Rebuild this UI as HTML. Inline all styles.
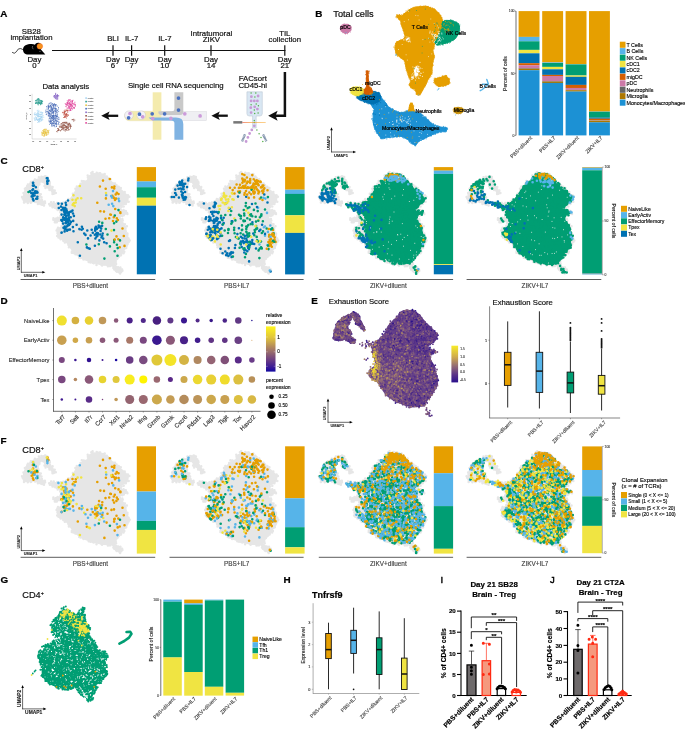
<!DOCTYPE html>
<html><head><meta charset="utf-8"><title>Figure</title>
<style>html,body{margin:0;padding:0;background:#fff}svg{display:block}text{font-family:"Liberation Sans",Arial,sans-serif}</style>
</head><body>
<svg width="685" height="729" viewBox="0 0 685 729">
<rect width="685" height="729" fill="#fff"/>
<g id="pA"><text x="0.3" y="17.1" font-size="9.90" text-anchor="start" font-weight="bold" fill="#000"  stroke="#000" stroke-width="0.24">A</text><path d="M12.1 52.3 q2.2 2.2 4.2 -0.5 q2 -4.2 4.5 -3.2 q1.6 0.6 2.6 1.5" fill="none" stroke="#000" stroke-width="0.7"/><path d="M23 49.5 c0 -4 4 -5.6 8.5 -5.6 c1.5 0 2.6 0.3 3.4 0.8 c0.6 -1.4 2 -2.2 3.6 -2 c1.6 0.2 2.6 1.2 2.8 2.6 c0.5 1.5 0.2 3 -0.6 4 l4.6 5.3 l-17 0 c-3.4 0 -5.3 -2.2 -5.3 -5.1z" fill="#000"/><circle cx="39.8" cy="46.3" r="2.8" fill="#F7941D" stroke="#F26522" stroke-width="0.5"/><circle cx="40" cy="51.2" r="0.45" fill="#fff"/><path d="M32.6 46 q-0.8 1.5 0.6 3.2" stroke="#fff" stroke-width="0.35" fill="none"/><text x="31.3" y="33.8" font-size="7.80" text-anchor="middle" font-weight="normal" fill="#111"  stroke="#111" stroke-width="0.19">SB28</text><text x="31.5" y="40.3" font-size="7.80" text-anchor="middle" font-weight="normal" fill="#111"  stroke="#111" stroke-width="0.19">implantation</text><line x1="52.0" y1="50.5" x2="285.4" y2="50.5" stroke="#111" stroke-width="1.15" /><line x1="113.0" y1="45.2" x2="113.0" y2="55.8" stroke="#111" stroke-width="1.20" /><line x1="131.6" y1="45.2" x2="131.6" y2="55.8" stroke="#111" stroke-width="1.20" /><line x1="164.7" y1="45.2" x2="164.7" y2="55.8" stroke="#111" stroke-width="1.20" /><line x1="211.0" y1="45.2" x2="211.0" y2="55.8" stroke="#111" stroke-width="1.20" /><line x1="284.8" y1="45.2" x2="284.8" y2="55.8" stroke="#111" stroke-width="1.20" /><text x="34.4" y="62.0" font-size="7.80" text-anchor="middle" font-weight="normal" fill="#111"  stroke="#111" stroke-width="0.19">Day</text><text x="34.4" y="68.3" font-size="7.80" text-anchor="middle" font-weight="normal" fill="#111"  stroke="#111" stroke-width="0.19">0</text><text x="113.0" y="62.0" font-size="7.80" text-anchor="middle" font-weight="normal" fill="#111"  stroke="#111" stroke-width="0.19">Day</text><text x="113.0" y="68.3" font-size="7.80" text-anchor="middle" font-weight="normal" fill="#111"  stroke="#111" stroke-width="0.19">6</text><text x="131.6" y="62.0" font-size="7.80" text-anchor="middle" font-weight="normal" fill="#111"  stroke="#111" stroke-width="0.19">Day</text><text x="131.6" y="68.3" font-size="7.80" text-anchor="middle" font-weight="normal" fill="#111"  stroke="#111" stroke-width="0.19">7</text><text x="164.7" y="62.0" font-size="7.80" text-anchor="middle" font-weight="normal" fill="#111"  stroke="#111" stroke-width="0.19">Day</text><text x="164.7" y="68.3" font-size="7.80" text-anchor="middle" font-weight="normal" fill="#111"  stroke="#111" stroke-width="0.19">10</text><text x="211.0" y="62.0" font-size="7.80" text-anchor="middle" font-weight="normal" fill="#111"  stroke="#111" stroke-width="0.19">Day</text><text x="211.0" y="68.3" font-size="7.80" text-anchor="middle" font-weight="normal" fill="#111"  stroke="#111" stroke-width="0.19">14</text><text x="284.8" y="62.0" font-size="7.80" text-anchor="middle" font-weight="normal" fill="#111"  stroke="#111" stroke-width="0.19">Day</text><text x="284.8" y="68.3" font-size="7.80" text-anchor="middle" font-weight="normal" fill="#111"  stroke="#111" stroke-width="0.19">21</text><text x="113.0" y="41.4" font-size="7.80" text-anchor="middle" font-weight="normal" fill="#111"  stroke="#111" stroke-width="0.19">BLI</text><text x="131.6" y="41.4" font-size="7.80" text-anchor="middle" font-weight="normal" fill="#111"  stroke="#111" stroke-width="0.19">IL-7</text><text x="164.9" y="41.4" font-size="7.80" text-anchor="middle" font-weight="normal" fill="#111"  stroke="#111" stroke-width="0.19">IL-7</text><text x="211.4" y="35.7" font-size="7.80" text-anchor="middle" font-weight="normal" fill="#111"  stroke="#111" stroke-width="0.19">Intratumoral</text><text x="211.4" y="42.2" font-size="7.80" text-anchor="middle" font-weight="normal" fill="#111"  stroke="#111" stroke-width="0.19">ZIKV</text><text x="284.8" y="35.7" font-size="7.80" text-anchor="middle" font-weight="normal" fill="#111"  stroke="#111" stroke-width="0.19">TIL</text><text x="284.8" y="42.2" font-size="7.80" text-anchor="middle" font-weight="normal" fill="#111"  stroke="#111" stroke-width="0.19">collection</text><path d="M284.9 72 V115.8 H275" fill="none" stroke="#111" stroke-width="2.5"/><polygon points="268.2,115.7 277.6,110.7 275.6,115.7 277.6,120.7" fill="#111"/><text x="252.8" y="81.3" font-size="7.80" text-anchor="middle" font-weight="normal" fill="#111"  stroke="#111" stroke-width="0.19">FACsort</text><text x="252.8" y="87.6" font-size="7.80" text-anchor="middle" font-weight="normal" fill="#111"  stroke="#111" stroke-width="0.19">CD45-hi</text><path d="M246.9 91.8 h15.4 v21.8 q0 2.4 -2.4 2.4 h-3.7 v12 h-3.6 v-12 h-3.3 q-2.4 0 -2.4 -2.4z" fill="#D9E7F3" stroke="#B4C0CE" stroke-width="0.5"/><path d="M251.4 96.7h0M258.1 96.0h0M251.1 100.9h0M254.3 100.9h0M257.4 100.9h0M254.7 106.8h0M250.8 107.7h0M257.4 109.1h0M251.1 112.6h0M254.3 125.8h0" stroke="#C79AD6" stroke-width="2.80" stroke-linecap="round" fill="none" /><path d="M251.1 93.1h0M255.8 93.1h0M254.9 97.0h0M251.1 104.7h0M256.2 103.9h0M258.4 105.8h0M254.3 110.1h0M258.1 113.1h0M254.7 113.4h0M254.3 120.4h0M254.3 122.6h0" stroke="#55B04A" stroke-width="1.50" stroke-linecap="round" fill="none" /><rect x="233.3" y="121.1" width="9.0" height="2.5" fill="#777" /><defs><linearGradient id="las" x1="0" x2="1"><stop offset="0" stop-color="#E8452C"/><stop offset="0.4" stop-color="#F7941D"/><stop offset="1" stop-color="#FBB040"/></linearGradient></defs><rect x="242.3" y="122" width="23.4" height="0.6" fill="url(#las)"/><path d="M251.8 129.9h0M249.6 133.5h0M247.9 137.4h0M246.1 141.5h0" stroke="#C79AD6" stroke-width="2.80" stroke-linecap="round" fill="none" /><path d="M256.9 129.9h0M259.1 133.8h0M261.0 137.6h0M262.8 141.5h0" stroke="#55B04A" stroke-width="1.50" stroke-linecap="round" fill="none" /><line x1="244.9" y1="134.4" x2="242.1" y2="141.4" stroke="#6F84A0" stroke-width="2.3" stroke-dasharray="0.9 0.45"/><line x1="263.1" y1="134.4" x2="266.4" y2="141.4" stroke="#6F84A0" stroke-width="2.3" stroke-dasharray="0.9 0.45"/><polygon points="211.4,115.7 219.8,111.4 218.0,115.7 219.8,120.0" fill="#111"/><line x1="216.4" y1="115.7" x2="227.8" y2="115.7" stroke="#111" stroke-width="2.30" /><text x="175.8" y="88.4" font-size="7.80" text-anchor="middle" font-weight="normal" fill="#111"  stroke="#111" stroke-width="0.19">Single cell RNA sequencing</text><rect x="158.8" y="111.3" width="47.9" height="9.5" fill="#EFEFF3" stroke="#D0D0D6" stroke-width="0.35"/><path d="M129.3 111.3 H156 V120.8 H129.3 A4.75 4.75 0 0 1 129.3 111.3z" fill="#F4EBAE" stroke="#D8D2A8" stroke-width="0.3"/><rect x="152.7" y="92.3" width="8.7" height="47.4" fill="#F4EBAE" /><path d="M174.4 92.3 H183.3 V112 Q183.3 115 180 115 H160 Q157.5 113.2 158.5 111.3 H172 Q174.4 111.3 174.4 109z" fill="#C9C9C9"/><path d="M174.4 139.7 V123 Q174.4 120.4 171 120.4 H153 Q149.5 119 148.6 117.6 H176 Q183.3 117.6 183.3 124 V139.7z" fill="#80B3E2"/><circle cx="128.9" cy="115.2" r="4.3" fill="#F4F2F6" stroke="#B8B8C0" stroke-width="0.35"/><circle cx="141.3" cy="115.2" r="4.3" fill="#F4F2F6" stroke="#B8B8C0" stroke-width="0.35"/><path d="M178.5 98.1h0M178.5 110.1h0M164.6 113.8h0M152.2 113.8h0M139.5 114.2h0M128.6 117.8h0" stroke="#4A72C0" stroke-width="3.70" stroke-linecap="round" fill="none" /><path d="M130.0 113.5h0M142.7 116.8h0M152.7 118.6h0M170.9 118.3h0M184.8 113.8h0M200.1 115.9h0" stroke="#CC9BDA" stroke-width="3.70" stroke-linecap="round" fill="none" /><polygon points="101.2,115.8 109.6,111.5 107.8,115.8 109.6,120.1" fill="#111"/><line x1="106.2" y1="115.8" x2="118.2" y2="115.8" stroke="#111" stroke-width="2.30" /><text x="65.8" y="88.8" font-size="7.80" text-anchor="middle" font-weight="normal" fill="#111"  stroke="#111" stroke-width="0.19">Data analysis</text><line x1="32.1" y1="93.8" x2="32.1" y2="139.0" stroke="#999" stroke-width="0.30" /><line x1="32.1" y1="139.0" x2="76.6" y2="139.0" stroke="#999" stroke-width="0.30" /><path d="M36.8 102.5h0M36.4 102.1h0M37.0 99.9h0M41.5 103.4h0M42.2 101.2h0M39.0 102.1h0M39.8 103.3h0M35.5 103.0h0M35.9 102.0h0M42.7 101.5h0M38.3 103.3h0M39.3 99.7h0M42.3 101.1h0M41.1 100.7h0M41.4 102.8h0M41.0 102.7h0M40.1 103.0h0M39.0 100.6h0M40.3 104.8h0M40.5 103.5h0M41.8 101.9h0M39.7 103.4h0M41.8 104.1h0M39.1 100.3h0M41.1 103.6h0M37.7 103.3h0M36.0 100.6h0M41.6 100.5h0M38.9 99.3h0M40.7 100.3h0M42.3 103.2h0M38.6 104.8h0M40.4 104.5h0M35.7 100.6h0M40.3 101.3h0M38.4 102.4h0M37.5 101.9h0M41.5 101.2h0M39.9 102.3h0M38.3 98.8h0M35.5 103.3h0M41.1 102.3h0M38.8 98.5h0M37.7 103.7h0M36.4 103.1h0M37.1 100.3h0M41.9 103.1h0M38.6 99.6h0M36.3 103.3h0M41.3 102.4h0M37.6 99.3h0M38.7 102.6h0M39.6 102.8h0M35.6 103.4h0M39.8 103.2h0M40.2 100.5h0M40.8 103.1h0M38.0 98.9h0M37.4 102.7h0M37.0 100.8h0M41.2 101.7h0M39.2 101.2h0M37.9 104.7h0M38.6 101.8h0M39.0 102.1h0M37.3 99.3h0M38.2 100.7h0M41.1 101.9h0M38.5 103.3h0M36.2 100.3h0" stroke="#2A9D8F" stroke-width="0.84" stroke-linecap="round" fill="none" /><path d="M57.4 95.7h0M57.1 97.2h0M55.6 97.4h0M57.9 95.5h0M55.8 93.3h0M57.9 98.9h0M54.0 96.3h0M57.6 95.2h0M54.3 95.5h0M56.7 95.6h0M55.5 98.7h0M54.6 95.7h0M58.2 95.6h0M56.7 98.8h0M55.6 94.4h0M56.3 97.3h0M57.5 98.9h0M55.3 95.7h0M56.6 96.0h0M54.3 97.7h0M56.0 95.7h0M58.8 95.9h0M57.9 97.0h0M55.4 96.9h0M57.2 95.8h0M56.8 97.2h0M55.7 98.4h0M57.7 97.9h0M54.7 96.2h0M55.8 96.5h0M55.6 94.4h0M57.1 94.8h0M57.3 96.1h0M57.1 99.1h0M56.6 98.9h0M57.3 94.6h0M55.0 97.7h0M55.6 93.7h0M53.8 96.2h0M56.8 96.9h0M54.7 95.6h0M57.4 96.6h0M57.8 96.3h0M54.2 97.2h0M54.9 96.1h0" stroke="#8B6BC8" stroke-width="0.84" stroke-linecap="round" fill="none" /><path d="M69.0 100.4h0M70.2 101.9h0M70.3 104.7h0M68.8 99.8h0M68.0 102.8h0M70.0 110.1h0M72.0 101.6h0M68.8 100.1h0M69.9 104.2h0M72.8 105.0h0M70.7 110.4h0M68.0 101.5h0M74.1 104.6h0M70.5 104.7h0M70.4 108.5h0M69.4 106.8h0M67.4 103.8h0M74.3 104.9h0M67.4 102.5h0M72.2 108.5h0M69.9 104.3h0M66.4 104.6h0M68.1 102.2h0M70.2 105.6h0M72.2 109.6h0M71.0 104.1h0M74.4 107.7h0M71.8 104.6h0M70.3 101.4h0M68.9 103.9h0M70.4 106.0h0M66.3 106.8h0M67.7 103.0h0M75.3 104.8h0M74.1 108.2h0M68.6 106.8h0M67.0 102.5h0M70.9 110.5h0M71.2 105.7h0M69.2 104.0h0M73.4 107.3h0M68.0 108.0h0M70.3 100.0h0M71.7 100.8h0M68.4 106.0h0M67.2 100.7h0M69.9 99.7h0M74.3 108.2h0M67.1 103.4h0M70.6 104.3h0M72.4 106.0h0M69.7 107.2h0M69.2 105.9h0M74.9 102.2h0M71.0 102.7h0M74.8 103.2h0M68.2 107.6h0M71.7 108.6h0M72.4 102.0h0M72.4 103.3h0M67.2 103.9h0M70.1 103.9h0M71.2 105.1h0M74.0 107.7h0M69.1 103.6h0M65.7 104.6h0M73.9 104.2h0M69.8 100.3h0M72.5 100.6h0M73.1 100.3h0M66.2 104.1h0M68.8 105.1h0M69.1 106.8h0M69.2 110.7h0M73.3 107.9h0M72.7 106.2h0M71.7 105.6h0M70.5 109.7h0M71.5 108.0h0M69.1 108.5h0M70.2 110.3h0M65.2 103.5h0M75.2 106.5h0M66.7 105.3h0M69.4 103.1h0M67.1 108.4h0M71.1 106.9h0M72.1 101.5h0M70.2 109.5h0M75.2 104.7h0M72.3 106.3h0M67.4 105.4h0M72.0 102.6h0M71.5 104.2h0M67.2 104.5h0M69.6 107.9h0M65.8 106.4h0M71.9 107.3h0M72.5 101.2h0M69.4 102.6h0M75.5 105.3h0M68.2 103.5h0M69.1 108.3h0M70.2 107.0h0M73.7 103.4h0M71.0 104.0h0M68.6 101.1h0M72.5 101.6h0M71.0 106.5h0M72.6 103.4h0" stroke="#E0409A" stroke-width="0.84" stroke-linecap="round" fill="none" /><path d="M39.2 111.0h0M38.2 116.9h0M43.0 115.4h0M41.2 117.1h0M40.6 118.5h0M40.9 112.7h0M41.5 114.2h0M41.8 120.4h0M38.2 111.6h0M37.8 114.8h0M35.0 114.7h0M37.4 120.0h0M41.6 120.8h0M37.6 114.8h0M40.8 112.6h0M37.8 122.5h0M39.7 114.4h0M41.4 116.8h0M37.3 113.4h0M36.2 119.5h0M40.1 120.4h0M37.1 115.4h0M36.5 115.0h0M38.5 114.6h0M35.7 116.8h0M38.1 111.2h0M41.0 111.7h0M34.2 114.0h0M34.6 118.9h0M38.1 110.2h0M38.8 113.2h0M40.8 119.1h0M42.5 118.0h0M37.9 119.9h0M42.8 112.6h0M35.1 119.5h0M35.0 114.3h0M41.4 119.4h0M38.9 119.5h0M42.2 113.2h0M38.9 116.0h0M38.5 119.9h0M36.8 117.5h0M40.5 114.7h0M37.9 116.1h0M40.2 121.5h0M40.1 116.6h0M42.6 112.8h0M37.2 110.7h0M39.3 119.3h0M39.5 118.3h0M36.5 119.7h0M39.6 119.2h0M39.0 121.6h0M35.6 118.0h0M37.0 115.2h0M40.9 117.7h0M38.5 121.3h0M39.1 116.5h0M35.1 120.4h0M35.0 115.1h0M39.0 112.2h0M37.7 112.4h0M39.0 114.2h0M35.0 117.9h0M39.3 120.9h0M37.8 116.1h0M34.8 114.0h0M41.9 117.0h0M39.1 122.2h0M35.8 114.4h0M40.7 119.0h0M36.4 113.8h0M42.8 119.6h0M41.3 120.2h0M41.5 117.9h0M39.1 116.3h0M40.0 116.4h0M41.1 116.9h0M36.9 118.4h0M43.8 117.3h0M39.0 119.1h0M34.1 118.1h0M42.9 115.9h0M38.1 115.9h0M41.6 112.7h0M35.0 120.3h0M39.6 120.0h0M40.0 118.8h0M38.2 120.0h0M40.1 114.6h0M37.9 113.3h0M39.3 119.4h0M38.3 113.7h0M41.4 114.6h0M39.2 116.3h0M42.7 119.8h0M37.9 116.4h0M40.4 116.9h0M37.6 119.8h0M38.2 113.3h0M40.0 118.8h0M36.7 118.2h0M38.2 119.7h0M42.1 116.9h0M41.0 115.3h0M39.4 120.7h0M40.2 114.4h0M36.6 118.1h0M37.3 120.2h0M36.5 119.1h0M38.8 118.2h0M40.9 119.7h0M38.5 116.0h0M41.9 117.9h0M36.1 114.5h0M41.8 116.6h0M38.7 121.6h0M35.0 112.6h0M42.6 114.2h0" stroke="#A6D4F2" stroke-width="0.84" stroke-linecap="round" fill="none" /><path d="M48.9 114.2h0M54.9 107.7h0M54.9 115.5h0M54.3 110.8h0M51.4 107.8h0M49.6 113.2h0M47.0 108.9h0M55.1 110.7h0M50.0 117.0h0M58.1 109.7h0M47.4 111.5h0M52.2 105.4h0M51.0 113.7h0M53.8 111.9h0M55.3 114.1h0M55.4 117.6h0M52.2 116.4h0M51.5 107.1h0M49.7 116.8h0M48.6 108.5h0M55.2 104.7h0M50.9 108.0h0M47.0 106.8h0M50.5 106.1h0M58.6 107.7h0M52.8 112.3h0M54.0 111.0h0M48.0 109.7h0M54.0 104.0h0M48.4 106.1h0M50.7 105.3h0M53.2 112.9h0M50.4 111.2h0M50.2 109.8h0M52.6 116.6h0M53.6 111.4h0M53.2 112.6h0M53.7 118.5h0M53.9 106.6h0M49.4 106.4h0M55.9 104.8h0M52.0 108.1h0M52.9 112.6h0M50.8 116.3h0M52.1 110.8h0M53.2 104.5h0M54.9 104.6h0M55.7 109.3h0M52.6 110.4h0M49.2 113.6h0M48.8 116.1h0M55.1 108.7h0M52.0 107.3h0M51.4 108.4h0M50.2 115.2h0M48.8 113.3h0M53.7 119.0h0M56.5 116.6h0M52.9 115.7h0M51.7 117.6h0M53.8 115.2h0M49.7 107.3h0M48.0 105.4h0M48.0 111.2h0M50.5 105.8h0M49.9 113.1h0M51.1 110.7h0M48.4 107.5h0M45.8 112.4h0M51.2 102.9h0M56.5 117.0h0M55.4 105.3h0M53.6 105.6h0M55.8 106.5h0M48.0 112.5h0M51.6 117.6h0M53.2 106.1h0M55.0 105.1h0M52.7 108.5h0M55.9 111.6h0M53.5 113.4h0M48.5 106.0h0M53.9 116.9h0M53.8 117.3h0M50.3 114.4h0M48.1 107.0h0M50.9 106.1h0M56.6 108.9h0M57.4 110.5h0M51.1 116.0h0M46.8 114.6h0M45.7 111.1h0M52.5 117.7h0M50.7 118.2h0M55.5 108.6h0M50.8 111.6h0M46.2 114.4h0M50.8 107.9h0M54.2 108.9h0M54.4 103.8h0M57.4 115.8h0M48.3 115.7h0M57.7 106.1h0M48.5 111.9h0M50.7 105.3h0M56.1 110.4h0M50.5 103.0h0M48.3 115.7h0M53.3 115.8h0M52.3 109.5h0M48.3 106.6h0M51.8 104.0h0M58.7 111.6h0M55.3 111.6h0M56.4 116.1h0M55.6 115.4h0M49.1 110.5h0M51.3 112.1h0M48.5 109.0h0M53.8 108.7h0M48.7 113.9h0M52.1 111.7h0M51.9 104.4h0M53.7 112.1h0M48.8 105.1h0M55.3 113.2h0M49.8 115.4h0M55.9 109.0h0M49.7 113.3h0M49.3 114.8h0M49.1 113.4h0M56.0 113.1h0M52.3 113.3h0M49.5 111.0h0M56.0 111.3h0M46.6 106.7h0M49.7 113.8h0M50.0 116.1h0M53.7 111.9h0M53.5 105.9h0M51.8 118.0h0M53.6 107.7h0M53.9 104.8h0M56.2 112.7h0M52.2 110.1h0M51.9 110.5h0M49.5 103.3h0M53.0 105.6h0M48.7 112.8h0M52.5 109.6h0M50.0 106.0h0M49.2 118.4h0M52.6 115.7h0M56.4 116.5h0M48.6 112.4h0M46.6 111.6h0M56.7 115.7h0M53.4 115.5h0M48.2 108.1h0M53.8 107.0h0M55.4 110.3h0M51.6 117.9h0M57.2 114.3h0M47.0 113.3h0M55.4 108.2h0M52.0 109.4h0M57.0 112.3h0M51.6 113.2h0M52.8 108.8h0M53.5 116.4h0M53.2 104.5h0M51.3 106.6h0M50.7 118.3h0M52.0 111.8h0M51.7 114.8h0M51.7 115.3h0M54.1 108.5h0M48.7 106.9h0M48.9 103.9h0M57.7 114.1h0M52.3 116.6h0M56.0 108.9h0M53.5 119.6h0M51.6 109.5h0M50.8 110.0h0M53.0 109.8h0M57.2 112.1h0M55.5 105.2h0M49.6 110.4h0M49.7 110.7h0M50.4 111.2h0M56.9 110.2h0M50.3 116.6h0M58.5 107.9h0M56.0 111.5h0M48.6 106.8h0M46.0 110.0h0M56.6 104.9h0M54.3 105.0h0M52.6 103.5h0" stroke="#4A6DB8" stroke-width="0.84" stroke-linecap="round" fill="none" /><path d="M56.1 115.0h0M53.5 123.8h0M53.9 125.3h0M53.0 118.3h0M55.3 123.1h0M55.1 118.4h0M54.2 125.7h0M55.3 123.5h0M54.0 116.0h0M58.6 123.6h0M49.6 124.3h0M59.0 117.9h0M55.4 116.4h0M52.2 122.7h0M50.0 121.8h0M53.9 121.7h0M56.6 126.2h0M51.9 126.2h0M56.7 120.6h0M58.2 117.6h0M53.3 122.9h0M56.2 122.0h0M54.1 123.3h0M50.7 119.6h0M55.7 120.7h0M53.1 125.6h0M55.8 123.5h0M55.5 115.4h0M56.7 118.5h0M55.1 120.6h0M56.5 122.1h0M54.7 122.1h0M50.1 121.1h0M57.4 121.3h0M51.9 118.8h0M53.6 123.7h0M50.9 123.1h0M57.0 119.5h0M55.0 119.6h0M54.0 122.8h0M53.2 119.9h0M57.9 124.1h0M49.0 121.1h0M58.1 121.4h0M52.5 118.4h0M50.6 121.5h0M53.4 121.3h0M56.8 117.0h0M50.5 120.7h0M50.8 121.8h0M51.7 121.1h0M57.6 116.4h0M52.5 115.7h0M55.2 118.8h0M55.0 126.8h0M51.4 124.9h0M58.8 119.3h0M58.9 124.6h0M56.3 124.6h0M53.4 119.7h0M57.8 116.6h0M49.5 118.3h0M52.5 123.2h0M54.8 118.2h0M53.1 117.4h0M55.8 124.6h0M52.2 125.9h0M58.9 119.5h0M52.9 123.4h0M59.1 122.1h0M54.5 118.8h0M54.7 124.1h0M52.6 124.1h0M51.8 123.1h0M55.6 120.8h0M54.4 116.2h0M55.5 119.2h0M52.5 120.5h0M56.7 124.9h0M54.1 117.6h0M53.4 117.5h0M49.3 121.9h0M56.6 121.9h0M56.3 123.4h0M50.8 123.3h0M58.9 122.5h0M54.3 121.2h0M53.7 121.1h0M50.2 122.2h0M56.6 123.6h0M50.8 121.2h0M54.2 125.9h0M52.0 123.8h0M52.0 119.0h0M51.4 121.8h0M51.4 124.9h0M51.0 123.5h0M53.4 114.9h0M50.7 123.4h0M49.0 120.0h0M57.8 121.1h0M52.1 120.0h0M56.6 126.5h0M56.3 116.4h0M53.4 115.7h0M54.1 125.7h0M56.2 120.6h0M53.7 115.6h0M51.2 120.7h0M57.7 118.6h0" stroke="#4A6DB8" stroke-width="0.84" stroke-linecap="round" fill="none" /><path d="M64.8 114.5h0M62.4 112.7h0M64.6 117.4h0M65.1 109.9h0M65.5 116.6h0M64.4 116.9h0M67.7 110.6h0M66.4 114.2h0M65.6 117.1h0M67.0 110.2h0M65.5 111.3h0M63.9 114.5h0M64.1 112.3h0M66.6 118.2h0M64.4 116.7h0M67.8 112.1h0M65.9 111.6h0M66.1 117.1h0M68.5 115.3h0M63.9 113.0h0M63.6 117.5h0M66.9 114.4h0M66.1 115.6h0M64.9 117.1h0M64.9 116.3h0M65.6 114.7h0M65.9 115.0h0M64.8 113.4h0M64.1 110.9h0M64.1 115.4h0M64.1 112.7h0M65.8 114.5h0M66.4 110.5h0M67.3 110.2h0M65.4 111.0h0M68.3 110.2h0M67.2 114.8h0M64.7 113.4h0M66.4 113.8h0M66.7 116.1h0M62.8 112.3h0M64.3 112.2h0M67.7 111.9h0M64.0 113.0h0M66.8 114.0h0M67.6 116.4h0M65.0 113.3h0M66.7 110.0h0M68.3 115.0h0M66.0 114.3h0M65.4 115.7h0M64.5 111.1h0M64.5 112.6h0M64.8 112.1h0M66.3 116.0h0M66.8 114.9h0M67.5 110.5h0M64.6 111.5h0M67.2 115.3h0M66.4 114.0h0" stroke="#C4574A" stroke-width="0.84" stroke-linecap="round" fill="none" /><path d="M63.8 127.5h0M66.5 129.4h0M63.1 126.1h0M70.5 128.6h0M59.5 127.0h0M66.2 122.7h0M66.6 127.8h0M67.9 124.7h0M68.0 123.5h0M67.6 128.1h0M66.8 130.2h0M62.2 126.2h0M61.7 126.4h0M63.5 125.4h0M68.4 124.5h0M66.7 126.3h0M61.9 129.3h0M64.7 128.2h0M63.6 122.4h0M69.1 123.8h0M64.7 122.4h0M70.4 125.1h0M70.5 125.8h0M67.4 128.6h0M65.4 125.4h0M63.4 130.0h0M69.1 123.1h0M64.6 124.7h0M62.3 125.6h0M68.3 127.4h0M64.5 125.6h0M60.7 126.4h0M62.4 127.8h0M65.0 123.3h0M66.7 122.3h0M65.6 127.1h0M64.4 122.4h0M67.1 127.0h0M67.0 122.9h0M64.1 127.4h0M65.5 127.2h0M63.1 125.9h0M64.1 127.2h0M68.0 124.0h0M62.5 122.8h0M63.0 124.3h0M64.6 130.0h0M66.7 126.7h0M70.6 126.6h0M59.3 126.8h0M61.5 126.8h0M66.2 126.6h0M64.6 125.4h0M60.8 124.1h0M61.4 129.8h0M68.4 124.6h0M69.7 124.1h0M66.1 129.3h0M68.6 125.9h0M65.8 126.6h0M69.7 124.1h0M61.9 125.3h0M67.1 130.4h0M69.5 125.8h0M70.1 124.2h0M68.6 128.9h0M65.3 130.0h0M64.9 122.7h0M63.5 122.8h0M67.2 127.1h0M63.1 124.6h0M70.2 126.3h0M61.6 124.0h0M69.3 123.4h0M62.5 128.8h0M63.6 128.1h0M62.5 122.9h0M65.7 129.2h0M67.9 125.5h0M68.4 129.3h0M65.2 131.2h0M63.0 129.2h0M62.7 127.4h0M61.7 123.5h0M66.4 126.8h0M68.9 126.6h0M68.4 127.8h0M61.8 129.7h0M69.5 129.7h0M66.4 127.3h0M70.4 125.9h0M65.0 122.9h0M64.0 125.1h0M60.1 125.8h0M66.8 122.4h0M67.5 126.9h0M61.4 127.5h0M66.2 123.6h0M70.1 126.9h0M67.9 127.0h0M63.3 124.0h0M62.6 126.9h0M66.4 127.8h0M71.6 126.3h0M68.5 130.1h0M65.7 122.2h0M66.9 128.3h0M68.8 125.1h0M65.5 129.7h0M61.4 127.7h0M60.5 127.3h0M63.8 126.0h0M65.1 127.1h0M70.8 125.0h0M63.5 128.6h0M67.2 124.3h0M70.6 127.4h0M65.8 125.7h0M65.8 122.8h0M62.9 128.7h0" stroke="#94574A" stroke-width="0.84" stroke-linecap="round" fill="none" /><path d="M46.0 129.1h0M46.7 132.2h0M45.5 132.1h0M47.1 130.9h0M47.2 131.0h0M45.0 134.6h0M45.6 132.5h0M44.4 134.0h0M42.5 134.2h0M45.0 132.8h0M43.0 132.9h0M44.7 134.4h0M45.0 132.5h0M42.8 133.6h0M45.5 130.2h0M45.4 129.8h0M47.6 130.6h0M41.8 132.1h0M45.6 131.8h0M42.4 130.8h0M42.7 135.5h0M46.8 135.1h0M44.1 135.8h0M44.9 129.1h0M48.0 134.0h0M48.0 131.8h0M45.2 133.0h0M46.9 134.7h0M46.5 134.1h0M43.2 133.5h0M48.2 131.2h0M42.0 133.2h0M47.3 132.6h0M46.1 135.5h0M45.5 133.6h0M45.9 133.4h0M44.7 129.9h0M42.9 132.5h0M44.3 135.8h0M46.3 134.0h0M48.7 130.8h0M44.4 131.8h0M46.0 132.4h0M41.8 132.9h0M43.7 129.9h0M45.1 131.9h0M46.1 130.9h0M44.0 130.4h0M43.9 133.8h0M42.8 133.9h0M48.5 132.8h0M43.5 131.5h0M44.6 131.6h0M44.0 129.7h0M46.7 129.4h0M43.2 130.6h0M45.3 132.4h0M48.4 132.0h0M48.0 132.4h0M46.7 133.6h0M43.7 133.6h0M44.7 134.9h0M41.7 134.9h0M46.1 135.1h0M43.9 136.2h0M43.3 132.4h0M44.3 133.6h0M44.6 129.8h0M46.3 132.5h0M48.8 132.8h0M43.6 131.4h0M43.7 132.6h0M48.0 134.1h0M44.1 135.6h0M49.0 130.3h0" stroke="#E8C440" stroke-width="0.84" stroke-linecap="round" fill="none" /><path d="M73.8 121.3h0M74.0 120.1h0M73.8 119.2h0M74.9 120.1h0M73.3 120.0h0M72.0 119.7h0M73.0 119.5h0M72.5 119.6h0" stroke="#94574A" stroke-width="0.84" stroke-linecap="round" fill="none" /><path d="M57.7 131.8h0M58.7 130.4h0M58.4 128.5h0M58.4 129.9h0M59.7 130.0h0M58.4 130.2h0M56.6 131.6h0M58.3 130.0h0M58.7 129.6h0M57.6 128.5h0M60.5 130.9h0M57.6 130.4h0M60.2 130.5h0M58.0 130.4h0" stroke="#94574A" stroke-width="0.84" stroke-linecap="round" fill="none" /><rect x="85.3" y="97.3" width="1.6" height="1.6" fill="#A6D4F2" /><text x="87.8" y="98.8" font-size="1.90" text-anchor="start" font-weight="normal" fill="#555"  stroke="#555" stroke-width="0.05">cluster</text><rect x="85.3" y="100.8" width="1.6" height="1.6" fill="#2A9D8F" /><text x="87.8" y="102.3" font-size="1.90" text-anchor="start" font-weight="normal" fill="#555"  stroke="#555" stroke-width="0.05">cluster</text><rect x="85.3" y="104.4" width="1.6" height="1.6" fill="#E8C440" /><text x="87.8" y="105.9" font-size="1.90" text-anchor="start" font-weight="normal" fill="#555"  stroke="#555" stroke-width="0.05">cluster</text><rect x="85.3" y="107.9" width="1.6" height="1.6" fill="#4A6DB8" /><text x="87.8" y="109.4" font-size="1.90" text-anchor="start" font-weight="normal" fill="#555"  stroke="#555" stroke-width="0.05">cluster</text><rect x="85.3" y="111.5" width="1.6" height="1.6" fill="#8B6BC8" /><text x="87.8" y="113.0" font-size="1.90" text-anchor="start" font-weight="normal" fill="#555"  stroke="#555" stroke-width="0.05">cluster</text><rect x="85.3" y="115.0" width="1.6" height="1.6" fill="#94574A" /><text x="87.8" y="116.5" font-size="1.90" text-anchor="start" font-weight="normal" fill="#555"  stroke="#555" stroke-width="0.05">cluster</text><rect x="85.3" y="118.6" width="1.6" height="1.6" fill="#C4574A" /><text x="87.8" y="120.1" font-size="1.90" text-anchor="start" font-weight="normal" fill="#555"  stroke="#555" stroke-width="0.05">cluster</text><rect x="85.3" y="122.1" width="1.6" height="1.6" fill="#E0409A" /><text x="87.8" y="123.6" font-size="1.90" text-anchor="start" font-weight="normal" fill="#555"  stroke="#555" stroke-width="0.05">cluster</text><text x="30.8" y="95.5" font-size="1.60" text-anchor="end" font-weight="normal" fill="#555"  stroke="#555" stroke-width="0.04">30</text><text x="33.0" y="141.6" font-size="1.60" text-anchor="middle" font-weight="normal" fill="#555"  stroke="#555" stroke-width="0.04">-30</text><text x="30.8" y="102.1" font-size="1.60" text-anchor="end" font-weight="normal" fill="#555"  stroke="#555" stroke-width="0.04">20</text><text x="40.0" y="141.6" font-size="1.60" text-anchor="middle" font-weight="normal" fill="#555"  stroke="#555" stroke-width="0.04">-20</text><text x="30.8" y="108.7" font-size="1.60" text-anchor="end" font-weight="normal" fill="#555"  stroke="#555" stroke-width="0.04">10</text><text x="47.0" y="141.6" font-size="1.60" text-anchor="middle" font-weight="normal" fill="#555"  stroke="#555" stroke-width="0.04">-10</text><text x="30.8" y="115.3" font-size="1.60" text-anchor="end" font-weight="normal" fill="#555"  stroke="#555" stroke-width="0.04">0</text><text x="54.0" y="141.6" font-size="1.60" text-anchor="middle" font-weight="normal" fill="#555"  stroke="#555" stroke-width="0.04">0</text><text x="30.8" y="121.9" font-size="1.60" text-anchor="end" font-weight="normal" fill="#555"  stroke="#555" stroke-width="0.04">-10</text><text x="61.0" y="141.6" font-size="1.60" text-anchor="middle" font-weight="normal" fill="#555"  stroke="#555" stroke-width="0.04">10</text><text x="30.8" y="128.5" font-size="1.60" text-anchor="end" font-weight="normal" fill="#555"  stroke="#555" stroke-width="0.04">-20</text><text x="68.0" y="141.6" font-size="1.60" text-anchor="middle" font-weight="normal" fill="#555"  stroke="#555" stroke-width="0.04">20</text><text x="30.8" y="135.1" font-size="1.60" text-anchor="end" font-weight="normal" fill="#555"  stroke="#555" stroke-width="0.04">-30</text><text x="75.0" y="141.6" font-size="1.60" text-anchor="middle" font-weight="normal" fill="#555"  stroke="#555" stroke-width="0.04">30</text><text x="54.0" y="145.0" font-size="1.90" text-anchor="middle" font-weight="normal" fill="#555"  stroke="#555" stroke-width="0.05">tSNE_1</text><text transform="translate(26.5,116.0) rotate(-90)" font-size="1.90" text-anchor="middle" font-weight="normal" fill="#555" stroke="#555" stroke-width="0.05">tSNE_2</text></g>
<g id="pB"><text x="315.3" y="17.4" font-size="9.90" text-anchor="start" font-weight="bold" fill="#000"  stroke="#000" stroke-width="0.24">B</text><text x="333.3" y="17.2" font-size="9.20" text-anchor="start" font-weight="normal" fill="#111"  stroke="#111" stroke-width="0.22">Total cells</text><polygon points="374.2,99.2 379.7,96.5 384.3,101.1 387.9,106.5 393.4,110.2 399.8,112.9 405.3,112.0 408.9,110.2 415.3,112.0 420.8,113.8 426.2,118.4 431.7,123.9 438.1,126.6 447.2,127.9 446.3,131.2 439.0,132.1 431.7,134.8 424.4,138.5 418.9,141.2 415.3,145.4 411.6,143.0 408.0,139.4 402.5,136.6 395.2,136.3 387.9,137.6 381.5,138.5 377.9,133.9 374.2,127.5 373.0,120.2 373.3,113.8 374.2,109.3 371.5,104.7 368.8,101.1" fill="#1C91D4" stroke="#1C91D4" stroke-width="1.1" stroke-linejoin="round" stroke-dasharray="0.1 1.0" stroke-linecap="round"/><path d="M374.8 98.1h0M377.1 98.9h0M378.0 97.0h0M376.1 98.6h0M378.3 98.0h0M375.5 98.8h0M379.6 95.4h0M378.1 97.7h0M378.0 98.8h0M376.8 99.1h0M380.8 96.8h0M381.9 99.5h0M381.6 97.6h0M380.9 97.2h0M384.9 100.3h0M382.4 99.5h0M379.2 97.2h0M381.6 96.9h0M381.2 98.8h0M382.0 98.2h0M380.6 97.1h0M387.3 106.5h0M386.3 103.7h0M385.8 104.1h0M385.2 102.5h0M387.2 106.7h0M385.6 102.9h0M387.3 105.0h0M386.2 103.7h0M386.4 107.2h0M386.8 105.7h0M385.8 104.0h0M392.8 109.9h0M392.4 108.8h0M392.9 109.7h0M389.2 107.8h0M387.7 107.8h0M393.3 109.5h0M389.9 107.3h0M392.3 109.3h0M392.8 108.5h0M390.6 109.1h0M392.3 110.3h0M395.2 110.9h0M397.9 112.0h0M396.5 111.0h0M397.1 112.3h0M399.8 112.6h0M394.1 110.5h0M396.9 112.3h0M398.1 112.5h0M395.1 111.1h0M394.7 111.1h0M397.8 112.1h0M398.6 111.5h0M404.7 112.2h0M400.2 112.5h0M403.7 113.1h0M402.0 112.8h0M401.8 112.4h0M401.3 112.1h0M399.8 112.4h0M404.3 112.2h0M402.9 112.2h0M406.1 110.5h0M405.8 112.9h0M405.8 111.9h0M408.3 109.9h0M408.3 111.0h0M406.3 111.1h0M406.7 111.4h0M411.7 111.8h0M414.0 111.1h0M409.9 111.0h0M413.2 111.3h0M411.1 111.1h0M414.7 111.0h0M413.2 110.6h0M413.2 111.1h0M414.2 112.4h0M415.8 111.3h0M408.8 110.6h0M417.9 113.3h0M415.3 113.4h0M419.1 113.4h0M420.4 113.4h0M416.6 112.0h0M417.2 112.3h0M416.9 112.2h0M419.3 114.0h0M415.9 113.4h0M417.1 113.2h0M422.6 115.6h0M422.8 116.4h0M421.4 112.8h0M425.3 117.1h0M420.3 113.5h0M422.8 115.0h0M421.1 114.8h0M425.5 118.1h0M425.4 116.8h0M421.2 114.6h0M423.9 117.3h0M426.4 117.2h0M426.1 118.4h0M431.1 122.4h0M428.2 119.8h0M429.1 121.3h0M430.4 123.1h0M427.9 121.1h0M431.3 123.4h0M428.9 120.9h0M427.9 119.9h0M428.6 120.4h0M428.1 120.0h0M428.5 121.8h0M430.0 122.3h0M437.0 126.3h0M433.2 124.7h0M432.7 123.7h0M433.3 123.5h0M437.3 126.0h0M437.2 125.6h0M438.1 126.3h0M438.6 126.1h0M431.3 124.5h0M435.6 124.7h0M433.4 124.0h0M437.9 128.2h0M443.3 126.4h0M446.0 127.9h0M442.1 127.7h0M445.3 127.9h0M437.7 127.0h0M438.2 126.3h0M439.7 126.4h0M446.0 127.7h0M439.6 127.3h0M445.1 126.8h0M439.9 127.2h0M442.5 127.9h0M443.3 127.4h0M443.7 126.5h0M445.3 127.5h0M447.7 129.2h0M445.0 128.9h0M447.2 129.4h0M446.3 130.6h0M447.2 128.5h0M446.2 129.9h0M441.6 130.7h0M440.5 132.1h0M440.9 130.7h0M445.5 130.4h0M445.5 132.0h0M445.5 130.9h0M441.2 132.2h0M443.9 131.4h0M444.5 130.9h0M441.3 132.0h0M446.1 131.6h0M444.1 132.3h0M435.1 134.0h0M434.1 133.9h0M431.4 135.3h0M434.0 134.2h0M433.1 133.7h0M435.4 134.4h0M438.5 131.7h0M436.8 132.3h0M438.1 132.3h0M433.0 134.7h0M437.8 132.8h0M437.1 131.7h0M437.9 133.1h0M430.1 135.8h0M430.0 134.9h0M431.1 135.9h0M431.2 135.9h0M424.9 137.7h0M431.5 135.3h0M424.4 138.9h0M430.3 135.0h0M425.8 137.5h0M426.2 138.9h0M425.9 137.0h0M430.1 136.1h0M426.2 137.8h0M431.3 135.2h0M422.9 138.5h0M423.5 139.1h0M420.4 140.4h0M422.8 139.1h0M420.2 139.9h0M421.1 140.3h0M421.5 140.3h0M423.9 138.7h0M423.7 139.1h0M419.2 141.5h0M417.7 141.7h0M415.7 144.2h0M417.1 141.8h0M415.9 144.2h0M415.9 144.7h0M416.6 143.2h0M415.7 145.0h0M415.1 145.9h0M415.7 145.8h0M412.9 144.3h0M411.7 142.9h0M413.2 142.7h0M412.9 143.4h0M411.3 143.6h0M412.2 144.2h0M414.6 145.1h0M411.4 142.5h0M410.0 141.2h0M409.8 141.1h0M409.7 142.2h0M409.4 142.1h0M410.7 143.3h0M409.0 139.9h0M409.0 141.5h0M408.9 140.3h0M402.4 137.4h0M403.3 138.1h0M407.8 139.6h0M406.1 138.6h0M403.9 137.8h0M405.6 137.0h0M405.0 138.5h0M407.9 138.9h0M406.7 139.2h0M404.2 136.5h0M397.2 136.9h0M399.3 137.0h0M396.5 137.0h0M395.0 136.5h0M397.1 137.1h0M396.2 135.5h0M401.8 136.0h0M396.2 136.9h0M401.9 135.8h0M402.2 136.9h0M397.7 136.3h0M396.2 136.2h0M390.5 137.6h0M391.5 137.1h0M393.6 137.4h0M394.7 137.1h0M393.7 136.7h0M392.9 137.2h0M394.2 136.4h0M394.8 136.8h0M392.5 137.7h0M389.5 137.3h0M389.9 137.9h0M388.9 137.0h0M384.3 137.9h0M384.3 138.1h0M382.9 138.9h0M386.2 137.2h0M384.5 138.5h0M381.9 137.7h0M386.8 139.1h0M385.8 137.5h0M383.3 137.5h0M383.0 138.8h0M384.9 137.2h0M380.4 136.7h0M381.3 138.9h0M380.0 136.1h0M377.4 133.4h0M378.7 135.6h0M381.0 138.6h0M380.1 137.0h0M379.4 135.3h0M380.4 138.5h0M380.8 137.1h0M375.6 129.3h0M378.6 133.1h0M376.6 130.3h0M376.5 133.4h0M376.5 131.0h0M376.5 132.3h0M375.1 131.8h0M376.5 131.4h0M376.1 130.9h0M377.1 132.1h0M374.6 129.4h0M376.9 131.3h0M373.7 123.1h0M373.6 124.2h0M373.5 124.1h0M373.2 123.8h0M374.0 121.3h0M373.6 124.4h0M373.1 121.3h0M373.5 125.0h0M373.9 123.2h0M372.9 122.2h0M373.3 120.4h0M374.0 124.0h0M371.7 118.9h0M372.9 120.4h0M373.9 114.2h0M373.7 115.1h0M373.0 119.7h0M371.8 119.0h0M372.6 118.4h0M372.7 114.0h0M373.3 114.1h0M372.1 115.9h0M372.7 114.1h0M373.5 113.2h0M373.5 112.9h0M373.1 110.6h0M374.2 111.0h0M373.0 113.2h0M375.0 108.9h0M374.1 110.7h0M373.4 112.5h0M372.9 107.0h0M373.8 107.9h0M372.3 106.5h0M372.0 104.9h0M372.5 107.4h0M374.1 108.6h0M372.8 106.5h0M374.2 108.6h0M371.4 105.8h0M369.8 101.8h0M369.8 101.2h0M369.6 103.6h0M370.0 103.9h0M369.2 102.4h0M371.2 104.4h0M368.9 101.3h0M370.4 104.0h0M370.4 100.4h0M371.0 100.8h0M372.6 101.1h0M372.6 101.2h0M373.0 100.5h0M369.1 101.3h0M373.8 99.8h0M370.0 100.4h0M373.0 100.1h0M373.5 100.1h0" stroke="#1C91D4" stroke-width="0.76" stroke-linecap="round" fill="none" /><polygon points="356.5,95.6 360.5,93.8 366.9,92.8 374.2,91.4 378.8,92.8 381.0,96.5 379.7,100.1 376.1,102.9 371.5,103.8 366.0,102.3 360.5,100.1 357.3,98.0" fill="#0072B2" stroke="#0072B2" stroke-width="1.1" stroke-linejoin="round" stroke-dasharray="0.1 1.0" stroke-linecap="round"/><path d="M358.6 94.2h0M359.0 94.7h0M356.0 95.1h0M360.2 94.8h0M357.3 94.6h0M357.9 94.9h0M357.6 94.8h0M355.4 95.7h0M366.4 93.1h0M366.5 93.0h0M361.3 93.7h0M360.5 94.5h0M363.1 94.2h0M363.1 92.8h0M364.2 92.9h0M365.6 92.4h0M364.3 93.4h0M366.5 92.1h0M364.4 92.4h0M370.6 92.1h0M368.8 91.9h0M370.9 91.6h0M372.1 91.1h0M367.1 92.8h0M369.8 93.0h0M368.1 92.4h0M368.0 91.4h0M367.0 92.4h0M371.6 92.0h0M368.0 92.3h0M372.0 92.6h0M378.7 93.6h0M378.8 92.6h0M376.6 93.1h0M375.1 91.3h0M378.8 92.6h0M374.7 92.1h0M377.5 93.1h0M376.0 92.8h0M380.0 94.4h0M380.4 95.7h0M378.4 92.3h0M379.4 93.5h0M379.3 92.8h0M379.9 93.5h0M379.9 96.8h0M380.2 96.9h0M379.7 98.9h0M379.6 99.9h0M380.6 97.2h0M380.9 100.1h0M380.0 98.8h0M380.1 98.0h0M375.8 103.3h0M378.4 101.2h0M377.1 102.7h0M377.0 101.8h0M378.4 101.7h0M378.2 100.8h0M377.9 100.9h0M378.0 102.4h0M373.0 102.5h0M372.8 103.6h0M371.2 103.9h0M375.2 102.6h0M372.3 103.9h0M374.7 102.3h0M377.6 103.0h0M375.1 103.4h0M371.2 103.0h0M368.4 102.8h0M370.5 102.7h0M368.6 103.8h0M367.5 102.0h0M366.2 102.5h0M367.0 103.3h0M369.5 103.0h0M371.1 104.7h0M367.9 103.7h0M363.9 100.8h0M361.2 100.5h0M363.3 100.7h0M361.0 100.7h0M364.1 102.2h0M360.0 99.7h0M364.5 102.5h0M365.0 101.6h0M364.5 100.8h0M364.4 102.2h0M359.1 98.9h0M360.1 99.3h0M358.4 98.7h0M360.5 98.9h0M358.0 98.7h0M359.2 99.3h0M359.8 100.0h0M357.1 97.5h0M358.3 99.0h0M357.1 97.3h0M356.3 98.0h0" stroke="#0072B2" stroke-width="0.76" stroke-linecap="round" fill="none" /><polygon points="350.5,89.2 353.2,87.0 357.8,87.0 362.4,88.3 363.8,91.0 362.4,93.8 357.8,95.6 353.2,94.7 351.1,92.5" fill="#F0E442" stroke="#F0E442" stroke-width="1.1" stroke-linejoin="round" stroke-dasharray="0.1 1.0" stroke-linecap="round"/><path d="M352.2 87.8h0M353.6 88.1h0M351.6 87.6h0M352.5 88.1h0M351.5 88.7h0M351.7 88.1h0M355.4 86.9h0M354.7 87.5h0M353.3 86.8h0M356.2 87.7h0M358.9 87.9h0M357.4 87.1h0M355.5 87.0h0M356.7 86.7h0M360.7 88.0h0M359.9 88.4h0M360.4 88.9h0M358.0 86.6h0M361.4 87.8h0M359.5 86.4h0M361.1 87.6h0M361.6 87.7h0M362.7 90.8h0M364.0 88.9h0M363.6 90.8h0M362.3 88.8h0M362.9 88.8h0M363.3 93.1h0M363.3 92.3h0M363.0 92.7h0M363.8 91.2h0M363.1 94.9h0M359.4 94.0h0M358.1 95.6h0M358.8 95.7h0M359.2 94.7h0M360.7 94.6h0M358.9 95.4h0M360.5 94.3h0M362.0 94.3h0M354.4 95.2h0M354.9 94.8h0M356.4 96.2h0M358.1 96.1h0M354.2 94.9h0M355.5 95.2h0M357.8 95.4h0M355.8 94.8h0M352.6 93.1h0M351.1 93.8h0M351.6 92.9h0M353.0 94.5h0M351.0 93.2h0M349.7 90.0h0M350.1 92.3h0M351.2 91.9h0M351.3 91.1h0M351.2 90.3h0M350.1 88.9h0" stroke="#F0E442" stroke-width="0.76" stroke-linecap="round" fill="none" /><polygon points="366.2,70.9 368.0,70.9 368.4,80.1 368.9,87.0 371.5,88.8 372.6,91.9 371.1,93.9 366.9,94.3 364.2,93.2 364.2,90.1 366.4,87.4 366.6,80.1" fill="#D55E00" stroke="#D55E00" stroke-width="1.1" stroke-linejoin="round" stroke-dasharray="0.1 1.0" stroke-linecap="round"/><path d="M369.0 70.7h0M367.3 71.4h0M367.1 71.2h0M368.2 80.6h0M368.6 79.6h0M369.4 71.8h0M368.5 73.3h0M368.3 72.0h0M367.5 77.0h0M368.9 71.8h0M367.5 73.9h0M368.6 71.8h0M368.3 75.6h0M369.0 73.6h0M367.9 72.1h0M368.6 80.5h0M368.0 78.3h0M368.4 76.5h0M369.0 83.1h0M368.0 87.0h0M367.6 82.7h0M369.2 85.9h0M369.1 83.7h0M369.0 86.2h0M367.8 80.7h0M368.3 85.9h0M367.7 81.8h0M367.7 80.3h0M368.7 81.2h0M368.1 80.8h0M370.3 87.3h0M371.5 88.0h0M368.5 88.4h0M369.3 87.3h0M370.4 87.3h0M371.2 88.7h0M372.8 90.4h0M371.2 90.1h0M371.5 90.2h0M372.4 91.5h0M372.6 91.6h0M372.2 91.3h0M371.3 93.3h0M372.0 92.8h0M371.1 93.8h0M372.2 92.2h0M368.9 93.9h0M369.5 94.2h0M371.8 93.5h0M367.4 93.7h0M369.1 94.2h0M369.9 94.2h0M369.1 94.4h0M365.7 94.5h0M365.5 93.0h0M364.9 92.8h0M367.0 94.6h0M365.5 93.6h0M364.6 93.1h0M364.1 89.8h0M364.4 90.4h0M364.6 90.8h0M364.7 91.9h0M365.7 89.3h0M365.6 88.0h0M367.2 88.1h0M364.3 89.3h0M364.1 89.6h0M365.6 88.2h0M366.7 80.5h0M366.3 86.5h0M365.4 84.5h0M367.8 81.5h0M366.7 84.4h0M366.9 86.0h0M366.1 81.6h0M366.8 87.1h0M365.6 83.5h0M367.3 82.3h0M366.1 84.1h0M366.8 86.3h0M367.0 76.1h0M366.6 77.2h0M366.7 73.5h0M366.5 75.4h0M366.5 78.1h0M367.7 79.9h0M367.4 79.2h0M366.9 73.8h0M365.9 78.2h0M366.3 71.9h0M365.6 74.6h0M365.9 79.9h0M366.3 74.7h0M366.9 79.4h0M366.4 79.8h0" stroke="#D55E00" stroke-width="0.76" stroke-linecap="round" fill="none" /><polygon points="409.5,9.6 415.7,6.9 426.6,6.2 434.9,9.6 438.3,13.0 441.7,17.8 443.1,24.0 441.7,28.8 440.4,32.9 436.2,39.8 434.2,45.3 432.8,50.8 434.2,56.2 432.8,61.7 432.1,68.6 431.4,74.1 428.0,79.6 425.3,85.0 422.5,90.5 419.8,94.7 417.0,94.7 415.0,89.2 410.9,87.8 409.5,85.0 410.9,80.9 408.8,76.1 406.7,70.0 405.4,64.5 404.7,60.4 400.6,57.6 395.8,53.5 395.1,46.6 396.5,41.8 402.6,39.8 405.4,37.0 404.0,31.6 401.9,26.1 400.6,20.6 396.5,16.5 397.1,15.1 401.9,15.8 405.4,13.0" fill="#E69F00" stroke="#E69F00" stroke-width="1.1" stroke-linejoin="round" stroke-dasharray="0.1 1.0" stroke-linecap="round"/><path d="M413.5 8.3h0M412.8 7.7h0M410.3 9.5h0M411.4 8.5h0M413.1 7.8h0M410.9 9.2h0M413.4 8.3h0M414.1 7.1h0M411.0 8.3h0M409.5 9.6h0M409.8 10.8h0M422.3 6.7h0M419.5 6.4h0M425.2 5.7h0M421.1 7.2h0M425.1 6.2h0M425.7 6.5h0M420.0 6.4h0M423.7 6.2h0M425.0 6.7h0M417.6 7.5h0M426.5 6.9h0M422.9 6.3h0M417.2 7.0h0M421.6 7.0h0M418.6 7.0h0M420.8 5.8h0M420.8 7.1h0M423.1 6.6h0M432.6 7.9h0M434.5 9.3h0M427.9 6.9h0M430.8 7.4h0M433.3 10.0h0M427.4 6.5h0M432.2 8.3h0M430.5 7.3h0M433.5 8.5h0M432.5 8.4h0M430.5 8.2h0M429.5 8.6h0M428.6 6.4h0M427.1 6.4h0M429.8 8.0h0M439.0 13.2h0M438.2 13.0h0M436.7 11.2h0M436.8 12.1h0M435.2 9.7h0M434.6 8.7h0M439.1 13.2h0M435.4 11.0h0M438.3 13.1h0M441.9 17.6h0M440.5 15.7h0M439.8 15.6h0M438.8 14.5h0M438.8 13.4h0M441.2 15.8h0M440.2 14.8h0M440.6 15.8h0M438.3 12.9h0M441.7 19.2h0M442.2 19.7h0M443.3 22.1h0M442.9 20.2h0M443.0 21.3h0M441.3 18.0h0M442.2 22.6h0M441.9 18.2h0M443.1 22.2h0M442.1 20.3h0M442.2 22.3h0M442.4 27.7h0M443.2 25.2h0M442.2 25.6h0M442.4 26.8h0M442.1 26.6h0M441.7 29.4h0M441.7 26.9h0M440.6 27.9h0M441.4 29.5h0M440.3 31.9h0M440.8 30.2h0M441.0 30.8h0M440.6 29.6h0M440.9 30.7h0M440.5 31.9h0M438.2 36.4h0M438.5 34.9h0M438.9 33.3h0M436.0 38.6h0M439.7 35.9h0M437.6 36.1h0M436.1 40.3h0M436.9 36.8h0M440.2 33.1h0M438.5 35.9h0M436.0 38.8h0M438.1 37.6h0M438.9 36.2h0M435.9 41.6h0M434.9 40.9h0M435.8 40.7h0M436.4 41.4h0M435.4 40.0h0M434.7 43.2h0M435.8 39.4h0M435.1 43.4h0M435.7 42.2h0M435.4 42.2h0M433.2 47.6h0M434.0 47.8h0M434.6 46.2h0M434.5 48.8h0M434.7 46.9h0M432.4 49.7h0M432.4 49.3h0M433.8 48.0h0M432.5 49.3h0M433.5 48.8h0M433.0 50.9h0M432.8 53.8h0M433.1 54.7h0M434.4 55.4h0M433.5 56.0h0M432.0 50.4h0M433.4 55.6h0M433.7 53.6h0M433.7 54.5h0M433.2 51.7h0M434.2 56.1h0M433.9 58.9h0M433.4 60.3h0M434.0 57.8h0M434.4 57.6h0M434.7 56.8h0M432.5 60.8h0M433.6 56.6h0M433.9 58.9h0M432.3 60.6h0M432.2 64.7h0M433.4 61.7h0M432.6 61.2h0M432.4 64.2h0M431.8 65.9h0M433.0 64.7h0M433.2 62.0h0M432.7 63.5h0M433.3 65.4h0M431.9 64.2h0M432.3 65.3h0M432.8 61.9h0M432.4 72.2h0M430.3 71.8h0M431.6 69.3h0M432.0 72.0h0M431.8 71.5h0M432.6 69.8h0M431.8 72.5h0M432.6 70.6h0M431.5 73.5h0M428.1 78.7h0M432.0 74.3h0M429.0 79.0h0M432.1 73.5h0M431.5 73.9h0M429.3 76.7h0M428.3 78.5h0M430.2 77.2h0M428.0 78.2h0M431.0 76.4h0M429.1 76.1h0M427.0 80.6h0M425.4 85.1h0M425.4 83.2h0M426.4 82.9h0M426.6 82.6h0M427.8 82.2h0M427.0 81.3h0M427.6 79.5h0M426.5 84.0h0M426.5 83.7h0M425.0 86.3h0M424.3 85.8h0M424.7 86.5h0M425.4 85.5h0M424.3 84.7h0M425.1 85.2h0M424.8 87.2h0M424.7 85.6h0M424.5 85.3h0M423.2 88.7h0M421.2 90.7h0M420.6 92.5h0M421.1 92.9h0M421.7 91.8h0M422.6 90.5h0M419.9 95.0h0M419.3 94.5h0M420.1 94.0h0M420.2 94.1h0M418.7 94.5h0M418.7 95.1h0M418.5 94.7h0M418.1 95.5h0M415.4 89.0h0M414.9 90.3h0M416.6 91.7h0M416.1 93.8h0M416.5 93.8h0M416.4 92.3h0M416.2 93.9h0M415.5 90.7h0M414.9 90.5h0M416.3 94.4h0M412.5 88.1h0M413.0 87.9h0M413.6 87.8h0M414.2 88.7h0M413.3 89.7h0M412.8 88.8h0M412.4 88.2h0M410.3 86.0h0M408.9 84.6h0M410.1 85.3h0M410.4 86.3h0M410.8 86.4h0M409.5 83.6h0M411.0 82.3h0M411.1 83.0h0M409.2 85.4h0M409.5 84.9h0M409.4 83.2h0M410.5 83.0h0M409.0 77.5h0M410.3 77.5h0M408.8 77.9h0M409.8 77.0h0M409.3 79.2h0M410.0 76.5h0M409.4 76.0h0M410.1 77.2h0M410.0 81.1h0M409.6 76.7h0M408.3 72.0h0M407.0 72.9h0M409.1 76.2h0M407.0 71.5h0M409.3 75.9h0M407.6 74.7h0M408.6 76.4h0M408.9 75.3h0M408.1 75.3h0M406.5 70.2h0M406.7 66.8h0M406.3 63.9h0M406.2 67.6h0M406.0 70.1h0M406.9 69.3h0M406.0 67.9h0M405.9 68.4h0M405.4 66.2h0M406.7 68.9h0M405.8 66.1h0M405.8 63.7h0M405.5 62.5h0M405.7 65.0h0M404.8 61.9h0M404.4 63.8h0M404.2 61.2h0M404.7 60.6h0M403.8 59.2h0M404.2 59.7h0M401.3 58.2h0M403.5 59.7h0M402.7 59.1h0M401.5 57.9h0M403.3 59.4h0M403.8 59.3h0M396.4 53.9h0M398.1 55.3h0M397.9 54.9h0M397.2 53.7h0M396.4 54.7h0M399.5 56.6h0M400.4 57.9h0M397.7 56.2h0M397.8 56.3h0M398.2 54.3h0M396.1 55.0h0M395.2 47.5h0M395.1 48.2h0M393.6 47.1h0M395.4 49.8h0M394.9 48.1h0M394.9 49.6h0M396.1 47.8h0M396.1 52.0h0M396.3 50.3h0M394.9 47.9h0M395.3 49.9h0M395.6 50.6h0M395.2 47.2h0M395.0 45.2h0M396.6 44.1h0M395.5 43.3h0M396.3 43.3h0M394.8 46.1h0M395.5 44.0h0M395.4 43.6h0M399.6 41.5h0M398.2 42.3h0M399.6 41.5h0M398.4 41.5h0M399.9 40.5h0M401.7 39.8h0M396.9 42.4h0M401.4 40.1h0M400.4 39.4h0M400.1 41.3h0M399.6 41.1h0M404.8 38.5h0M405.4 38.2h0M405.7 37.9h0M403.0 39.5h0M404.3 37.4h0M405.7 38.7h0M404.5 38.1h0M405.5 36.2h0M404.9 37.4h0M404.4 33.5h0M405.2 36.7h0M405.7 36.2h0M404.5 32.6h0M404.2 36.5h0M403.6 33.1h0M404.4 34.8h0M404.6 34.8h0M403.5 30.6h0M403.8 29.1h0M402.8 30.2h0M403.3 30.6h0M403.9 31.4h0M403.1 27.8h0M403.0 28.1h0M402.2 27.5h0M402.2 26.2h0M403.1 28.9h0M401.1 22.9h0M401.3 24.7h0M401.3 26.0h0M400.6 23.2h0M400.9 21.5h0M402.1 25.9h0M401.3 23.5h0M401.6 23.8h0M400.9 24.4h0M401.4 24.7h0M396.8 17.9h0M396.6 17.1h0M399.6 19.3h0M399.4 20.0h0M395.4 17.0h0M398.4 17.9h0M399.4 19.6h0M400.2 19.2h0M398.5 19.5h0M399.5 19.2h0M396.7 14.6h0M396.7 15.8h0M397.3 14.9h0M399.3 14.5h0M399.7 15.9h0M400.4 15.5h0M400.1 15.4h0M399.8 14.7h0M399.3 14.6h0M399.0 15.3h0M398.1 15.4h0M405.5 12.9h0M404.4 14.0h0M404.0 14.3h0M405.2 13.8h0M402.5 15.8h0M404.4 13.6h0M401.7 14.6h0M403.8 13.6h0M408.5 10.7h0M408.7 10.9h0M406.1 10.7h0M407.1 12.7h0M405.9 12.1h0M408.2 9.3h0M407.1 12.6h0M407.6 13.0h0M409.3 10.4h0" stroke="#E69F00" stroke-width="0.76" stroke-linecap="round" fill="none" /><polygon points="434.2,78.9 440.4,77.5 445.8,75.4 449.3,79.6 449.3,83.7 444.5,85.7 439.0,86.4 434.9,83.7" fill="#E69F00" stroke="#E69F00" stroke-width="1.1" stroke-linejoin="round" stroke-dasharray="0.1 1.0" stroke-linecap="round"/><path d="M435.4 79.0h0M440.2 77.5h0M437.4 78.5h0M437.5 78.5h0M435.6 78.5h0M439.4 77.2h0M439.1 78.9h0M440.3 77.9h0M435.0 77.9h0M437.9 77.9h0M438.1 77.4h0M442.9 75.7h0M443.0 76.8h0M442.2 77.5h0M446.2 75.5h0M442.2 76.4h0M441.0 78.4h0M443.5 76.8h0M442.4 76.5h0M440.4 77.7h0M442.3 75.9h0M448.2 79.2h0M447.6 79.2h0M446.8 76.0h0M448.3 78.7h0M448.3 78.6h0M449.8 79.0h0M446.3 75.7h0M449.3 78.4h0M448.7 78.8h0M448.7 81.7h0M448.9 81.9h0M450.5 82.9h0M449.0 81.4h0M449.1 81.8h0M448.8 82.6h0M448.0 80.6h0M446.1 85.2h0M448.1 84.6h0M445.3 85.5h0M448.4 82.8h0M445.9 85.7h0M448.7 84.2h0M446.6 84.1h0M446.2 84.5h0M446.7 84.0h0M440.8 85.2h0M442.1 85.5h0M438.8 86.7h0M443.9 85.8h0M439.0 86.2h0M442.8 86.5h0M443.5 86.5h0M440.4 86.4h0M445.7 85.9h0M436.2 85.7h0M439.0 86.3h0M439.0 86.3h0M437.7 86.1h0M436.9 84.1h0M439.2 86.4h0M436.9 85.2h0M439.2 85.0h0M433.6 82.6h0M433.9 80.6h0M435.5 83.2h0M435.7 81.6h0M435.0 80.8h0M434.6 81.3h0M434.9 82.0h0M434.0 82.1h0" stroke="#E69F00" stroke-width="0.76" stroke-linecap="round" fill="none" /><polygon points="442.4,21.9 445.8,20.6 451.3,20.6 456.8,22.6 459.6,26.1 458.9,32.9 455.4,38.4 450.0,41.8 443.1,43.9 437.6,45.3 434.9,42.5 437.6,38.4 440.4,32.9 442.4,27.4" fill="#009E73" stroke="#009E73" stroke-width="1.1" stroke-linejoin="round" stroke-dasharray="0.1 1.0" stroke-linecap="round"/><path d="M444.4 21.0h0M445.2 20.6h0M445.3 21.1h0M443.0 21.7h0M445.1 20.3h0M445.0 20.7h0M446.0 20.9h0M449.9 20.3h0M448.1 20.5h0M448.9 20.5h0M447.0 20.1h0M449.7 20.5h0M450.7 19.5h0M450.9 20.5h0M448.6 20.4h0M455.1 21.6h0M453.0 21.1h0M456.2 21.8h0M453.9 22.6h0M452.6 21.0h0M451.6 20.6h0M451.8 20.1h0M452.3 20.7h0M453.3 20.6h0M454.8 22.0h0M456.9 23.2h0M458.5 23.5h0M459.6 27.1h0M458.2 25.6h0M459.8 25.8h0M458.5 23.7h0M457.1 23.1h0M459.8 24.4h0M459.7 28.7h0M459.7 30.2h0M459.1 27.9h0M459.4 28.7h0M459.7 32.4h0M459.8 30.4h0M459.7 32.7h0M459.7 29.7h0M459.0 26.3h0M459.4 31.9h0M458.5 26.8h0M459.0 32.1h0M456.4 37.0h0M457.6 34.5h0M456.0 36.4h0M457.0 35.6h0M457.7 34.2h0M456.7 35.3h0M458.7 33.0h0M458.3 33.4h0M456.8 36.2h0M459.3 32.9h0M458.8 34.3h0M450.0 42.0h0M454.0 39.4h0M450.3 42.1h0M454.3 38.9h0M450.2 41.5h0M453.2 40.2h0M452.5 38.7h0M450.6 41.7h0M453.0 40.7h0M452.9 40.0h0M454.3 39.2h0M443.0 43.2h0M445.2 42.8h0M450.2 41.8h0M445.0 43.2h0M450.2 41.4h0M447.5 43.4h0M450.1 40.6h0M447.0 43.5h0M449.3 43.1h0M447.5 41.9h0M445.3 43.7h0M447.7 42.5h0M439.7 43.4h0M442.9 44.6h0M438.1 44.3h0M441.1 44.1h0M440.3 45.0h0M443.0 45.2h0M442.7 43.5h0M442.2 44.0h0M442.6 44.0h0M439.8 44.6h0M434.9 42.5h0M436.8 44.9h0M436.9 44.6h0M435.4 43.4h0M435.7 43.9h0M435.5 43.0h0M436.2 42.9h0M435.7 41.8h0M435.0 40.2h0M434.5 41.7h0M435.9 39.1h0M436.8 40.7h0M437.0 41.2h0M436.7 40.9h0M436.1 41.2h0M438.8 36.4h0M438.2 36.0h0M438.5 34.5h0M438.7 35.9h0M439.4 36.1h0M439.9 33.8h0M439.6 33.0h0M438.6 35.4h0M438.3 36.9h0M439.3 32.8h0M441.8 29.6h0M441.1 29.2h0M440.9 30.3h0M441.5 31.5h0M442.3 28.1h0M442.0 31.4h0M441.7 26.9h0M440.9 32.2h0M441.1 30.7h0M443.3 27.9h0M443.7 26.7h0M442.5 24.2h0M442.2 25.7h0M441.2 23.9h0M442.5 26.3h0M442.3 23.5h0M442.7 27.6h0M442.6 22.8h0M443.2 26.8h0" stroke="#009E73" stroke-width="0.76" stroke-linecap="round" fill="none" /><polygon points="341.0,26.3 343.6,24.4 347.6,24.2 350.5,26.3 351.0,29.4 348.4,32.6 345.2,33.6 342.1,31.5 340.2,28.9" fill="#CC79A7" stroke="#CC79A7" stroke-width="1.1" stroke-linejoin="round" stroke-dasharray="0.1 1.0" stroke-linecap="round"/><path d="M341.6 25.3h0M342.6 24.9h0M340.9 26.9h0M341.6 26.3h0M341.2 25.8h0M342.0 26.1h0M345.1 24.3h0M346.5 24.6h0M346.8 24.3h0M344.5 24.0h0M346.9 25.3h0M343.2 24.4h0M346.3 24.6h0M350.2 25.6h0M347.9 24.9h0M348.3 25.1h0M347.9 24.3h0M348.8 24.7h0M349.2 26.3h0M351.2 28.8h0M349.4 26.6h0M351.3 27.5h0M351.0 29.2h0M351.3 26.9h0M351.1 27.0h0M350.8 29.7h0M350.6 30.1h0M350.5 30.6h0M350.3 31.9h0M350.1 30.1h0M350.1 32.0h0M350.9 30.5h0M347.5 33.8h0M347.4 33.0h0M345.5 33.1h0M345.4 34.0h0M347.3 33.1h0M347.9 32.6h0M343.8 32.5h0M343.5 32.2h0M342.3 31.4h0M341.5 30.8h0M342.5 32.2h0M345.3 33.7h0M343.0 32.8h0M342.2 31.7h0M341.1 31.2h0M342.7 30.6h0M341.5 30.8h0M340.9 30.1h0M341.3 30.8h0M341.2 26.9h0M340.9 29.0h0M340.9 28.7h0M340.3 27.8h0M340.8 28.0h0" stroke="#CC79A7" stroke-width="0.76" stroke-linecap="round" fill="none" /><polygon points="408.5,110.7 410.4,103.1 412.2,103.1 414.2,110.7" fill="#E69F00" stroke="#E69F00" stroke-width="1.1" stroke-linejoin="round" stroke-dasharray="0.1 1.0" stroke-linecap="round"/><path d="M409.4 105.7h0M409.4 108.6h0M409.8 105.7h0M409.7 107.6h0M409.8 105.6h0M409.8 104.9h0M410.1 105.2h0M409.9 105.6h0M409.2 107.9h0M409.6 108.4h0M409.7 108.7h0M410.0 109.2h0M409.0 107.1h0M412.2 103.1h0M410.6 103.5h0M412.1 103.9h0M413.4 107.8h0M413.8 110.1h0M413.5 108.5h0M413.0 108.9h0M413.4 105.6h0M413.8 105.2h0M413.4 107.9h0M413.6 106.7h0M413.8 106.5h0M412.6 106.0h0M412.1 106.5h0M412.8 109.4h0M412.2 104.5h0M411.6 109.5h0M409.9 110.8h0M409.6 110.3h0M414.2 110.8h0M414.4 110.7h0M408.3 111.3h0M414.3 111.6h0M411.0 111.0h0M408.6 110.5h0M411.4 110.5h0" stroke="#E69F00" stroke-width="0.76" stroke-linecap="round" fill="none" /><polygon points="454.0,108.3 457.9,107.2 462.4,108.3 463.5,110.9 461.4,113.0 456.6,113.5 454.0,111.4" fill="#C8900A" stroke="#C8900A" stroke-width="1.1" stroke-linejoin="round" stroke-dasharray="0.1 1.0" stroke-linecap="round"/><path d="M454.8 108.5h0M454.7 108.3h0M457.2 107.5h0M454.7 107.9h0M454.8 107.4h0M455.5 107.8h0M454.9 108.1h0M461.8 108.6h0M460.1 107.6h0M462.6 108.6h0M460.3 108.2h0M459.4 107.7h0M458.0 107.8h0M461.7 108.3h0M461.4 107.4h0M462.7 109.0h0M463.5 109.9h0M464.1 110.0h0M462.3 108.2h0M463.8 108.9h0M461.4 112.7h0M462.5 111.8h0M464.1 110.7h0M463.5 110.4h0M462.2 111.5h0M459.4 113.2h0M459.8 112.3h0M456.3 113.7h0M460.6 112.7h0M458.2 114.1h0M457.0 113.5h0M459.6 113.3h0M460.4 113.8h0M454.7 111.3h0M453.9 111.4h0M454.0 112.9h0M456.0 112.9h0M454.4 111.9h0M454.4 110.9h0M453.5 109.8h0M454.6 111.3h0M454.0 109.8h0M453.0 110.0h0M453.6 111.4h0M454.8 110.3h0" stroke="#C8900A" stroke-width="0.76" stroke-linecap="round" fill="none" /><path d="M486.8 79.5 l1.6 4.5 l-6 5.5 l-2.2 1.2 M482.4 84.3 l6 -0.3" stroke="#56B4E9" stroke-width="1.4" fill="none" stroke-linecap="round"/><path d="M428.6 56.6h0M408.7 11.4h0M407.3 60.1h0M402.2 44.5h0M430.8 19.0h0M415.8 15.4h0M419.1 20.0h0M406.1 54.8h0M404.2 21.6h0M422.9 39.6h0M408.6 39.0h0M431.8 53.9h0M434.2 23.5h0M437.5 25.8h0M422.0 68.5h0M398.4 49.5h0M418.0 15.7h0M429.9 42.1h0M408.4 19.8h0M423.2 72.3h0M438.0 127.2h0M382.3 118.7h0M416.4 121.7h0M427.0 127.8h0M375.0 123.3h0M379.3 113.3h0M394.3 135.2h0M421.4 133.3h0M385.7 106.7h0M385.8 135.1h0M376.6 125.6h0M422.1 130.9h0M402.7 116.7h0M382.0 118.2h0M423.0 116.4h0M389.6 122.5h0M419.9 132.5h0M414.9 142.6h0M390.9 136.1h0M427.4 134.4h0M388.8 112.9h0M420.9 139.8h0M392.7 121.5h0M424.4 126.4h0M413.6 128.5h0M390.4 132.7h0M414.0 130.9h0M435.6 126.4h0M381.8 108.8h0M419.1 136.5h0" stroke="#fff" stroke-width="0.70" stroke-linecap="round" fill="none" /><path d="M396.9 119.9h0M393.4 124.2h0M409.5 118.8h0M406.8 122.5h0M396.7 120.8h0M396.9 122.0h0M407.3 121.8h0M404.2 120.3h0M402.3 119.0h0M400.4 119.8h0M396.7 121.9h0M400.0 120.1h0M397.0 117.2h0M402.1 121.9h0M408.1 119.5h0M397.2 125.6h0M406.5 128.4h0M401.7 120.1h0M408.2 121.0h0M407.1 123.1h0M405.1 118.1h0M401.8 121.0h0M392.4 124.5h0M400.4 119.9h0M399.0 123.3h0M408.4 123.5h0M408.6 116.7h0M403.4 120.7h0M400.4 117.1h0M401.6 121.7h0M406.0 121.3h0M396.9 120.7h0M410.5 124.3h0M400.0 118.9h0M410.2 121.1h0" stroke="#fff" stroke-width="0.80" stroke-linecap="round" fill="none" /><path d="M406.2 37.1h0M408.0 38.1h0M408.4 39.1h0M406.9 38.8h0M408.3 39.0h0M410.1 38.1h0M409.4 41.2h0M408.0 37.1h0M407.1 39.3h0M408.3 38.6h0M408.5 41.7h0M406.9 40.1h0M410.3 41.9h0M408.2 40.3h0M407.0 37.4h0M409.8 40.4h0M405.6 39.6h0M406.7 38.7h0M407.7 41.4h0M404.9 39.4h0M408.5 40.0h0M408.4 37.5h0M403.7 39.9h0M406.1 39.7h0M406.6 40.0h0M404.5 40.0h0M408.7 40.4h0M406.2 40.0h0M408.2 41.6h0M407.6 40.1h0M410.2 38.7h0M408.0 39.2h0M406.9 41.4h0M407.6 39.1h0M408.3 37.7h0M409.6 39.3h0M409.2 39.7h0M407.7 37.9h0M405.3 39.1h0M406.7 39.4h0" stroke="#fff" stroke-width="1.00" stroke-linecap="round" fill="none" /><path d="M418.4 77.6h0M415.5 69.9h0M420.2 75.6h0M418.2 73.1h0M415.9 69.8h0M416.7 74.5h0M415.4 80.0h0M420.0 62.2h0M416.3 72.5h0M415.0 73.1h0M414.2 70.3h0M418.5 69.4h0M419.8 73.4h0M417.8 70.6h0M413.5 71.0h0M418.3 74.8h0M415.0 72.5h0M418.0 73.5h0M415.8 71.6h0M422.4 76.2h0M416.5 70.1h0M419.3 67.4h0M420.9 68.2h0M415.4 71.8h0M414.8 72.1h0M415.4 70.3h0M416.1 68.1h0M417.6 74.0h0M417.7 72.7h0M412.9 67.1h0M419.0 74.1h0M415.6 70.8h0M417.9 71.6h0M419.3 68.7h0M419.3 71.5h0M417.9 70.8h0M412.9 73.7h0M415.6 74.6h0M414.1 70.4h0M418.6 69.3h0M415.4 73.4h0M421.2 73.2h0M419.7 73.4h0M420.4 73.1h0M416.4 74.1h0M416.4 74.9h0M419.8 67.3h0M417.4 74.2h0M418.4 68.3h0M419.2 73.5h0M418.7 72.2h0M417.6 73.9h0M418.8 73.8h0M419.0 78.3h0M413.4 70.7h0M417.8 73.4h0M414.2 73.4h0M416.7 71.6h0M419.3 73.4h0M414.7 70.3h0M417.0 68.9h0M420.1 75.3h0M416.1 71.7h0M414.2 71.7h0M418.4 74.1h0M419.4 69.3h0M418.3 68.0h0M414.9 67.1h0M417.2 68.4h0M414.3 70.5h0" stroke="#fff" stroke-width="1.10" stroke-linecap="round" fill="none" /><path d="M413.1 77.7h0M413.0 77.3h0M411.9 76.8h0M412.4 78.2h0M413.7 78.1h0M413.5 76.6h0M412.3 77.5h0M411.3 79.1h0M413.7 75.3h0M412.5 76.8h0M411.7 77.5h0M412.1 79.5h0M412.0 75.0h0M413.3 78.1h0" stroke="#fff" stroke-width="1.00" stroke-linecap="round" fill="none" /><path d="M439.3 33.7h0M436.1 36.6h0M433.8 34.1h0M431.8 34.1h0M433.6 34.4h0M437.0 36.1h0M439.3 37.6h0M439.1 40.5h0M434.8 38.2h0M441.9 34.0h0M441.0 44.3h0M429.8 33.1h0M437.5 43.0h0M434.0 42.7h0M446.9 32.7h0M435.2 36.2h0M438.7 27.9h0M434.0 38.9h0M434.4 37.9h0M435.2 40.2h0M432.3 35.9h0M432.8 34.5h0M437.5 36.0h0M438.1 36.4h0M439.1 31.6h0M438.0 31.9h0M438.3 41.0h0M438.7 33.3h0M439.7 39.7h0M435.7 36.5h0M437.8 41.2h0M440.1 38.5h0M439.5 37.4h0M437.1 35.8h0M434.1 36.5h0M435.3 34.7h0M432.3 32.0h0M434.0 37.4h0M443.2 38.9h0M435.3 34.5h0M441.8 33.0h0M432.8 40.9h0M428.5 38.3h0M435.6 38.6h0M436.6 43.5h0M442.4 37.3h0M434.3 35.0h0M431.9 34.0h0M440.1 37.1h0M439.2 40.0h0M434.4 35.5h0M439.0 34.9h0M430.0 32.2h0M438.8 33.6h0M430.1 31.1h0M436.3 35.1h0M440.7 41.0h0M434.4 41.6h0M438.6 38.2h0M441.4 40.0h0" stroke="#fff" stroke-width="0.90" stroke-linecap="round" fill="none" /><polygon points="414.6,66.1 419.0,65.3 420.3,70.0 419.2,75.2 416.5,78.7 413.9,76.3 413.1,70.8" fill="#fff" /><polygon points="405.5,37.9 409.4,37.2 410.3,39.6 407.6,41.0 405.2,39.9" fill="#fff" /><path d="M418.6 64.0h0M416.2 65.1h0M415.0 67.1h0M419.0 64.8h0M417.7 66.0h0M415.1 65.8h0M416.7 65.7h0M414.5 66.0h0M415.2 65.6h0M414.4 66.4h0M418.9 70.2h0M418.2 67.1h0M419.4 68.8h0M419.6 67.6h0M419.6 67.1h0M418.4 64.7h0M418.6 65.6h0M418.3 65.6h0M420.8 70.2h0M419.6 65.8h0M421.3 68.6h0M419.2 72.4h0M420.1 73.2h0M419.8 72.6h0M420.2 70.0h0M418.5 73.5h0M419.2 73.8h0M419.6 73.5h0M418.5 74.7h0M420.2 70.6h0M419.4 70.6h0M419.9 73.1h0M419.4 74.3h0M417.6 77.2h0M417.5 76.3h0M416.5 77.0h0M417.6 78.1h0M418.3 76.9h0M419.0 77.4h0M417.8 76.3h0M415.9 77.1h0M417.2 77.1h0M418.0 77.3h0M414.2 77.0h0M414.7 76.4h0M414.2 76.2h0M416.7 77.6h0M416.1 78.7h0M415.2 78.7h0M414.7 76.0h0M414.5 77.4h0M413.3 70.2h0M413.6 73.3h0M413.4 73.8h0M412.6 71.2h0M413.9 75.2h0M413.4 71.5h0M413.6 71.8h0M414.1 72.8h0M413.1 71.1h0M413.3 71.5h0M412.9 75.8h0M413.6 74.0h0M412.7 75.1h0M412.4 71.1h0M414.2 69.2h0M413.5 69.9h0M413.5 70.3h0M414.4 65.7h0M412.5 67.7h0M414.7 66.5h0M414.4 66.0h0M412.3 69.4h0M413.8 68.1h0M412.7 70.2h0" stroke="#E69F00" stroke-width="0.80" stroke-linecap="round" fill="none" /><path d="M408.0 37.7h0M406.0 37.9h0M407.4 37.3h0M406.0 38.2h0M408.3 36.9h0M406.7 38.0h0M406.2 37.4h0M406.0 38.3h0M410.9 38.4h0M410.4 38.0h0M410.4 38.6h0M409.9 38.4h0M409.9 39.1h0M410.3 37.1h0M409.0 40.1h0M408.3 40.5h0M407.7 41.1h0M410.2 39.6h0M408.7 39.7h0M408.9 40.0h0M407.8 40.8h0M407.2 40.4h0M405.3 40.2h0M405.0 41.0h0M405.6 39.3h0M406.5 41.3h0M407.3 41.0h0M405.0 40.4h0M404.9 39.3h0M405.2 39.4h0M404.5 39.9h0M404.7 38.1h0" stroke="#E69F00" stroke-width="0.80" stroke-linecap="round" fill="none" /><path d="M418.4 67.9h0M418.6 75.5h0M417.8 72.5h0M415.7 66.4h0M419.0 75.0h0M419.1 67.9h0M419.3 69.3h0M417.4 67.2h0M416.5 71.9h0M416.0 77.2h0M414.2 74.0h0M414.8 68.1h0M419.7 69.9h0M418.8 73.0h0M413.5 71.8h0M416.8 70.0h0" stroke="#E69F00" stroke-width="0.80" stroke-linecap="round" fill="none" /><path d="M438.3 89.2h0M437.3 90.0h0M439.0 88.6h0M395.8 54.9h0M396.3 54.3h0M418.7 94.9h0" stroke="#56B4E9" stroke-width="1.00" stroke-linecap="round" fill="none" /><path d="M441.2 36.9h0M445.2 28.1h0M438.1 25.1h0M435.1 30.1h0M442.6 26.2h0M439.7 30.2h0M435.6 37.4h0M444.3 28.5h0M440.8 30.2h0M447.5 31.2h0M435.4 27.6h0M443.2 28.4h0M435.6 38.5h0M442.2 37.3h0M434.6 31.6h0M444.5 33.8h0M443.6 27.3h0M434.4 24.2h0M440.9 30.2h0M442.8 32.7h0M441.6 40.4h0M431.9 39.6h0M437.9 44.2h0M441.1 32.0h0M442.4 30.2h0M439.2 38.2h0M439.9 34.1h0M441.4 24.4h0M442.4 36.7h0M439.7 29.0h0M447.3 42.0h0M443.7 33.6h0M440.8 36.3h0M436.9 22.9h0M444.6 35.5h0M437.9 39.2h0M445.9 42.4h0M433.5 34.9h0M443.4 34.5h0M446.3 33.9h0" stroke="#009E73" stroke-width="0.80" stroke-linecap="round" fill="none" /><path d="M448.2 29.6h0M442.7 27.4h0M447.1 22.3h0M444.9 30.1h0M448.7 28.5h0M444.5 29.1h0M448.9 21.7h0M448.3 31.3h0M449.9 22.6h0M443.8 23.9h0M449.7 26.8h0M445.7 29.5h0M453.1 24.4h0M448.0 25.2h0M448.8 29.6h0M446.8 31.3h0M444.3 28.7h0M445.6 21.5h0M447.5 29.9h0M445.2 25.9h0M444.4 23.9h0M447.7 29.0h0M446.2 25.4h0M446.1 29.5h0M445.4 21.2h0M445.3 32.0h0M446.8 25.0h0M443.1 27.9h0M449.9 30.5h0M451.3 23.1h0M448.7 30.4h0M453.4 25.8h0M450.6 23.2h0M448.9 30.0h0M443.6 24.9h0" stroke="#E69F00" stroke-width="0.80" stroke-linecap="round" fill="none" /><path d="M379.7 109.7h0M384.2 114.5h0M409.4 125.1h0M379.7 132.7h0M401.4 130.5h0M396.9 114.2h0M396.6 131.3h0M410.2 116.2h0M386.3 128.6h0M406.7 129.9h0M385.4 123.8h0M398.4 136.0h0M400.9 120.2h0M411.7 132.3h0M419.6 128.4h0M412.2 138.2h0M412.8 136.9h0M393.4 110.3h0M434.3 129.5h0M401.7 115.7h0M405.8 111.8h0M416.3 142.4h0M399.6 116.8h0M377.6 124.5h0M386.0 118.4h0M392.7 111.9h0M412.7 118.9h0M393.8 126.6h0M386.7 128.1h0M407.2 137.5h0" stroke="#E69F00" stroke-width="0.80" stroke-linecap="round" fill="none" /><path d="M377.7 95.3h0M379.1 96.2h0M378.9 95.2h0M380.7 102.7h0M371.4 102.3h0M377.9 95.5h0M379.3 101.7h0M373.3 93.2h0M378.3 96.6h0M371.6 93.9h0M375.2 114.3h0M378.2 101.3h0M368.0 101.0h0M378.8 100.6h0M385.2 105.5h0M369.6 95.8h0M372.1 95.6h0M373.3 96.1h0M399.2 113.2h0M374.0 98.9h0M371.6 95.6h0M378.0 104.0h0M367.7 98.6h0M373.8 113.8h0M379.0 101.6h0M368.6 99.0h0M376.6 94.5h0M386.4 105.2h0M373.8 104.7h0M379.4 115.2h0M379.4 100.0h0M376.7 104.6h0M373.7 95.1h0M380.2 99.9h0M366.9 101.3h0M373.7 104.1h0M380.3 96.3h0M369.2 101.9h0M367.1 96.1h0M368.8 98.2h0" stroke="#0072B2" stroke-width="1.00" stroke-linecap="round" fill="none" /><path d="M372.2 93.3h0M379.5 99.7h0M371.0 93.1h0M374.0 92.3h0M364.0 94.3h0M367.7 99.5h0M371.5 96.2h0M362.6 84.5h0M370.5 88.0h0M366.0 96.1h0M371.3 94.1h0M362.9 93.4h0M367.6 98.4h0M370.0 94.3h0M370.1 93.5h0" stroke="#E69F00" stroke-width="0.80" stroke-linecap="round" fill="none" /><path d="M409.7 10.8h0M422.3 46.4h0M421.4 28.5h0M428.7 24.4h0M415.5 83.1h0M425.1 39.4h0M425.3 9.1h0M429.0 38.7h0M414.2 68.5h0M416.4 10.5h0M437.1 23.4h0M422.1 53.0h0" stroke="#009E73" stroke-width="0.70" stroke-linecap="round" fill="none" /><path d="M346.0 32.5h0M438.5 89.0h0M396.0 55.5h0M480.5 90.5h0M455.5 115.0h0" stroke="#56B4E9" stroke-width="0.90" stroke-linecap="round" fill="none" /><text x="419.8" y="28.6" font-size="5.15" text-anchor="middle" font-weight="normal" fill="#000" stroke="#000" stroke-width="0.22">T Cells</text><text x="456.1" y="34.9" font-size="5.15" text-anchor="middle" font-weight="normal" fill="#000" stroke="#000" stroke-width="0.22">NK Cells</text><text x="345.5" y="28.6" font-size="5.15" text-anchor="middle" font-weight="normal" fill="#000" stroke="#000" stroke-width="0.22">pDC</text><text x="372.8" y="84.8" font-size="5.15" text-anchor="middle" font-weight="normal" fill="#000" stroke="#000" stroke-width="0.22">migDC</text><text x="356.0" y="90.6" font-size="5.15" text-anchor="middle" font-weight="normal" fill="#000" stroke="#000" stroke-width="0.22">cDC1</text><text x="368.6" y="100.0" font-size="5.15" text-anchor="middle" font-weight="normal" fill="#000" stroke="#000" stroke-width="0.22">cDC2</text><text x="428.5" y="113.2" font-size="5.15" text-anchor="middle" font-weight="normal" fill="#000" stroke="#000" stroke-width="0.22">Neutrophils</text><text x="464.0" y="111.9" font-size="5.15" text-anchor="middle" font-weight="normal" fill="#000" stroke="#000" stroke-width="0.22">Microglia</text><text x="487.6" y="88.2" font-size="5.15" text-anchor="middle" font-weight="normal" fill="#000" stroke="#000" stroke-width="0.22">B Cells</text><text x="410.6" y="130.3" font-size="5.15" text-anchor="middle" font-weight="normal" fill="#000" stroke="#000" stroke-width="0.22">Monocytes/Macrophages</text><line x1="331.5" y1="152.3" x2="331.5" y2="129.2" stroke="#000" stroke-width="0.60" /><line x1="331.2" y1="152.0" x2="354.1" y2="152.0" stroke="#000" stroke-width="0.60" /><polygon points="331.5,127.2 330.2,130.2 332.8,130.2"/><polygon points="356.1,152.0 353.1,150.7 353.1,153.3"/><text x="334.0" y="156.6" font-size="4.00" text-anchor="start" font-weight="bold" fill="#222"  stroke="#222" stroke-width="0.10">UMAP1</text><text transform="translate(329.7,150.0) rotate(-90)" font-size="4.00" text-anchor="start" font-weight="bold" fill="#222" stroke="#222" stroke-width="0.10">UMAP2</text><rect x="518.6" y="11.1" width="20.9" height="25.8" fill="#E69F00" /><rect x="518.6" y="36.9" width="20.9" height="4.5" fill="#56B4E9" /><rect x="518.6" y="41.3" width="20.9" height="8.6" fill="#009E73" /><rect x="518.6" y="49.9" width="20.9" height="3.4" fill="#F0E442" /><rect x="518.6" y="53.3" width="20.9" height="10.0" fill="#0072B2" /><rect x="518.6" y="63.2" width="20.9" height="2.0" fill="#D55E00" /><rect x="518.6" y="65.2" width="20.9" height="3.1" fill="#CC79A7" /><rect x="518.6" y="68.2" width="20.9" height="0.6" fill="#666666" /><rect x="518.6" y="68.8" width="20.9" height="1.4" fill="#AD7700" /><rect x="518.6" y="70.2" width="20.9" height="65.2" fill="#1C91D4" /><rect x="542.2" y="11.1" width="20.9" height="51.4" fill="#E69F00" /><rect x="542.2" y="62.4" width="20.9" height="0.6" fill="#56B4E9" /><rect x="542.2" y="63.0" width="20.9" height="3.9" fill="#009E73" /><rect x="542.2" y="66.9" width="20.9" height="2.5" fill="#F0E442" /><rect x="542.2" y="69.3" width="20.9" height="5.6" fill="#0072B2" /><rect x="542.2" y="74.9" width="20.9" height="1.2" fill="#D55E00" /><rect x="542.2" y="76.0" width="20.9" height="5.0" fill="#CC79A7" /><rect x="542.2" y="81.0" width="20.9" height="0.6" fill="#666666" /><rect x="542.2" y="81.6" width="20.9" height="1.4" fill="#AD7700" /><rect x="542.2" y="82.9" width="20.9" height="52.5" fill="#1C91D4" /><rect x="565.6" y="11.1" width="20.9" height="53.0" fill="#E69F00" /><rect x="565.6" y="64.1" width="20.9" height="0.3" fill="#56B4E9" /><rect x="565.6" y="64.4" width="20.9" height="11.1" fill="#009E73" /><rect x="565.6" y="75.5" width="20.9" height="1.4" fill="#F0E442" /><rect x="565.6" y="76.8" width="20.9" height="8.1" fill="#0072B2" /><rect x="565.6" y="84.9" width="20.9" height="3.1" fill="#D55E00" /><rect x="565.6" y="87.9" width="20.9" height="2.0" fill="#CC79A7" /><rect x="565.6" y="89.9" width="20.9" height="0.3" fill="#666666" /><rect x="565.6" y="90.2" width="20.9" height="1.4" fill="#AD7700" /><rect x="565.6" y="91.5" width="20.9" height="43.9" fill="#1C91D4" /><rect x="589.0" y="11.1" width="20.9" height="100.5" fill="#E69F00" /><rect x="589.0" y="111.5" width="20.9" height="0.3" fill="#56B4E9" /><rect x="589.0" y="111.8" width="20.9" height="5.9" fill="#009E73" /><rect x="589.0" y="117.6" width="20.9" height="1.2" fill="#0072B2" /><rect x="589.0" y="118.7" width="20.9" height="1.4" fill="#D55E00" /><rect x="589.0" y="120.1" width="20.9" height="0.3" fill="#CC79A7" /><rect x="589.0" y="120.4" width="20.9" height="0.3" fill="#666666" /><rect x="589.0" y="120.7" width="20.9" height="1.7" fill="#AD7700" /><rect x="589.0" y="122.3" width="20.9" height="13.1" fill="#1C91D4" /><line x1="516.0" y1="11.1" x2="516.0" y2="135.4" stroke="#333" stroke-width="0.70" /><line x1="514.6" y1="11.1" x2="516.0" y2="11.1" stroke="#333" stroke-width="0.50" /><text x="514.5" y="12.3" font-size="3.40" text-anchor="end" font-weight="normal" fill="#333"  stroke="#333" stroke-width="0.08">100</text><line x1="514.6" y1="73.3" x2="516.0" y2="73.3" stroke="#333" stroke-width="0.50" /><text x="514.5" y="74.5" font-size="3.40" text-anchor="end" font-weight="normal" fill="#333"  stroke="#333" stroke-width="0.08">50</text><line x1="514.6" y1="135.4" x2="516.0" y2="135.4" stroke="#333" stroke-width="0.50" /><text x="514.5" y="136.6" font-size="3.40" text-anchor="end" font-weight="normal" fill="#333"  stroke="#333" stroke-width="0.08">0</text><text transform="translate(507.2,73.5) rotate(-90)" font-size="5.10" text-anchor="middle" font-weight="normal" fill="#111" stroke="#111" stroke-width="0.12">Percent of cells</text><text transform="translate(532.5,138.3) rotate(-45)" font-size="5.20" text-anchor="end" font-weight="normal" fill="#444" stroke="#444" stroke-width="0.12">PBS+diluent</text><text transform="translate(555.9,138.3) rotate(-45)" font-size="5.20" text-anchor="end" font-weight="normal" fill="#444" stroke="#444" stroke-width="0.12">PBS+IL7</text><text transform="translate(579.4,138.3) rotate(-45)" font-size="5.20" text-anchor="end" font-weight="normal" fill="#444" stroke="#444" stroke-width="0.12">ZIKV+diluent</text><text transform="translate(602.8,138.3) rotate(-45)" font-size="5.20" text-anchor="end" font-weight="normal" fill="#444" stroke="#444" stroke-width="0.12">ZIKV+IL7</text><rect x="619.8" y="41.7" width="5.7" height="6.1" fill="#E69F00" /><text x="626.5" y="46.6" font-size="5.30" text-anchor="start" font-weight="normal" fill="#000"  stroke="#000" stroke-width="0.13">T Cells</text><rect x="619.8" y="48.1" width="5.7" height="6.1" fill="#56B4E9" /><text x="626.5" y="53.0" font-size="5.30" text-anchor="start" font-weight="normal" fill="#000"  stroke="#000" stroke-width="0.13">B Cells</text><rect x="619.8" y="54.6" width="5.7" height="6.1" fill="#009E73" /><text x="626.5" y="59.5" font-size="5.30" text-anchor="start" font-weight="normal" fill="#000"  stroke="#000" stroke-width="0.13">NK Cells</text><rect x="619.8" y="61.0" width="5.7" height="6.1" fill="#F0E442" /><text x="626.5" y="65.9" font-size="5.30" text-anchor="start" font-weight="normal" fill="#000"  stroke="#000" stroke-width="0.13">cDC1</text><rect x="619.8" y="67.4" width="5.7" height="6.1" fill="#0072B2" /><text x="626.5" y="72.3" font-size="5.30" text-anchor="start" font-weight="normal" fill="#000"  stroke="#000" stroke-width="0.13">cDC2</text><rect x="619.8" y="73.8" width="5.7" height="6.1" fill="#D55E00" /><text x="626.5" y="78.8" font-size="5.30" text-anchor="start" font-weight="normal" fill="#000"  stroke="#000" stroke-width="0.13">migDC</text><rect x="619.8" y="80.3" width="5.7" height="6.1" fill="#CC79A7" /><text x="626.5" y="85.2" font-size="5.30" text-anchor="start" font-weight="normal" fill="#000"  stroke="#000" stroke-width="0.13">pDC</text><rect x="619.8" y="86.7" width="5.7" height="6.1" fill="#666666" /><text x="626.5" y="91.6" font-size="5.30" text-anchor="start" font-weight="normal" fill="#000"  stroke="#000" stroke-width="0.13">Neutrophils</text><rect x="619.8" y="93.1" width="5.7" height="6.1" fill="#AD7700" /><text x="626.5" y="98.0" font-size="5.30" text-anchor="start" font-weight="normal" fill="#000"  stroke="#000" stroke-width="0.13">Microglia</text><rect x="619.8" y="99.6" width="5.7" height="6.1" fill="#1C91D4" /><text x="626.5" y="104.5" font-size="5.30" text-anchor="start" font-weight="normal" fill="#000"  stroke="#000" stroke-width="0.13">Monocytes/Macrophages</text></g>
<g id="pC"><text x="0.5" y="163.9" font-size="9.90" text-anchor="start" font-weight="bold" fill="#000"  stroke="#000" stroke-width="0.24">C</text><text x="22.3" y="171.5" font-size="9.2" fill="#111" stroke="#111" stroke-width="0.2">CD8<tspan font-size="5.4" dy="-3">+</tspan></text><polygon points="88.6,175.5 93.0,172.9 103.8,173.6 108.6,178.3 114.9,183.9 118.9,187.1 124.3,191.8 129.1,196.5 128.3,201.3 125.2,204.4 122.0,206.3 118.9,208.3 122.7,209.8 126.8,211.4 127.5,213.9 123.6,215.5 120.5,217.0 122.0,220.2 125.2,224.9 126.8,228.1 126.2,231.2 128.3,236.0 129.1,240.7 127.5,247.0 124.3,250.8 122.0,254.9 118.9,258.0 115.7,261.9 114.9,264.3 118.9,267.5 122.7,269.1 122.0,272.9 118.9,273.8 114.9,269.8 111.7,265.9 102.6,265.7 92.1,263.1 82.4,259.6 74.6,254.3 69.3,247.3 65.8,242.1 58.8,238.6 56.2,233.3 57.9,228.1 62.3,225.4 63.2,221.9 54.4,221.9 52.7,219.3 55.3,217.6 61.4,216.7 60.2,212.3 57.0,208.8 50.0,206.2 49.2,203.9 52.7,202.7 62.3,203.2 67.6,200.9 72.8,194.8 76.3,187.8 82.4,181.6 86.8,179.9" fill="#E6E6E6" /><path d="M91.3 173.0h0M92.6 171.9h0M92.1 173.2h0M100.2 173.2h0M98.1 173.8h0M99.5 173.3h0M96.7 172.7h0M104.7 174.1h0M106.8 176.5h0M108.0 178.0h0M115.0 183.5h0M113.9 183.5h0M110.6 179.2h0M115.0 183.5h0M116.5 185.3h0M114.9 184.8h0M118.7 186.7h0M120.8 188.0h0M119.8 188.7h0M124.7 192.1h0M127.9 195.3h0M127.6 196.0h0M129.3 196.7h0M128.7 201.8h0M125.8 204.0h0M126.4 202.3h0M124.8 203.7h0M123.7 206.4h0M121.4 207.1h0M118.5 209.1h0M120.8 209.5h0M119.8 208.7h0M125.8 210.9h0M123.6 209.9h0M127.1 213.1h0M123.8 215.3h0M127.4 213.9h0M122.2 216.0h0M122.3 219.1h0M124.9 224.2h0M122.7 220.5h0M126.9 226.3h0M125.7 231.3h0M127.4 234.7h0M127.4 233.5h0M129.7 240.5h0M128.6 238.5h0M128.8 241.4h0M128.7 242.1h0M127.5 244.3h0M126.2 248.0h0M126.0 248.1h0M124.3 251.8h0M123.6 253.2h0M121.0 255.2h0M118.9 256.7h0M117.3 258.7h0M115.7 262.0h0M114.5 262.7h0M118.1 267.3h0M116.1 263.9h0M120.4 267.5h0M122.1 269.4h0M122.1 270.9h0M122.4 270.8h0M120.1 273.6h0M116.9 271.7h0M116.0 270.9h0M113.4 268.1h0M114.3 269.5h0M110.5 266.0h0M107.7 265.4h0M109.6 265.9h0M107.9 266.3h0M101.6 265.0h0M102.0 265.5h0M96.5 264.9h0M92.7 262.7h0M93.7 263.2h0M90.2 262.2h0M83.5 259.6h0M88.7 261.9h0M90.4 262.5h0M80.6 258.1h0M79.2 257.8h0M80.6 258.0h0M75.4 254.2h0M73.8 252.5h0M71.8 252.7h0M71.9 251.5h0M73.5 253.1h0M68.5 244.9h0M68.9 247.2h0M66.1 242.1h0M64.8 242.4h0M63.3 240.7h0M60.6 239.3h0M58.5 237.5h0M57.2 236.1h0M56.6 230.6h0M57.4 229.3h0M58.0 227.7h0M61.7 225.7h0M62.4 223.0h0M62.5 222.5h0M54.8 222.3h0M55.9 222.3h0M56.8 222.3h0M56.7 222.1h0M53.3 219.7h0M53.4 218.3h0M57.7 217.8h0M60.6 217.0h0M60.5 216.1h0M61.2 215.2h0M60.2 212.2h0M57.7 210.1h0M57.1 208.7h0M55.2 207.9h0M52.5 207.3h0M52.9 207.2h0M49.9 205.4h0M51.1 202.2h0M49.2 203.9h0M57.3 203.1h0M57.0 203.1h0M53.7 202.3h0M60.8 202.9h0M63.3 202.5h0M66.0 201.5h0M68.2 200.1h0M68.3 199.1h0M67.9 200.2h0M72.9 193.7h0M75.4 188.7h0M76.4 189.3h0M77.4 188.4h0M80.5 183.8h0M81.8 181.0h0M76.8 186.6h0M83.1 181.8h0M83.8 181.2h0M87.7 175.5h0M87.9 177.5h0" stroke="#E6E6E6" stroke-width="2.50" stroke-linecap="round" fill="none" /><polygon points="22.4,200.2 22.9,195.4 24.2,190.6 26.4,186.2 29.9,182.3 34.3,179.6 39.5,177.9 43.0,175.7 45.6,176.1 48.7,178.8 50.0,183.1 51.8,186.6 53.5,188.8 54.8,192.3 54.4,194.1 52.7,193.6 50.0,190.6 47.8,188.8 45.2,187.5 43.9,184.0 42.1,181.4 40.4,183.1 39.1,186.6 37.8,188.8 38.2,191.5 40.4,193.2 41.3,196.3 40.4,198.9 43.0,200.2 45.2,202.0 45.2,204.6 43.0,205.0 40.4,205.5 37.8,203.7 34.3,202.0 30.8,202.4 26.4,202.8 23.8,202.4" fill="#E6E6E6" /><path d="M22.0 197.0h0M22.7 198.4h0M24.2 194.7h0M23.5 193.1h0M25.8 188.1h0M24.9 188.8h0M27.2 186.0h0M27.9 184.5h0M30.9 181.9h0M31.2 182.1h0M34.9 179.4h0M38.9 177.3h0M41.4 176.8h0M41.7 177.1h0M45.1 176.3h0M45.7 176.4h0M47.3 177.1h0M48.7 180.2h0M49.6 181.7h0M49.9 182.9h0M49.9 186.0h0M52.6 187.0h0M54.7 190.4h0M54.4 192.2h0M55.8 193.0h0M53.7 193.8h0M52.5 193.1h0M52.5 194.0h0M49.5 190.1h0M45.5 188.1h0M44.5 186.1h0M45.3 186.8h0M41.5 181.0h0M42.4 181.8h0M39.3 184.6h0M39.4 184.2h0M37.8 187.6h0M38.2 189.7h0M38.5 190.7h0M40.8 194.3h0M41.5 197.2h0M41.9 199.8h0M44.9 201.5h0M45.1 202.9h0M44.0 205.5h0M42.1 204.8h0M37.9 203.9h0M34.2 201.3h0M35.1 202.1h0M31.2 202.5h0M30.7 202.8h0M27.8 202.9h0M24.3 202.5h0M24.0 202.6h0" stroke="#E6E6E6" stroke-width="2.50" stroke-linecap="round" fill="none" /><path d="M105.9 198.4h0M99.9 186.5h0M109.2 218.2h0M115.2 209.0h0M105.7 188.8h0M115.7 194.4h0M110.9 214.7h0M104.0 211.6h0M105.5 218.8h0M114.1 197.9h0M124.5 245.9h0M115.0 199.9h0M116.8 218.3h0M113.8 217.2h0M112.4 195.7h0M110.3 214.5h0M100.4 211.3h0M109.8 179.0h0M122.5 228.5h0M118.5 194.0h0M116.5 236.4h0M116.8 192.8h0" stroke="#E69F00" stroke-width="2.60" stroke-linecap="round" fill="none" /><path d="M64.7 226.6h0M66.7 212.4h0M65.8 222.7h0M94.9 245.8h0M68.2 222.3h0M34.6 193.3h0M96.6 236.6h0M65.0 228.5h0M79.4 229.1h0M33.5 200.4h0M64.9 218.3h0M66.5 215.5h0M37.4 196.8h0M65.1 214.7h0M66.3 229.6h0M65.5 213.4h0M85.5 234.9h0M69.0 212.5h0M66.8 211.1h0M95.5 227.6h0M32.7 196.4h0M67.7 219.3h0M67.8 224.5h0M30.0 191.4h0M65.5 223.1h0M79.9 255.8h0M61.3 220.1h0M33.0 183.1h0M68.9 224.4h0M100.3 234.5h0M69.7 212.0h0M98.6 225.6h0M47.7 180.7h0M64.3 214.8h0M97.4 233.1h0M96.3 233.6h0M100.6 231.0h0M84.2 233.5h0M68.1 229.7h0M66.6 219.6h0M70.1 223.8h0M66.6 219.0h0M70.7 217.2h0M106.6 243.3h0M37.3 198.6h0M68.8 214.9h0M33.1 189.3h0M66.1 205.0h0M61.5 210.0h0M33.1 193.7h0M73.0 213.5h0M104.2 242.2h0M64.4 212.5h0M64.5 211.0h0M71.1 211.5h0M66.4 221.7h0M97.9 233.4h0M76.6 224.8h0M95.2 230.8h0M58.8 208.0h0M95.4 238.5h0M35.5 193.0h0M73.5 231.3h0M96.0 226.7h0M34.0 185.6h0M103.2 238.6h0M68.8 217.1h0M63.2 217.2h0M64.0 211.5h0M69.5 217.3h0M81.6 229.8h0M47.3 181.4h0M32.9 185.6h0M65.6 209.6h0M96.1 228.4h0M65.3 228.2h0M35.2 191.4h0M68.4 213.8h0" stroke="#0072B2" stroke-width="2.60" stroke-linecap="round" fill="none" /><path d="M109.9 246.4h0M114.8 215.5h0M114.1 223.3h0M98.8 244.2h0M104.4 258.6h0M99.1 221.8h0M116.9 244.8h0M102.3 222.9h0M114.2 240.1h0M116.4 221.6h0M28.5 192.0h0M86.4 244.5h0M114.1 242.3h0M114.0 230.1h0M114.7 251.3h0" stroke="#009E73" stroke-width="2.60" stroke-linecap="round" fill="none" /><path d="M118.6 198.8h0M119.1 201.1h0M113.3 206.1h0M108.7 204.8h0" stroke="#56B4E9" stroke-width="2.60" stroke-linecap="round" fill="none" /><path d="M81.2 198.2h0M79.8 186.0h0M75.7 202.5h0M72.5 199.7h0M74.0 203.0h0" stroke="#F0E442" stroke-width="2.60" stroke-linecap="round" fill="none" /><path d="M116.1 198.6h0M97.3 202.7h0M103.0 180.6h0M123.8 236.0h0M101.8 226.1h0M118.3 239.3h0M114.7 239.5h0M120.4 213.0h0M114.4 186.5h0M111.9 187.4h0M113.0 221.0h0M120.3 212.2h0M119.7 247.2h0M112.8 197.2h0M114.2 188.4h0M117.9 220.0h0" stroke="#E69F00" stroke-width="2.60" stroke-linecap="round" fill="none" /><path d="M68.7 212.9h0M61.7 232.6h0M69.3 220.4h0M65.7 202.8h0M66.5 221.7h0M97.9 233.8h0M61.6 214.6h0M63.0 207.9h0M62.2 220.9h0M72.5 210.6h0M65.1 220.0h0M97.5 235.7h0M68.0 220.7h0M101.2 228.6h0M73.2 220.9h0M67.4 226.0h0M64.6 231.4h0M65.2 207.7h0M102.1 225.8h0M82.8 228.7h0M66.4 209.3h0M66.5 226.6h0M98.7 227.4h0M47.4 183.8h0M36.6 191.6h0M86.9 247.4h0M63.0 219.4h0M69.9 229.6h0M89.8 248.8h0M88.5 248.2h0M47.4 181.6h0M37.0 191.8h0M37.5 192.6h0M46.8 178.2h0M32.7 193.5h0M34.6 195.5h0M34.6 192.6h0M95.2 228.9h0M73.9 215.9h0M69.1 224.9h0M87.3 230.5h0M32.7 195.7h0M66.2 216.8h0M70.9 221.9h0M67.1 230.7h0M63.5 227.8h0M32.4 190.1h0M63.9 218.1h0M48.4 180.7h0M63.1 208.4h0M101.5 237.4h0M99.4 240.4h0M65.5 212.1h0M102.7 233.5h0M68.2 219.4h0M77.8 242.2h0M35.9 187.2h0M36.2 198.8h0M96.8 234.3h0M63.4 209.5h0M61.9 203.7h0M64.5 228.6h0M65.0 210.0h0M47.4 178.4h0M31.3 193.1h0M92.8 232.8h0M81.9 226.7h0M88.0 238.4h0M31.7 196.4h0M63.1 223.6h0M61.5 232.8h0M64.4 211.0h0M36.2 192.4h0M61.0 206.6h0M47.6 178.2h0M68.0 200.5h0M94.8 234.8h0M100.1 226.6h0M102.3 235.8h0M65.5 219.7h0M72.9 227.1h0M58.4 203.6h0M90.6 235.5h0M91.7 229.8h0M65.1 219.7h0M68.8 218.9h0M32.9 199.0h0M96.8 228.9h0M33.1 182.7h0" stroke="#0072B2" stroke-width="2.60" stroke-linecap="round" fill="none" /><path d="M107.5 234.5h0M118.5 210.1h0M117.7 248.1h0M120.0 240.4h0M117.5 255.8h0M105.8 229.0h0" stroke="#009E73" stroke-width="2.60" stroke-linecap="round" fill="none" /><path d="M106.2 195.2h0M113.0 191.1h0M111.2 196.1h0M112.1 203.7h0M111.9 197.5h0" stroke="#56B4E9" stroke-width="2.60" stroke-linecap="round" fill="none" /><path d="M73.2 204.0h0M73.5 195.3h0M106.0 193.0h0M111.5 230.6h0M77.6 198.3h0M75.8 199.9h0M72.7 204.9h0M74.7 206.1h0" stroke="#F0E442" stroke-width="2.60" stroke-linecap="round" fill="none" /><rect x="136.8" y="167.1" width="19.2" height="14.4" fill="#E69F00" /><rect x="136.8" y="181.4" width="19.2" height="5.8" fill="#56B4E9" /><rect x="136.8" y="187.2" width="19.2" height="10.6" fill="#009E73" /><rect x="136.8" y="197.7" width="19.2" height="8.1" fill="#F0E442" /><rect x="136.8" y="205.7" width="19.2" height="68.6" fill="#0072B2" /><line x1="20.6" y1="279.5" x2="155.2" y2="279.5" stroke="#333" stroke-width="0.80" /><text x="90.4" y="287.9" font-size="6.40" text-anchor="middle" font-weight="normal" fill="#444"  stroke="#444" stroke-width="0.15">PBS+diluent</text><polygon points="237.2,175.5 241.6,172.9 252.4,173.6 257.2,178.3 263.5,183.9 267.5,187.1 272.9,191.8 277.7,196.5 276.9,201.3 273.8,204.4 270.6,206.3 267.5,208.3 271.3,209.8 275.4,211.4 276.1,213.9 272.2,215.5 269.1,217.0 270.6,220.2 273.8,224.9 275.4,228.1 274.8,231.2 276.9,236.0 277.7,240.7 276.1,247.0 272.9,250.8 270.6,254.9 267.5,258.0 264.3,261.9 263.5,264.3 267.5,267.5 271.3,269.1 270.6,272.9 267.5,273.8 263.5,269.8 260.3,265.9 251.2,265.7 240.7,263.1 231.0,259.6 223.2,254.3 217.9,247.3 214.4,242.1 207.4,238.6 204.8,233.3 206.5,228.1 210.9,225.4 211.8,221.9 203.0,221.9 201.3,219.3 203.9,217.6 210.0,216.7 208.8,212.3 205.6,208.8 198.6,206.2 197.8,203.9 201.3,202.7 210.9,203.2 216.2,200.9 221.4,194.8 224.9,187.8 231.0,181.6 235.4,179.9" fill="#E6E6E6" /><path d="M239.9 173.0h0M241.2 171.9h0M240.7 173.2h0M248.8 173.2h0M246.7 173.8h0M248.1 173.3h0M245.3 172.7h0M253.3 174.1h0M255.4 176.5h0M256.6 178.0h0M263.6 183.5h0M262.5 183.5h0M259.2 179.2h0M263.6 183.5h0M265.1 185.3h0M263.5 184.8h0M267.3 186.7h0M269.4 188.0h0M268.4 188.7h0M273.3 192.1h0M276.5 195.3h0M276.2 196.0h0M277.9 196.7h0M277.3 201.8h0M274.4 204.0h0M275.0 202.3h0M273.4 203.7h0M272.3 206.4h0M270.0 207.1h0M267.1 209.1h0M269.4 209.5h0M268.4 208.7h0M274.4 210.9h0M272.2 209.9h0M275.7 213.1h0M272.4 215.3h0M276.0 213.9h0M270.8 216.0h0M270.9 219.1h0M273.5 224.2h0M271.3 220.5h0M275.5 226.3h0M274.3 231.3h0M276.0 234.7h0M276.0 233.5h0M278.3 240.5h0M277.2 238.5h0M277.4 241.4h0M277.3 242.1h0M276.1 244.3h0M274.8 248.0h0M274.6 248.1h0M272.9 251.8h0M272.2 253.2h0M269.6 255.2h0M267.5 256.7h0M265.9 258.7h0M264.3 262.0h0M263.1 262.7h0M266.7 267.3h0M264.7 263.9h0M269.0 267.5h0M270.7 269.4h0M270.7 270.9h0M271.0 270.8h0M268.7 273.6h0M265.5 271.7h0M264.6 270.9h0M262.0 268.1h0M262.9 269.5h0M259.1 266.0h0M256.3 265.4h0M258.2 265.9h0M256.5 266.3h0M250.2 265.0h0M250.6 265.5h0M245.1 264.9h0M241.3 262.7h0M242.3 263.2h0M238.8 262.2h0M232.1 259.6h0M237.3 261.9h0M239.0 262.5h0M229.2 258.1h0M227.8 257.8h0M229.2 258.0h0M224.0 254.2h0M222.4 252.5h0M220.4 252.7h0M220.5 251.5h0M222.1 253.1h0M217.1 244.9h0M217.5 247.2h0M214.7 242.1h0M213.4 242.4h0M211.9 240.7h0M209.2 239.3h0M207.1 237.5h0M205.8 236.1h0M205.2 230.6h0M206.0 229.3h0M206.6 227.7h0M210.3 225.7h0M211.0 223.0h0M211.1 222.5h0M203.4 222.3h0M204.5 222.3h0M205.4 222.3h0M205.3 222.1h0M201.9 219.7h0M202.0 218.3h0M206.3 217.8h0M209.2 217.0h0M209.1 216.1h0M209.8 215.2h0M208.8 212.2h0M206.3 210.1h0M205.7 208.7h0M203.8 207.9h0M201.1 207.3h0M201.5 207.2h0M198.5 205.4h0M199.7 202.2h0M197.8 203.9h0M205.9 203.1h0M205.6 203.1h0M202.3 202.3h0M209.4 202.9h0M211.9 202.5h0M214.6 201.5h0M216.8 200.1h0M216.9 199.1h0M216.5 200.2h0M221.5 193.7h0M224.0 188.7h0M225.0 189.3h0M226.0 188.4h0M229.1 183.8h0M230.4 181.0h0M225.4 186.6h0M231.7 181.8h0M232.4 181.2h0M236.3 175.5h0M236.5 177.5h0" stroke="#E6E6E6" stroke-width="2.50" stroke-linecap="round" fill="none" /><polygon points="171.0,200.2 171.5,195.4 172.8,190.6 175.0,186.2 178.5,182.3 182.9,179.6 188.1,177.9 191.6,175.7 194.2,176.1 197.3,178.8 198.6,183.1 200.4,186.6 202.1,188.8 203.4,192.3 203.0,194.1 201.3,193.6 198.6,190.6 196.4,188.8 193.8,187.5 192.5,184.0 190.7,181.4 189.0,183.1 187.7,186.6 186.4,188.8 186.8,191.5 189.0,193.2 189.9,196.3 189.0,198.9 191.6,200.2 193.8,202.0 193.8,204.6 191.6,205.0 189.0,205.5 186.4,203.7 182.9,202.0 179.4,202.4 175.0,202.8 172.4,202.4" fill="#E6E6E6" /><path d="M170.6 197.0h0M171.3 198.4h0M172.8 194.7h0M172.1 193.1h0M174.4 188.1h0M173.5 188.8h0M175.8 186.0h0M176.5 184.5h0M179.5 181.9h0M179.8 182.1h0M183.5 179.4h0M187.5 177.3h0M190.0 176.8h0M190.3 177.1h0M193.7 176.3h0M194.3 176.4h0M195.9 177.1h0M197.3 180.2h0M198.2 181.7h0M198.5 182.9h0M198.5 186.0h0M201.2 187.0h0M203.3 190.4h0M203.0 192.2h0M204.4 193.0h0M202.3 193.8h0M201.1 193.1h0M201.1 194.0h0M198.1 190.1h0M194.1 188.1h0M193.1 186.1h0M193.9 186.8h0M190.1 181.0h0M191.0 181.8h0M187.9 184.6h0M188.0 184.2h0M186.4 187.6h0M186.8 189.7h0M187.1 190.7h0M189.4 194.3h0M190.1 197.2h0M190.5 199.8h0M193.5 201.5h0M193.7 202.9h0M192.6 205.5h0M190.7 204.8h0M186.5 203.9h0M182.8 201.3h0M183.7 202.1h0M179.8 202.5h0M179.3 202.8h0M176.4 202.9h0M172.9 202.5h0M172.6 202.6h0" stroke="#E6E6E6" stroke-width="2.50" stroke-linecap="round" fill="none" /><path d="M234.7 187.8h0M271.8 246.8h0M242.9 179.9h0M274.7 237.3h0M254.4 188.8h0M259.8 198.7h0M242.3 187.5h0M251.1 194.2h0M243.3 187.6h0M243.2 181.0h0M248.9 187.8h0M263.4 191.2h0M244.7 187.7h0M256.7 180.2h0M269.2 234.9h0M241.6 187.6h0M264.4 188.2h0M255.2 181.0h0M271.7 234.8h0M244.9 179.9h0M247.6 187.3h0M269.9 241.3h0M257.0 182.1h0M250.1 182.7h0M239.6 187.8h0M242.4 182.8h0M251.7 189.0h0M270.9 244.9h0M274.1 240.2h0M272.5 242.4h0M251.6 187.7h0M258.9 191.8h0M268.4 242.1h0M246.8 183.2h0M268.2 245.8h0M246.9 188.1h0M246.9 177.5h0M249.3 192.6h0M254.7 192.8h0M258.4 193.4h0M263.4 185.6h0M269.0 246.1h0M273.0 229.9h0M250.2 180.7h0M258.0 184.1h0M274.5 239.6h0M254.1 197.4h0M244.7 193.0h0M253.7 179.3h0M273.8 235.0h0M253.7 184.7h0M256.0 183.1h0M247.5 181.7h0M256.1 187.1h0M245.4 185.5h0M236.6 184.5h0M250.2 179.0h0M267.5 190.3h0M254.7 184.5h0M263.7 189.5h0M274.7 241.6h0M253.6 183.5h0M255.3 187.4h0M261.0 187.4h0M269.5 243.8h0M254.0 193.6h0M271.0 242.0h0M232.7 190.1h0M262.6 185.6h0M251.5 188.4h0" stroke="#E69F00" stroke-width="2.60" stroke-linecap="round" fill="none" /><path d="M252.1 243.5h0M226.2 255.2h0M189.5 205.0h0M244.1 249.8h0M213.3 221.1h0M183.3 187.0h0M238.0 196.6h0M187.1 187.1h0M217.0 218.8h0M242.7 241.5h0M218.9 230.9h0M181.2 183.2h0M217.3 219.6h0M248.1 247.6h0M211.9 239.7h0M237.4 234.1h0M247.2 241.5h0M182.3 184.6h0M246.7 240.3h0M215.3 226.0h0M210.4 217.9h0M218.5 236.6h0M185.4 198.1h0M245.2 242.1h0M214.0 226.1h0M218.2 213.1h0M215.9 229.9h0M252.0 204.0h0M182.0 195.1h0M208.9 221.0h0M242.4 238.1h0M240.7 243.3h0M215.8 219.4h0M214.0 231.1h0M211.2 236.5h0M210.9 240.1h0M185.1 192.0h0M212.9 227.9h0M185.2 199.2h0M256.0 248.5h0M229.0 241.0h0M246.3 238.5h0M174.1 197.0h0M222.5 224.6h0M216.2 228.5h0M175.3 189.6h0M217.6 238.6h0M213.4 228.8h0M247.1 242.5h0M218.0 237.7h0M210.8 235.1h0M223.7 217.8h0M250.5 215.6h0M246.2 196.7h0M215.0 232.9h0M232.4 221.4h0M207.8 235.9h0M209.5 208.2h0M213.4 216.0h0M222.5 220.2h0M220.8 235.9h0M182.5 196.2h0M252.8 243.7h0M213.5 221.3h0M176.2 195.0h0M240.9 236.8h0M231.3 252.4h0M185.2 183.7h0M212.5 232.3h0M213.5 206.6h0M183.8 183.8h0M225.3 251.5h0M206.2 217.3h0M247.4 241.8h0M250.0 241.9h0M214.6 206.8h0M249.7 245.6h0M231.5 253.0h0M240.8 244.5h0M245.5 250.0h0M234.9 248.0h0M212.4 214.0h0M247.3 251.3h0M179.5 182.7h0M211.7 230.2h0M180.2 184.0h0M226.2 203.1h0M217.7 218.6h0M217.6 238.0h0M218.3 237.9h0M247.0 235.5h0M215.0 226.7h0M218.6 230.8h0M262.1 224.7h0M241.7 247.0h0M247.6 246.0h0M213.8 223.0h0M216.8 220.8h0M183.6 189.3h0M217.7 227.9h0M220.5 248.7h0M229.7 253.5h0M214.7 232.5h0M212.6 230.7h0M214.3 222.8h0M248.9 244.9h0M211.1 220.3h0M188.5 178.5h0M235.4 245.1h0M249.1 261.4h0M208.8 237.4h0M216.5 217.8h0M216.2 234.6h0M206.6 233.9h0" stroke="#0072B2" stroke-width="2.60" stroke-linecap="round" fill="none" /><path d="M246.3 228.9h0M257.1 228.4h0M261.7 248.3h0M258.6 250.4h0M248.3 225.1h0M261.1 197.5h0M273.6 233.3h0M241.9 230.1h0M243.2 234.6h0M242.2 229.8h0M222.1 235.8h0M228.5 229.1h0M262.9 221.2h0M266.7 228.5h0M259.4 258.1h0M243.6 221.3h0M251.6 189.7h0M247.0 226.7h0M261.0 215.9h0M221.1 215.8h0M242.0 225.4h0M256.0 221.6h0M256.5 228.6h0M272.2 228.4h0M246.5 232.1h0M257.7 211.1h0M239.6 247.8h0M256.7 236.9h0M245.9 203.1h0M261.0 241.5h0M222.0 219.8h0M245.9 253.9h0M230.4 215.0h0M261.3 215.7h0M241.0 216.1h0M250.7 244.0h0M259.9 217.3h0M272.8 240.8h0M255.7 216.7h0M271.0 229.4h0M218.7 212.0h0M254.3 235.3h0M263.0 231.4h0M240.1 243.4h0M261.8 233.0h0M243.4 220.5h0M268.5 249.1h0M240.0 215.8h0M252.5 224.2h0M246.3 231.7h0M259.8 248.5h0M252.3 216.2h0M261.8 248.5h0" stroke="#009E73" stroke-width="2.60" stroke-linecap="round" fill="none" /><path d="M249.4 215.5h0M226.0 199.6h0M221.3 199.8h0M207.2 235.2h0M224.9 204.2h0M207.8 234.8h0M228.4 211.0h0M258.4 242.2h0M212.5 236.6h0M222.7 202.5h0M214.3 237.7h0M213.2 230.9h0M216.9 235.4h0M231.9 207.2h0M230.0 196.5h0M223.7 196.6h0M258.4 220.1h0M224.9 203.4h0M232.4 193.8h0M217.8 236.9h0M234.4 218.5h0M231.9 193.1h0" stroke="#F0E442" stroke-width="2.60" stroke-linecap="round" fill="none" /><path d="M267.6 245.0h0M265.0 235.7h0M258.1 207.8h0M267.0 212.9h0" stroke="#56B4E9" stroke-width="2.60" stroke-linecap="round" fill="none" /><path d="M244.6 181.4h0M252.0 186.4h0M238.2 191.6h0M272.5 233.6h0M240.0 191.4h0M258.1 181.1h0M230.0 187.8h0M243.2 186.1h0M266.8 248.8h0M247.9 181.8h0M271.0 239.1h0M257.9 190.5h0M273.2 236.1h0M252.3 175.1h0M275.6 241.9h0M260.4 181.8h0M250.7 187.6h0M244.4 175.0h0M270.7 239.5h0M260.0 181.7h0M243.5 180.1h0M260.7 181.9h0M257.7 190.2h0M253.4 192.4h0M238.9 187.9h0M244.4 194.8h0M262.2 187.1h0M256.7 183.8h0M247.2 194.6h0M269.1 236.6h0M242.3 178.6h0M270.7 245.4h0M254.5 191.5h0M246.0 191.0h0M243.5 179.9h0M259.2 191.7h0M262.5 200.0h0M252.0 187.5h0M262.9 193.0h0M268.8 229.0h0M245.0 180.4h0M243.2 181.2h0M244.8 187.0h0M269.7 239.8h0M253.4 186.9h0M273.1 233.8h0M257.9 184.4h0M258.7 185.3h0M257.3 183.6h0M262.2 190.9h0M242.3 174.1h0M239.5 192.6h0M240.0 184.8h0M256.9 189.2h0M248.7 197.9h0M253.2 185.1h0M253.2 191.2h0M234.5 193.5h0" stroke="#E69F00" stroke-width="2.60" stroke-linecap="round" fill="none" /><path d="M229.6 208.7h0M214.6 229.8h0M180.4 188.5h0M214.1 219.6h0M211.1 212.0h0M205.7 218.9h0M238.9 228.3h0M183.6 199.7h0M260.4 229.7h0M182.5 195.4h0M175.5 193.3h0M219.9 222.4h0M183.4 198.0h0M182.9 193.0h0M215.9 227.0h0M216.7 226.5h0M208.8 226.8h0M230.4 254.4h0M214.8 202.5h0M222.6 253.3h0M183.8 186.2h0M212.8 211.7h0M243.8 241.7h0M203.9 203.5h0M212.4 231.6h0M264.3 194.5h0M270.6 271.5h0M182.2 180.6h0M216.7 212.0h0M254.2 244.0h0M244.5 238.5h0M186.0 197.3h0M215.1 232.6h0M180.1 184.9h0M209.8 220.1h0M185.8 197.3h0M244.8 235.9h0M175.1 193.0h0M237.2 237.5h0M220.4 233.2h0M244.3 242.3h0M210.8 229.1h0M208.6 227.0h0M242.9 241.0h0M207.8 229.7h0M221.5 228.4h0M226.7 254.5h0M259.3 230.9h0M209.7 235.3h0M181.9 182.3h0M231.7 221.2h0M182.8 197.7h0M215.0 221.1h0M227.1 253.3h0M184.7 199.4h0M252.1 242.4h0M217.5 225.1h0M182.0 194.6h0M217.0 239.1h0M214.3 207.3h0M252.3 240.0h0M177.6 185.6h0M214.8 204.9h0M220.0 229.2h0M215.0 229.2h0M179.7 181.7h0M240.8 241.6h0M215.6 220.1h0M188.2 180.4h0M228.7 248.1h0M248.4 247.9h0M214.5 211.9h0M178.5 188.8h0M210.4 229.4h0M265.0 233.9h0M215.9 203.4h0M171.8 197.0h0M243.7 243.1h0M257.0 207.1h0M223.7 223.0h0M213.1 238.4h0M244.3 252.5h0M181.8 185.1h0M209.5 228.3h0M248.8 249.2h0M181.3 191.5h0M221.0 218.1h0M219.1 222.4h0M237.2 238.0h0M206.5 233.9h0M228.4 255.9h0M209.4 219.5h0M210.3 232.4h0M182.0 188.9h0M217.7 223.9h0M230.0 240.4h0M267.5 202.5h0M178.9 197.6h0M218.0 231.8h0M252.4 222.3h0M231.6 257.0h0M209.2 216.9h0M253.3 233.6h0M185.2 197.1h0M233.0 252.6h0M216.3 230.9h0" stroke="#0072B2" stroke-width="2.60" stroke-linecap="round" fill="none" /><path d="M234.2 227.7h0M231.3 223.8h0M238.4 238.6h0M247.7 208.1h0M235.4 220.4h0M245.0 257.2h0M225.3 215.0h0M254.7 230.1h0M234.1 230.1h0M247.3 218.2h0M254.9 232.3h0M247.5 233.9h0M250.7 224.1h0M239.4 192.5h0M257.8 241.2h0M244.3 215.4h0M239.0 214.7h0M247.9 236.8h0M274.3 241.8h0M256.1 226.1h0M249.9 219.6h0M261.4 214.3h0M238.7 238.5h0M224.7 230.5h0M250.3 214.6h0M249.4 207.3h0M261.1 247.3h0M249.5 235.9h0M228.0 233.0h0M249.2 233.3h0M253.9 209.9h0M267.9 245.5h0M267.9 197.1h0M244.5 248.4h0M244.9 220.9h0M256.3 229.1h0M246.3 226.5h0M232.9 256.6h0M265.0 209.5h0M255.5 203.5h0M223.1 224.3h0M234.6 233.2h0M231.2 211.0h0M258.3 220.8h0M249.2 242.1h0M245.7 206.1h0M244.2 213.6h0M232.0 222.5h0M243.4 248.8h0M240.6 233.3h0M228.4 229.9h0M235.9 237.0h0M257.2 240.2h0M243.8 210.0h0M251.1 214.4h0M240.8 218.5h0M249.3 247.6h0" stroke="#009E73" stroke-width="2.60" stroke-linecap="round" fill="none" /><path d="M267.9 231.9h0M270.6 236.7h0M265.0 226.5h0M265.4 198.6h0M263.9 227.2h0M263.4 197.7h0M270.3 225.5h0M269.8 270.6h0M259.5 244.5h0" stroke="#56B4E9" stroke-width="2.60" stroke-linecap="round" fill="none" /><path d="M220.7 244.5h0M226.3 196.0h0M233.6 199.7h0M255.6 226.1h0M223.8 195.8h0M260.1 241.0h0M248.4 212.7h0M221.7 198.5h0M221.1 199.9h0M256.6 241.2h0M246.2 244.6h0M224.4 195.8h0M217.2 229.8h0M225.1 197.5h0M225.0 203.7h0M227.1 202.9h0M221.3 199.1h0M228.7 207.9h0M219.7 209.3h0M237.1 237.4h0M228.3 201.2h0M212.7 229.0h0M207.9 236.4h0M223.9 193.4h0M224.3 195.0h0M214.9 241.4h0M232.4 199.3h0M220.6 232.4h0M210.0 239.3h0M218.6 206.1h0M228.3 199.3h0M220.3 205.8h0M246.1 210.5h0M251.2 236.8h0" stroke="#F0E442" stroke-width="2.60" stroke-linecap="round" fill="none" /><rect x="285.1" y="167.1" width="19.5" height="22.6" fill="#E69F00" /><rect x="285.1" y="189.7" width="19.5" height="4.3" fill="#56B4E9" /><rect x="285.1" y="193.9" width="19.5" height="21.4" fill="#009E73" /><rect x="285.1" y="215.3" width="19.5" height="17.6" fill="#F0E442" /><rect x="285.1" y="232.9" width="19.5" height="41.5" fill="#0072B2" /><line x1="169.5" y1="279.5" x2="303.6" y2="279.5" stroke="#333" stroke-width="0.80" /><text x="236.6" y="287.9" font-size="6.40" text-anchor="middle" font-weight="normal" fill="#444"  stroke="#444" stroke-width="0.15">PBS+IL7</text><polygon points="385.5,175.5 389.9,172.9 400.7,173.6 405.5,178.3 411.8,183.9 415.8,187.1 421.2,191.8 426.0,196.5 425.2,201.3 422.1,204.4 418.9,206.3 415.8,208.3 419.6,209.8 423.7,211.4 424.4,213.9 420.5,215.5 417.4,217.0 418.9,220.2 422.1,224.9 423.7,228.1 423.1,231.2 425.2,236.0 426.0,240.7 424.4,247.0 421.2,250.8 418.9,254.9 415.8,258.0 412.6,261.9 411.8,264.3 415.8,267.5 419.6,269.1 418.9,272.9 415.8,273.8 411.8,269.8 408.6,265.9 399.5,265.7 389.0,263.1 379.3,259.6 371.5,254.3 366.2,247.3 362.7,242.1 355.7,238.6 353.1,233.3 354.8,228.1 359.2,225.4 360.1,221.9 351.3,221.9 349.6,219.3 352.2,217.6 358.3,216.7 357.1,212.3 353.9,208.8 346.9,206.2 346.1,203.9 349.6,202.7 359.2,203.2 364.5,200.9 369.7,194.8 373.2,187.8 379.3,181.6 383.7,179.9" fill="#E6E6E6" /><path d="M388.2 173.0h0M389.5 171.9h0M389.0 173.2h0M397.1 173.2h0M395.0 173.8h0M396.4 173.3h0M393.6 172.7h0M401.6 174.1h0M403.7 176.5h0M404.9 178.0h0M411.9 183.5h0M410.8 183.5h0M407.5 179.2h0M411.9 183.5h0M413.4 185.3h0M411.8 184.8h0M415.6 186.7h0M417.7 188.0h0M416.7 188.7h0M421.6 192.1h0M424.8 195.3h0M424.5 196.0h0M426.2 196.7h0M425.6 201.8h0M422.7 204.0h0M423.3 202.3h0M421.7 203.7h0M420.6 206.4h0M418.3 207.1h0M415.4 209.1h0M417.7 209.5h0M416.7 208.7h0M422.7 210.9h0M420.5 209.9h0M424.0 213.1h0M420.7 215.3h0M424.3 213.9h0M419.1 216.0h0M419.2 219.1h0M421.8 224.2h0M419.6 220.5h0M423.8 226.3h0M422.6 231.3h0M424.3 234.7h0M424.3 233.5h0M426.6 240.5h0M425.5 238.5h0M425.7 241.4h0M425.6 242.1h0M424.4 244.3h0M423.1 248.0h0M422.9 248.1h0M421.2 251.8h0M420.5 253.2h0M417.9 255.2h0M415.8 256.7h0M414.2 258.7h0M412.6 262.0h0M411.4 262.7h0M415.0 267.3h0M413.0 263.9h0M417.3 267.5h0M419.0 269.4h0M419.0 270.9h0M419.3 270.8h0M417.0 273.6h0M413.8 271.7h0M412.9 270.9h0M410.3 268.1h0M411.2 269.5h0M407.4 266.0h0M404.6 265.4h0M406.5 265.9h0M404.8 266.3h0M398.5 265.0h0M398.9 265.5h0M393.4 264.9h0M389.6 262.7h0M390.6 263.2h0M387.1 262.2h0M380.4 259.6h0M385.6 261.9h0M387.3 262.5h0M377.5 258.1h0M376.1 257.8h0M377.5 258.0h0M372.3 254.2h0M370.7 252.5h0M368.7 252.7h0M368.8 251.5h0M370.4 253.1h0M365.4 244.9h0M365.8 247.2h0M363.0 242.1h0M361.7 242.4h0M360.2 240.7h0M357.5 239.3h0M355.4 237.5h0M354.1 236.1h0M353.5 230.6h0M354.3 229.3h0M354.9 227.7h0M358.6 225.7h0M359.3 223.0h0M359.4 222.5h0M351.7 222.3h0M352.8 222.3h0M353.7 222.3h0M353.6 222.1h0M350.2 219.7h0M350.3 218.3h0M354.6 217.8h0M357.5 217.0h0M357.4 216.1h0M358.1 215.2h0M357.1 212.2h0M354.6 210.1h0M354.0 208.7h0M352.1 207.9h0M349.4 207.3h0M349.8 207.2h0M346.8 205.4h0M348.0 202.2h0M346.1 203.9h0M354.2 203.1h0M353.9 203.1h0M350.6 202.3h0M357.7 202.9h0M360.2 202.5h0M362.9 201.5h0M365.1 200.1h0M365.2 199.1h0M364.8 200.2h0M369.8 193.7h0M372.3 188.7h0M373.3 189.3h0M374.3 188.4h0M377.4 183.8h0M378.7 181.0h0M373.7 186.6h0M380.0 181.8h0M380.7 181.2h0M384.6 175.5h0M384.8 177.5h0" stroke="#E6E6E6" stroke-width="2.50" stroke-linecap="round" fill="none" /><polygon points="319.3,200.2 319.8,195.4 321.1,190.6 323.3,186.2 326.8,182.3 331.2,179.6 336.4,177.9 339.9,175.7 342.5,176.1 345.6,178.8 346.9,183.1 348.7,186.6 350.4,188.8 351.7,192.3 351.3,194.1 349.6,193.6 346.9,190.6 344.7,188.8 342.1,187.5 340.8,184.0 339.0,181.4 337.3,183.1 336.0,186.6 334.7,188.8 335.1,191.5 337.3,193.2 338.2,196.3 337.3,198.9 339.9,200.2 342.1,202.0 342.1,204.6 339.9,205.0 337.3,205.5 334.7,203.7 331.2,202.0 327.7,202.4 323.3,202.8 320.7,202.4" fill="#E6E6E6" /><path d="M318.9 197.0h0M319.6 198.4h0M321.1 194.7h0M320.4 193.1h0M322.7 188.1h0M321.8 188.8h0M324.1 186.0h0M324.8 184.5h0M327.8 181.9h0M328.1 182.1h0M331.8 179.4h0M335.8 177.3h0M338.3 176.8h0M338.6 177.1h0M342.0 176.3h0M342.6 176.4h0M344.2 177.1h0M345.6 180.2h0M346.5 181.7h0M346.8 182.9h0M346.8 186.0h0M349.5 187.0h0M351.6 190.4h0M351.3 192.2h0M352.7 193.0h0M350.6 193.8h0M349.4 193.1h0M349.4 194.0h0M346.4 190.1h0M342.4 188.1h0M341.4 186.1h0M342.2 186.8h0M338.4 181.0h0M339.3 181.8h0M336.2 184.6h0M336.3 184.2h0M334.7 187.6h0M335.1 189.7h0M335.4 190.7h0M337.7 194.3h0M338.4 197.2h0M338.8 199.8h0M341.8 201.5h0M342.0 202.9h0M340.9 205.5h0M339.0 204.8h0M334.8 203.9h0M331.1 201.3h0M332.0 202.1h0M328.1 202.5h0M327.6 202.8h0M324.7 202.9h0M321.2 202.5h0M320.9 202.6h0" stroke="#E6E6E6" stroke-width="2.50" stroke-linecap="round" fill="none" /><polygon points="385.8,178.4 390.0,176.3 399.2,176.3 405.8,180.3 410.2,186.3 413.9,189.3 418.9,193.8 423.1,198.0 422.4,201.9 419.6,204.5 416.6,206.4 413.4,208.9 417.2,211.1 420.9,212.6 421.4,213.9 418.2,215.1 414.9,217.1 416.6,220.8 419.6,225.3 420.9,228.1 420.4,231.1 422.4,235.7 423.1,239.8 421.6,245.4 418.7,248.9 416.6,252.7 413.5,255.7 410.9,259.6 410.0,261.6 399.2,262.6 389.1,260.1 380.4,256.7 373.2,252.1 368.4,245.5 366.4,240.5 366.4,237.0 366.4,232.8 366.4,228.5 366.4,226.0 366.4,221.4 366.4,217.1 359.8,212.4 359.3,207.7 364.0,203.5 366.7,202.2 371.7,196.7 375.1,190.0 380.8,184.3 384.4,182.6" fill="#009E73" /><path d="M389.5 175.8h0M386.8 177.9h0M395.1 177.0h0M394.7 175.5h0M395.2 176.5h0M396.3 176.7h0M396.6 175.8h0M400.8 176.8h0M404.6 179.8h0M402.0 178.9h0M402.5 179.2h0M407.6 182.9h0M409.1 183.7h0M410.1 186.2h0M410.5 187.1h0M411.0 186.9h0M412.1 188.2h0M414.2 189.8h0M417.7 193.0h0M415.0 190.3h0M421.6 194.3h0M420.9 196.1h0M421.5 196.5h0M421.1 200.8h0M422.3 201.9h0M422.2 201.9h0M421.8 203.1h0M419.1 203.7h0M418.4 205.4h0M416.3 208.2h0M417.6 207.0h0M414.5 209.6h0M414.4 210.4h0M418.0 211.0h0M420.5 212.7h0M421.8 212.6h0M417.8 214.8h0M419.7 213.8h0M416.6 216.2h0M417.4 215.4h0M416.2 220.7h0M415.6 217.9h0M417.5 222.0h0M419.4 224.9h0M417.9 224.6h0M420.0 225.5h0M421.6 227.9h0M420.2 230.3h0M421.3 230.9h0M421.8 235.4h0M421.4 232.4h0M423.0 235.8h0M423.3 238.7h0M422.7 240.9h0M422.3 241.5h0M424.1 241.9h0M420.9 246.2h0M421.3 245.6h0M417.3 252.4h0M416.5 252.4h0M413.8 254.2h0M415.0 254.7h0M410.8 258.3h0M411.9 258.6h0M410.5 259.2h0M407.0 261.4h0M400.6 262.4h0M399.4 263.5h0M398.9 263.2h0M400.2 261.4h0M393.1 259.9h0M388.8 260.1h0M392.4 261.4h0M394.9 261.9h0M394.8 263.0h0M388.8 259.0h0M382.2 258.2h0M387.9 259.5h0M388.0 260.3h0M381.6 257.1h0M380.4 255.5h0M379.8 256.0h0M373.0 253.3h0M374.8 254.0h0M370.9 246.3h0M367.2 246.2h0M371.5 248.2h0M373.7 251.4h0M367.1 242.4h0M366.7 240.7h0M365.9 240.3h0M366.3 238.8h0M366.9 240.0h0M366.8 234.9h0M366.3 235.3h0M365.8 229.6h0M366.8 232.0h0M366.4 227.1h0M366.3 224.3h0M366.7 220.7h0M366.6 217.6h0M366.2 215.5h0M365.5 216.3h0M364.7 214.9h0M360.4 212.5h0M360.7 212.9h0M360.7 210.5h0M359.7 212.1h0M363.2 205.8h0M364.1 204.6h0M363.1 205.0h0M365.4 202.5h0M370.8 197.9h0M369.3 199.7h0M370.0 198.0h0M371.8 195.8h0M372.2 195.1h0M373.4 194.8h0M372.6 194.9h0M375.1 191.6h0M376.1 189.5h0M381.0 186.0h0M374.8 188.6h0M375.1 189.4h0M383.4 181.9h0M384.4 182.8h0M386.4 181.6h0M384.8 178.5h0" stroke="#009E73" stroke-width="2.50" stroke-linecap="round" fill="none" /><path d="M407.5 262.8h0M396.0 174.6h0M405.1 195.4h0M406.8 245.6h0M367.9 206.0h0M408.1 234.2h0M386.7 177.8h0M393.9 243.9h0M415.1 207.2h0M385.1 180.6h0M416.6 227.1h0M412.0 218.3h0M407.6 196.5h0M390.9 183.9h0M396.7 246.5h0M400.8 178.9h0M364.6 206.8h0M391.9 186.8h0M392.6 206.7h0M404.9 203.7h0M422.6 197.2h0M381.1 193.9h0M406.0 235.2h0M383.9 182.3h0M367.7 203.3h0M392.2 205.4h0M420.0 199.9h0M367.6 241.7h0M370.8 241.8h0M400.0 184.5h0M370.2 198.6h0M398.7 257.3h0M410.7 195.8h0M330.5 188.5h0M389.2 183.8h0M379.1 195.3h0M386.8 192.6h0M421.1 229.1h0M386.1 230.0h0M400.2 253.1h0M402.4 209.5h0M404.9 204.4h0M399.1 187.6h0M381.4 194.4h0M403.8 250.8h0M418.7 244.4h0M401.2 232.4h0M414.5 232.4h0M407.7 211.2h0M397.8 240.5h0M407.1 211.4h0M406.0 206.0h0M416.6 270.9h0M377.5 227.0h0M381.9 189.5h0M421.7 233.1h0M335.2 191.7h0M406.5 251.3h0M371.8 194.5h0M420.2 212.6h0M407.7 245.2h0M367.4 243.2h0M391.0 181.9h0M408.3 184.5h0M410.8 222.2h0M393.7 251.2h0M377.9 187.9h0M392.0 260.3h0M390.2 203.7h0M365.7 236.3h0M391.2 203.9h0M414.3 207.8h0M410.7 249.1h0M381.3 203.1h0M405.8 221.7h0M412.9 231.4h0M397.8 182.2h0M377.5 228.8h0M392.6 255.4h0M367.9 234.8h0M372.3 253.3h0M372.0 228.0h0M404.3 228.9h0M332.2 191.4h0M421.2 235.1h0M392.1 259.2h0M392.6 188.6h0M384.0 201.1h0M382.6 255.4h0M363.5 227.6h0M393.4 215.2h0M375.5 209.6h0M397.3 200.2h0M393.4 195.0h0M409.0 248.1h0M359.0 228.2h0M402.5 249.5h0M347.6 205.6h0M377.1 202.9h0M396.4 226.3h0M398.2 243.0h0M418.2 237.1h0M416.8 204.0h0M411.0 246.7h0M400.7 176.1h0M392.2 246.0h0M377.7 202.2h0M410.7 217.9h0M395.9 199.8h0M378.2 220.7h0M389.2 196.0h0M393.7 199.8h0M406.8 241.2h0M377.3 203.8h0M388.5 188.5h0M411.0 191.8h0M374.1 244.1h0M405.6 189.7h0M385.9 183.3h0M415.4 197.0h0M378.5 205.5h0M393.1 223.9h0M384.9 216.4h0M397.9 253.1h0M387.5 202.0h0M390.0 176.4h0M368.1 208.7h0M423.2 201.4h0M408.3 234.5h0M374.6 228.8h0M370.0 229.0h0M379.2 203.6h0M381.0 233.4h0M404.6 192.5h0M394.5 257.2h0M381.2 225.9h0M375.6 226.0h0M410.4 255.5h0M392.3 210.3h0M398.1 252.1h0M372.2 196.4h0M387.6 201.2h0M380.4 226.3h0M334.9 186.0h0M377.6 195.5h0M372.3 197.4h0M397.6 233.5h0M373.6 196.4h0M375.5 237.6h0M369.0 233.3h0M332.4 185.6h0M370.4 240.1h0M370.7 231.4h0M411.3 184.3h0M416.7 213.6h0M414.0 251.9h0M351.4 206.7h0M390.2 216.7h0M407.9 192.6h0M376.9 244.3h0M366.0 222.7h0M405.9 226.0h0M388.0 229.7h0M342.3 178.7h0M415.9 217.6h0M344.6 188.6h0M397.8 193.2h0M343.1 187.4h0M324.1 185.6h0M371.9 207.5h0M404.5 249.9h0M402.0 253.0h0M394.0 220.7h0M385.6 196.5h0M374.0 242.7h0M393.0 176.1h0M380.2 249.8h0M378.6 250.9h0M394.1 230.4h0M410.6 185.7h0M388.3 233.9h0M404.1 217.3h0M368.5 244.6h0M416.9 194.2h0M412.5 211.7h0M411.8 198.5h0M420.1 236.0h0M391.7 246.7h0M412.4 218.2h0M412.1 219.5h0M394.1 208.8h0M368.6 237.7h0M401.1 244.6h0M392.4 217.6h0M413.0 217.3h0M406.8 221.7h0M396.9 256.4h0M388.7 207.2h0M400.5 207.5h0M390.2 192.4h0M415.9 200.9h0M400.4 244.1h0M389.8 202.3h0M373.9 240.9h0M394.7 232.3h0M371.1 247.3h0M404.4 237.8h0M409.8 233.1h0M417.6 249.5h0M389.6 261.0h0M384.1 200.6h0M402.5 250.9h0M397.5 252.9h0M410.1 231.6h0M403.6 188.9h0M385.4 240.6h0M403.3 198.6h0M373.1 229.7h0M386.9 242.5h0M416.3 222.1h0M365.9 230.7h0M419.2 234.1h0M383.6 207.9h0M419.6 235.0h0M382.2 189.4h0M372.2 207.2h0M414.9 244.0h0M417.2 235.7h0M373.9 251.4h0M408.1 246.4h0M413.4 252.0h0M399.9 242.0h0M372.3 216.0h0M405.8 247.7h0M409.0 223.0h0M415.7 244.1h0M412.7 241.6h0M414.7 219.8h0M342.4 182.6h0M400.3 220.6h0M367.6 232.6h0M369.2 220.7h0M384.8 227.5h0M408.4 205.1h0M380.0 257.8h0M410.4 205.2h0M375.3 189.4h0M382.3 212.2h0M418.4 236.1h0M400.6 178.0h0M384.1 202.8h0M383.2 238.1h0M384.5 242.8h0M398.1 260.6h0M335.6 181.7h0M414.9 192.0h0M403.7 205.3h0M420.4 231.8h0M382.2 258.2h0M401.2 232.3h0M364.7 212.1h0M384.2 241.0h0M405.3 197.5h0M329.0 182.9h0M381.5 182.7h0M384.3 186.0h0M399.5 178.4h0M383.6 211.8h0M404.0 217.2h0M408.9 207.6h0M395.3 263.2h0M401.0 228.0h0M385.9 250.2h0M370.1 198.7h0M371.9 212.8h0M416.4 215.1h0M371.2 199.0h0M406.8 183.2h0M417.1 200.7h0M380.7 209.8h0M381.0 242.3h0M411.6 226.9h0M407.4 254.1h0M388.0 228.5h0M366.3 236.2h0M389.9 241.0h0M402.2 206.4h0M367.6 232.9h0M388.2 203.1h0M401.4 247.4h0M389.9 188.3h0M388.6 192.2h0M403.6 245.7h0M410.3 214.2h0M406.2 231.9h0M378.8 251.7h0M362.8 239.8h0M368.5 247.4h0M390.5 213.4h0M392.8 252.9h0M420.0 232.3h0M384.4 255.3h0M420.0 244.5h0M401.0 252.6h0M383.4 194.4h0M416.3 214.5h0M404.8 240.5h0M397.0 245.8h0M403.5 224.3h0M342.1 181.3h0M378.7 204.1h0M390.1 240.3h0M412.9 255.4h0M411.1 223.3h0M384.1 244.7h0M400.9 197.6h0M390.4 179.5h0M369.0 202.9h0M372.3 220.0h0M331.3 189.1h0M360.5 211.1h0M400.9 213.2h0M415.8 247.9h0M386.8 249.6h0M414.9 258.1h0M415.3 194.8h0M403.2 202.2h0M405.4 262.6h0M389.3 229.5h0M416.6 238.8h0M404.0 251.7h0M412.6 212.5h0M408.6 249.5h0M412.5 239.0h0M399.5 221.6h0M380.7 215.3h0M373.6 193.3h0M410.4 225.6h0M418.5 230.1h0M411.7 240.5h0M416.3 212.0h0M368.8 203.6h0M405.8 202.1h0M384.8 210.6h0M405.1 247.3h0M333.8 182.5h0M383.3 252.7h0M383.2 203.3h0M376.4 242.7h0M389.7 190.2h0M411.1 198.1h0M380.3 243.7h0M419.1 230.5h0M384.0 257.5h0M386.5 218.4h0M383.6 210.1h0M395.6 205.8h0M386.0 191.8h0M408.5 222.8h0M382.8 202.2h0M420.4 192.9h0M372.1 225.3h0M402.4 249.3h0M381.9 218.5h0M393.2 226.9h0M373.1 246.8h0M387.8 223.6h0M408.6 215.2h0M411.2 192.4h0M414.3 223.2h0M404.3 181.0h0M411.5 252.2h0M410.1 189.7h0M401.5 251.5h0M404.5 211.6h0M384.5 246.5h0M384.4 186.7h0M390.8 237.2h0M391.1 254.3h0M408.1 183.8h0M404.3 231.2h0M393.8 211.6h0M396.0 182.2h0M423.2 239.8h0M389.3 181.5h0M400.8 243.1h0M391.9 240.7h0M386.9 254.3h0M381.7 256.3h0M406.2 258.2h0M405.9 234.6h0M352.1 207.7h0M387.8 218.2h0M331.9 187.7h0M342.3 184.1h0M374.7 224.6h0M417.1 270.3h0M418.4 232.8h0M376.9 193.7h0M368.9 211.2h0M409.1 259.9h0M393.5 179.2h0M409.2 214.7h0M365.7 217.7h0M401.8 258.9h0M392.2 198.0h0M390.2 180.3h0M342.2 179.9h0M401.2 263.7h0M381.3 252.4h0M380.3 195.1h0M406.4 188.0h0M421.8 194.4h0M395.7 244.1h0M412.6 251.5h0M384.6 195.0h0M336.9 181.2h0M400.3 184.0h0M399.4 188.1h0M403.4 218.6h0M407.4 251.3h0M371.3 203.1h0M393.8 236.2h0M386.4 180.4h0M401.9 198.7h0M411.1 215.0h0M409.1 248.2h0M404.6 234.1h0M407.4 213.5h0M368.1 234.4h0M397.5 237.0h0M406.1 213.5h0M378.5 244.3h0M404.6 187.4h0M373.6 209.2h0M404.0 178.9h0M403.1 225.5h0M380.5 210.2h0M407.9 181.7h0M381.3 254.5h0M364.0 203.7h0M332.3 185.5h0M397.6 201.0h0M378.5 204.4h0M399.7 253.7h0M388.6 204.9h0M343.1 186.9h0M372.9 195.9h0M413.9 233.7h0M395.1 217.2h0M390.6 191.3h0M409.9 239.1h0M397.2 212.0h0M366.7 244.0h0M383.3 244.1h0M373.9 209.8h0M330.7 182.3h0M378.6 253.0h0M415.7 203.4h0M421.4 196.6h0M373.5 253.3h0M378.2 204.6h0M400.0 227.5h0M398.4 227.6h0M371.7 243.5h0M395.6 198.3h0M364.0 240.9h0M402.6 233.1h0M397.1 190.2h0M398.8 220.7h0M394.7 239.9h0M397.3 222.9h0M370.1 218.0h0M419.9 239.5h0M366.7 202.3h0M417.4 232.4h0M418.8 252.8h0M393.3 246.0h0M408.7 205.3h0M377.0 190.7h0M406.6 259.3h0M388.8 226.9h0M390.4 251.0h0M384.6 239.9h0M410.9 223.0h0M388.5 228.0h0M382.2 224.9h0M388.8 175.4h0M371.9 237.1h0M394.5 244.0h0M364.8 223.2h0M377.0 210.4h0M418.9 241.1h0M406.5 260.2h0M331.1 187.9h0M419.4 243.4h0M355.6 210.2h0M402.1 184.4h0M406.2 214.5h0M388.4 203.1h0M374.1 197.0h0M403.0 256.3h0M420.2 233.6h0M325.0 187.3h0M392.8 223.7h0M375.6 240.2h0M422.7 240.9h0M348.5 206.2h0M384.6 208.4h0M384.0 220.6h0M412.5 252.2h0M391.9 257.2h0M372.3 230.7h0M388.2 205.2h0M411.0 197.1h0M401.5 182.8h0M412.1 225.5h0M385.2 239.9h0M412.4 238.3h0M388.5 225.5h0M364.5 203.5h0M335.1 184.7h0M368.1 228.9h0M421.7 235.6h0M383.5 256.2h0M331.7 192.9h0M375.3 203.9h0M396.6 239.6h0M395.6 219.4h0M366.2 240.2h0M419.2 201.9h0M395.3 201.9h0M392.5 201.3h0M401.5 240.1h0M411.8 190.6h0M384.9 248.1h0M414.1 248.5h0M412.0 251.8h0M391.9 177.0h0M362.0 207.8h0M405.3 239.2h0M387.8 198.0h0M420.4 226.4h0M378.2 246.9h0M422.0 201.3h0M363.1 210.1h0M397.2 218.0h0M397.2 218.7h0M389.3 180.8h0M348.2 205.2h0M367.2 207.0h0M402.9 253.6h0M420.5 199.5h0M357.6 232.6h0M393.4 190.4h0M410.8 237.4h0M390.6 222.3h0M414.4 231.5h0M385.9 240.3h0M399.0 215.8h0M411.7 198.3h0M386.0 199.4h0M402.3 235.7h0M420.7 243.1h0M380.8 230.7h0M393.7 175.5h0M406.3 261.7h0M414.9 206.0h0M404.3 195.2h0M400.7 190.3h0M398.2 231.2h0M382.5 218.8h0M383.1 212.2h0M402.6 260.6h0M388.7 242.7h0M400.9 194.5h0M376.5 186.3h0M391.1 223.4h0M378.6 198.8h0M404.2 186.3h0M377.2 218.8h0M360.5 233.7h0M382.2 259.1h0M395.6 262.3h0M403.2 248.9h0M373.5 240.7h0M361.9 207.4h0M369.8 208.6h0M391.7 207.9h0M413.3 192.8h0M394.6 264.1h0M410.5 219.6h0M406.8 224.5h0M402.0 231.4h0M402.8 253.9h0M404.8 180.3h0M391.7 234.2h0M391.0 180.7h0M396.5 225.4h0M372.6 213.0h0M378.3 256.8h0M386.0 183.1h0M385.8 181.1h0M395.6 216.6h0M398.2 177.4h0M413.1 194.4h0M409.4 228.5h0M405.5 259.0h0M383.0 220.9h0M397.9 210.9h0M378.9 223.5h0M410.0 198.4h0M408.6 188.0h0M409.9 221.3h0M365.6 227.2h0M407.2 218.5h0M394.2 252.1h0M326.8 183.5h0M397.4 248.3h0M382.9 217.0h0M398.7 180.1h0M403.4 248.9h0M412.8 237.5h0M391.4 207.0h0M406.2 182.1h0M391.7 178.3h0M396.4 251.0h0M383.4 183.1h0M404.1 210.2h0M412.4 198.4h0M371.3 228.8h0M388.4 177.7h0M407.6 232.0h0M329.6 184.1h0M405.1 248.1h0M408.7 258.7h0M419.3 194.2h0M387.6 248.6h0M367.3 237.9h0M380.4 231.7h0M408.2 188.5h0M400.0 243.9h0M397.7 244.2h0M416.0 228.8h0M392.8 253.9h0M407.2 246.2h0M392.4 263.4h0M379.9 233.7h0M407.6 208.1h0M418.2 201.2h0M394.8 182.8h0M358.0 212.5h0M392.0 259.4h0M392.2 173.7h0M388.8 223.5h0M386.7 248.7h0M379.3 251.7h0M399.3 218.3h0M395.6 223.2h0M399.9 263.2h0M378.8 217.0h0M423.0 241.8h0M333.3 187.3h0M409.7 207.2h0M384.0 236.9h0M405.2 241.3h0M380.7 189.4h0M386.9 178.1h0M407.7 209.7h0M380.1 229.5h0M391.6 178.7h0M387.4 230.5h0M388.4 219.4h0M369.1 202.9h0M418.9 201.5h0M419.5 224.3h0M392.9 250.5h0M331.9 184.3h0M402.6 241.7h0M412.2 241.5h0M401.5 218.2h0M383.3 217.5h0M404.7 262.0h0M399.3 259.5h0M383.1 244.9h0M403.9 238.2h0M407.5 196.3h0M396.4 255.1h0M386.9 244.1h0M403.3 255.2h0M409.7 263.4h0M378.6 190.3h0M393.7 232.3h0M410.4 198.1h0M415.6 206.7h0M410.3 202.9h0M389.8 241.4h0M378.9 185.5h0M404.8 178.5h0M385.3 203.6h0M396.0 247.8h0M360.9 234.6h0M359.9 233.2h0M394.6 249.2h0M380.7 252.1h0M364.5 211.4h0M406.5 190.9h0M383.2 232.4h0M388.9 198.8h0M371.5 197.6h0M413.3 242.7h0M408.9 249.8h0M323.5 186.5h0M408.1 219.5h0M393.4 217.5h0M408.9 261.9h0M404.0 231.8h0M365.0 222.7h0M373.8 253.7h0M395.3 213.0h0M388.3 250.8h0M369.5 204.3h0M383.3 240.3h0M396.7 185.1h0M394.5 179.8h0M361.9 223.7h0M399.2 229.7h0M367.3 246.1h0M404.8 237.8h0M383.1 245.4h0M404.4 240.2h0M394.8 248.8h0M418.5 190.4h0M367.9 235.5h0M391.7 233.3h0M400.0 179.1h0M415.5 249.0h0M380.2 235.2h0M387.9 194.2h0M379.8 220.0h0M416.2 241.5h0M409.6 253.8h0M374.4 215.4h0M375.0 186.6h0M414.1 202.9h0M401.8 206.5h0M410.6 198.3h0M385.6 236.7h0M371.2 210.1h0M404.5 214.6h0M414.8 197.7h0M383.6 245.2h0M418.5 246.4h0M374.9 232.0h0M334.2 189.3h0M395.1 241.8h0M385.9 206.6h0M410.9 202.4h0M384.9 243.5h0M377.5 198.0h0M390.1 191.9h0M405.3 225.3h0M393.5 255.8h0M407.1 210.6h0M377.2 234.3h0M380.4 212.6h0M393.4 236.2h0M406.8 222.9h0M375.1 226.4h0M391.7 253.0h0M414.1 232.5h0M411.4 198.7h0M389.8 245.6h0M386.3 215.5h0M387.7 223.3h0M363.3 208.8h0M381.7 243.4h0M384.8 253.1h0M375.5 195.4h0M382.7 204.2h0M417.9 227.0h0M415.1 233.1h0M377.1 212.3h0M375.3 208.6h0M387.3 224.1h0M375.5 235.0h0M381.2 221.7h0M403.4 187.2h0M398.0 179.5h0M368.6 209.1h0M378.5 224.1h0M394.7 176.6h0M381.6 197.9h0M401.5 191.2h0M409.2 240.0h0M391.2 248.2h0M402.0 231.2h0M386.9 195.8h0M379.3 200.5h0M390.8 206.4h0M384.1 182.9h0M417.7 237.6h0M371.1 236.7h0M382.9 240.3h0M385.5 181.2h0M412.4 256.2h0M409.3 253.8h0M410.7 195.2h0M415.2 215.6h0M367.1 202.6h0M388.0 211.2h0M378.9 206.7h0M368.6 216.1h0M401.7 242.6h0M389.6 220.8h0M397.4 202.7h0M397.1 251.5h0M404.2 227.7h0M401.4 226.3h0M411.9 238.0h0M388.7 251.8h0M413.4 245.4h0M394.2 182.7h0M403.3 231.3h0M387.4 188.4h0M411.1 189.2h0M412.2 194.2h0M370.9 209.6h0M417.6 206.2h0M393.7 181.0h0M397.3 175.5h0M400.4 245.6h0M381.6 194.6h0M399.1 204.9h0M398.1 229.1h0M410.2 217.2h0M416.8 247.7h0M384.2 239.6h0M409.8 185.1h0M397.0 198.3h0M374.9 239.2h0M378.4 254.3h0M388.7 203.3h0M332.5 184.2h0M394.6 194.7h0M419.2 226.4h0M404.7 182.7h0M395.4 212.7h0M401.6 201.9h0M385.6 183.2h0M394.8 201.4h0M373.4 199.9h0M379.4 205.3h0M423.4 198.6h0M377.8 191.0h0M372.6 194.7h0M389.1 217.0h0M401.7 238.8h0M408.7 246.0h0M409.1 226.1h0M359.9 237.4h0M359.9 217.1h0M425.3 237.9h0M417.8 226.3h0M359.3 232.2h0M402.1 245.0h0M421.8 241.4h0M422.4 212.7h0M394.0 202.6h0M327.1 188.9h0M406.4 194.9h0M396.0 254.1h0M391.3 196.4h0M409.2 204.3h0M406.9 234.0h0M396.2 189.6h0M378.0 209.1h0M387.3 205.5h0M396.5 194.9h0M378.4 189.9h0M418.3 196.8h0M377.7 216.3h0M416.5 230.6h0M400.4 192.9h0M404.3 196.0h0M419.4 233.1h0M358.9 206.8h0M404.2 233.1h0M390.1 182.9h0M413.8 234.6h0M331.8 180.8h0M369.0 243.1h0M400.9 220.8h0M392.1 224.9h0M372.0 233.0h0M415.7 190.0h0M403.2 252.1h0M413.0 207.6h0M386.3 191.4h0M386.5 256.6h0M388.3 180.2h0M382.5 247.1h0M382.0 181.1h0M414.8 222.8h0M398.6 206.4h0M391.8 191.6h0M399.2 258.7h0M419.3 196.9h0M381.4 207.8h0M384.7 252.3h0M370.0 232.7h0M405.6 216.1h0M385.8 240.2h0M392.2 241.3h0M368.6 206.0h0M395.2 198.2h0M412.0 206.9h0M416.5 253.9h0M322.2 190.3h0M373.5 210.3h0M409.0 231.4h0M378.9 208.0h0M423.9 198.8h0M368.6 209.8h0M391.4 220.3h0M366.3 242.5h0M413.9 209.1h0M370.1 201.4h0M332.3 189.6h0M402.6 227.5h0M419.2 242.1h0M405.7 220.1h0M384.4 211.4h0M363.6 208.0h0M372.2 215.5h0M383.0 190.2h0M377.6 247.5h0M399.0 237.4h0M405.8 224.8h0M369.4 247.9h0M386.6 244.6h0M382.5 247.8h0M387.9 185.6h0M374.0 212.9h0M407.0 259.3h0M400.3 223.4h0M415.6 223.2h0M392.6 184.6h0M366.2 234.2h0M420.1 225.4h0M396.1 203.8h0M384.7 230.2h0M371.9 217.9h0M385.3 224.2h0M396.7 243.2h0M375.4 241.3h0M363.9 208.9h0M389.3 207.7h0M374.8 230.2h0M381.9 201.6h0M388.2 256.0h0M418.9 225.9h0M388.4 233.0h0M400.8 175.2h0M410.7 199.0h0M369.8 235.7h0M391.5 238.1h0M413.6 210.0h0M374.2 237.6h0M373.6 213.1h0M381.8 204.0h0M413.6 194.9h0M369.0 234.7h0M365.0 203.7h0M388.5 198.2h0M418.8 226.2h0M387.7 205.9h0M391.4 250.2h0M408.4 262.2h0M395.4 220.8h0M395.1 259.6h0M412.2 258.6h0M419.3 224.3h0M410.7 188.1h0M400.2 219.1h0M393.8 231.4h0M397.7 231.1h0M402.2 192.4h0M373.0 208.9h0M388.9 222.5h0M374.8 238.2h0M386.0 193.3h0M383.3 215.3h0M392.0 195.2h0M388.1 244.5h0M365.4 224.8h0M365.1 206.7h0M408.0 230.1h0M390.3 229.9h0M383.5 243.6h0M387.5 203.8h0M389.0 199.6h0M373.7 223.6h0M410.9 214.4h0M356.2 229.8h0M410.0 260.9h0M377.7 248.8h0M392.7 222.9h0M371.0 196.7h0M336.0 185.3h0M376.4 248.6h0M392.4 228.5h0M377.5 244.4h0M399.9 247.1h0M404.7 253.7h0M397.4 256.3h0M414.6 192.2h0M396.0 242.5h0M413.2 239.3h0M411.5 214.0h0M384.9 193.6h0M412.9 233.5h0M409.9 217.1h0M401.4 224.0h0M398.4 214.9h0M384.5 200.2h0M392.4 250.4h0M388.6 175.8h0M378.3 215.0h0M384.9 196.3h0M399.9 174.9h0M387.7 182.9h0M415.9 204.6h0M401.5 263.8h0M403.3 221.3h0M363.0 211.1h0M386.0 182.0h0M378.0 196.8h0M421.1 245.8h0M408.7 204.6h0M403.1 194.0h0M385.4 210.9h0M408.8 253.6h0M409.2 208.2h0M422.2 211.6h0M407.7 204.9h0M410.9 188.4h0M410.7 260.3h0M411.4 225.4h0M332.2 189.3h0M403.5 238.0h0M395.6 254.0h0M395.5 201.9h0M414.7 245.0h0M415.0 225.3h0M372.1 199.5h0M395.2 248.2h0M398.1 210.9h0M381.7 231.7h0M378.1 234.1h0M391.2 182.7h0M411.1 255.5h0M380.8 192.0h0M378.4 246.4h0M389.1 255.2h0M391.1 237.1h0M415.5 231.2h0M364.4 202.5h0M381.3 250.1h0M334.7 190.0h0M392.1 214.4h0M394.9 199.5h0M402.9 247.5h0M361.9 219.5h0M411.7 261.4h0M415.2 255.5h0M382.8 232.4h0M411.8 231.8h0M393.0 228.1h0M413.2 189.8h0M403.1 240.0h0M415.9 254.9h0M398.4 244.7h0M389.3 187.5h0M414.3 201.6h0M393.4 232.7h0M411.4 255.9h0M411.7 241.4h0M370.4 197.0h0M370.6 225.8h0M385.6 241.9h0M384.8 207.5h0M408.6 230.6h0M395.6 192.7h0M385.8 182.8h0M390.8 231.1h0M424.9 239.2h0M386.8 235.3h0M373.0 225.9h0M400.8 219.7h0M389.3 210.5h0M372.4 252.4h0M384.1 234.9h0M366.0 207.4h0M391.6 179.2h0M395.3 222.4h0M375.8 196.1h0M395.4 184.9h0M396.0 174.5h0M402.0 205.5h0M420.6 192.5h0M408.4 251.9h0M369.8 219.7h0M388.2 251.4h0M370.8 226.9h0M408.6 230.0h0M414.8 213.6h0M395.0 253.8h0M386.8 222.2h0M375.2 191.7h0M396.3 249.5h0M385.7 215.1h0M396.0 233.1h0M384.6 213.7h0M394.3 185.3h0M377.7 224.2h0M403.6 229.1h0M350.6 203.0h0M372.6 230.8h0M388.4 228.5h0M407.8 239.1h0M417.3 243.9h0M398.3 247.1h0M413.1 197.6h0M371.7 235.3h0M388.5 239.0h0M402.3 228.9h0M398.5 218.6h0M392.3 180.1h0M410.3 200.8h0M399.3 234.4h0M334.5 183.3h0M332.5 181.4h0M409.2 212.7h0M402.8 247.7h0M389.9 258.7h0M416.5 193.1h0M376.3 227.2h0M374.1 233.9h0M415.7 202.8h0M410.1 242.6h0M346.2 186.3h0M361.8 206.0h0M368.5 202.1h0M408.4 237.7h0M369.4 221.8h0M420.3 197.1h0M406.1 200.0h0M402.0 250.1h0M391.7 259.7h0M385.3 201.5h0M369.9 222.6h0M405.8 232.1h0M400.7 244.1h0M405.4 240.8h0M374.9 232.6h0M382.3 248.6h0M411.9 239.0h0M407.6 196.9h0M380.6 211.9h0M417.9 232.0h0M382.9 205.0h0M404.1 218.5h0M402.8 199.8h0M414.9 203.5h0M398.6 226.0h0M377.2 248.4h0M417.6 236.1h0M397.8 217.0h0M394.9 245.3h0M411.1 244.3h0M399.4 204.9h0M404.5 225.6h0M375.2 241.5h0" stroke="#009E73" stroke-width="2.60" stroke-linecap="round" fill="none" /><path d="M385.6 242.4h0M395.0 245.8h0M409.8 213.1h0M423.6 200.5h0M391.4 216.8h0M359.3 236.8h0M382.6 192.3h0M334.8 179.4h0M408.9 262.4h0M363.3 202.5h0M331.7 185.2h0M379.8 187.2h0M369.0 244.1h0M403.5 235.4h0M389.6 216.0h0M371.6 239.8h0M387.5 186.6h0M404.8 207.4h0M390.5 227.0h0M369.4 200.6h0M375.2 202.2h0M411.2 249.6h0M397.7 188.8h0M402.2 178.7h0M391.5 253.3h0M411.3 202.6h0M385.1 254.4h0M372.0 200.0h0M364.7 212.0h0M386.6 239.3h0M387.1 231.9h0M367.7 213.6h0M402.3 235.9h0M390.3 220.1h0M382.1 231.5h0M391.1 219.7h0M379.1 196.4h0M380.4 220.3h0M402.0 247.0h0M404.1 250.3h0M385.0 245.7h0M323.4 188.6h0M406.8 233.7h0M390.1 219.8h0M391.0 189.9h0M368.8 234.9h0M412.0 211.5h0M402.3 200.8h0M395.0 194.0h0M417.0 229.1h0M412.1 235.6h0M379.0 222.1h0M363.1 210.6h0M402.9 254.5h0M394.4 242.6h0M401.8 241.7h0M414.7 217.0h0M372.8 251.3h0M391.7 180.8h0M414.2 253.1h0M388.5 252.0h0M414.4 229.4h0M408.3 183.7h0M396.3 251.5h0M344.6 182.5h0M383.7 232.4h0M385.9 191.0h0M385.0 195.7h0M411.6 195.2h0M394.8 248.8h0M408.3 210.6h0M369.9 220.4h0M392.0 249.5h0M410.1 188.0h0M385.1 247.6h0M380.7 208.0h0M396.9 183.4h0M419.3 238.7h0M377.2 206.3h0M368.6 200.9h0M329.8 184.0h0M396.0 212.2h0M410.2 205.4h0M383.4 205.5h0M368.6 216.8h0M378.9 210.5h0M399.8 260.2h0M367.1 237.6h0M398.3 216.1h0M328.5 192.3h0M407.3 225.3h0M401.6 186.8h0M385.8 249.9h0M398.2 190.0h0M399.0 252.0h0M416.1 272.9h0M417.5 196.8h0M402.9 261.4h0M399.3 243.1h0M360.8 218.0h0M373.7 252.9h0M404.2 240.8h0M388.9 249.3h0M363.1 210.6h0M396.4 237.9h0M414.7 205.3h0M361.6 224.9h0M406.5 230.2h0M407.5 190.0h0M365.3 217.4h0M408.5 216.2h0M420.6 235.8h0M413.8 232.2h0M403.0 183.5h0M407.9 224.2h0M336.8 184.2h0M421.2 238.6h0M389.1 194.9h0M396.0 222.1h0M397.6 246.3h0M373.4 233.8h0M394.8 254.5h0M401.3 191.9h0M384.2 221.9h0M369.5 207.5h0M377.2 194.4h0M381.0 237.3h0M397.5 207.6h0M407.2 247.5h0M381.9 200.0h0M395.1 213.7h0M376.8 239.8h0M389.4 251.4h0M384.6 197.0h0M412.1 239.8h0M370.2 247.8h0M393.8 233.7h0M378.8 233.5h0M420.0 245.0h0M382.3 248.0h0M400.7 190.4h0M418.4 195.4h0M367.1 235.8h0M413.7 267.6h0M362.8 235.7h0M386.9 219.2h0M412.2 241.4h0M374.6 212.4h0M391.6 213.7h0M371.1 206.7h0M421.2 229.0h0M329.6 183.0h0M381.7 253.8h0M383.1 229.0h0M406.8 196.1h0M374.4 235.1h0M387.7 209.0h0M381.7 230.0h0M399.9 222.1h0M399.8 179.5h0M424.1 240.8h0M401.4 235.7h0M401.1 218.9h0M410.4 218.0h0M384.9 235.1h0M379.8 221.5h0M413.9 228.1h0M373.4 233.0h0M376.3 237.1h0M380.3 226.8h0M415.7 213.8h0M400.7 236.2h0M367.2 240.6h0M382.3 240.8h0M409.4 190.3h0M405.5 188.5h0M387.7 237.6h0M408.1 227.9h0M391.2 183.7h0M395.5 240.5h0M346.7 185.5h0M378.4 212.3h0M389.5 176.6h0M366.6 224.6h0M413.0 240.9h0M381.2 205.6h0M375.4 194.8h0M391.3 207.2h0M403.5 202.9h0M406.8 203.8h0M398.0 234.9h0M418.9 250.7h0M422.7 242.2h0M375.3 230.2h0M389.8 249.8h0M391.6 209.4h0M387.3 223.6h0M412.5 207.4h0M390.9 200.5h0M413.0 222.9h0M397.1 182.2h0M411.0 203.6h0M419.5 234.7h0M407.9 238.9h0M375.9 221.9h0M379.6 201.6h0M373.6 224.5h0M372.4 198.1h0M385.6 252.0h0M339.1 180.9h0M391.9 244.7h0M383.3 211.3h0M420.3 239.7h0M366.2 214.1h0M420.6 244.8h0M417.6 239.7h0M401.2 261.3h0M411.1 211.9h0M366.8 233.1h0M379.9 205.4h0M394.6 248.9h0M398.2 176.2h0M399.6 223.2h0M347.5 187.0h0M359.5 208.8h0M422.4 235.6h0M406.8 256.3h0M388.1 257.8h0M375.5 252.9h0M374.4 246.8h0M377.6 195.3h0M333.3 185.5h0M363.0 202.9h0M407.6 226.4h0M422.0 233.6h0M379.0 191.0h0M403.1 228.7h0M384.8 195.6h0M350.0 205.1h0M386.4 232.9h0M416.4 254.7h0M394.9 178.2h0M392.2 220.6h0M391.9 223.5h0M406.4 201.4h0M395.6 242.1h0M410.3 201.3h0M394.6 177.4h0M405.9 239.5h0M388.3 176.2h0M388.9 250.0h0M372.9 233.0h0M399.0 179.3h0M371.0 253.6h0M344.8 186.8h0M362.2 234.7h0M387.9 217.5h0M405.7 223.8h0M390.0 201.9h0M375.5 232.0h0M358.2 207.2h0M410.3 258.6h0M375.2 189.1h0M379.0 221.9h0M413.8 208.5h0M401.9 231.5h0M376.5 235.7h0M369.0 212.2h0M395.8 216.3h0M399.4 224.1h0M418.8 239.9h0M421.8 214.7h0M405.2 245.2h0M394.5 237.7h0M402.6 217.4h0M402.3 226.3h0M419.2 192.8h0M411.8 186.6h0M373.8 199.8h0M385.3 197.5h0M401.6 261.6h0M374.6 216.6h0M335.4 185.0h0M371.8 241.0h0M387.3 191.6h0M396.4 189.0h0M388.2 216.2h0M387.0 231.8h0M403.5 233.1h0M369.5 202.1h0M338.4 181.1h0M385.8 177.4h0M383.5 208.1h0M385.9 187.3h0M413.8 192.4h0M417.2 220.7h0M403.9 201.4h0M333.1 192.5h0M387.1 198.2h0M397.2 229.7h0M419.6 228.8h0M360.2 212.1h0M417.8 241.1h0M399.9 175.9h0M391.0 210.2h0M407.1 218.5h0M382.5 255.5h0M404.1 200.5h0M405.0 263.1h0M397.1 178.5h0M389.0 215.0h0M389.4 213.6h0M418.4 235.0h0M404.6 229.8h0M410.4 206.7h0M411.7 254.1h0M420.5 193.2h0M391.3 214.6h0M404.6 192.7h0M379.5 214.4h0M398.4 188.8h0M399.7 177.3h0M412.6 239.3h0M365.4 222.5h0M370.6 223.6h0M383.2 251.4h0M409.2 232.4h0M369.0 241.7h0M386.6 236.5h0M399.0 227.1h0M384.4 197.1h0M393.5 175.2h0M394.4 206.8h0M416.8 193.7h0M404.2 227.7h0M415.8 198.6h0M373.2 250.9h0M410.1 248.8h0M417.1 247.5h0M401.4 257.4h0M390.2 261.1h0M384.3 211.6h0M376.6 253.4h0M403.2 178.1h0M334.4 195.7h0M404.6 231.9h0M410.1 225.8h0M404.4 224.7h0M393.5 217.8h0M401.4 188.3h0M412.1 253.2h0M402.3 204.5h0M369.4 233.8h0M387.2 226.9h0M367.5 242.6h0M384.4 212.3h0M412.0 233.8h0M381.9 236.3h0M387.3 180.6h0M375.2 217.6h0M371.6 238.2h0M379.7 222.7h0M370.5 230.9h0M415.1 212.8h0M366.3 234.9h0M414.4 210.7h0M367.4 235.7h0M401.8 249.8h0M373.9 205.4h0M403.7 228.5h0M371.9 203.0h0M389.4 229.6h0M378.4 256.6h0M370.3 223.9h0M400.8 183.0h0M381.9 194.9h0M410.3 194.4h0M368.0 235.3h0M423.0 246.1h0M407.1 204.5h0M398.6 262.3h0M400.3 250.1h0M420.9 196.5h0M375.8 236.9h0M371.2 223.9h0M415.2 220.0h0M375.6 191.3h0M410.2 214.7h0M388.9 175.4h0M358.5 204.1h0M355.0 207.0h0M417.3 212.3h0M410.2 225.9h0M416.5 220.5h0M377.4 218.5h0M365.9 214.5h0M406.5 243.5h0M397.2 232.5h0M406.1 246.3h0M405.3 234.1h0M420.0 248.0h0M394.3 210.5h0M391.9 191.4h0M389.9 218.7h0M416.0 244.6h0M376.7 215.0h0M403.4 245.8h0M384.3 243.2h0M379.2 197.2h0M383.0 218.4h0M367.3 246.8h0M418.7 210.5h0M393.8 229.8h0M400.1 216.2h0M397.3 195.3h0M411.4 237.4h0M424.1 235.5h0M373.7 216.6h0M415.4 256.2h0M380.5 242.2h0M402.4 202.2h0M380.4 235.7h0M410.7 210.9h0M388.7 246.8h0M400.5 243.3h0M379.6 252.9h0M390.1 244.0h0M371.8 221.4h0M384.6 202.4h0M388.5 237.7h0M379.5 234.2h0M387.3 205.2h0M397.8 228.5h0M388.4 239.9h0M394.7 230.6h0M416.8 217.5h0M409.4 251.5h0M365.3 202.3h0M416.1 273.7h0M406.2 224.9h0M403.2 237.0h0M412.2 195.6h0M372.5 204.9h0M369.7 201.6h0M385.8 242.5h0M411.4 246.9h0M359.8 236.0h0M383.9 183.3h0M388.1 241.8h0M380.6 258.6h0M361.2 205.4h0M406.3 193.7h0M388.8 217.0h0M396.5 245.3h0M414.2 249.0h0M406.1 224.6h0M403.3 231.5h0M400.4 228.2h0M415.3 266.4h0M395.0 232.5h0M376.8 196.9h0M373.7 218.8h0M365.6 203.8h0M332.2 192.5h0M391.3 201.2h0M407.0 233.6h0M399.0 202.1h0M419.4 243.8h0M390.4 259.5h0M417.6 231.1h0M381.3 254.9h0M411.1 225.9h0M366.2 202.4h0M407.4 186.3h0M332.9 184.4h0M367.3 211.1h0M398.4 249.1h0M382.4 211.6h0M402.1 259.7h0M409.4 260.6h0M405.7 184.5h0M344.9 187.6h0M410.8 250.7h0M409.3 223.9h0M405.2 185.7h0M395.3 244.5h0M372.6 254.3h0M394.9 223.2h0M408.9 246.7h0M403.5 195.4h0M417.7 225.2h0M372.8 205.5h0M376.9 196.4h0M405.4 223.8h0M369.7 232.3h0M413.4 259.8h0M371.9 247.8h0M415.8 222.6h0M401.8 203.7h0M393.7 243.9h0M399.2 249.7h0M397.1 251.6h0M384.2 206.0h0M402.9 230.7h0M379.6 186.0h0M408.9 258.8h0M402.8 253.2h0M392.6 190.0h0M391.4 191.2h0M384.3 196.7h0M393.6 188.5h0M371.6 251.2h0M404.5 242.8h0M370.2 236.8h0M420.2 203.2h0M385.0 188.2h0M400.8 227.9h0M393.5 254.1h0M383.6 212.0h0M393.2 203.4h0M365.5 205.8h0M368.1 222.0h0M397.3 200.2h0M368.5 241.1h0M410.7 260.5h0M398.5 248.9h0M387.0 258.5h0M368.8 234.5h0M367.1 218.9h0M393.3 206.0h0M370.5 209.0h0M410.3 253.5h0M383.9 181.7h0M368.5 209.4h0M335.6 192.9h0M392.7 187.4h0M383.8 193.7h0M384.6 208.6h0M392.2 244.7h0M418.0 241.3h0M419.9 230.7h0M410.1 212.1h0M366.6 221.7h0M375.5 219.8h0M407.1 246.9h0M398.4 178.8h0M393.2 202.3h0M364.4 227.1h0M392.2 245.5h0M381.0 253.4h0M388.4 248.1h0M366.9 224.9h0M410.9 250.5h0M390.1 256.0h0M374.3 191.9h0M391.5 233.6h0M398.6 184.2h0M419.2 193.9h0M407.0 187.2h0M403.3 260.6h0M422.8 211.1h0M391.4 253.4h0M336.7 184.3h0M403.4 176.5h0M411.2 210.4h0M388.5 213.8h0M384.2 192.9h0M371.3 248.6h0M371.6 208.5h0M405.2 200.1h0M420.4 250.9h0M363.3 207.4h0M369.5 209.5h0M406.3 198.9h0M403.3 176.5h0M387.4 207.7h0M417.8 250.6h0M370.8 200.2h0M367.5 235.7h0M419.3 204.0h0M418.1 223.4h0M415.9 237.1h0M400.7 208.6h0M394.9 261.4h0M389.5 235.5h0M390.4 208.5h0M371.9 230.2h0M383.1 251.4h0M385.3 203.4h0M381.2 241.4h0M399.4 174.8h0M394.0 233.2h0M388.2 203.7h0M371.7 247.6h0M385.5 212.8h0M412.8 188.5h0M381.5 253.3h0M331.9 182.7h0M366.2 229.5h0M399.3 262.9h0M407.0 181.1h0M397.7 210.7h0M389.3 205.8h0M361.9 207.0h0M418.5 235.0h0M397.0 235.7h0M386.1 219.8h0M414.9 196.4h0M401.9 181.6h0M390.6 252.4h0M410.8 204.0h0M375.3 225.7h0M375.2 241.4h0M401.7 193.2h0M384.5 261.0h0M375.0 199.4h0M406.4 213.6h0M403.6 191.7h0M384.0 208.0h0M361.4 210.2h0M400.0 221.5h0M354.4 208.6h0M391.0 222.9h0M415.8 239.5h0M399.3 215.9h0M389.5 251.1h0M411.9 237.0h0M407.8 254.7h0M415.8 248.4h0M375.6 224.3h0M362.7 203.3h0M402.1 178.2h0M385.4 257.4h0M391.3 222.7h0M387.3 215.9h0M400.8 240.3h0M383.4 184.9h0M416.6 255.0h0M379.4 222.3h0M388.1 209.0h0M416.2 229.1h0M394.6 251.8h0M377.8 212.6h0M400.5 211.6h0M396.3 242.6h0M390.2 255.8h0M390.9 223.4h0M364.6 208.9h0M377.3 207.6h0M414.8 238.6h0M405.0 199.9h0M412.8 247.9h0M400.6 256.2h0M410.4 191.5h0M388.1 217.6h0M405.8 197.3h0M381.1 217.3h0M374.6 216.1h0M390.2 223.4h0M412.0 238.6h0M393.5 179.8h0M392.4 213.2h0M363.4 207.7h0M406.0 224.2h0M392.3 244.2h0M383.9 255.1h0M379.0 245.0h0M383.0 194.4h0M398.7 210.5h0M397.5 174.4h0M344.2 185.7h0M388.2 185.7h0M415.3 219.5h0M406.9 219.0h0M393.9 215.6h0M360.3 208.0h0M388.8 174.1h0M405.8 201.7h0M353.0 209.3h0M338.3 177.8h0M406.9 244.2h0M359.0 214.3h0M379.7 203.1h0M398.5 244.7h0M392.6 193.0h0M390.0 261.1h0M399.7 193.7h0M363.9 214.7h0M380.1 239.4h0M393.3 180.4h0M411.4 228.8h0M422.5 199.4h0M366.7 226.0h0M379.0 247.1h0M405.9 211.3h0M413.5 255.5h0M396.5 254.6h0M408.9 204.5h0M417.9 238.4h0M377.4 189.4h0M402.8 206.4h0M374.6 229.5h0M414.0 191.0h0M415.4 200.0h0M421.1 197.9h0M408.4 187.6h0M381.9 249.9h0M380.2 205.6h0M405.7 247.8h0M399.0 208.9h0M413.6 217.1h0M398.1 206.4h0M379.9 252.4h0M389.2 223.7h0M364.4 220.6h0M374.9 245.9h0M419.2 240.9h0M408.6 210.0h0M421.3 231.7h0M403.2 185.2h0M389.5 233.5h0M414.6 222.4h0M383.9 259.3h0M409.4 222.3h0M399.8 254.7h0M398.5 241.0h0M414.9 227.4h0M396.2 207.0h0M394.1 249.7h0M372.0 227.1h0M400.7 229.1h0M402.8 185.6h0M390.9 248.2h0M407.7 245.1h0M383.9 215.9h0M412.3 237.8h0M373.8 196.2h0M408.4 251.1h0M379.7 214.5h0M399.0 233.1h0M407.1 181.4h0M381.6 232.5h0M404.0 219.3h0M347.4 204.8h0M393.2 204.0h0M384.3 216.3h0M403.7 263.5h0M388.9 230.7h0M383.0 253.1h0M403.6 232.1h0M395.7 262.2h0M418.9 243.3h0M413.0 245.7h0M383.7 208.9h0M416.5 222.5h0M385.8 223.6h0M410.8 256.5h0M356.4 227.8h0M387.4 259.3h0M392.7 250.6h0M388.7 187.9h0M389.3 181.5h0M403.8 188.4h0M376.4 208.0h0M369.4 247.3h0M416.4 221.1h0M384.6 205.1h0M393.6 231.7h0M409.0 237.1h0M412.0 206.6h0M398.2 208.0h0M383.7 248.0h0M416.0 197.8h0M406.5 228.6h0M399.2 189.6h0M399.6 253.8h0M370.7 239.8h0M384.7 215.2h0M396.1 239.8h0M373.6 204.5h0M377.8 196.0h0M392.1 238.6h0M382.0 226.1h0M370.4 206.5h0M402.1 214.8h0M376.7 211.4h0M423.0 242.3h0M422.2 234.6h0M406.2 199.6h0M373.5 240.4h0M388.7 223.7h0M411.5 208.5h0M402.0 259.7h0M396.5 228.0h0M407.7 228.2h0M393.1 230.4h0M385.4 228.3h0M346.2 204.2h0M376.6 241.7h0M368.8 237.6h0M380.7 209.5h0M405.7 250.4h0M414.0 228.4h0M376.3 232.8h0M425.6 198.2h0M399.3 200.6h0M375.8 251.9h0M403.9 211.3h0M413.5 226.9h0M381.3 255.7h0M414.1 216.0h0M389.2 217.0h0M384.9 204.0h0M383.9 229.1h0M367.2 247.5h0M379.3 255.2h0M391.0 177.0h0M358.2 209.7h0M368.7 235.9h0M393.3 217.5h0M394.1 241.3h0M388.6 196.2h0M413.6 199.2h0M396.6 257.2h0M374.8 206.3h0M410.1 223.8h0M415.2 266.7h0M405.6 220.2h0M387.8 258.9h0M378.7 214.4h0M407.8 261.8h0M376.5 215.1h0M421.9 201.7h0M405.8 253.6h0M401.9 226.0h0M376.3 212.5h0M424.2 241.4h0M404.2 198.9h0M366.2 225.8h0M387.3 250.9h0M406.2 189.0h0M401.9 206.3h0M378.3 191.3h0M365.5 202.1h0M414.5 192.4h0M400.3 255.0h0M406.9 246.5h0M408.0 240.4h0M345.2 183.2h0M407.5 204.8h0M407.0 262.5h0M382.1 248.1h0M411.2 227.4h0M384.4 258.3h0M372.4 232.6h0M365.5 241.6h0M385.5 200.7h0M383.9 225.9h0M368.6 220.0h0M392.5 180.4h0M421.2 227.2h0M393.9 236.2h0M415.0 269.7h0M398.7 188.0h0M386.2 188.3h0M390.4 231.5h0M369.7 219.8h0M390.6 227.2h0M413.9 221.9h0M393.1 189.9h0M379.0 185.2h0M417.5 254.2h0M368.2 199.0h0M361.8 206.9h0M407.5 248.3h0M398.0 251.7h0M408.5 202.3h0M405.1 190.3h0M379.2 208.9h0M368.8 214.2h0M416.2 188.9h0M380.2 217.0h0M411.1 218.0h0M412.3 188.4h0M404.6 224.0h0M380.8 181.1h0M412.9 215.6h0M419.3 248.4h0M415.9 239.7h0M424.0 199.6h0M378.8 238.5h0M408.2 225.3h0M365.0 231.3h0M414.0 246.7h0M413.8 216.4h0M393.0 236.2h0M386.5 181.8h0M388.9 218.9h0M370.8 224.5h0M412.6 255.5h0M389.8 227.7h0M383.3 221.0h0M418.7 225.6h0M403.2 186.2h0M379.0 205.4h0M406.9 205.8h0M418.1 205.0h0M369.9 242.8h0M392.4 218.9h0M384.6 184.9h0M366.7 219.6h0M422.2 240.6h0M420.6 245.3h0M397.6 194.3h0M406.6 234.0h0M405.6 194.6h0M375.4 246.0h0M393.7 255.6h0M388.3 233.4h0M391.0 229.6h0M399.0 253.6h0M348.3 207.2h0M334.7 185.2h0M373.3 216.3h0M410.6 250.9h0M390.5 175.8h0M413.2 231.0h0M392.0 194.2h0M372.2 211.0h0M416.5 234.8h0M415.3 217.3h0M397.3 196.4h0M378.4 248.0h0M410.0 252.1h0M383.1 213.6h0M396.1 179.3h0M397.6 249.3h0M371.9 207.8h0M397.2 248.9h0M412.0 226.4h0M375.3 235.6h0M407.1 223.4h0M355.1 203.8h0M413.9 205.2h0M355.2 203.7h0M382.3 187.3h0M382.4 231.7h0M396.3 261.2h0M386.4 175.9h0M382.0 256.4h0M374.2 194.9h0M417.2 239.7h0M384.9 190.6h0M396.9 214.6h0M373.0 241.4h0M416.0 230.4h0M390.8 251.7h0M387.0 177.5h0M388.7 179.9h0M375.5 232.1h0M378.5 192.3h0M385.8 198.4h0M378.7 220.0h0M355.4 209.4h0M382.4 228.1h0M375.7 195.1h0M402.1 204.8h0M384.2 204.2h0M408.6 238.8h0" stroke="#009E73" stroke-width="2.60" stroke-linecap="round" fill="none" /><path d="M417.4 270.3h0M393.1 177.5h0M391.7 176.2h0M390.6 174.2h0M389.5 177.0h0M390.0 174.2h0M395.7 178.0h0M390.2 175.3h0M395.0 175.0h0M389.5 175.3h0M371.9 197.0h0M392.9 174.9h0M397.7 176.7h0M423.4 240.0h0M384.8 179.5h0M393.0 175.0h0M390.8 176.2h0M395.8 178.1h0M396.3 177.5h0M398.7 179.6h0M399.8 176.3h0M397.4 176.9h0M420.9 226.0h0M395.8 176.1h0M401.3 177.1h0M396.4 180.5h0M388.5 179.5h0M397.4 180.9h0M397.2 177.2h0M395.8 177.4h0M392.7 176.9h0M397.3 174.8h0M391.3 175.9h0M395.0 178.3h0M400.0 177.3h0M386.5 176.4h0M392.2 178.0h0M395.2 176.1h0" stroke="#E69F00" stroke-width="2.60" stroke-linecap="round" fill="none" /><path d="M402.3 182.3h0M420.3 191.8h0M400.8 177.5h0M405.4 179.8h0M398.3 177.6h0M391.6 180.6h0M403.6 178.4h0M396.2 179.2h0M396.5 178.2h0M394.6 176.1h0M422.6 193.3h0M404.2 181.1h0M392.0 178.0h0M418.3 269.3h0M388.5 179.2h0M389.6 180.7h0M399.3 180.5h0M397.4 181.8h0M417.7 193.8h0M390.4 178.0h0M397.1 178.6h0M400.4 175.7h0M390.2 177.5h0M391.3 176.5h0M398.0 181.3h0M395.3 178.0h0M408.2 184.3h0M394.8 179.5h0M419.8 195.8h0M419.7 198.6h0M385.2 177.7h0M393.5 179.9h0M393.3 179.2h0M402.7 181.2h0M391.6 177.1h0M386.8 177.7h0M422.9 244.0h0M401.4 180.3h0M401.3 177.7h0M396.6 176.5h0M417.1 190.4h0M392.3 176.9h0" stroke="#56B4E9" stroke-width="2.60" stroke-linecap="round" fill="none" /><path d="M365.6 241.9h0M350.9 205.1h0M354.6 205.3h0M362.9 204.9h0M328.2 193.6h0M358.5 206.7h0M382.7 239.4h0M322.7 195.7h0M321.9 192.9h0M365.3 203.6h0M334.6 190.6h0M324.9 193.6h0M366.1 234.8h0M354.2 209.4h0M361.9 240.4h0M327.7 192.3h0M367.1 239.3h0M330.3 201.0h0M326.2 191.6h0M364.7 241.6h0M371.6 240.8h0M359.5 211.0h0M347.7 205.0h0M358.6 208.0h0M362.8 240.8h0M357.4 207.3h0M327.7 196.1h0M372.0 243.2h0M368.2 205.2h0M366.4 209.5h0M330.4 198.6h0M358.4 211.2h0M328.7 198.6h0M366.8 242.0h0M365.2 242.3h0M322.6 196.7h0M355.8 209.3h0M368.0 210.4h0M357.2 207.3h0M323.7 197.9h0M381.2 228.6h0M323.5 193.6h0M358.6 208.5h0M357.6 206.4h0M330.9 191.9h0M373.9 220.4h0M326.2 199.5h0M355.3 204.9h0M362.7 237.7h0M327.5 195.3h0M331.6 197.7h0M328.2 199.8h0M329.5 197.8h0M364.1 238.3h0M356.6 206.5h0M357.7 206.7h0M325.9 189.9h0M369.8 229.5h0M328.5 193.8h0M372.7 243.2h0M334.3 201.2h0M359.8 212.7h0M359.8 210.9h0M321.6 194.0h0M358.7 238.2h0M375.1 215.8h0M362.8 237.3h0M353.5 205.6h0M328.8 195.8h0M365.7 240.3h0M331.7 194.6h0M333.8 195.7h0M370.5 242.1h0M328.0 197.3h0M353.9 210.7h0M358.4 210.0h0M354.8 205.2h0M331.8 194.0h0M348.5 205.3h0M375.0 253.6h0M356.5 231.2h0M351.3 204.9h0M364.7 242.1h0M370.3 227.0h0M335.1 202.9h0M366.1 246.9h0M319.8 196.9h0M365.1 209.6h0M322.5 200.5h0M367.2 239.7h0M321.8 199.3h0M323.6 198.4h0M367.2 237.9h0M334.3 192.8h0M331.9 200.6h0M330.0 188.3h0M322.8 197.5h0M329.8 197.6h0M363.1 228.9h0M351.8 205.7h0M375.0 242.2h0M365.0 208.3h0M363.8 240.2h0M330.5 198.9h0M363.4 241.0h0M327.8 200.9h0M330.7 196.6h0M324.4 198.7h0M336.0 199.3h0M360.7 238.4h0M320.4 198.0h0M323.0 193.9h0M322.4 193.9h0M365.3 207.8h0M364.4 224.6h0M327.8 192.7h0M381.5 219.9h0M367.3 245.7h0M327.9 202.1h0M329.2 197.7h0M368.6 212.0h0M362.6 207.8h0M363.0 211.3h0M368.3 239.9h0M360.9 208.3h0M363.1 241.6h0M333.5 198.4h0M327.4 201.8h0M326.8 194.0h0M322.0 196.3h0M328.3 201.4h0M384.5 251.3h0M363.7 241.4h0" stroke="#0072B2" stroke-width="2.60" stroke-linecap="round" fill="none" /><path d="M361.5 222.8h0M356.4 235.4h0" stroke="#F0E442" stroke-width="2.60" stroke-linecap="round" fill="none" /><path d="M389.9 189.3h0M379.1 247.1h0M403.4 189.5h0M416.6 252.0h0M357.3 232.4h0M376.8 232.4h0M402.7 195.2h0M415.8 225.9h0M398.7 177.5h0M359.3 229.5h0M366.6 221.5h0M417.3 227.6h0M385.6 183.3h0M421.4 242.3h0M391.7 198.8h0M392.0 255.1h0M372.1 245.0h0M389.2 223.6h0M379.4 228.9h0M389.0 184.0h0M394.8 196.1h0M402.3 223.6h0M376.8 231.5h0M409.3 201.5h0M396.4 240.6h0M414.8 243.3h0M389.4 219.2h0M381.2 232.1h0M402.4 239.6h0M407.7 235.4h0M403.5 246.2h0M387.7 180.1h0M397.8 235.0h0M388.1 248.7h0M365.4 205.6h0M366.3 223.6h0M408.9 259.4h0M391.5 244.4h0M373.9 232.7h0M413.8 200.3h0M397.4 234.5h0M384.3 194.3h0M389.0 187.8h0M410.5 250.4h0M362.1 208.1h0M416.8 197.4h0M413.8 255.2h0M404.2 237.4h0M382.8 196.9h0M385.2 181.3h0M363.0 231.9h0M372.1 195.8h0M421.2 236.5h0M389.3 221.9h0M383.3 199.3h0M366.8 242.4h0M392.2 221.2h0M372.5 249.3h0M387.3 253.8h0M370.5 227.9h0M379.0 187.3h0M383.3 245.5h0M394.0 212.0h0M388.5 242.0h0M359.5 217.0h0M400.8 234.2h0M389.0 260.1h0M416.2 254.9h0M399.3 259.0h0M390.0 217.0h0" stroke="#DCEBE2" stroke-width="1.00" stroke-linecap="round" fill="none" /><rect x="433.8" y="167.1" width="19.3" height="3.6" fill="#E69F00" /><rect x="433.8" y="170.6" width="19.3" height="3.3" fill="#56B4E9" /><rect x="433.8" y="173.9" width="19.3" height="90.4" fill="#009E73" /><rect x="433.8" y="264.2" width="19.3" height="0.8" fill="#F0E442" /><rect x="433.8" y="265.0" width="19.3" height="9.3" fill="#0072B2" /><line x1="318.8" y1="279.5" x2="453.1" y2="279.5" stroke="#333" stroke-width="0.80" /><text x="388.3" y="287.9" font-size="6.40" text-anchor="middle" font-weight="normal" fill="#444"  stroke="#444" stroke-width="0.15">ZIKV+diluent</text><polygon points="533.2,175.5 537.6,172.9 548.4,173.6 553.2,178.3 559.5,183.9 563.5,187.1 568.9,191.8 573.7,196.5 572.9,201.3 569.8,204.4 566.6,206.3 563.5,208.3 567.3,209.8 571.4,211.4 572.1,213.9 568.2,215.5 565.1,217.0 566.6,220.2 569.8,224.9 571.4,228.1 570.8,231.2 572.9,236.0 573.7,240.7 572.1,247.0 568.9,250.8 566.6,254.9 563.5,258.0 560.3,261.9 559.5,264.3 563.5,267.5 567.3,269.1 566.6,272.9 563.5,273.8 559.5,269.8 556.3,265.9 547.2,265.7 536.7,263.1 527.0,259.6 519.2,254.3 513.9,247.3 510.4,242.1 503.4,238.6 500.8,233.3 502.5,228.1 506.9,225.4 507.8,221.9 499.0,221.9 497.3,219.3 499.9,217.6 506.0,216.7 504.8,212.3 501.6,208.8 494.6,206.2 493.8,203.9 497.3,202.7 506.9,203.2 512.2,200.9 517.4,194.8 520.9,187.8 527.0,181.6 531.4,179.9" fill="#E6E6E6" /><path d="M535.9 173.0h0M537.2 171.9h0M536.7 173.2h0M544.8 173.2h0M542.7 173.8h0M544.1 173.3h0M541.3 172.7h0M549.3 174.1h0M551.4 176.5h0M552.6 178.0h0M559.6 183.5h0M558.5 183.5h0M555.2 179.2h0M559.6 183.5h0M561.1 185.3h0M559.5 184.8h0M563.3 186.7h0M565.4 188.0h0M564.4 188.7h0M569.3 192.1h0M572.5 195.3h0M572.2 196.0h0M573.9 196.7h0M573.3 201.8h0M570.4 204.0h0M571.0 202.3h0M569.4 203.7h0M568.3 206.4h0M566.0 207.1h0M563.1 209.1h0M565.4 209.5h0M564.4 208.7h0M570.4 210.9h0M568.2 209.9h0M571.7 213.1h0M568.4 215.3h0M572.0 213.9h0M566.8 216.0h0M566.9 219.1h0M569.5 224.2h0M567.3 220.5h0M571.5 226.3h0M570.3 231.3h0M572.0 234.7h0M572.0 233.5h0M574.3 240.5h0M573.2 238.5h0M573.4 241.4h0M573.3 242.1h0M572.1 244.3h0M570.8 248.0h0M570.6 248.1h0M568.9 251.8h0M568.2 253.2h0M565.6 255.2h0M563.5 256.7h0M561.9 258.7h0M560.3 262.0h0M559.1 262.7h0M562.7 267.3h0M560.7 263.9h0M565.0 267.5h0M566.7 269.4h0M566.7 270.9h0M567.0 270.8h0M564.7 273.6h0M561.5 271.7h0M560.6 270.9h0M558.0 268.1h0M558.9 269.5h0M555.1 266.0h0M552.3 265.4h0M554.2 265.9h0M552.5 266.3h0M546.2 265.0h0M546.6 265.5h0M541.1 264.9h0M537.3 262.7h0M538.3 263.2h0M534.8 262.2h0M528.1 259.6h0M533.3 261.9h0M535.0 262.5h0M525.2 258.1h0M523.8 257.8h0M525.2 258.0h0M520.0 254.2h0M518.4 252.5h0M516.4 252.7h0M516.5 251.5h0M518.1 253.1h0M513.1 244.9h0M513.5 247.2h0M510.7 242.1h0M509.4 242.4h0M507.9 240.7h0M505.2 239.3h0M503.1 237.5h0M501.8 236.1h0M501.2 230.6h0M502.0 229.3h0M502.6 227.7h0M506.3 225.7h0M507.0 223.0h0M507.1 222.5h0M499.4 222.3h0M500.5 222.3h0M501.4 222.3h0M501.3 222.1h0M497.9 219.7h0M498.0 218.3h0M502.3 217.8h0M505.2 217.0h0M505.1 216.1h0M505.8 215.2h0M504.8 212.2h0M502.3 210.1h0M501.7 208.7h0M499.8 207.9h0M497.1 207.3h0M497.5 207.2h0M494.5 205.4h0M495.7 202.2h0M493.8 203.9h0M501.9 203.1h0M501.6 203.1h0M498.3 202.3h0M505.4 202.9h0M507.9 202.5h0M510.6 201.5h0M512.8 200.1h0M512.9 199.1h0M512.5 200.2h0M517.5 193.7h0M520.0 188.7h0M521.0 189.3h0M522.0 188.4h0M525.1 183.8h0M526.4 181.0h0M521.4 186.6h0M527.7 181.8h0M528.4 181.2h0M532.3 175.5h0M532.5 177.5h0" stroke="#E6E6E6" stroke-width="2.50" stroke-linecap="round" fill="none" /><polygon points="467.0,200.2 467.5,195.4 468.8,190.6 471.0,186.2 474.5,182.3 478.9,179.6 484.1,177.9 487.6,175.7 490.2,176.1 493.3,178.8 494.6,183.1 496.4,186.6 498.1,188.8 499.4,192.3 499.0,194.1 497.3,193.6 494.6,190.6 492.4,188.8 489.8,187.5 488.5,184.0 486.7,181.4 485.0,183.1 483.7,186.6 482.4,188.8 482.8,191.5 485.0,193.2 485.9,196.3 485.0,198.9 487.6,200.2 489.8,202.0 489.8,204.6 487.6,205.0 485.0,205.5 482.4,203.7 478.9,202.0 475.4,202.4 471.0,202.8 468.4,202.4" fill="#E6E6E6" /><path d="M466.6 197.0h0M467.3 198.4h0M468.8 194.7h0M468.1 193.1h0M470.4 188.1h0M469.5 188.8h0M471.8 186.0h0M472.5 184.5h0M475.5 181.9h0M475.8 182.1h0M479.5 179.4h0M483.5 177.3h0M486.0 176.8h0M486.3 177.1h0M489.7 176.3h0M490.3 176.4h0M491.9 177.1h0M493.3 180.2h0M494.2 181.7h0M494.5 182.9h0M494.5 186.0h0M497.2 187.0h0M499.3 190.4h0M499.0 192.2h0M500.4 193.0h0M498.3 193.8h0M497.1 193.1h0M497.1 194.0h0M494.1 190.1h0M490.1 188.1h0M489.1 186.1h0M489.9 186.8h0M486.1 181.0h0M487.0 181.8h0M483.9 184.6h0M484.0 184.2h0M482.4 187.6h0M482.8 189.7h0M483.1 190.7h0M485.4 194.3h0M486.1 197.2h0M486.5 199.8h0M489.5 201.5h0M489.7 202.9h0M488.6 205.5h0M486.7 204.8h0M482.5 203.9h0M478.8 201.3h0M479.7 202.1h0M475.8 202.5h0M475.3 202.8h0M472.4 202.9h0M468.9 202.5h0M468.6 202.6h0" stroke="#E6E6E6" stroke-width="2.50" stroke-linecap="round" fill="none" /><polygon points="533.3,177.5 537.6,175.3 547.0,175.3 553.8,179.4 558.3,185.6 562.0,188.6 567.2,193.2 571.4,197.5 570.7,201.4 567.8,204.2 564.8,206.1 561.5,208.6 565.5,210.8 569.2,212.4 569.7,213.7 566.5,214.9 563.1,217.0 564.8,220.7 567.8,225.4 569.2,228.3 568.7,231.3 570.7,235.9 571.4,240.2 569.9,245.9 567.0,249.4 564.8,253.4 561.7,256.4 559.0,260.4 558.1,262.4 547.0,263.4 536.8,260.9 527.9,257.5 520.5,252.7 515.6,246.0 512.2,240.9 505.7,237.3 503.1,233.0 504.6,228.6 509.1,226.0 509.9,221.4 507.7,217.0 506.9,212.2 506.4,207.4 511.1,203.1 513.9,201.8 519.0,196.1 522.4,189.3 528.2,183.5 532.0,181.8" fill="#009E73" /><path d="M533.2 177.0h0M534.3 177.7h0M538.4 175.8h0M545.8 175.5h0M544.0 177.0h0M538.3 175.1h0M544.3 175.5h0M552.9 177.9h0M554.0 179.0h0M547.5 175.9h0M553.1 179.3h0M557.6 185.5h0M554.9 180.8h0M555.4 181.4h0M554.9 180.7h0M561.1 187.6h0M561.7 187.7h0M565.1 191.3h0M563.3 190.7h0M566.8 191.3h0M571.6 196.7h0M571.3 196.1h0M567.4 193.6h0M571.3 198.0h0M570.2 198.2h0M570.6 201.4h0M569.9 201.8h0M564.7 205.6h0M567.1 204.1h0M561.5 208.7h0M561.1 209.1h0M560.6 208.1h0M562.9 209.8h0M568.8 212.5h0M566.1 210.4h0M569.8 212.3h0M568.5 215.2h0M567.4 214.3h0M565.0 216.3h0M565.4 215.1h0M563.8 216.8h0M563.3 218.3h0M567.0 223.9h0M566.0 223.0h0M567.8 225.3h0M569.4 227.8h0M568.8 225.2h0M570.1 229.3h0M568.1 228.5h0M570.3 235.0h0M568.4 231.6h0M569.1 233.3h0M571.6 238.8h0M571.0 239.5h0M569.2 245.3h0M569.6 245.8h0M570.1 243.6h0M569.3 246.6h0M568.9 248.0h0M565.6 251.7h0M567.1 249.5h0M562.1 255.2h0M564.2 254.9h0M560.9 257.2h0M558.7 259.9h0M559.5 260.3h0M550.9 263.7h0M549.1 261.5h0M549.0 263.8h0M550.9 263.5h0M553.4 263.6h0M549.5 263.7h0M541.9 262.4h0M540.9 263.1h0M539.5 261.2h0M545.8 263.8h0M538.9 261.9h0M529.8 258.5h0M536.5 261.2h0M530.1 256.9h0M532.8 258.8h0M533.8 259.5h0M520.5 253.1h0M526.3 256.7h0M523.2 254.9h0M527.5 257.3h0M519.6 251.0h0M516.7 247.7h0M519.2 250.3h0M516.4 247.6h0M515.5 246.0h0M513.7 243.3h0M512.1 240.5h0M508.7 238.5h0M511.0 241.8h0M510.8 240.6h0M510.3 239.0h0M503.7 234.6h0M504.8 234.7h0M504.3 228.4h0M503.1 233.8h0M507.8 227.3h0M505.4 229.0h0M508.4 226.9h0M509.5 225.1h0M509.3 225.5h0M509.6 219.4h0M507.3 217.2h0M505.7 214.7h0M506.8 215.1h0M507.2 210.7h0M507.4 207.7h0M509.1 203.9h0M507.3 207.8h0M509.8 204.7h0M512.4 202.3h0M511.7 202.9h0M514.9 199.9h0M518.0 198.8h0M518.8 196.9h0M516.2 198.4h0M518.7 196.3h0M520.6 193.2h0M519.7 193.8h0M519.0 196.0h0M526.0 186.1h0M524.8 187.2h0M523.2 188.0h0M522.4 189.4h0M530.0 183.2h0M530.7 182.5h0M531.9 181.3h0M532.8 179.2h0" stroke="#009E73" stroke-width="2.50" stroke-linecap="round" fill="none" /><path d="M557.7 257.2h0M555.7 246.7h0M540.6 262.2h0M540.0 221.8h0M538.1 184.9h0M563.0 211.1h0M563.9 191.5h0M555.5 251.3h0M554.9 180.5h0M479.3 181.8h0M512.5 220.8h0M524.9 215.7h0M524.3 216.6h0M552.0 193.1h0M517.5 244.0h0M556.8 241.5h0M540.6 178.2h0M544.1 235.9h0M533.8 179.5h0M549.6 244.9h0M530.1 226.0h0M542.4 188.8h0M568.0 200.8h0M537.5 239.5h0M532.0 195.6h0M539.1 235.4h0M526.3 207.6h0M543.2 187.1h0M544.3 199.6h0M527.3 217.7h0M560.1 223.8h0M551.1 256.1h0M562.1 257.3h0M526.6 196.7h0M554.9 261.1h0M538.2 182.7h0M521.0 231.5h0M529.3 205.8h0M568.2 236.0h0M504.1 233.9h0M540.2 233.0h0M549.8 201.9h0M535.7 227.3h0M538.5 198.5h0M564.2 246.5h0M533.8 224.0h0M541.3 196.2h0M518.0 223.2h0M540.3 245.2h0M546.0 239.3h0M515.4 223.2h0M540.6 181.2h0M542.9 193.8h0M548.9 191.2h0M558.5 260.2h0M566.3 243.5h0M545.0 182.6h0M554.1 258.5h0M544.4 243.9h0M511.4 227.8h0M521.4 195.7h0M544.4 208.4h0M535.2 208.5h0M527.1 182.5h0M536.2 216.4h0M564.4 229.0h0M527.9 203.5h0M529.2 230.8h0M513.2 210.4h0M561.4 247.4h0M558.6 201.6h0M553.0 193.0h0M515.9 218.2h0M538.8 175.9h0M533.3 191.6h0M555.7 197.9h0M539.1 255.0h0M521.8 219.5h0M560.2 220.9h0M537.9 220.4h0M522.4 196.9h0M539.0 183.8h0M564.8 200.8h0M526.1 191.4h0M558.4 234.6h0M522.4 195.9h0M561.6 202.0h0M537.4 242.7h0M568.0 234.0h0M562.1 221.9h0M553.2 203.0h0M535.4 238.7h0M561.2 197.4h0M551.7 211.3h0M544.4 227.4h0M553.8 197.8h0M541.8 260.8h0M549.2 185.4h0M566.0 249.3h0M551.9 206.9h0M510.1 209.8h0M531.4 241.1h0M520.4 207.5h0M567.0 192.0h0M558.3 198.4h0M495.0 205.8h0M482.9 183.9h0M539.6 222.3h0M539.4 199.7h0M509.2 227.6h0M560.6 219.0h0M547.7 253.9h0M541.7 201.0h0M520.3 211.2h0M554.3 190.7h0M539.4 223.6h0M556.1 260.4h0M552.0 226.9h0M557.0 252.2h0M507.8 235.8h0M541.8 204.9h0M545.6 260.6h0M570.2 239.8h0M562.7 222.9h0M481.0 183.0h0M502.0 220.2h0M531.1 188.0h0M544.5 222.5h0M558.1 231.7h0M517.1 215.1h0M566.7 272.5h0M538.5 231.6h0M511.2 232.1h0M508.5 230.2h0M547.8 185.9h0M543.9 214.8h0M547.9 186.1h0M552.3 253.0h0M560.1 240.2h0M481.9 187.7h0M520.3 192.5h0M549.5 209.2h0M534.2 210.6h0M550.5 252.9h0M565.7 202.3h0M519.9 247.6h0M537.1 217.8h0M547.1 219.3h0M547.0 195.9h0M534.4 202.5h0M515.9 198.9h0M513.3 202.8h0M533.4 209.6h0M562.4 272.5h0M566.7 228.9h0M512.8 229.2h0M543.3 261.7h0M550.6 249.8h0M528.6 217.0h0M525.5 236.2h0M569.7 236.6h0M530.2 210.0h0M565.7 211.7h0M508.6 211.8h0M529.3 221.7h0M532.7 215.8h0M542.6 180.4h0M529.4 189.8h0M512.8 240.5h0M518.6 230.0h0M554.9 190.9h0M567.6 195.6h0M509.0 218.4h0M514.0 222.2h0M510.9 203.4h0M510.3 223.2h0M565.9 228.7h0M556.4 235.5h0M517.4 215.6h0M507.9 212.1h0M537.0 239.9h0M511.7 231.3h0M541.6 209.8h0M555.4 196.1h0M559.4 184.2h0M526.8 184.7h0M516.2 235.7h0M530.1 215.9h0M557.1 189.7h0M529.4 200.5h0M522.9 238.8h0M534.8 205.2h0M547.0 226.2h0M541.2 236.8h0M553.3 200.3h0M536.1 215.0h0M518.7 223.2h0M538.5 202.3h0M513.3 241.7h0M542.5 239.6h0M542.7 226.4h0M539.3 259.8h0M544.4 178.7h0M521.7 191.3h0M544.3 258.3h0M473.5 185.8h0M526.5 232.8h0M555.3 252.4h0M525.2 191.0h0M552.2 232.6h0M531.2 212.5h0M525.1 248.0h0M559.6 241.7h0M524.3 199.2h0M547.6 252.2h0M514.7 242.0h0M536.7 231.1h0M544.4 190.6h0M557.2 235.1h0M555.9 236.6h0M540.1 252.7h0M531.5 211.2h0M531.8 215.2h0M552.3 256.4h0M551.9 213.7h0M565.5 237.3h0M559.1 195.7h0M535.9 240.3h0M543.0 207.6h0M534.6 237.1h0M549.3 236.2h0M521.3 198.1h0M560.9 254.4h0M548.1 247.9h0M508.7 215.1h0M557.6 195.0h0M535.0 249.6h0M552.7 207.5h0M541.3 192.1h0M555.4 224.2h0M543.0 252.7h0M529.2 215.5h0M546.0 188.0h0M550.2 197.7h0M535.1 179.3h0M561.8 202.5h0M530.1 231.9h0M506.8 229.0h0M548.9 194.0h0M563.8 245.4h0M538.3 260.3h0M565.5 235.0h0M545.3 197.1h0M511.7 211.2h0M548.7 202.3h0M528.9 213.1h0M523.2 214.4h0M541.7 204.2h0M560.5 213.7h0M531.7 234.5h0M535.0 243.5h0M546.6 180.5h0M524.4 245.3h0M526.2 210.1h0M538.0 232.1h0M541.5 243.3h0M514.7 221.4h0M555.4 193.3h0M542.8 228.7h0M518.4 208.5h0M550.7 193.8h0M530.9 209.9h0M520.4 201.2h0M525.4 240.1h0M506.5 212.2h0M526.0 186.4h0M534.0 227.5h0M508.7 238.7h0M547.3 254.6h0M555.7 204.9h0M518.0 242.2h0M539.9 232.6h0M537.6 243.1h0M549.8 231.7h0M519.2 219.2h0M530.9 203.9h0M571.6 236.6h0M567.1 192.0h0M558.7 226.1h0M555.8 260.2h0M540.1 202.8h0M558.4 204.4h0M560.9 256.1h0M540.3 190.4h0M539.1 214.6h0M564.7 220.9h0M553.4 186.9h0M553.5 250.9h0M554.1 190.8h0M556.8 212.3h0M536.1 240.9h0M505.5 230.6h0M562.5 190.4h0M502.8 234.0h0M517.6 214.2h0M540.2 188.5h0M569.1 194.3h0M540.6 238.1h0M532.3 256.2h0M553.5 194.7h0M532.5 214.9h0M546.3 220.1h0M519.0 217.6h0M537.2 185.1h0M528.8 229.4h0M518.3 251.0h0M552.7 244.1h0M542.4 240.8h0M541.7 219.7h0M545.9 174.5h0M481.2 190.7h0M518.5 225.4h0M564.8 196.1h0M536.8 246.2h0M562.4 216.9h0M543.0 177.6h0M557.8 225.1h0M535.9 184.5h0M529.9 224.2h0M521.1 190.8h0M529.5 231.5h0M563.8 271.0h0M515.7 203.3h0M527.7 245.3h0M510.5 227.6h0M515.1 214.0h0M549.7 191.2h0M536.8 248.6h0M566.4 237.8h0M569.8 201.7h0M526.0 244.3h0M532.1 188.4h0M527.1 205.2h0M516.1 231.0h0M553.5 198.8h0M523.6 195.4h0M557.3 246.3h0M550.8 195.4h0M532.6 243.8h0M545.1 201.3h0M556.9 238.5h0M559.6 225.2h0M515.4 218.3h0M555.2 228.2h0M527.5 239.7h0M561.0 205.5h0M542.3 218.9h0M533.8 240.3h0M567.0 200.1h0M540.2 218.8h0M552.2 227.9h0M554.0 188.0h0M537.9 246.8h0M534.4 183.8h0M554.3 187.7h0M531.7 257.2h0M543.0 257.0h0M519.0 204.7h0M521.1 231.7h0M539.9 209.7h0M512.5 201.8h0M534.5 230.2h0M556.0 219.7h0M556.3 188.9h0M528.3 207.0h0M543.6 175.5h0M551.7 213.9h0M512.9 226.3h0M516.9 227.8h0M551.1 180.3h0M518.5 220.6h0M563.3 257.5h0M531.9 203.2h0M537.0 197.1h0M506.5 228.5h0M534.2 244.9h0M550.4 244.3h0M524.5 235.0h0M544.2 243.7h0M548.0 235.0h0M550.3 228.0h0M567.3 224.9h0M536.6 211.4h0M565.0 223.9h0M535.3 219.5h0M534.4 220.2h0M508.9 208.5h0M540.7 206.7h0M536.0 193.9h0M558.4 193.5h0M518.5 225.5h0M520.3 225.7h0M547.1 232.5h0M480.1 197.2h0M535.6 174.5h0M549.0 246.9h0M546.9 189.9h0M534.6 253.5h0M566.3 222.3h0M543.3 242.4h0M554.3 202.1h0M540.5 179.4h0M563.3 198.6h0M559.1 259.8h0M562.0 248.0h0M476.2 183.6h0M510.0 211.3h0M543.8 262.8h0M533.1 199.5h0M533.9 248.8h0M472.1 189.0h0M524.0 245.0h0M561.0 221.0h0M537.0 257.7h0M552.2 223.4h0M523.2 240.3h0M547.8 211.3h0M520.8 225.1h0M516.0 199.4h0M560.9 197.9h0M519.5 230.7h0M557.8 233.4h0M555.5 262.1h0M531.1 219.4h0M510.1 220.3h0M520.8 245.3h0M515.2 205.5h0M478.2 182.2h0M547.0 230.2h0M511.1 213.6h0M538.4 251.1h0M551.8 180.1h0M560.6 221.0h0M544.0 257.2h0M562.3 229.0h0M557.6 199.5h0M543.5 176.5h0M524.4 204.8h0M531.2 203.9h0M537.9 215.3h0M523.2 189.3h0M557.6 242.2h0M553.9 218.0h0M527.6 199.5h0M534.0 182.7h0M536.3 205.1h0M538.1 246.1h0M533.5 218.2h0M525.4 208.8h0M526.4 231.0h0M511.5 203.8h0M557.2 209.7h0M548.8 226.5h0M556.6 217.7h0M481.0 191.3h0M549.1 260.5h0M554.4 232.2h0M518.8 224.3h0M553.8 240.6h0M539.5 173.3h0M507.7 230.8h0M517.9 205.4h0M547.4 182.4h0M487.5 180.5h0M511.9 208.2h0M542.6 243.4h0M513.2 219.7h0M540.7 218.8h0M556.6 243.8h0M512.0 214.6h0M561.6 228.1h0M556.0 229.7h0M543.6 192.1h0M540.0 230.1h0M546.9 264.4h0M523.1 199.7h0M556.9 190.6h0M538.3 233.6h0M558.1 260.6h0M537.9 224.8h0M545.4 252.2h0M569.3 212.8h0M536.9 195.6h0M523.2 255.3h0M504.7 232.6h0M556.3 257.0h0M530.4 193.2h0M523.3 227.7h0M540.5 231.3h0M571.2 197.0h0M557.4 260.9h0M478.0 182.5h0M528.3 256.7h0M532.4 240.9h0M544.9 182.2h0M565.2 223.9h0M508.7 232.8h0M563.6 237.3h0M482.6 188.3h0M544.6 185.5h0M563.5 230.0h0M531.8 240.9h0M556.1 221.3h0M549.5 231.2h0M513.9 228.4h0M549.6 179.9h0M565.9 239.0h0M561.8 258.0h0M561.9 218.4h0M544.3 235.7h0M545.5 255.0h0M541.1 176.9h0M570.3 244.2h0M528.3 238.8h0M551.8 197.8h0M548.4 255.2h0M561.6 194.1h0M554.3 258.4h0M541.5 212.7h0M519.3 228.3h0M526.0 252.4h0M524.0 237.9h0M544.9 183.0h0M534.5 245.6h0M506.6 234.4h0M559.5 246.4h0M550.7 176.5h0M520.6 221.6h0M536.9 190.1h0M531.2 187.4h0M527.1 209.8h0M545.6 224.3h0M506.3 234.8h0M520.3 217.5h0M534.7 200.2h0M518.3 231.2h0M562.6 232.4h0M560.3 227.6h0M548.3 249.3h0M557.7 254.2h0M561.2 196.8h0M521.1 252.2h0M568.4 239.2h0M505.0 236.6h0M535.1 189.0h0M540.0 191.0h0M549.1 221.8h0M492.1 188.6h0M558.4 204.2h0M538.6 201.3h0M561.3 270.0h0M568.6 248.3h0M563.6 194.5h0M543.2 225.7h0M541.9 235.9h0M567.9 239.1h0M480.1 180.9h0M528.7 232.5h0M553.1 195.3h0M539.6 239.6h0M566.7 230.8h0M540.1 180.5h0M534.2 182.5h0M537.3 224.4h0M555.8 242.3h0M518.5 200.7h0M520.1 226.6h0M533.6 218.4h0M548.6 259.4h0M541.4 181.4h0M518.5 215.8h0M535.5 188.1h0M560.9 234.4h0M476.0 182.5h0M525.9 213.9h0M529.1 197.7h0M568.4 226.6h0M543.9 189.6h0M519.7 204.6h0M475.4 184.8h0M518.1 210.0h0M512.5 235.2h0M489.5 176.9h0M541.1 257.4h0M546.0 222.9h0M496.3 204.6h0M557.5 216.6h0M555.8 211.0h0M543.6 183.0h0M540.5 222.4h0M549.1 205.5h0M541.3 250.9h0M542.1 262.0h0M560.1 202.3h0M534.2 231.5h0M507.0 210.2h0M523.3 226.6h0M537.1 197.8h0M543.3 223.9h0M528.8 233.6h0M546.2 262.5h0M534.3 222.8h0M531.1 225.9h0M560.5 227.5h0M570.3 246.7h0M524.6 207.5h0M557.8 186.8h0M528.0 209.3h0M557.1 209.3h0M542.2 211.0h0M540.7 225.7h0M523.7 239.7h0M493.7 181.3h0M531.4 235.0h0M542.1 217.1h0M530.1 186.8h0M522.8 205.9h0M559.4 230.0h0M557.9 240.6h0M534.1 248.6h0M483.0 183.8h0M538.3 210.1h0M532.0 198.7h0M555.3 251.0h0M513.8 203.9h0M548.0 239.1h0M562.0 196.8h0M546.0 213.7h0M552.7 222.0h0M556.2 184.7h0M563.2 236.5h0M556.3 187.4h0M515.1 207.9h0M548.7 207.7h0M555.8 234.7h0M503.6 207.1h0M570.8 245.3h0M537.5 250.5h0M527.7 243.5h0M524.5 247.6h0M555.0 214.2h0M551.8 225.2h0M553.9 226.1h0M565.6 231.8h0M542.7 206.5h0M562.6 226.7h0M562.8 225.1h0M546.0 247.7h0M568.3 225.5h0M525.3 232.5h0M523.5 238.7h0M511.9 216.2h0M530.0 208.9h0M529.0 206.1h0M534.0 260.2h0M533.8 202.7h0M508.0 234.2h0M521.4 214.9h0M543.0 224.3h0M543.6 237.2h0M523.8 237.1h0M536.3 205.3h0M563.2 247.0h0M519.9 207.6h0M509.5 217.5h0M560.9 251.9h0M539.1 223.0h0M511.5 224.8h0M538.2 250.7h0M542.5 196.5h0M552.4 195.0h0M541.6 239.9h0M538.5 173.6h0M544.2 255.5h0M538.9 208.6h0M543.1 175.4h0M566.8 191.1h0M566.4 195.8h0M534.3 212.5h0M533.1 235.2h0M477.8 183.4h0M564.7 228.0h0M529.3 218.9h0M559.1 248.4h0M547.1 184.5h0M536.7 217.6h0M566.1 212.1h0M524.5 221.1h0M520.1 227.9h0M518.5 206.6h0M531.7 250.1h0M473.5 184.3h0M538.0 238.1h0M561.1 249.6h0M554.0 189.3h0M516.1 241.0h0M472.0 190.2h0M520.4 203.0h0M528.5 221.8h0M554.0 209.2h0M518.4 247.3h0M540.2 239.9h0M548.9 262.4h0M532.1 257.5h0M540.4 220.8h0M510.4 233.4h0M546.8 242.7h0M494.9 203.0h0M514.9 219.4h0M538.0 233.4h0M553.9 258.9h0M526.7 224.1h0M546.2 193.0h0M559.1 240.4h0M549.6 202.2h0M526.2 245.0h0M516.2 234.1h0M514.4 244.9h0M556.6 246.2h0M561.2 213.6h0M560.7 255.9h0M565.1 194.8h0M539.2 201.6h0M562.6 224.9h0M471.6 186.3h0M522.6 247.4h0M542.0 250.6h0M518.0 237.4h0M553.8 245.9h0M547.7 254.4h0M520.6 237.5h0M526.9 248.3h0M524.3 238.3h0M473.1 186.0h0M524.5 205.4h0M554.6 205.3h0M513.4 224.7h0M556.8 224.8h0M562.7 206.2h0M514.3 230.1h0M516.6 237.8h0M533.4 194.6h0M545.8 246.3h0M540.7 257.0h0M546.2 192.6h0M515.2 200.4h0M555.2 231.8h0M542.7 178.5h0M569.1 227.9h0M540.9 239.9h0M546.2 259.7h0M511.2 218.0h0M562.5 239.6h0M569.6 233.9h0M531.6 247.7h0M539.5 196.9h0M557.0 255.6h0M526.7 233.9h0M530.1 225.2h0M520.9 216.5h0M524.4 192.5h0M527.7 259.0h0M559.5 218.4h0M546.9 255.0h0M557.5 253.8h0M551.2 179.3h0M550.8 260.3h0M546.7 247.8h0M561.1 241.4h0M541.8 234.6h0M530.2 250.6h0M555.0 190.8h0M549.0 207.6h0M542.4 260.5h0M526.1 213.9h0M565.5 212.6h0M545.7 260.1h0M529.4 183.7h0M544.1 190.0h0M528.8 251.5h0M560.6 206.9h0M565.0 200.1h0M535.2 206.1h0M528.7 182.6h0M547.8 206.9h0M544.4 201.4h0M483.5 183.7h0M561.3 235.5h0M540.3 190.2h0M525.1 220.9h0M543.4 226.2h0M561.5 237.9h0M564.5 188.3h0M520.8 194.6h0M558.1 223.3h0M545.5 198.7h0M518.2 228.2h0M527.8 184.4h0M570.9 232.6h0M570.9 236.5h0M558.0 232.8h0M524.3 253.9h0M564.9 272.1h0M523.6 227.1h0M541.3 194.6h0M527.1 195.9h0M548.3 235.7h0M556.0 239.1h0M568.6 212.9h0M538.8 233.8h0M520.2 251.1h0M554.0 180.6h0M521.2 222.8h0M541.3 230.4h0M563.4 269.0h0M540.3 187.8h0M567.3 230.1h0M561.2 258.5h0M517.6 240.8h0M552.1 185.7h0M534.7 231.4h0M555.0 249.2h0M561.6 228.2h0M548.2 222.0h0M532.9 189.7h0M540.3 226.3h0M556.6 206.5h0M554.5 261.4h0M508.7 229.1h0M530.0 181.8h0M547.9 249.1h0M525.3 214.2h0M538.5 237.7h0M547.5 205.4h0M511.6 211.6h0M548.6 215.7h0M514.4 203.0h0M523.5 240.2h0M556.6 217.5h0M518.3 229.8h0M546.5 220.7h0M559.7 232.1h0M527.3 235.2h0M549.5 184.3h0M553.9 257.4h0M545.9 227.3h0M540.1 247.8h0M565.5 194.7h0M551.3 220.2h0M524.0 206.2h0M534.8 251.3h0M541.7 201.5h0M555.7 210.3h0M536.2 174.6h0M541.8 181.4h0M547.8 250.8h0M521.8 250.0h0M546.6 252.3h0M521.9 212.5h0M559.4 237.4h0M550.3 191.1h0M537.6 223.3h0M543.8 250.2h0M521.3 231.0h0M522.4 212.7h0M554.2 259.5h0M563.7 201.6h0M480.5 186.5h0M480.0 180.1h0M549.3 233.5h0M534.5 240.2h0M536.5 221.4h0M538.3 193.7h0M560.1 265.9h0M531.0 220.0h0M528.0 186.4h0M551.3 217.4h0M538.1 189.0h0M534.0 182.5h0M544.6 186.1h0M540.2 261.3h0M540.1 249.6h0M529.6 244.0h0M548.0 260.6h0M497.1 203.5h0M545.3 208.5h0M546.5 180.7h0M555.4 238.4h0M511.6 221.9h0M526.8 242.5h0M534.2 226.6h0M531.4 232.3h0M560.0 256.5h0M540.8 237.6h0M562.7 233.6h0M532.7 222.4h0M543.5 247.6h0M531.4 198.3h0M530.9 216.3h0M536.9 181.3h0M548.5 207.2h0M554.3 211.7h0M547.8 255.7h0M555.6 259.4h0M521.9 214.0h0M524.3 244.9h0M536.3 190.5h0M511.5 206.3h0M535.4 249.1h0M536.1 244.9h0M562.3 240.3h0M551.0 261.6h0M519.0 223.9h0M513.8 222.2h0M535.0 180.2h0M519.7 232.1h0M536.4 249.9h0M529.4 201.1h0M556.5 190.4h0M523.2 190.3h0M566.7 197.1h0M559.7 239.8h0M560.9 242.4h0M521.4 193.1h0M507.0 235.8h0M550.7 246.6h0M555.7 225.0h0M559.8 259.1h0M526.6 189.2h0M517.5 228.3h0M513.4 201.3h0M558.7 229.8h0M561.2 236.8h0M541.1 246.5h0M512.4 235.3h0M525.2 197.0h0M550.4 243.3h0M528.5 245.2h0M565.5 190.7h0M546.5 176.4h0M558.5 237.5h0M546.1 184.6h0M561.9 223.4h0M544.9 198.6h0M557.7 234.3h0M531.4 193.9h0M545.3 226.5h0M565.5 212.6h0M478.6 181.2h0M536.9 190.2h0M538.1 198.3h0M533.7 244.7h0M526.8 248.3h0M537.8 197.3h0M558.1 225.3h0M551.1 182.8h0M522.0 253.4h0M543.3 260.9h0M537.0 247.5h0M514.2 227.1h0M521.8 254.0h0M534.4 261.8h0M558.6 254.9h0M559.9 235.3h0M565.2 251.2h0M536.9 202.9h0M526.0 255.1h0M552.3 195.7h0M542.2 223.2h0M547.2 229.2h0M541.7 212.6h0M537.9 253.8h0M531.2 242.9h0M541.9 224.1h0M540.5 234.9h0M504.6 232.4h0M545.8 247.6h0M567.8 195.1h0M556.8 223.5h0M549.0 206.6h0M537.8 225.6h0M538.9 244.3h0M550.0 206.6h0M564.6 241.1h0M527.4 253.8h0M558.3 252.7h0M554.8 251.8h0M526.4 199.5h0M564.3 249.2h0M539.2 246.4h0M570.1 197.2h0M539.5 230.9h0M552.3 180.6h0M527.2 209.9h0M532.3 257.1h0M560.4 258.9h0M543.8 208.6h0M569.6 201.3h0M538.7 210.7h0M538.9 234.8h0M567.3 228.4h0M541.7 181.4h0M532.3 226.7h0M545.0 256.6h0M523.2 193.3h0M548.2 247.5h0M559.3 243.8h0M540.5 188.3h0M548.6 202.5h0M532.5 226.2h0M517.3 249.4h0M505.1 231.4h0M531.2 214.3h0M566.0 226.3h0M530.9 213.0h0M525.4 190.2h0M540.5 206.9h0M529.2 191.5h0M535.9 187.8h0M536.4 259.9h0M516.4 206.6h0M478.3 186.0h0M547.0 202.3h0M553.2 181.6h0M565.3 255.1h0M525.9 221.2h0M533.1 207.9h0M514.9 224.5h0M563.9 222.5h0M524.0 192.2h0M531.3 224.6h0M529.1 229.9h0M519.7 212.2h0M511.7 223.2h0M541.9 203.3h0M544.5 200.2h0M515.5 217.2h0M507.3 206.3h0M530.9 216.2h0M531.6 233.6h0M531.1 194.4h0M555.2 233.5h0M549.5 222.5h0M548.5 223.0h0M561.8 243.3h0M527.4 212.8h0M559.1 211.5h0M553.3 243.5h0M541.3 219.5h0M523.8 195.3h0M528.8 223.1h0M514.8 229.3h0M547.4 229.3h0M534.7 206.6h0M551.2 192.6h0M534.6 198.7h0M548.9 239.4h0M569.8 234.9h0M529.1 197.1h0M523.3 208.1h0M511.8 233.1h0M555.1 221.6h0M553.4 184.9h0M550.6 178.1h0M535.0 249.7h0M546.6 188.9h0M524.7 223.0h0M557.7 238.2h0M527.8 241.6h0M540.9 262.1h0M566.2 202.0h0M515.8 223.8h0M548.3 185.7h0M531.9 184.8h0M510.1 214.8h0M547.5 194.0h0M539.5 203.5h0M554.0 239.9h0M554.3 205.4h0M482.4 181.5h0M533.3 234.0h0M539.8 202.0h0M559.8 205.0h0M529.3 259.1h0M547.5 240.9h0M522.3 233.2h0M509.1 227.3h0M518.1 223.7h0M560.4 202.7h0M537.3 239.3h0M560.8 219.9h0M555.0 197.3h0M533.6 240.7h0M526.9 227.7h0M532.4 256.4h0M506.3 205.5h0M551.9 233.7h0M555.8 236.4h0M556.6 202.4h0M530.8 208.0h0M555.8 200.4h0M477.8 189.4h0M553.5 232.6h0M527.3 249.7h0M521.5 202.1h0M537.4 200.2h0M544.1 206.4h0M536.2 204.4h0M546.8 203.7h0M560.7 217.9h0M527.7 249.2h0M555.5 237.1h0M559.6 223.3h0M567.5 210.5h0M538.8 240.4h0M528.5 240.5h0M528.8 198.0h0M544.1 230.5h0M551.6 242.9h0M555.1 201.5h0M546.8 218.8h0M522.2 232.2h0M514.7 239.6h0M479.6 188.0h0M508.8 229.0h0M516.9 201.4h0M538.9 240.6h0M526.9 248.5h0M515.4 210.6h0M515.2 242.6h0M507.3 231.6h0M539.3 190.9h0M513.5 210.8h0M530.8 253.3h0M530.3 221.3h0M515.4 234.8h0M504.8 233.6h0M520.6 248.2h0M519.4 207.2h0M523.3 207.1h0M537.0 238.6h0M563.4 211.0h0M543.9 183.3h0M537.2 178.0h0M534.4 258.3h0M527.8 213.1h0M551.7 200.5h0M532.6 229.3h0M552.9 247.0h0M507.6 229.5h0M525.5 232.1h0M545.3 237.3h0M533.4 187.3h0M531.3 206.4h0M538.3 193.7h0M535.5 211.7h0M536.8 208.1h0M518.6 224.8h0M538.4 262.3h0M531.0 251.2h0M519.3 223.6h0M502.5 232.8h0M535.2 185.9h0M519.3 199.6h0M538.5 222.4h0M523.4 255.0h0M563.2 230.0h0M563.5 272.3h0M530.4 211.2h0M516.0 241.4h0M515.9 206.9h0M530.1 236.5h0M523.5 251.9h0M512.8 231.2h0M557.4 207.0h0M508.9 238.8h0M532.1 249.7h0M554.3 224.9h0M549.9 197.8h0M537.1 183.8h0M498.5 207.1h0M563.5 238.4h0M516.2 231.7h0M530.4 231.3h0M552.1 196.3h0M550.4 263.8h0M558.9 230.4h0M542.0 202.0h0M520.1 211.0h0M517.4 208.5h0M544.5 257.8h0M509.3 215.6h0M471.8 194.2h0M520.3 238.5h0M514.3 246.9h0M538.3 201.4h0M517.9 202.4h0M508.9 206.0h0M555.2 205.6h0M479.7 180.4h0M522.0 220.3h0M526.2 221.9h0M560.2 219.1h0M535.6 228.7h0M546.2 182.3h0M533.6 191.3h0M556.3 187.5h0M540.4 233.5h0M537.4 230.8h0" stroke="#009E73" stroke-width="2.60" stroke-linecap="round" fill="none" /><path d="M551.5 185.3h0M548.8 236.5h0M525.2 220.2h0M551.0 221.2h0M503.5 206.5h0M546.0 181.7h0M507.4 216.9h0M525.2 240.1h0M529.7 241.3h0M557.1 192.1h0M524.5 220.1h0M503.7 233.7h0M544.1 263.1h0M537.2 223.8h0M526.0 257.2h0M546.2 245.1h0M530.6 223.7h0M520.2 247.2h0M533.6 238.3h0M547.1 240.4h0M537.0 238.2h0M568.4 226.1h0M549.6 224.0h0M523.9 198.8h0M567.4 233.6h0M521.9 210.4h0M531.7 232.8h0M544.6 237.5h0M564.4 206.6h0M539.4 191.0h0M546.8 194.3h0M515.7 234.6h0M563.2 211.0h0M514.8 225.5h0M529.9 222.4h0M545.7 230.9h0M526.2 193.0h0M509.3 213.6h0M530.5 247.4h0M538.7 224.0h0M567.6 242.6h0M519.9 211.6h0M561.8 195.6h0M548.2 238.0h0M510.7 216.5h0M569.1 232.9h0M560.1 234.3h0M500.6 206.8h0M561.5 214.2h0M548.8 201.0h0M516.3 226.8h0M555.0 207.0h0M554.3 243.5h0M560.1 249.7h0M519.3 205.7h0M529.9 185.4h0M478.2 184.7h0M546.4 206.1h0M549.3 200.9h0M545.1 201.8h0M538.2 246.6h0M519.7 250.4h0M553.2 250.1h0M559.3 239.7h0M540.7 234.6h0M544.4 260.1h0M549.6 237.0h0M535.8 244.9h0M562.6 194.2h0M470.2 190.0h0M548.7 205.1h0M476.9 181.7h0M519.2 246.2h0M523.7 216.1h0M532.8 254.7h0M541.0 199.9h0M524.0 246.3h0M516.3 209.8h0M524.0 245.2h0M517.0 206.0h0M528.4 215.7h0M515.4 234.8h0M553.8 217.2h0M509.5 237.2h0M538.8 231.1h0M556.7 232.9h0M523.5 186.5h0M566.5 223.8h0M501.1 218.5h0M521.9 193.8h0M549.5 189.1h0M528.2 195.7h0M547.2 248.3h0M524.2 200.3h0M546.3 246.7h0M543.7 232.0h0M552.7 234.5h0M559.8 230.5h0M514.1 235.6h0M508.3 206.8h0M523.4 234.1h0M554.6 238.0h0M538.8 195.3h0M564.8 240.8h0M549.5 260.9h0M552.0 211.2h0M528.2 235.2h0M552.7 261.3h0M524.7 195.4h0M519.6 237.8h0M546.6 254.2h0M519.8 224.8h0M560.6 221.0h0M537.6 194.8h0M519.0 221.6h0M558.5 249.9h0M523.7 208.7h0M500.0 203.5h0M554.3 256.9h0M540.2 238.3h0M571.9 239.3h0M561.4 210.7h0M524.6 203.8h0M471.8 189.5h0M560.7 242.3h0M486.5 179.0h0M558.8 186.6h0M556.8 250.2h0M513.1 221.8h0M563.7 237.5h0M542.0 187.0h0M552.9 262.4h0M542.1 219.2h0M527.1 231.5h0M525.2 194.0h0M543.9 248.3h0M515.6 228.0h0M509.9 211.9h0M546.8 194.3h0M527.6 200.2h0M554.7 211.4h0M511.5 230.3h0M520.1 251.5h0M559.3 224.2h0M510.8 235.3h0M518.3 241.6h0M518.4 251.2h0M551.5 203.7h0M504.5 232.6h0M540.6 235.0h0M542.9 258.2h0M566.4 245.0h0M561.1 230.9h0M544.5 248.5h0M540.4 229.8h0M558.7 193.8h0M531.8 205.4h0M532.1 231.7h0M567.0 200.7h0M540.7 197.5h0M547.0 242.2h0M570.0 198.3h0M557.0 211.7h0M549.3 229.8h0M564.2 218.9h0M563.9 198.1h0M551.8 199.2h0M523.8 226.4h0M524.4 233.5h0M565.0 204.4h0M536.5 224.2h0M545.9 174.2h0M529.6 222.9h0M536.5 207.4h0M554.6 180.1h0M555.2 192.4h0M530.7 198.5h0M529.2 213.8h0M555.0 213.5h0M526.1 225.0h0M550.4 190.0h0M533.4 228.3h0M503.0 207.2h0M556.0 248.0h0M516.3 224.7h0M552.4 199.8h0M547.8 222.6h0M551.3 197.4h0M560.2 256.7h0M542.8 176.6h0M504.0 234.9h0M557.5 227.9h0M547.4 198.2h0M567.1 211.4h0M526.1 242.2h0M509.4 220.7h0M528.9 194.9h0M528.8 202.2h0M524.8 202.4h0M547.0 191.7h0M538.9 235.5h0M525.3 237.2h0M556.3 194.2h0M566.2 236.8h0M558.8 239.7h0M540.5 191.0h0M536.4 238.8h0M518.5 226.4h0M541.5 255.8h0M518.9 197.1h0M542.8 216.4h0M546.9 192.4h0M535.7 200.2h0M546.1 226.8h0M540.0 261.7h0M542.2 260.1h0M548.1 256.2h0M509.7 239.2h0M526.4 254.0h0M537.5 182.7h0M514.1 235.7h0M554.5 213.6h0M519.8 220.6h0M559.2 195.0h0M521.2 237.8h0M523.6 231.0h0M535.4 209.7h0M533.8 230.7h0M556.6 262.7h0M557.8 187.8h0M540.2 186.4h0M561.5 234.4h0M554.5 188.1h0M523.2 230.6h0M523.6 207.1h0M521.5 253.1h0M566.6 251.0h0M527.2 230.1h0M531.8 258.6h0M568.8 229.6h0M551.1 186.9h0M552.9 204.7h0M520.2 215.7h0M538.1 214.2h0M562.4 226.7h0M565.3 235.5h0M519.1 229.9h0M543.1 244.3h0M536.2 190.7h0M553.7 220.4h0M531.7 180.1h0M534.3 190.2h0M545.3 236.1h0M537.8 230.7h0M555.6 249.9h0M529.6 203.2h0M513.2 216.6h0M571.3 200.3h0M525.2 211.0h0M555.9 228.1h0M557.8 193.9h0M560.5 248.7h0M562.1 232.9h0M554.6 217.5h0M528.1 242.9h0M534.8 214.6h0M547.8 195.5h0M553.6 263.0h0M515.8 234.4h0M561.0 223.6h0M498.7 203.4h0M569.6 200.6h0M567.0 229.4h0M525.1 242.6h0M558.8 205.6h0M509.2 224.3h0M529.8 217.3h0M561.4 268.8h0M484.2 180.7h0M526.7 192.5h0M531.8 206.9h0M524.4 195.3h0M540.5 216.6h0M482.9 186.8h0M550.5 187.5h0M520.0 193.0h0M540.0 251.7h0M560.0 220.2h0M510.0 233.3h0M546.5 260.2h0M535.6 224.9h0M545.8 186.3h0M548.9 238.9h0M553.2 184.7h0M548.7 261.3h0M534.0 257.4h0M538.5 238.7h0M543.4 231.4h0M504.5 232.4h0M558.8 190.2h0M527.5 229.3h0M512.7 204.5h0M560.2 235.2h0M539.4 218.5h0M558.9 190.7h0M517.5 209.9h0M518.9 202.8h0M533.3 239.6h0M534.9 199.7h0M553.6 212.8h0M555.6 226.6h0M555.2 250.0h0M507.2 230.3h0M569.7 243.2h0M549.5 242.4h0M542.2 175.6h0M553.8 192.3h0M517.5 233.8h0M532.1 184.8h0M563.0 193.2h0M519.1 248.0h0M509.6 239.1h0M566.4 192.1h0M554.3 248.8h0M521.5 225.8h0M538.9 175.6h0M554.2 217.0h0M542.2 216.5h0M555.4 260.7h0M473.4 185.5h0M547.8 236.7h0M563.7 205.1h0M558.1 263.2h0M555.1 187.3h0M526.8 254.3h0M564.7 233.2h0M544.3 202.4h0M537.0 254.3h0M558.1 251.9h0M506.9 231.8h0M566.7 202.7h0M549.1 211.7h0M507.8 216.5h0M528.4 207.5h0M548.3 249.4h0M484.0 197.0h0M519.9 204.2h0M510.8 203.6h0M542.9 190.0h0M543.5 206.1h0M543.1 214.2h0M542.1 219.6h0M520.7 245.7h0M569.5 230.0h0M561.8 191.2h0M547.1 174.0h0M522.3 221.2h0M512.9 213.8h0M557.3 255.1h0M555.6 222.7h0M531.3 242.1h0M543.7 257.6h0M475.2 185.4h0M558.4 249.0h0M566.1 222.2h0M557.8 220.0h0M494.9 184.5h0M481.2 192.4h0M518.4 239.6h0M565.9 243.8h0M541.8 189.4h0M530.0 221.9h0M558.1 243.8h0M541.9 254.2h0M536.9 195.5h0M569.4 199.7h0M559.5 201.5h0M561.1 230.3h0M510.6 232.4h0M550.1 247.7h0M533.4 214.6h0M537.8 179.2h0M544.4 228.6h0M513.3 219.6h0M562.6 247.0h0M523.1 252.5h0M553.3 212.3h0M529.3 221.5h0M536.6 229.1h0M513.4 226.9h0M560.7 191.0h0M514.6 205.4h0M542.4 235.7h0M528.9 242.7h0M545.6 218.8h0M519.9 226.2h0M564.0 247.5h0M554.1 222.9h0M562.5 196.4h0M515.6 200.2h0M518.2 231.0h0M525.7 230.7h0M527.5 187.9h0M523.7 225.8h0M542.1 177.3h0M545.0 198.1h0M554.4 229.3h0M540.8 243.1h0M541.1 229.4h0M549.4 251.8h0M527.1 197.4h0M545.5 183.5h0M487.8 200.4h0M519.6 229.1h0M505.7 231.2h0M537.9 203.6h0M544.5 250.8h0M538.9 248.9h0M552.1 264.9h0M526.6 183.4h0M558.4 219.2h0M529.2 184.0h0M546.5 177.3h0M522.3 217.4h0M534.0 253.6h0M537.1 254.8h0M533.9 178.9h0M534.6 255.1h0M539.9 201.1h0M479.7 198.6h0M542.5 258.6h0M537.8 184.1h0M544.5 207.4h0M559.6 191.1h0M541.0 205.6h0M530.4 250.8h0M528.5 221.8h0M548.0 248.6h0M536.8 209.7h0M536.6 232.2h0M475.1 193.1h0M541.4 214.6h0M471.3 188.6h0M530.1 188.4h0M545.0 249.2h0M529.2 235.7h0M501.3 205.2h0M562.9 243.5h0M529.1 218.5h0M518.0 220.2h0M543.8 249.4h0M536.2 207.4h0M557.2 220.8h0M521.9 215.2h0M561.5 250.7h0M555.9 262.9h0M517.6 213.9h0M484.7 194.8h0M526.1 216.3h0M548.2 239.9h0M540.0 190.3h0M535.2 251.3h0M539.8 252.4h0M560.0 195.9h0M568.6 228.1h0M531.3 192.3h0M540.1 184.5h0M552.8 205.4h0M545.3 200.3h0M555.0 205.4h0M545.3 199.9h0M564.1 209.5h0M554.5 219.8h0M533.9 236.7h0M524.6 199.5h0M535.6 188.8h0M523.7 254.1h0M503.4 234.1h0M508.3 210.4h0M545.1 258.1h0M544.1 232.3h0M534.9 221.3h0M559.8 246.6h0M513.2 218.3h0M555.2 256.4h0M563.3 241.8h0M534.8 224.4h0M558.1 249.0h0M557.1 199.0h0M533.4 245.7h0M560.1 234.7h0M533.5 194.2h0M565.9 234.2h0M547.2 177.5h0M536.6 244.1h0M543.1 229.0h0M555.7 223.9h0M533.9 229.5h0M550.7 238.8h0M541.1 245.9h0M520.0 244.0h0M536.8 207.3h0M524.6 186.0h0M549.8 236.8h0M523.8 206.1h0M554.8 208.7h0M519.7 218.7h0M561.3 256.6h0M525.7 253.8h0M543.0 199.5h0M552.6 202.2h0M567.5 246.3h0M502.2 205.9h0M517.1 195.5h0M522.2 250.6h0M514.2 212.3h0M563.9 228.6h0M537.6 216.9h0M543.4 259.6h0M525.4 222.1h0M524.6 222.0h0M537.3 251.3h0M525.6 242.0h0M552.6 211.7h0M565.2 247.3h0M517.7 215.0h0M528.3 194.2h0M563.2 197.9h0M555.8 191.1h0M547.8 239.9h0M544.3 227.1h0M513.2 216.0h0M550.1 234.0h0M530.0 241.4h0M498.5 205.0h0M522.5 191.1h0M564.3 224.1h0M531.4 203.6h0M519.7 234.7h0M528.1 203.3h0M524.3 187.9h0M545.5 217.2h0M546.0 176.2h0M514.8 222.7h0M532.0 252.7h0M534.8 182.1h0M546.4 252.2h0M522.1 228.6h0M559.7 223.0h0M547.2 202.7h0M561.9 253.5h0M541.8 184.4h0M512.3 241.1h0M489.8 184.6h0M558.3 219.6h0M570.0 202.0h0M557.7 191.5h0M556.4 222.2h0M523.5 255.5h0M535.7 183.5h0M530.1 196.7h0M525.3 238.6h0M528.1 205.3h0M536.0 246.6h0M520.3 249.5h0M531.6 243.6h0M547.4 213.7h0M543.9 256.4h0M512.9 227.2h0M547.0 238.1h0M545.5 252.5h0M549.6 245.4h0M545.3 258.8h0M553.6 250.9h0M539.1 259.4h0M549.5 220.5h0M537.7 233.5h0M564.2 224.4h0M507.1 211.6h0M530.9 214.8h0M513.5 235.0h0M550.3 241.2h0M525.7 236.9h0M546.7 251.1h0M559.0 200.0h0M538.7 197.8h0M519.0 205.2h0M523.7 234.3h0M541.9 176.4h0M550.1 235.1h0M519.9 211.0h0M540.0 233.3h0M547.4 221.9h0M525.7 235.6h0M554.1 261.3h0M536.4 224.3h0M513.2 203.1h0M528.4 227.6h0M514.4 218.1h0M522.0 248.4h0M564.2 234.4h0M524.2 241.0h0M550.0 242.1h0M542.5 187.3h0M545.1 223.8h0M513.2 220.0h0M566.2 204.7h0M525.9 214.8h0M560.4 204.4h0M555.9 263.6h0M568.1 237.2h0M556.4 229.5h0M533.6 228.7h0M558.6 242.7h0M524.9 196.9h0M565.6 238.0h0M519.4 248.6h0M543.1 246.4h0M535.6 235.4h0M513.5 214.4h0M516.5 227.5h0M512.7 206.4h0M558.3 230.2h0M539.5 178.0h0M544.6 225.9h0M540.5 247.4h0M517.4 209.2h0M540.9 215.9h0M548.5 210.1h0M503.2 221.5h0M568.7 245.4h0M518.0 242.6h0M536.6 244.2h0M513.6 199.5h0M549.0 261.9h0M539.3 240.5h0M506.2 212.0h0M564.3 252.0h0M548.8 226.8h0M562.6 254.7h0M509.6 207.7h0M520.7 233.8h0M508.7 226.4h0M537.7 224.7h0M559.7 245.4h0M517.3 237.1h0M555.5 192.0h0M551.6 200.6h0M526.0 226.3h0M518.9 235.4h0M570.2 245.2h0M562.4 203.5h0M519.4 211.5h0M533.8 198.5h0M557.4 258.9h0M538.6 200.6h0M564.8 216.2h0M539.6 221.1h0M553.8 254.4h0M527.2 186.7h0M534.4 215.7h0M553.4 219.3h0M563.5 226.0h0M527.2 205.8h0M540.0 200.3h0M535.7 223.6h0M547.9 213.7h0M532.8 208.2h0M540.1 258.0h0M535.8 206.2h0M542.9 187.8h0M544.7 258.3h0M565.4 214.1h0M564.7 203.4h0M566.7 242.2h0M508.7 231.8h0M547.2 185.5h0M536.2 201.0h0M522.1 190.2h0M516.1 244.8h0M544.1 253.9h0M513.8 223.0h0M562.6 224.7h0M552.9 247.1h0M548.8 235.7h0M534.3 184.0h0M569.4 243.7h0M535.3 181.5h0M551.5 190.0h0M526.6 249.2h0M533.5 226.7h0M483.3 183.2h0M508.2 203.2h0M563.2 253.6h0M525.6 239.2h0M535.2 219.3h0M478.8 184.8h0M544.4 206.7h0M542.7 234.8h0M563.7 218.5h0M548.6 225.4h0M523.3 203.5h0M523.9 202.7h0M555.4 181.6h0M571.1 235.9h0M557.3 185.4h0M517.4 202.9h0M551.6 214.2h0M558.1 201.9h0M529.1 194.0h0M553.7 213.5h0M541.8 178.7h0M538.4 204.1h0M551.2 253.5h0M527.1 255.8h0M526.7 224.8h0M531.2 205.4h0M538.4 235.2h0M566.0 233.1h0M547.5 212.9h0M535.0 250.1h0M550.6 230.2h0M560.2 241.5h0M538.9 192.4h0M544.2 195.8h0M540.2 226.2h0M543.3 210.0h0M548.2 203.3h0M524.0 243.9h0M528.8 251.0h0M541.0 259.8h0M555.5 234.9h0M550.5 233.1h0M507.6 231.2h0M563.9 201.5h0M547.8 258.6h0M541.2 226.7h0M555.6 214.8h0M545.8 228.4h0M502.3 208.3h0M543.0 195.9h0M527.0 191.5h0M543.7 221.4h0M523.3 243.4h0M552.8 210.1h0M568.4 199.1h0M509.2 228.1h0M563.6 209.8h0M552.1 203.6h0M558.4 261.1h0M543.0 200.1h0M551.2 263.7h0M558.2 202.4h0M527.2 254.8h0M535.1 236.9h0M532.5 229.9h0M514.0 225.7h0M516.8 201.0h0M527.0 216.0h0M523.5 218.5h0M518.8 248.5h0M515.5 206.8h0M475.0 184.1h0M560.8 255.0h0M553.8 215.8h0M528.7 184.4h0M549.7 204.2h0M552.2 192.9h0M556.0 245.8h0M520.8 206.5h0M514.4 241.4h0M560.3 204.6h0M554.3 253.1h0M543.1 213.2h0M504.6 208.9h0M539.1 255.8h0M540.4 214.4h0M523.1 212.7h0M502.9 210.0h0M550.8 188.7h0M507.8 214.4h0M519.4 212.0h0M537.4 219.1h0M510.0 231.3h0M521.7 230.3h0M528.5 230.1h0M480.0 180.1h0M555.3 242.5h0M570.9 233.8h0M538.7 247.1h0M513.7 211.1h0M537.0 227.5h0M564.3 209.8h0M554.3 190.2h0M534.5 190.1h0M538.9 233.5h0M524.0 237.6h0M532.7 195.2h0M570.5 200.4h0M569.9 229.5h0M561.5 230.3h0M507.0 213.8h0M512.0 237.1h0M542.0 260.6h0M509.5 231.0h0M514.9 217.7h0M546.8 250.4h0M564.2 196.3h0M546.6 202.5h0M538.6 247.1h0M558.7 259.8h0M559.4 208.3h0M536.4 193.5h0M565.3 235.9h0M542.3 243.9h0M536.4 177.1h0M531.8 188.4h0M524.5 200.3h0M497.3 203.2h0M550.7 248.1h0M568.9 237.2h0M560.1 256.5h0M555.8 250.0h0M562.6 232.3h0M540.8 246.9h0M536.3 235.0h0M559.2 196.1h0M555.5 252.2h0M551.7 232.2h0M506.5 231.4h0M529.2 199.5h0M522.0 205.4h0M535.3 243.0h0M537.9 253.8h0M538.2 182.0h0M548.6 256.3h0M530.2 229.0h0M518.1 217.9h0M504.7 233.6h0M543.8 191.6h0M554.5 211.3h0M536.9 184.1h0M550.7 240.7h0M567.1 240.6h0M526.8 206.8h0M527.7 190.3h0M540.7 259.7h0M540.9 220.2h0M516.8 202.9h0M526.7 209.8h0M551.2 246.7h0M565.4 232.7h0M550.3 239.3h0M561.4 231.9h0M543.7 239.4h0M524.5 239.1h0M519.6 232.8h0M536.3 228.9h0M528.5 229.3h0M544.9 196.2h0M544.1 196.4h0M531.8 235.2h0M518.4 211.5h0M533.9 187.6h0M529.4 196.3h0M555.1 197.8h0M551.7 255.7h0M558.2 251.2h0M563.4 232.1h0M532.6 179.1h0M537.8 261.1h0M532.1 204.5h0M562.3 245.4h0M547.1 186.0h0M519.7 193.7h0M558.2 183.1h0M483.3 179.2h0M517.6 203.3h0M532.5 221.2h0M525.8 186.3h0M562.4 202.0h0M529.6 225.4h0M526.4 243.1h0M519.9 208.0h0M557.5 213.8h0M506.4 237.1h0M570.3 234.8h0M552.6 234.0h0M570.8 198.1h0M562.4 240.3h0M516.6 221.8h0M561.6 230.4h0M526.7 228.1h0M556.6 256.8h0M520.6 249.2h0M541.4 197.6h0M546.6 209.7h0M535.2 214.9h0M569.7 201.6h0M564.4 214.6h0M527.5 217.3h0M518.3 196.7h0M566.5 248.3h0M563.8 242.6h0M516.9 209.7h0M548.3 227.8h0M560.5 202.6h0M532.0 202.2h0M545.3 193.3h0M517.1 245.7h0M550.4 242.3h0M552.7 235.3h0M534.8 230.4h0M563.4 231.7h0M569.4 237.5h0M551.0 255.5h0M540.6 263.5h0M520.7 230.2h0M552.5 231.1h0M545.7 256.8h0M530.9 212.5h0M541.8 208.6h0M557.5 222.2h0M542.2 247.8h0M544.5 254.4h0M476.3 186.5h0M532.6 244.7h0M527.1 254.3h0M551.7 262.6h0M544.6 195.6h0M517.1 197.0h0M553.4 205.3h0M527.3 224.8h0M514.7 231.6h0M555.5 192.9h0M539.7 259.5h0M564.2 245.3h0M532.6 257.1h0M544.5 190.5h0M559.2 234.4h0M528.4 197.4h0M539.2 207.7h0M536.6 207.2h0M520.8 197.2h0M566.7 248.7h0M539.4 181.4h0M561.8 211.3h0M539.0 201.3h0M559.9 215.1h0M563.3 202.2h0M523.1 213.7h0M508.6 230.9h0M518.5 244.9h0M534.1 196.3h0M545.7 196.1h0M557.4 242.3h0M570.6 247.8h0M531.9 220.8h0M514.0 214.8h0M548.5 254.0h0M544.7 212.8h0M558.1 206.3h0M561.6 207.1h0M534.2 197.0h0M530.4 257.0h0M519.5 253.2h0M556.9 193.1h0M542.7 200.3h0M558.3 200.3h0M525.0 189.4h0M531.2 244.4h0M522.6 214.3h0M557.8 252.8h0M536.4 222.3h0M510.3 231.4h0M541.2 182.4h0M532.6 253.2h0M572.8 235.7h0M532.5 197.8h0M551.6 252.8h0M480.0 183.1h0M533.1 212.8h0M524.9 193.2h0M557.0 215.6h0M568.3 246.4h0M547.4 244.1h0M544.9 221.5h0M539.4 195.6h0M532.4 201.1h0M553.4 263.8h0M526.1 218.7h0M528.5 184.9h0M561.1 238.5h0M541.2 207.4h0M536.2 184.7h0M559.9 192.3h0M536.9 187.0h0M535.7 229.6h0M541.9 199.1h0M537.2 249.8h0M538.7 240.4h0M554.4 228.2h0M559.9 242.8h0M566.8 236.1h0M533.7 215.0h0M532.7 224.4h0M549.4 207.4h0M540.6 216.4h0M565.7 222.6h0M481.6 183.2h0M538.6 193.0h0M556.9 252.5h0M564.4 196.7h0M550.5 219.7h0M531.7 246.9h0M538.3 226.9h0M522.9 246.2h0M535.1 202.5h0M533.9 213.6h0M548.1 212.1h0M524.1 217.4h0M521.9 191.7h0M538.0 208.6h0M534.5 248.8h0M538.4 238.1h0M566.6 227.5h0M571.4 199.8h0M535.4 189.1h0M520.9 252.4h0M545.4 218.0h0M521.7 211.3h0M531.8 237.8h0M517.9 230.5h0M557.7 251.3h0M533.1 218.1h0M541.8 229.2h0M508.5 210.1h0M566.8 210.0h0M538.4 258.7h0M544.8 251.1h0M550.4 211.2h0M527.8 228.1h0M560.2 256.2h0M522.8 192.0h0M559.2 256.5h0M538.5 244.0h0M566.5 251.7h0M518.0 233.8h0M522.8 227.9h0M530.5 200.0h0M547.4 244.6h0M543.5 174.3h0M541.8 180.5h0M562.7 192.9h0M562.3 254.6h0M520.1 220.3h0M539.8 197.5h0M524.6 230.3h0M533.3 247.8h0M514.4 210.4h0M524.7 203.7h0M554.6 259.9h0M516.4 217.5h0M549.3 207.9h0M562.9 195.1h0M530.7 256.4h0M562.6 225.2h0M564.5 244.2h0M539.9 214.2h0M558.9 186.0h0M560.4 249.9h0M540.9 178.4h0M549.1 262.7h0M562.1 213.4h0M554.5 247.4h0M566.9 226.5h0M554.6 190.0h0M545.4 206.8h0M564.0 206.9h0" stroke="#009E73" stroke-width="2.60" stroke-linecap="round" fill="none" /><path d="M484.4 194.3h0M511.8 241.7h0M490.6 202.4h0M510.8 237.4h0M519.4 198.5h0M492.2 204.7h0M513.0 208.8h0M486.2 201.8h0M508.6 238.8h0M470.7 200.0h0M507.6 208.8h0M470.0 200.5h0M503.1 206.3h0M519.6 250.3h0M509.0 236.0h0M514.6 210.5h0M483.1 195.2h0M497.9 201.6h0M512.0 242.0h0M515.1 233.2h0M481.7 198.8h0M515.5 224.2h0M510.3 240.3h0M477.1 195.8h0M510.1 209.9h0M497.2 205.6h0M498.4 204.3h0M473.9 191.0h0M479.6 197.2h0M477.5 196.8h0M485.8 202.9h0M493.0 204.3h0M500.0 206.5h0M505.6 207.0h0M506.3 228.9h0M489.3 202.7h0M471.0 198.5h0M477.7 192.4h0M492.6 202.5h0M523.7 228.2h0M497.4 204.7h0M499.7 207.0h0M524.6 223.4h0M488.3 202.5h0M482.6 191.7h0M511.0 240.4h0M483.9 199.1h0M497.9 207.4h0M511.8 234.4h0M508.4 238.4h0M475.6 201.4h0M532.9 208.1h0M473.4 200.6h0M478.2 193.1h0M479.0 199.2h0M477.6 193.8h0M508.1 206.3h0M529.3 252.1h0M481.5 195.2h0M494.5 203.7h0M477.1 199.8h0" stroke="#0072B2" stroke-width="2.60" stroke-linecap="round" fill="none" /><path d="M553.3 179.8h0M570.5 211.7h0M547.9 187.0h0M550.0 183.0h0M552.2 181.4h0M552.6 187.6h0M573.0 199.2h0M548.1 181.2h0M547.4 181.7h0M571.5 212.4h0M548.2 177.5h0M549.2 180.5h0M550.4 184.6h0M526.4 183.5h0M552.6 179.2h0M550.3 182.9h0M551.0 182.4h0M532.6 182.3h0M570.5 195.6h0M549.7 186.3h0M527.1 181.9h0M543.3 182.3h0M540.7 181.6h0M540.6 176.3h0M543.2 176.1h0M572.4 238.6h0M553.7 179.6h0M548.0 177.2h0M536.9 180.8h0M570.9 236.9h0M573.5 196.9h0M550.9 179.0h0M544.6 179.5h0M552.7 179.5h0M572.6 199.7h0M570.2 232.9h0M549.5 183.2h0M544.8 181.9h0M544.2 186.1h0M540.2 180.1h0M552.8 183.0h0M545.4 179.4h0M569.8 202.6h0M540.5 178.7h0M552.6 182.3h0M532.1 178.5h0" stroke="#56B4E9" stroke-width="2.60" stroke-linecap="round" fill="none" /><path d="M505.9 235.1h0M505.8 234.8h0M505.6 233.7h0M506.9 234.1h0M474.6 187.0h0M506.9 234.8h0M506.9 239.8h0M505.0 233.5h0" stroke="#F0E442" stroke-width="2.60" stroke-linecap="round" fill="none" /><path d="M545.5 178.6h0M544.4 173.9h0M544.4 174.5h0M471.1 196.0h0M554.6 180.1h0M551.7 177.6h0M542.1 174.1h0M471.6 190.0h0M541.1 175.2h0M539.0 176.6h0M549.6 175.8h0M546.6 177.7h0M539.9 178.3h0M550.1 176.3h0M539.1 173.9h0M547.2 174.6h0M539.7 177.1h0M546.5 176.7h0M536.0 175.8h0M548.3 176.0h0M552.2 178.6h0M472.1 198.5h0M550.0 176.8h0M543.9 175.5h0M544.5 174.3h0" stroke="#E69F00" stroke-width="2.60" stroke-linecap="round" fill="none" /><path d="M514.2 206.1h0M515.6 202.2h0M557.4 237.4h0M541.2 255.3h0M531.6 239.9h0M547.2 207.8h0M554.9 228.1h0M535.4 249.6h0M531.7 232.3h0M552.1 253.5h0M517.7 221.9h0M532.3 254.7h0M562.0 236.9h0M535.7 200.8h0M539.7 255.3h0M554.1 217.8h0M512.1 204.8h0M534.7 240.7h0M564.2 240.5h0M556.3 251.9h0M541.3 189.5h0M563.5 229.7h0M542.1 219.5h0M517.4 243.9h0M510.6 226.5h0M548.4 263.0h0M548.8 212.1h0M522.9 246.5h0M552.7 238.3h0M567.2 197.3h0M541.9 177.8h0M544.8 252.6h0M539.1 243.8h0M522.2 197.5h0M512.2 223.5h0M549.0 211.0h0M564.8 221.4h0M567.7 234.9h0M541.9 185.8h0M523.0 205.9h0M530.4 195.9h0M561.2 217.4h0M525.8 191.2h0M550.2 185.4h0M511.4 210.3h0M547.8 198.1h0M546.7 204.8h0M548.1 216.2h0M534.5 215.7h0M526.3 206.8h0M559.7 190.3h0M516.0 232.1h0M551.1 180.6h0M552.0 221.4h0M547.6 254.0h0M530.6 253.7h0M528.0 220.1h0M545.3 232.1h0M554.5 253.4h0M524.8 192.6h0M519.9 233.4h0M526.2 198.4h0M552.8 227.6h0M536.4 217.8h0M520.3 219.6h0M527.6 215.7h0M538.3 192.2h0M564.3 242.0h0M552.4 195.1h0M554.7 238.6h0" stroke="#DCEBE2" stroke-width="1.00" stroke-linecap="round" fill="none" /><rect x="582.2" y="167.1" width="19.7" height="0.7" fill="#E69F00" /><rect x="582.2" y="167.7" width="19.7" height="2.7" fill="#56B4E9" /><rect x="582.2" y="170.3" width="19.7" height="102.9" fill="#009E73" /><rect x="582.2" y="273.1" width="19.7" height="0.4" fill="#F0E442" /><rect x="582.2" y="273.5" width="19.7" height="0.8" fill="#0072B2" /><line x1="466.6" y1="279.5" x2="601.3" y2="279.5" stroke="#333" stroke-width="0.80" /><text x="534.9" y="287.9" font-size="6.40" text-anchor="middle" font-weight="normal" fill="#444"  stroke="#444" stroke-width="0.15">ZIKV+IL7</text><line x1="21.3" y1="272.6" x2="21.3" y2="249.9" stroke="#000" stroke-width="0.60" /><line x1="21.0" y1="272.3" x2="43.3" y2="272.3" stroke="#000" stroke-width="0.60" /><polygon points="21.3,247.9 20.0,250.9 22.6,250.9"/><polygon points="45.3,272.3 42.3,271.0 42.3,273.6"/><text x="23.8" y="276.8" font-size="3.90" text-anchor="start" font-weight="bold" fill="#222"  stroke="#222" stroke-width="0.09">UMAP1</text><text transform="translate(19.5,270.3) rotate(-90)" font-size="3.90" text-anchor="start" font-weight="bold" fill="#222" stroke="#222" stroke-width="0.09">UMAP2</text><line x1="602.3" y1="167.1" x2="602.3" y2="274.8" stroke="#333" stroke-width="0.40" /><line x1="602.3" y1="167.1" x2="603.7" y2="167.1" stroke="#333" stroke-width="0.40" /><text x="604.5" y="168.3" font-size="3.40" text-anchor="start" font-weight="normal" fill="#333"  stroke="#333" stroke-width="0.08">100</text><line x1="602.3" y1="221.0" x2="603.7" y2="221.0" stroke="#333" stroke-width="0.40" /><text x="604.5" y="222.2" font-size="3.40" text-anchor="start" font-weight="normal" fill="#333"  stroke="#333" stroke-width="0.08">50</text><line x1="602.3" y1="274.8" x2="603.7" y2="274.8" stroke="#333" stroke-width="0.40" /><text x="604.5" y="276.0" font-size="3.40" text-anchor="start" font-weight="normal" fill="#333"  stroke="#333" stroke-width="0.08">0</text><text transform="translate(612.2,221.0) rotate(90)" font-size="5.10" text-anchor="middle" font-weight="normal" fill="#111" stroke="#111" stroke-width="0.12">Percent of cells</text><rect x="621.0" y="205.8" width="6.0" height="6.0" fill="#E69F00" /><text x="628.2" y="210.6" font-size="5.15" text-anchor="start" font-weight="normal" fill="#000"  stroke="#000" stroke-width="0.12">NaiveLike</text><rect x="621.0" y="212.1" width="6.0" height="6.0" fill="#56B4E9" /><text x="628.2" y="216.9" font-size="5.15" text-anchor="start" font-weight="normal" fill="#000"  stroke="#000" stroke-width="0.12">EarlyActiv</text><rect x="621.0" y="218.3" width="6.0" height="6.0" fill="#009E73" /><text x="628.2" y="223.1" font-size="5.15" text-anchor="start" font-weight="normal" fill="#000"  stroke="#000" stroke-width="0.12">EffectorMemory</text><rect x="621.0" y="224.6" width="6.0" height="6.0" fill="#F0E442" /><text x="628.2" y="229.4" font-size="5.15" text-anchor="start" font-weight="normal" fill="#000"  stroke="#000" stroke-width="0.12">Tpex</text><rect x="621.0" y="230.8" width="6.0" height="6.0" fill="#0072B2" /><text x="628.2" y="235.6" font-size="5.15" text-anchor="start" font-weight="normal" fill="#000"  stroke="#000" stroke-width="0.12">Tex</text></g>
<g id="pD"><text x="0.5" y="303.9" font-size="9.90" text-anchor="start" font-weight="bold" fill="#000"  stroke="#000" stroke-width="0.24">D</text><line x1="53.5" y1="308.0" x2="53.5" y2="411.6" stroke="#222" stroke-width="0.65" /><line x1="53.2" y1="411.3" x2="260.5" y2="411.3" stroke="#222" stroke-width="0.65" /><line x1="52.2" y1="320.6" x2="53.5" y2="320.6" stroke="#333" stroke-width="0.40" /><text x="49.5" y="322.6" font-size="5.80" text-anchor="end" font-weight="normal" fill="#333"  stroke="#333" stroke-width="0.14">NaiveLike</text><circle cx="61.8" cy="320.6" r="5.02" fill="#F0E030"/><circle cx="75.4" cy="320.6" r="3.77" fill="#D4B040"/><circle cx="89.0" cy="320.6" r="4.27" fill="#E8D030"/><circle cx="102.5" cy="320.6" r="3.77" fill="#C09858"/><circle cx="116.1" cy="320.6" r="2.26" fill="#8A5878"/><circle cx="129.7" cy="320.6" r="3.01" fill="#4A2088"/><circle cx="143.3" cy="320.6" r="2.51" fill="#50288A"/><circle cx="156.9" cy="320.6" r="4.27" fill="#482080"/><circle cx="170.4" cy="320.6" r="3.01" fill="#603888"/><circle cx="184.0" cy="320.6" r="3.01" fill="#3A1890"/><circle cx="197.6" cy="320.6" r="2.01" fill="#502888"/><circle cx="211.2" cy="320.6" r="1.76" fill="#381888"/><circle cx="224.8" cy="320.6" r="2.26" fill="#4A2488"/><circle cx="238.3" cy="320.6" r="3.26" fill="#603884"/><circle cx="251.9" cy="320.6" r="0.75" fill="#201090"/><line x1="52.2" y1="340.2" x2="53.5" y2="340.2" stroke="#333" stroke-width="0.40" /><text x="49.5" y="342.2" font-size="5.80" text-anchor="end" font-weight="normal" fill="#333"  stroke="#333" stroke-width="0.14">EarlyActiv</text><circle cx="61.8" cy="340.2" r="4.77" fill="#C8A050"/><circle cx="75.4" cy="340.2" r="2.76" fill="#D0A848"/><circle cx="89.0" cy="340.2" r="3.26" fill="#C8A050"/><circle cx="102.5" cy="340.2" r="2.76" fill="#8A5878"/><circle cx="116.1" cy="340.2" r="2.51" fill="#8A5878"/><circle cx="129.7" cy="340.2" r="3.51" fill="#A87868"/><circle cx="143.3" cy="340.2" r="3.51" fill="#7A4880"/><circle cx="156.9" cy="340.2" r="4.77" fill="#3A1890"/><circle cx="170.4" cy="340.2" r="4.52" fill="#8A5878"/><circle cx="184.0" cy="340.2" r="4.02" fill="#482088"/><circle cx="197.6" cy="340.2" r="2.76" fill="#401C8C"/><circle cx="211.2" cy="340.2" r="2.76" fill="#603484"/><circle cx="224.8" cy="340.2" r="2.76" fill="#603484"/><circle cx="238.3" cy="340.2" r="3.77" fill="#6A4084"/><circle cx="251.9" cy="340.2" r="0.50" fill="#D09850"/><line x1="52.2" y1="360.0" x2="53.5" y2="360.0" stroke="#333" stroke-width="0.40" /><text x="49.5" y="362.0" font-size="5.80" text-anchor="end" font-weight="normal" fill="#333"  stroke="#333" stroke-width="0.14">EffectorMemory</text><circle cx="61.8" cy="360.0" r="3.01" fill="#7A4880"/><circle cx="75.4" cy="360.0" r="1.26" fill="#381490"/><circle cx="89.0" cy="360.0" r="2.26" fill="#301090"/><circle cx="102.5" cy="360.0" r="1.00" fill="#401890"/><circle cx="116.1" cy="360.0" r="1.26" fill="#1808A0"/><circle cx="129.7" cy="360.0" r="3.77" fill="#6A3C84"/><circle cx="143.3" cy="360.0" r="4.27" fill="#7A4C80"/><circle cx="156.9" cy="360.0" r="5.52" fill="#E0C838"/><circle cx="170.4" cy="360.0" r="6.03" fill="#F4E428"/><circle cx="184.0" cy="360.0" r="5.02" fill="#D4B444"/><circle cx="197.6" cy="360.0" r="4.02" fill="#B08860"/><circle cx="211.2" cy="360.0" r="4.27" fill="#946474"/><circle cx="224.8" cy="360.0" r="4.27" fill="#805078"/><circle cx="238.3" cy="360.0" r="3.51" fill="#5A2C88"/><circle cx="251.9" cy="360.0" r="2.76" fill="#6A3C88"/><line x1="52.2" y1="379.6" x2="53.5" y2="379.6" stroke="#333" stroke-width="0.40" /><text x="49.5" y="381.6" font-size="5.80" text-anchor="end" font-weight="normal" fill="#333"  stroke="#333" stroke-width="0.14">Tpex</text><circle cx="61.8" cy="379.6" r="3.77" fill="#7A4880"/><circle cx="75.4" cy="379.6" r="1.76" fill="#B48860"/><circle cx="89.0" cy="379.6" r="4.27" fill="#8A5878"/><circle cx="102.5" cy="379.6" r="3.77" fill="#E8D430"/><circle cx="116.1" cy="379.6" r="3.51" fill="#E0C83C"/><circle cx="129.7" cy="379.6" r="5.02" fill="#F8EC20"/><circle cx="143.3" cy="379.6" r="4.02" fill="#FFF400"/><circle cx="156.9" cy="379.6" r="3.26" fill="#9A6870"/><circle cx="170.4" cy="379.6" r="2.51" fill="#5A2888"/><circle cx="184.0" cy="379.6" r="3.51" fill="#CCA84C"/><circle cx="197.6" cy="379.6" r="4.77" fill="#ECD830"/><circle cx="211.2" cy="379.6" r="5.02" fill="#E8D034"/><circle cx="224.8" cy="379.6" r="5.02" fill="#F0DC2C"/><circle cx="238.3" cy="379.6" r="5.02" fill="#DCC040"/><circle cx="251.9" cy="379.6" r="3.26" fill="#B89058"/><line x1="52.2" y1="399.5" x2="53.5" y2="399.5" stroke="#333" stroke-width="0.40" /><text x="49.5" y="401.5" font-size="5.80" text-anchor="end" font-weight="normal" fill="#333"  stroke="#333" stroke-width="0.14">Tex</text><circle cx="61.8" cy="399.5" r="1.26" fill="#401890"/><circle cx="75.4" cy="399.5" r="1.00" fill="#401890"/><circle cx="89.0" cy="399.5" r="3.26" fill="#5A2C88"/><circle cx="102.5" cy="399.5" r="0.75" fill="#7A4080"/><circle cx="116.1" cy="399.5" r="1.76" fill="#C09858"/><circle cx="129.7" cy="399.5" r="4.52" fill="#946470"/><circle cx="143.3" cy="399.5" r="4.52" fill="#9A6870"/><circle cx="156.9" cy="399.5" r="5.02" fill="#CCA84C"/><circle cx="170.4" cy="399.5" r="4.27" fill="#C49C54"/><circle cx="184.0" cy="399.5" r="4.77" fill="#B48C5C"/><circle cx="197.6" cy="399.5" r="4.52" fill="#BC9458"/><circle cx="211.2" cy="399.5" r="4.77" fill="#CCA84C"/><circle cx="224.8" cy="399.5" r="4.52" fill="#C8A050"/><circle cx="238.3" cy="399.5" r="4.52" fill="#DCC040"/><circle cx="251.9" cy="399.5" r="4.27" fill="#D8B844"/><line x1="61.8" y1="411.3" x2="61.8" y2="412.6" stroke="#333" stroke-width="0.40" /><text transform="translate(65.7,417.5) rotate(-45)" font-size="6.00" text-anchor="end" font-weight="normal" fill="#333" stroke="#333" stroke-width="0.14">Tcf7</text><line x1="75.4" y1="411.3" x2="75.4" y2="412.6" stroke="#333" stroke-width="0.40" /><text transform="translate(79.3,417.5) rotate(-45)" font-size="6.00" text-anchor="end" font-weight="normal" fill="#333" stroke="#333" stroke-width="0.14">Sell</text><line x1="89.0" y1="411.3" x2="89.0" y2="412.6" stroke="#333" stroke-width="0.40" /><text transform="translate(92.9,417.5) rotate(-45)" font-size="6.00" text-anchor="end" font-weight="normal" fill="#333" stroke="#333" stroke-width="0.14">Il7r</text><line x1="102.5" y1="411.3" x2="102.5" y2="412.6" stroke="#333" stroke-width="0.40" /><text transform="translate(106.4,417.5) rotate(-45)" font-size="6.00" text-anchor="end" font-weight="normal" fill="#333" stroke="#333" stroke-width="0.14">Ccr7</text><line x1="116.1" y1="411.3" x2="116.1" y2="412.6" stroke="#333" stroke-width="0.40" /><text transform="translate(120.0,417.5) rotate(-45)" font-size="6.00" text-anchor="end" font-weight="normal" fill="#333" stroke="#333" stroke-width="0.14">Xcl1</text><line x1="129.7" y1="411.3" x2="129.7" y2="412.6" stroke="#333" stroke-width="0.40" /><text transform="translate(133.6,417.5) rotate(-45)" font-size="6.00" text-anchor="end" font-weight="normal" fill="#333" stroke="#333" stroke-width="0.14">Nr4a2</text><line x1="143.3" y1="411.3" x2="143.3" y2="412.6" stroke="#333" stroke-width="0.40" /><text transform="translate(147.2,417.5) rotate(-45)" font-size="6.00" text-anchor="end" font-weight="normal" fill="#333" stroke="#333" stroke-width="0.14">Ifng</text><line x1="156.9" y1="411.3" x2="156.9" y2="412.6" stroke="#333" stroke-width="0.40" /><text transform="translate(160.8,417.5) rotate(-45)" font-size="6.00" text-anchor="end" font-weight="normal" fill="#333" stroke="#333" stroke-width="0.14">Gzmb</text><line x1="170.4" y1="411.3" x2="170.4" y2="412.6" stroke="#333" stroke-width="0.40" /><text transform="translate(174.3,417.5) rotate(-45)" font-size="6.00" text-anchor="end" font-weight="normal" fill="#333" stroke="#333" stroke-width="0.14">Gzmk</text><line x1="184.0" y1="411.3" x2="184.0" y2="412.6" stroke="#333" stroke-width="0.40" /><text transform="translate(187.9,417.5) rotate(-45)" font-size="6.00" text-anchor="end" font-weight="normal" fill="#333" stroke="#333" stroke-width="0.14">Cxcr6</text><line x1="197.6" y1="411.3" x2="197.6" y2="412.6" stroke="#333" stroke-width="0.40" /><text transform="translate(201.5,417.5) rotate(-45)" font-size="6.00" text-anchor="end" font-weight="normal" fill="#333" stroke="#333" stroke-width="0.14">Pdcd1</text><line x1="211.2" y1="411.3" x2="211.2" y2="412.6" stroke="#333" stroke-width="0.40" /><text transform="translate(215.1,417.5) rotate(-45)" font-size="6.00" text-anchor="end" font-weight="normal" fill="#333" stroke="#333" stroke-width="0.14">Lag3</text><line x1="224.8" y1="411.3" x2="224.8" y2="412.6" stroke="#333" stroke-width="0.40" /><text transform="translate(228.7,417.5) rotate(-45)" font-size="6.00" text-anchor="end" font-weight="normal" fill="#333" stroke="#333" stroke-width="0.14">Tigit</text><line x1="238.3" y1="411.3" x2="238.3" y2="412.6" stroke="#333" stroke-width="0.40" /><text transform="translate(242.2,417.5) rotate(-45)" font-size="6.00" text-anchor="end" font-weight="normal" fill="#333" stroke="#333" stroke-width="0.14">Tox</text><line x1="251.9" y1="411.3" x2="251.9" y2="412.6" stroke="#333" stroke-width="0.40" /><text transform="translate(255.8,417.5) rotate(-45)" font-size="6.00" text-anchor="end" font-weight="normal" fill="#333" stroke="#333" stroke-width="0.14">Havcr2</text><defs><linearGradient id="gd" x1="0" y1="0" x2="0" y2="1"><stop offset="0" stop-color="#FFF61E"/><stop offset="0.25" stop-color="#E0C43C"/><stop offset="0.5" stop-color="#A87C64"/><stop offset="0.75" stop-color="#6A3C84"/><stop offset="0.93" stop-color="#30149A"/><stop offset="1" stop-color="#1008A0"/></linearGradient></defs><text x="266.0" y="317.2" font-size="5.10" text-anchor="start" font-weight="normal" fill="#000"  stroke="#000" stroke-width="0.12">relative</text><text x="266.0" y="323.6" font-size="5.10" text-anchor="start" font-weight="normal" fill="#000"  stroke="#000" stroke-width="0.12">expression</text><rect x="266.0" y="326.4" width="9.5" height="45.2" fill="url(#gd)" /><line x1="266.0" y1="337.0" x2="267.8" y2="337.0" stroke="#fff" stroke-width="0.30" /><line x1="273.7" y1="337.0" x2="275.5" y2="337.0" stroke="#fff" stroke-width="0.30" /><text x="277.2" y="338.6" font-size="4.60" text-anchor="start" font-weight="normal" fill="#000"  stroke="#000" stroke-width="0.11">1</text><line x1="266.0" y1="351.8" x2="267.8" y2="351.8" stroke="#fff" stroke-width="0.30" /><line x1="273.7" y1="351.8" x2="275.5" y2="351.8" stroke="#fff" stroke-width="0.30" /><text x="277.2" y="353.4" font-size="4.60" text-anchor="start" font-weight="normal" fill="#000"  stroke="#000" stroke-width="0.11">0</text><line x1="266.0" y1="366.3" x2="267.8" y2="366.3" stroke="#fff" stroke-width="0.30" /><line x1="273.7" y1="366.3" x2="275.5" y2="366.3" stroke="#fff" stroke-width="0.30" /><text x="277.2" y="367.9" font-size="4.60" text-anchor="start" font-weight="normal" fill="#000"  stroke="#000" stroke-width="0.11">-1</text><text x="266.0" y="382.4" font-size="5.10" text-anchor="start" font-weight="normal" fill="#000"  stroke="#000" stroke-width="0.12">percent</text><text x="266.0" y="388.8" font-size="5.10" text-anchor="start" font-weight="normal" fill="#000"  stroke="#000" stroke-width="0.12">expression</text><circle cx="271.5" cy="396.7" r="2.3" fill="#000"/><text x="278.6" y="398.3" font-size="4.60" text-anchor="start" font-weight="normal" fill="#000"  stroke="#000" stroke-width="0.11">0.25</text><circle cx="271.5" cy="405.5" r="3.3" fill="#000"/><text x="278.6" y="407.1" font-size="4.60" text-anchor="start" font-weight="normal" fill="#000"  stroke="#000" stroke-width="0.11">0.50</text><circle cx="271.5" cy="414.8" r="4.3" fill="#000"/><text x="278.6" y="416.4" font-size="4.60" text-anchor="start" font-weight="normal" fill="#000"  stroke="#000" stroke-width="0.11">0.75</text></g>
<g id="pE"><text x="311.3" y="304.4" font-size="9.90" text-anchor="start" font-weight="bold" fill="#000"  stroke="#000" stroke-width="0.24">E</text><text x="328.8" y="304.3" font-size="7.70" text-anchor="start" font-weight="normal" fill="#111"  stroke="#111" stroke-width="0.18">Exhaustion Score</text><polygon points="399.1,312.3 403.5,309.9 413.1,309.9 420.1,314.4 424.7,321.2 428.5,324.6 433.8,329.7 438.1,334.5 437.4,338.8 434.5,341.9 431.3,343.9 428.0,346.8 432.0,349.2 435.9,350.9 436.4,352.5 433.1,353.8 429.6,356.0 431.3,360.2 434.5,365.3 435.9,368.5 435.3,371.9 437.4,377.0 438.1,381.8 436.6,388.0 433.6,392.0 431.3,396.3 428.2,399.8 425.4,404.1 424.5,406.4 413.1,407.5 402.6,404.7 393.5,400.9 385.9,395.6 380.9,388.2 377.4,382.5 370.7,378.6 368.1,373.8 369.6,368.9 374.2,366.1 375.1,361.0 372.8,356.0 371.9,350.7 371.4,345.5 376.3,340.7 379.1,339.2 384.4,333.0 387.9,325.4 393.8,319.0 397.7,317.1" fill="#64408A" /><polygon points="332.9,338.1 333.4,332.9 334.7,327.7 336.9,322.9 340.4,318.7 344.8,315.8 350.0,314.0 353.5,311.6 356.1,312.1 359.2,314.9 360.5,319.6 362.3,323.4 364.0,325.8 365.3,329.6 364.9,331.4 363.2,331.0 360.5,327.7 358.3,325.8 355.7,324.4 354.4,320.6 352.6,317.7 350.9,319.6 349.6,323.4 348.3,325.8 348.7,328.6 350.9,330.5 351.8,333.8 350.9,336.7 353.5,338.1 355.7,340.0 355.7,342.8 353.5,343.3 350.9,343.7 348.3,341.9 344.8,340.0 341.3,340.4 336.9,340.9 334.3,340.4" fill="#684690" /><path d="M421.4 333.8h0M417.6 316.2h0M393.4 345.3h0M435.6 338.6h0M353.8 313.0h0M410.7 313.5h0M393.0 371.0h0M420.6 350.4h0M417.8 329.9h0M418.6 320.3h0M411.3 402.9h0M380.0 346.5h0M390.2 345.2h0M414.1 392.8h0M353.5 311.8h0M416.7 336.7h0M405.2 314.6h0M416.7 343.5h0M347.1 331.8h0M433.6 365.6h0M414.1 318.5h0M422.9 342.7h0M403.7 374.8h0M406.7 315.8h0M421.6 324.6h0M424.4 351.5h0M429.5 349.8h0M338.7 325.0h0M393.6 324.3h0M423.4 373.1h0M349.9 336.2h0M418.8 374.0h0M416.1 338.9h0M411.5 321.6h0M363.1 327.7h0M427.3 325.8h0M342.8 318.7h0M416.5 341.0h0M416.7 344.0h0M419.2 395.1h0M412.0 392.1h0M419.1 406.8h0M418.7 401.3h0M412.5 335.7h0M430.0 347.5h0M431.3 353.2h0M424.4 337.8h0M422.1 353.1h0M419.0 405.8h0" stroke="#2A128B" stroke-width="1.80" stroke-linecap="round" fill="none" /><path d="M425.2 336.0h0M400.3 339.7h0M425.4 339.5h0M412.3 324.0h0M419.4 318.7h0M393.5 361.0h0M401.3 396.0h0M366.0 345.9h0M355.6 323.7h0M380.8 347.0h0M426.2 382.0h0M357.2 316.9h0M427.0 324.3h0M419.6 335.2h0M400.6 377.8h0M397.1 319.5h0M420.8 363.0h0M354.3 316.1h0M424.0 344.5h0M406.6 320.9h0M428.5 343.4h0M390.9 354.6h0M434.7 331.0h0M383.9 331.4h0M387.0 332.9h0M377.7 342.4h0M430.4 382.5h0M347.7 324.8h0M406.8 311.1h0M359.1 316.4h0M413.7 313.5h0M387.9 339.0h0M414.9 395.2h0M417.9 371.7h0M409.2 344.0h0M429.2 353.2h0M422.6 379.3h0M414.5 325.5h0M431.2 385.2h0M419.4 404.5h0M419.9 340.8h0M406.5 405.0h0M402.6 385.3h0M353.0 313.0h0M427.5 356.4h0M405.7 318.9h0M356.5 322.5h0M401.7 387.8h0M417.2 336.9h0M347.3 320.4h0M380.3 385.9h0M413.9 334.3h0M404.8 315.7h0M415.6 341.5h0M355.8 324.1h0M420.4 397.9h0M414.1 335.9h0M410.8 328.7h0M351.6 339.0h0M423.8 381.1h0M335.4 333.7h0M408.1 352.2h0M420.1 325.0h0M410.7 324.8h0M425.5 324.3h0M341.9 327.0h0M423.2 327.2h0M415.5 347.0h0M386.9 350.3h0M398.4 362.3h0M419.0 361.4h0M363.3 326.5h0M418.6 330.9h0M335.5 337.1h0M416.1 390.6h0M413.9 397.0h0M396.4 354.0h0M433.7 372.2h0M414.1 331.8h0M390.7 334.1h0M427.2 341.5h0M419.6 347.0h0M418.1 343.7h0M415.9 313.9h0M347.3 324.4h0M417.6 352.4h0M432.9 351.9h0M421.0 321.0h0M419.5 351.0h0M392.9 346.9h0M385.5 343.6h0M427.0 350.9h0M428.0 369.9h0M420.9 332.6h0M337.0 339.3h0M421.4 362.6h0M412.5 333.5h0M438.0 335.2h0M385.9 329.5h0M422.5 341.5h0M434.7 371.1h0M421.4 338.4h0M422.4 345.8h0M400.0 341.3h0M410.3 395.2h0M334.9 334.6h0M411.2 367.2h0M393.2 335.4h0M431.0 354.0h0M427.4 376.8h0M416.2 325.8h0M424.1 394.1h0M413.4 353.6h0M425.6 345.0h0M348.7 337.2h0M338.8 321.2h0M402.0 380.6h0M334.7 336.5h0M411.8 338.3h0M338.1 334.0h0M412.5 310.3h0" stroke="#3C1F8A" stroke-width="1.80" stroke-linecap="round" fill="none" /><path d="M390.0 346.9h0M388.5 347.7h0M400.8 322.3h0M399.5 400.1h0M432.3 385.5h0M435.3 365.2h0M415.3 388.6h0M342.2 321.7h0M409.8 375.8h0M397.1 350.0h0M391.7 366.3h0M416.8 371.4h0M423.1 339.2h0M410.5 319.6h0M340.8 335.2h0M403.7 380.5h0M421.8 396.2h0M417.3 354.2h0M386.3 334.2h0M406.6 314.8h0M337.1 329.1h0M418.0 401.2h0M406.8 310.7h0M427.9 413.7h0M431.1 388.5h0M417.5 320.9h0M338.6 340.7h0M367.7 358.4h0M420.5 398.1h0M433.9 366.5h0M407.5 339.5h0M415.0 342.9h0M420.4 324.9h0M380.5 383.5h0M412.1 406.3h0M413.9 343.8h0M355.1 318.0h0M425.3 339.1h0M411.6 373.2h0M404.0 355.7h0M415.1 367.0h0M401.9 349.1h0M399.1 348.1h0M424.9 380.2h0M399.1 322.7h0M417.1 384.8h0M418.0 360.8h0M414.3 336.9h0M340.7 321.7h0M427.0 353.4h0M409.9 342.9h0M393.4 329.9h0M386.8 334.1h0M433.4 374.8h0M391.8 354.2h0M412.8 369.6h0M400.2 317.7h0M420.7 385.1h0M359.4 318.7h0M342.8 338.9h0M389.4 342.8h0M426.6 396.2h0M416.0 391.7h0M353.8 340.3h0M425.3 348.2h0M416.3 333.8h0M428.2 363.9h0M413.5 369.4h0M422.6 379.6h0M382.5 357.4h0M401.3 338.2h0M390.8 378.6h0M334.2 333.6h0M434.6 374.3h0M429.5 340.6h0M411.5 339.6h0M393.5 391.0h0M354.6 313.7h0M416.1 377.1h0M358.5 322.4h0M390.1 352.0h0M402.5 387.3h0M405.3 351.4h0M415.5 347.5h0M425.3 352.7h0M429.2 365.9h0M386.3 338.3h0M418.8 330.9h0M427.9 346.0h0M416.2 345.0h0M429.9 333.7h0M426.2 381.9h0M422.2 358.0h0M429.1 413.8h0M431.3 362.3h0M403.1 365.2h0M361.7 324.2h0M412.8 346.9h0M428.3 343.1h0M402.7 392.1h0M432.7 336.9h0M400.1 388.1h0M426.9 377.3h0M397.4 366.9h0M390.2 328.1h0M389.1 352.4h0M408.6 317.4h0M413.1 364.1h0M353.0 312.5h0M427.2 386.1h0M423.8 373.5h0M412.4 329.5h0M424.9 347.6h0M393.2 357.5h0M413.8 369.5h0M404.2 332.5h0M412.9 352.7h0M350.6 316.7h0M411.1 370.5h0M419.0 322.7h0M360.8 324.5h0M409.9 362.3h0M419.1 340.5h0M420.3 378.7h0M364.6 329.7h0M405.8 357.1h0M424.8 348.7h0M344.3 332.7h0M337.8 321.9h0M421.6 327.5h0M410.4 322.3h0M427.6 385.9h0M411.5 388.4h0M403.7 365.4h0M423.3 333.3h0M427.7 395.7h0M414.6 331.2h0M423.0 343.4h0M345.3 338.8h0M422.0 383.8h0M407.5 390.1h0M413.9 377.0h0M423.6 329.6h0M350.8 319.7h0M420.1 355.5h0M414.0 348.5h0M354.0 316.1h0M391.8 367.3h0M419.5 401.0h0M357.8 318.0h0M412.4 405.1h0M410.9 328.2h0M425.9 340.1h0M410.6 328.9h0M425.7 377.2h0M396.2 323.7h0M410.8 348.1h0M413.0 394.0h0M406.2 326.9h0M349.8 319.7h0M400.2 335.0h0M424.7 354.2h0M396.1 367.5h0M389.6 359.3h0M418.3 395.5h0M348.7 316.6h0M405.2 333.1h0M393.7 349.0h0M421.5 403.1h0M336.4 325.0h0M351.2 333.4h0M404.7 346.0h0M409.3 383.9h0M420.3 380.5h0M406.6 400.5h0M407.7 324.5h0M412.5 328.1h0M339.9 335.2h0M430.3 344.4h0M400.0 330.1h0M341.5 333.4h0M384.3 345.9h0M414.4 376.3h0M393.2 348.8h0M382.8 337.1h0M413.1 350.5h0M421.9 339.6h0M356.5 323.4h0M405.8 401.0h0M387.3 362.4h0M414.2 403.2h0M378.8 341.4h0M337.3 329.4h0M387.9 349.8h0M387.7 339.6h0M430.9 377.8h0M417.7 352.7h0M387.1 333.9h0M425.1 363.6h0M428.8 397.8h0M395.0 340.6h0M415.8 316.3h0M429.3 364.0h0M333.4 337.8h0M402.1 343.1h0M390.3 369.0h0M419.9 339.1h0M418.5 363.2h0M429.1 412.9h0M422.8 344.6h0M405.5 403.7h0M418.0 337.7h0M399.8 328.3h0M366.3 346.5h0M426.7 341.9h0M419.1 321.2h0M414.6 342.1h0M386.4 340.6h0M343.9 323.2h0M413.4 401.6h0M418.0 346.4h0M425.0 399.7h0M403.6 392.4h0M400.0 366.4h0M357.3 316.9h0M418.2 321.0h0M401.4 376.2h0M414.3 340.4h0M422.1 352.6h0M356.5 323.8h0M430.5 333.9h0M412.7 353.2h0M420.6 381.6h0M398.2 337.5h0M394.3 324.8h0M400.0 351.2h0M400.6 319.6h0M401.9 374.9h0M428.2 382.8h0M421.8 322.7h0M417.8 325.0h0M412.8 395.9h0M408.7 350.6h0M417.3 393.1h0M407.5 365.3h0M423.2 320.4h0M359.5 317.6h0M420.5 334.3h0M346.6 321.0h0M425.7 348.4h0" stroke="#4E2C89" stroke-width="1.80" stroke-linecap="round" fill="none" /><path d="M416.0 392.7h0M413.6 363.1h0M388.3 336.0h0M384.7 386.5h0M413.4 347.0h0M431.0 353.3h0M404.9 361.8h0M403.1 343.6h0M406.0 336.5h0M413.0 366.2h0M413.6 393.0h0M416.8 369.6h0M427.0 389.7h0M364.4 330.1h0M401.1 362.4h0M405.5 331.1h0M412.0 388.4h0M409.9 371.5h0M426.3 345.6h0M414.6 326.5h0M427.0 364.4h0M419.6 315.2h0M416.7 380.5h0M352.8 315.3h0M349.1 337.5h0M426.3 335.0h0M334.9 335.4h0M407.5 319.7h0M334.3 334.7h0M420.7 378.7h0M428.5 333.8h0M343.6 321.8h0M426.6 366.8h0M347.6 335.2h0M351.1 318.9h0M428.3 337.5h0M415.1 362.0h0M399.0 336.6h0M390.7 334.3h0M423.6 360.0h0M412.3 327.1h0M340.5 323.5h0M363.1 327.8h0M420.5 339.1h0M342.1 331.5h0M420.4 365.3h0M346.8 322.0h0M395.8 368.4h0M408.2 328.4h0M416.1 361.3h0M432.9 344.2h0M421.4 346.9h0M400.6 369.5h0M391.7 371.5h0M360.9 324.0h0M389.8 386.7h0M403.2 327.3h0M410.9 406.3h0M410.6 360.2h0M359.7 316.9h0M420.7 382.4h0M420.5 369.0h0M433.2 390.9h0M437.8 379.2h0M382.9 387.8h0M417.2 387.2h0M391.2 367.2h0M421.3 329.8h0M393.3 387.5h0M410.0 384.4h0M369.3 343.9h0M351.1 338.7h0M347.3 316.8h0M421.4 377.9h0M406.5 406.8h0M411.6 395.6h0M358.2 315.0h0M432.1 382.2h0M397.4 347.8h0M403.5 315.7h0M399.6 342.6h0M416.4 344.8h0M435.0 335.7h0M403.6 323.1h0M416.9 406.3h0M392.7 353.2h0M427.3 341.1h0M337.6 337.8h0M405.9 404.7h0M406.2 310.4h0M405.8 329.8h0M415.9 403.9h0M431.6 388.5h0M409.0 407.4h0M426.6 345.8h0M398.0 338.6h0M382.1 346.4h0M395.2 346.9h0M382.1 364.9h0M410.2 372.3h0M413.2 349.0h0M417.3 340.0h0M393.9 388.3h0M343.1 332.2h0M378.0 340.3h0M379.5 381.8h0M403.6 355.1h0M407.7 401.3h0M415.2 336.2h0M422.9 343.8h0M423.2 403.7h0M380.5 385.5h0M359.6 324.0h0M395.7 365.0h0M399.4 321.5h0M406.3 368.8h0M398.9 372.1h0M434.4 376.6h0M415.8 313.0h0M361.2 328.5h0M399.8 369.3h0M415.1 339.2h0M398.8 366.2h0M409.4 357.8h0M400.9 354.4h0M410.4 338.2h0M378.3 351.6h0M406.2 405.3h0M394.7 362.0h0M423.4 347.1h0M407.0 334.9h0M417.0 359.3h0M429.9 333.1h0M396.5 324.3h0M436.3 383.7h0M391.2 337.3h0M388.0 390.9h0M347.9 340.1h0M398.0 396.6h0M356.8 322.5h0M415.6 380.3h0M336.1 324.7h0M402.6 315.7h0M391.9 325.1h0M426.2 370.3h0M377.0 341.8h0M416.1 343.2h0M431.6 395.1h0M406.0 396.3h0M391.9 393.4h0M388.7 341.7h0M391.2 342.6h0M406.1 382.9h0M350.0 335.0h0M383.7 351.6h0M425.9 336.2h0M398.9 334.7h0M421.9 398.9h0M411.6 369.4h0M427.8 393.0h0M415.0 329.4h0M380.4 358.7h0M394.0 355.2h0M407.7 393.6h0M419.3 348.2h0M334.8 332.1h0M392.3 324.5h0M423.7 386.8h0M402.4 349.7h0M343.7 318.8h0M395.3 348.7h0M382.7 357.9h0M381.6 385.5h0M406.7 347.3h0M415.0 314.1h0M348.7 335.7h0M345.5 334.8h0M418.9 369.3h0M418.6 373.9h0M429.7 380.9h0M412.1 340.5h0M425.8 382.2h0M418.7 371.2h0M343.0 328.4h0M410.0 375.5h0M340.1 334.5h0M339.1 334.2h0M409.4 379.5h0M429.0 332.0h0M392.2 334.0h0M382.9 341.8h0M388.1 344.5h0M416.3 356.4h0M386.9 347.3h0M410.3 333.8h0M407.7 332.8h0M425.6 390.4h0M425.4 379.5h0M411.9 351.6h0M421.5 336.6h0M413.6 332.5h0M414.3 382.9h0M339.2 331.1h0M430.9 382.5h0M403.2 350.0h0M420.6 325.6h0M416.9 313.8h0M401.8 371.1h0M417.7 371.3h0M339.0 330.6h0M404.7 350.8h0M396.3 332.8h0M415.4 331.4h0M411.9 332.9h0M356.0 314.0h0M420.5 353.7h0M393.8 400.3h0M398.8 360.4h0M421.6 369.1h0M400.6 364.5h0M407.6 378.7h0M388.0 347.6h0M418.7 332.2h0M422.4 341.8h0M405.1 372.3h0M379.9 369.6h0M428.2 413.1h0M413.0 320.7h0M387.3 331.7h0M346.8 316.0h0M399.4 378.6h0M418.6 326.2h0M417.7 345.7h0M423.3 385.7h0M416.9 392.1h0M422.2 353.9h0M432.1 339.6h0M394.5 348.0h0M389.2 365.9h0M383.7 385.3h0M344.4 329.0h0M346.4 337.1h0M379.3 341.8h0M401.9 354.5h0M393.4 324.3h0M408.8 341.7h0M418.3 340.6h0M367.9 373.4h0M429.5 413.4h0M412.4 342.6h0M400.1 386.2h0M430.9 353.8h0M404.8 323.1h0M346.1 330.4h0M389.7 382.3h0M408.4 377.7h0M416.0 337.7h0M397.9 316.1h0M390.1 353.9h0M402.4 324.4h0M412.0 336.7h0M399.2 377.2h0M378.7 350.1h0M409.7 370.4h0M414.9 384.5h0M338.7 328.6h0M390.2 351.7h0M399.1 394.0h0M392.2 346.3h0M428.8 361.8h0M380.0 338.4h0M341.1 331.7h0M401.5 344.4h0M412.4 358.0h0M397.9 388.7h0M431.8 342.0h0M407.2 325.2h0M386.4 379.3h0M420.9 384.1h0M418.5 350.2h0M435.3 376.5h0M385.7 355.4h0M390.2 336.0h0M432.4 393.7h0M424.5 378.4h0M344.4 334.7h0M355.1 320.3h0M389.9 388.7h0M415.5 341.7h0M424.1 331.4h0M428.0 328.3h0M415.6 361.9h0M411.8 349.5h0M342.6 334.5h0M435.9 388.4h0M422.0 341.5h0M388.1 362.2h0M414.8 370.1h0M388.1 387.9h0M408.8 344.4h0M422.9 385.7h0M426.5 353.7h0M405.2 401.3h0M416.1 331.3h0M424.1 374.7h0M398.0 381.1h0M435.7 338.4h0M429.6 356.5h0M415.6 357.2h0M336.6 334.0h0M434.4 339.6h0M390.4 355.4h0M392.2 342.0h0M386.0 332.4h0M402.5 352.5h0M397.8 336.9h0M336.0 337.4h0M341.7 338.5h0M415.4 387.6h0M371.3 344.6h0M370.1 376.6h0M400.0 386.9h0M397.6 357.2h0M435.1 352.0h0M397.9 336.2h0M416.5 392.7h0M429.0 365.2h0M428.5 366.2h0M388.5 380.9h0M367.9 342.6h0M393.1 326.2h0M413.3 334.9h0M427.2 403.0h0M396.9 401.5h0M348.3 333.7h0M418.8 405.6h0M410.5 393.2h0M402.4 365.8h0M423.2 360.7h0M373.0 347.3h0M404.4 359.6h0M400.3 390.4h0M358.6 320.9h0M401.1 329.1h0M391.2 342.9h0M411.2 355.8h0M415.4 374.3h0M390.8 347.5h0M426.3 385.2h0M413.6 332.1h0M418.8 387.3h0M392.6 343.9h0M431.2 376.0h0M395.9 319.9h0M335.5 331.0h0M381.7 377.9h0M386.8 377.8h0M405.9 323.4h0M410.8 379.1h0M391.8 368.3h0M388.5 336.0h0M354.4 339.8h0M384.2 347.5h0M396.5 358.9h0M412.0 334.2h0M403.9 402.6h0M371.6 346.9h0M412.8 351.3h0M406.8 385.6h0M418.4 321.9h0M393.8 366.7h0M418.6 404.4h0M414.4 337.6h0" stroke="#603A87" stroke-width="1.80" stroke-linecap="round" fill="none" /><path d="M386.4 340.6h0M404.9 371.5h0M413.0 384.3h0M437.0 369.5h0M391.9 342.4h0M391.3 335.3h0M422.6 355.7h0M423.0 357.0h0M424.8 379.4h0M399.6 392.2h0M393.5 379.9h0M416.5 372.9h0M383.4 361.3h0M424.6 398.7h0M343.4 337.0h0M418.8 358.8h0M354.4 315.3h0M359.8 344.1h0M420.9 328.5h0M348.9 333.1h0M348.1 334.8h0M362.6 324.9h0M379.7 339.9h0M409.2 341.5h0M378.0 344.0h0M428.8 413.5h0M405.6 404.9h0M393.7 375.7h0M390.1 392.7h0M408.8 356.1h0M401.9 357.5h0M399.9 375.6h0M394.5 325.7h0M419.4 381.2h0M392.5 342.4h0M435.5 386.6h0M404.6 371.1h0M402.3 373.5h0M342.1 318.0h0M423.3 370.9h0M420.1 364.7h0M412.6 345.5h0M401.6 329.6h0M383.5 367.4h0M402.5 321.9h0M410.6 344.3h0M384.6 378.4h0M413.6 387.2h0M396.4 358.6h0M412.5 391.4h0M424.5 375.5h0M420.5 321.1h0M417.9 368.2h0M420.0 321.5h0M411.8 337.9h0M424.6 336.4h0M433.1 369.5h0M403.3 326.3h0M414.7 396.1h0M348.5 329.7h0M422.8 394.8h0M426.1 381.8h0M428.7 342.3h0M410.2 310.7h0M377.5 358.6h0M411.4 383.7h0M402.6 327.4h0M348.4 320.9h0M406.8 313.9h0M429.9 357.9h0M389.9 341.4h0M386.4 335.8h0M406.4 370.4h0M407.9 397.9h0M428.8 379.4h0M357.3 323.9h0M420.6 377.1h0M409.0 348.0h0M403.9 340.2h0M386.9 393.0h0M397.5 343.2h0M347.2 340.1h0M399.1 393.9h0M375.9 353.8h0M368.9 345.4h0M414.2 362.5h0M345.4 338.2h0M401.3 392.8h0M345.1 318.8h0M340.7 340.3h0M415.1 382.4h0M420.0 361.2h0M402.1 330.7h0M397.1 364.8h0M391.3 345.1h0M406.5 333.0h0M416.1 387.9h0M414.5 392.7h0M360.4 321.8h0M391.6 390.7h0M397.3 394.6h0M405.6 330.2h0M337.9 339.5h0M393.9 375.7h0M351.0 318.3h0M426.2 377.8h0M425.1 367.6h0M391.6 396.6h0M343.3 334.1h0M354.1 319.5h0M407.7 394.7h0M386.7 337.4h0M343.6 318.7h0M411.0 369.8h0M410.5 392.1h0M424.2 323.4h0M413.2 338.3h0M409.3 361.0h0M364.2 327.0h0M382.0 347.4h0M408.1 392.8h0M415.0 366.6h0M397.3 402.3h0M433.3 350.5h0M417.2 374.6h0M399.3 398.2h0M400.4 367.2h0M343.1 322.0h0M399.8 322.9h0M409.2 364.7h0M409.2 318.3h0M426.5 356.0h0M425.3 396.5h0M383.6 353.9h0M432.4 381.6h0M415.2 357.5h0M397.8 381.9h0M401.6 340.2h0M383.7 381.9h0M405.3 390.3h0M394.3 355.0h0M419.0 407.6h0M380.7 359.6h0M423.7 359.6h0M401.5 333.1h0M351.4 337.8h0M392.7 368.7h0M425.0 371.0h0M372.8 342.4h0M391.6 376.2h0M379.9 341.5h0M394.7 340.8h0M340.4 330.9h0M406.7 377.9h0M393.7 327.0h0M428.4 339.5h0M390.1 343.6h0M422.2 358.1h0M411.4 400.8h0M407.5 330.8h0M394.2 358.9h0M420.3 404.9h0M405.8 335.6h0M338.2 337.8h0M389.8 354.0h0M338.4 339.4h0M404.9 354.5h0M401.3 327.1h0M424.2 378.3h0M407.3 372.1h0M426.8 339.0h0M339.3 330.4h0M389.0 372.3h0M385.8 388.5h0M409.1 380.4h0M355.2 340.1h0M385.9 334.8h0M343.6 326.6h0M411.7 360.1h0M435.9 371.4h0M354.6 342.4h0M401.1 372.3h0M397.1 371.4h0M387.1 393.1h0M410.2 387.5h0M415.9 349.6h0M385.4 383.6h0M347.1 340.4h0M348.2 332.8h0M401.0 354.3h0M356.1 324.2h0M407.1 323.0h0M388.3 388.5h0M419.1 374.5h0M383.7 389.6h0M350.9 342.1h0M388.7 393.0h0M383.0 356.7h0M414.5 357.3h0M436.6 375.7h0M396.5 387.0h0M364.0 328.5h0M394.5 336.4h0M402.1 319.5h0M403.9 341.7h0M420.3 342.2h0M418.0 348.8h0M384.9 391.4h0M413.2 377.6h0M431.1 364.9h0M349.0 335.8h0M393.5 388.1h0M383.9 382.4h0M426.9 395.5h0M397.8 324.8h0M360.7 325.4h0M434.3 390.0h0M342.1 339.2h0M404.5 322.0h0M411.8 394.3h0M419.0 332.6h0M431.3 370.0h0M426.7 378.2h0M409.7 407.4h0M393.0 382.5h0M348.5 322.2h0M353.6 343.0h0M397.0 392.1h0M334.7 338.3h0M414.5 336.2h0M410.1 344.2h0M396.1 371.6h0M391.8 377.5h0M415.6 337.6h0M398.4 398.8h0M398.8 374.2h0M386.4 335.3h0M350.1 340.0h0M353.6 342.6h0M357.5 321.5h0M422.6 360.0h0M399.5 359.2h0M427.0 362.2h0M387.4 376.3h0M404.2 337.0h0M419.3 374.4h0M411.4 391.1h0M424.6 375.0h0M435.4 373.3h0M405.3 319.4h0M412.7 370.2h0M385.3 364.4h0M417.4 358.7h0M430.6 339.1h0M411.0 341.4h0M370.3 343.8h0M402.1 387.9h0M375.4 341.4h0M432.4 389.8h0M394.2 370.2h0M424.6 382.8h0M380.6 379.4h0M415.0 393.6h0M399.1 377.2h0M423.9 341.7h0M364.4 327.6h0M408.6 330.7h0M420.0 403.6h0M405.7 392.6h0M422.7 396.2h0M395.1 366.2h0M419.3 341.0h0M394.8 337.9h0M398.9 357.2h0M345.6 334.0h0M428.1 385.6h0M396.0 394.6h0M335.3 334.8h0M406.9 349.7h0M406.9 352.7h0M416.1 350.5h0M419.4 371.2h0M399.2 322.6h0M422.4 373.3h0M392.1 344.5h0M419.8 379.8h0M421.9 353.4h0M405.0 361.1h0M341.9 339.5h0M347.2 326.6h0M397.0 392.0h0M422.7 357.5h0M415.2 399.3h0M422.9 399.7h0M396.5 365.0h0M429.7 394.2h0M382.2 378.6h0M410.0 403.5h0M334.8 337.8h0M394.4 354.8h0M424.8 383.1h0M354.6 319.9h0M410.9 406.9h0M428.8 390.3h0M346.5 327.6h0M392.2 378.8h0M395.0 387.1h0M416.0 379.2h0M348.6 332.7h0M403.9 328.9h0M406.6 400.6h0M415.5 322.8h0M344.7 326.2h0M392.4 353.2h0M430.0 376.0h0M339.5 334.8h0M413.2 325.2h0M335.7 335.1h0M413.1 385.5h0M395.6 369.4h0M427.6 393.1h0M421.4 375.9h0M427.7 327.6h0M344.2 320.8h0M384.3 377.6h0M380.0 354.9h0M425.7 349.0h0M394.2 367.9h0M406.9 364.1h0M394.9 347.1h0M385.7 357.7h0M403.4 347.4h0M358.2 324.5h0M432.6 387.3h0M343.3 317.3h0M405.7 348.0h0M415.0 324.4h0M426.8 367.4h0M337.9 323.6h0M427.2 346.4h0M408.5 340.4h0M335.1 330.8h0M423.2 370.7h0M402.0 344.9h0M394.4 376.5h0M403.4 384.5h0M415.4 387.3h0M394.8 364.0h0M356.5 322.1h0M430.3 416.2h0M388.8 382.6h0M389.7 357.8h0M343.3 324.1h0M414.2 380.2h0M415.3 399.7h0M337.4 323.7h0M350.3 319.5h0M424.5 383.9h0M415.6 404.8h0M411.2 374.5h0M416.4 366.1h0M357.8 322.2h0M378.9 373.5h0M383.2 350.1h0M346.9 333.8h0M343.3 320.1h0M387.3 365.1h0M389.6 340.9h0M396.8 385.5h0M429.7 384.7h0M393.1 344.2h0M436.6 382.1h0M338.9 337.9h0M342.2 318.1h0M388.9 369.9h0M397.6 353.6h0M343.8 317.3h0M406.9 392.0h0M344.0 336.8h0M416.1 382.6h0M397.0 353.1h0M412.2 352.2h0M404.1 384.7h0M416.1 404.4h0M337.8 332.7h0M405.8 378.5h0M402.3 398.3h0M419.5 338.3h0M339.9 329.6h0M337.6 331.8h0M335.9 335.0h0M382.2 354.3h0M416.2 326.9h0M341.8 318.1h0M336.0 334.7h0M401.4 363.6h0M423.5 365.3h0M368.3 344.2h0M425.9 356.9h0M394.2 337.7h0M415.2 331.8h0M389.8 338.7h0M349.4 330.5h0M361.4 324.0h0M427.8 354.0h0M338.7 329.8h0M404.8 329.7h0M425.9 362.5h0M434.0 378.3h0M382.6 378.7h0" stroke="#714B82" stroke-width="1.80" stroke-linecap="round" fill="none" /><path d="M392.0 379.2h0M387.2 389.3h0M418.8 370.0h0M401.3 362.0h0M389.9 345.3h0M410.6 392.1h0M419.0 320.0h0M387.0 388.8h0M403.3 397.8h0M397.2 363.5h0M404.9 385.0h0M399.4 378.2h0M410.8 333.9h0M384.2 388.2h0M406.5 382.5h0M401.4 368.8h0M342.7 319.0h0M385.1 346.6h0M425.2 404.0h0M411.0 385.8h0M388.9 338.1h0M409.8 367.8h0M401.2 376.4h0M422.9 324.0h0M409.8 347.2h0M377.6 380.2h0M389.6 368.7h0M384.6 356.1h0M350.7 313.9h0M409.5 337.4h0M396.7 385.0h0M426.6 408.0h0M341.6 327.1h0M415.2 391.1h0M406.7 369.6h0M348.0 321.8h0M405.7 372.2h0M414.1 397.7h0M425.4 404.5h0M427.4 393.9h0M419.4 363.3h0M415.7 374.4h0M384.8 348.5h0M383.4 337.5h0M361.5 325.2h0M404.9 334.2h0M386.8 365.2h0M409.6 347.8h0M387.8 387.0h0M345.7 331.1h0M420.4 335.6h0M337.9 327.8h0M425.8 331.5h0M391.9 395.8h0M343.5 323.5h0M393.5 399.0h0M347.3 330.3h0M394.6 363.2h0M408.0 328.9h0M426.1 410.1h0M395.8 389.6h0M401.5 332.6h0M428.5 334.2h0M386.6 329.5h0M351.9 339.0h0M350.9 338.3h0M353.3 315.5h0M342.7 321.6h0M382.0 384.8h0M421.7 360.8h0M347.8 329.7h0M398.6 373.0h0M393.7 347.3h0M433.3 391.8h0M390.3 351.3h0M385.0 366.4h0M378.0 381.3h0M397.5 387.4h0M416.8 397.4h0M388.5 377.5h0M432.0 379.7h0M386.1 371.6h0M384.7 354.0h0M404.9 359.4h0M342.0 323.3h0M341.9 331.2h0M414.5 372.5h0M401.7 365.6h0M400.6 367.6h0M386.2 347.8h0M430.2 350.5h0M406.7 362.9h0M388.5 382.0h0M340.4 337.4h0M407.8 369.0h0M423.2 329.4h0M389.6 387.4h0M405.3 354.2h0M351.6 341.4h0M402.9 363.7h0M392.1 397.9h0M420.1 388.8h0M422.3 394.3h0M407.4 399.2h0M436.8 333.7h0M387.2 384.2h0M388.8 382.9h0M406.4 350.2h0M418.1 366.7h0M414.6 314.1h0M422.5 365.3h0M414.2 361.2h0M343.9 334.6h0M425.2 393.8h0M386.4 374.9h0M386.9 349.9h0M392.1 396.4h0M395.5 378.2h0M375.9 352.3h0M402.8 396.0h0M400.2 388.1h0M342.3 326.9h0M385.6 395.7h0M404.7 378.3h0M401.0 352.9h0M393.4 364.6h0M397.3 372.9h0M377.7 347.3h0M426.9 364.4h0M420.5 332.9h0M344.0 329.9h0M334.6 336.2h0M399.4 335.8h0M363.7 330.8h0M357.2 315.3h0M409.4 382.3h0M388.8 350.1h0M397.5 398.2h0M392.2 350.0h0M416.1 360.7h0M382.1 340.6h0M397.2 324.4h0M413.9 345.5h0M347.0 332.0h0M352.6 312.7h0M394.8 323.4h0M404.1 367.0h0M410.0 386.3h0M405.8 310.6h0M354.6 318.1h0M395.4 346.8h0M349.5 336.7h0M391.2 392.2h0M393.7 376.6h0M396.3 338.7h0M431.0 360.6h0M359.4 326.7h0M347.8 316.3h0M407.1 309.9h0M374.3 379.1h0M399.4 348.6h0M427.9 375.0h0M348.3 334.8h0M344.5 339.1h0M418.6 370.6h0M429.1 333.2h0M434.2 380.6h0M396.0 318.2h0M381.3 379.1h0M357.4 315.9h0M421.1 326.8h0M356.7 319.2h0M389.0 345.9h0M397.2 345.9h0M388.2 369.3h0M342.0 318.1h0M405.3 353.9h0M398.5 342.5h0M400.4 378.7h0M346.3 322.4h0M426.0 326.9h0M388.5 393.4h0M408.3 362.1h0M394.0 364.7h0M410.2 349.5h0M346.0 338.5h0M397.1 364.1h0M382.8 361.5h0M411.2 381.7h0M396.2 359.3h0M396.0 339.6h0M399.5 393.5h0M405.3 399.1h0M385.5 394.4h0M403.6 348.1h0M379.8 348.8h0M414.5 357.7h0M416.1 365.7h0M399.3 368.0h0M385.4 372.1h0M404.5 388.1h0M420.6 367.2h0M402.1 361.3h0M393.3 397.3h0M430.8 392.5h0M401.1 347.3h0M383.9 361.5h0M409.9 369.6h0M430.8 328.8h0M347.6 331.9h0M397.7 369.9h0M384.4 383.2h0M413.5 398.6h0M399.7 370.1h0M383.4 383.4h0M388.2 334.3h0M427.0 380.2h0M378.5 372.4h0M421.0 384.5h0M398.8 377.9h0M388.4 348.4h0M418.3 320.4h0M407.3 370.4h0M408.2 326.4h0M339.8 328.3h0M377.1 347.7h0M343.9 320.0h0M410.3 333.6h0M431.4 372.0h0M340.2 327.8h0M389.2 363.4h0M430.9 394.7h0M429.6 363.4h0M398.6 386.4h0M340.9 321.0h0M391.5 342.1h0M391.1 369.7h0M424.2 376.0h0M428.3 363.2h0M392.5 341.2h0M380.8 388.0h0M408.3 310.4h0M393.9 363.5h0M421.4 392.2h0M363.8 327.3h0M404.5 321.2h0M357.4 321.8h0M435.5 335.8h0M383.6 382.1h0M347.7 323.8h0M347.8 330.7h0M403.3 368.9h0M394.7 363.3h0M424.4 405.7h0M410.6 359.8h0M380.0 384.9h0M395.2 371.4h0M390.8 378.6h0M354.2 317.1h0M408.3 388.7h0M399.1 324.1h0M402.3 399.4h0M405.1 331.6h0M408.3 324.2h0M355.5 315.7h0M350.9 332.6h0M382.0 359.6h0M389.9 349.3h0M421.9 366.2h0M338.0 322.9h0M408.1 391.9h0M409.0 397.5h0M383.6 355.2h0M415.8 373.8h0M405.9 381.1h0M409.5 324.4h0M383.4 357.5h0M420.9 322.9h0M397.5 324.5h0M387.2 387.0h0M398.8 328.7h0M379.5 346.9h0" stroke="#835D7E" stroke-width="1.80" stroke-linecap="round" fill="none" /><path d="M337.0 326.0h0M415.5 390.4h0M384.6 374.6h0M400.1 320.7h0M392.1 373.0h0M410.4 387.0h0M406.9 375.2h0M401.4 368.1h0M356.9 323.0h0M403.6 395.7h0M406.1 358.1h0M432.7 383.0h0M375.7 381.1h0M395.9 382.0h0M375.5 351.4h0M401.2 370.9h0M401.1 375.8h0M427.5 368.8h0M414.4 312.4h0M396.2 400.3h0M390.4 390.9h0M409.1 371.4h0M421.7 395.8h0M434.1 375.4h0M412.6 364.9h0M379.7 360.1h0M357.0 314.8h0M357.9 320.0h0M353.8 339.1h0M348.7 323.3h0M371.8 373.8h0M399.9 403.0h0M393.8 384.3h0M413.7 384.8h0M365.4 348.0h0M346.5 335.2h0M401.1 384.9h0M427.5 343.5h0M349.0 335.2h0M347.5 324.7h0M423.1 385.8h0M427.7 361.1h0M390.2 383.3h0M379.5 365.8h0M406.3 374.6h0M409.0 325.1h0M407.9 352.3h0M387.4 391.0h0M404.4 381.8h0M402.2 342.2h0M376.9 347.7h0M349.8 316.8h0M399.8 367.5h0M380.1 381.1h0M343.2 318.9h0M372.5 347.1h0M406.9 368.5h0M382.4 379.8h0M420.8 391.1h0M378.3 361.7h0M408.4 332.1h0M400.4 321.3h0M405.2 310.7h0M382.6 356.2h0M394.7 391.2h0M341.1 325.7h0M382.8 381.6h0M347.5 338.4h0M400.4 361.8h0M407.8 401.2h0M397.3 327.3h0M364.0 328.9h0M393.1 386.1h0M343.5 323.9h0M403.5 403.9h0M377.6 350.3h0M389.5 361.9h0M431.9 373.1h0M397.1 400.3h0M423.4 370.2h0M433.8 377.8h0M406.9 387.2h0M383.4 359.2h0M423.2 333.7h0M345.4 321.9h0M349.9 318.2h0M386.3 395.1h0M371.6 351.9h0M344.3 325.1h0M427.7 379.4h0M387.7 357.9h0M406.1 350.2h0M345.0 334.1h0M409.0 321.7h0M385.1 368.9h0M397.4 382.9h0M379.9 359.7h0M428.6 373.4h0M419.8 389.2h0M434.6 387.2h0M405.5 386.5h0M389.9 376.0h0M423.0 359.0h0M424.7 384.4h0M394.1 398.1h0M383.4 385.1h0M369.3 370.9h0M400.4 363.5h0M378.7 377.3h0M421.1 318.5h0M390.0 369.6h0M417.5 373.1h0M349.2 315.4h0M389.1 381.2h0M377.0 350.9h0M389.2 388.4h0M342.8 320.9h0M416.2 400.1h0M373.3 349.4h0M404.7 401.1h0M355.6 321.2h0M383.1 359.1h0M384.3 378.9h0M404.8 385.6h0M417.9 371.8h0M387.2 391.4h0M339.2 331.3h0M384.9 364.4h0M381.4 377.9h0M396.5 370.5h0M386.5 355.3h0M345.2 325.7h0M339.4 327.8h0M397.6 364.8h0M423.0 394.5h0M388.3 389.5h0M402.5 320.1h0M347.4 315.5h0M398.2 399.2h0M413.8 354.1h0M355.9 318.1h0M370.6 345.0h0M334.0 330.9h0M398.3 396.0h0M380.4 367.7h0M409.3 327.0h0M407.0 390.1h0M404.0 358.4h0M391.7 377.3h0M409.6 355.1h0M375.3 350.1h0M404.7 386.3h0M417.0 327.2h0" stroke="#956F75" stroke-width="1.80" stroke-linecap="round" fill="none" /><path d="M378.2 375.7h0M382.4 369.1h0M378.8 345.1h0M389.6 362.0h0M396.4 373.9h0M390.1 323.5h0M427.8 413.7h0M387.4 363.9h0M404.0 366.0h0M379.3 369.0h0M424.7 355.7h0M407.6 364.9h0M390.7 379.1h0M385.6 371.9h0M383.4 372.6h0M401.2 374.0h0M381.6 379.7h0M398.5 365.2h0M373.6 377.3h0M372.5 379.4h0M397.3 357.9h0M344.6 324.7h0M367.0 373.1h0M403.7 402.5h0M380.7 358.7h0M383.9 376.3h0M396.4 326.0h0M377.5 381.4h0M395.3 398.7h0M395.8 367.1h0M407.6 390.4h0M399.7 380.4h0M383.4 372.7h0M339.2 332.3h0M429.3 399.5h0M401.1 369.7h0M394.9 376.2h0M394.6 363.8h0M372.9 353.1h0M428.9 396.5h0M395.4 366.3h0M422.2 380.4h0M374.7 342.8h0M395.8 374.4h0M386.8 374.2h0M428.1 374.0h0M406.1 372.5h0M390.0 382.0h0M391.3 378.8h0M374.8 360.4h0M378.6 358.1h0M407.2 401.5h0M389.7 398.8h0M389.4 378.5h0M340.4 335.4h0M383.6 366.2h0M412.1 356.4h0M401.9 370.5h0M355.5 339.9h0M342.0 324.2h0M395.9 346.3h0M344.3 327.8h0M394.2 375.1h0M408.6 380.3h0M353.3 341.4h0M414.0 327.2h0M397.1 342.5h0M343.3 317.9h0M369.9 376.4h0" stroke="#A88368" stroke-width="1.80" stroke-linecap="round" fill="none" /><path d="M394.3 350.1h0M373.1 357.2h0M374.9 352.0h0M424.6 369.8h0M373.0 371.5h0M373.3 371.3h0M377.8 362.7h0M374.1 373.8h0M349.4 320.5h0M373.7 369.3h0M376.1 364.9h0M364.8 330.1h0M409.8 394.3h0M435.9 378.1h0M397.9 363.0h0M377.6 354.2h0M378.1 354.9h0M374.3 370.5h0M375.5 358.4h0M386.8 369.0h0M379.8 369.2h0M375.0 371.8h0M382.3 388.8h0M378.3 378.9h0M343.9 324.3h0M394.1 384.4h0M371.8 378.6h0M376.1 353.8h0M385.9 372.0h0" stroke="#BA965A" stroke-width="1.80" stroke-linecap="round" fill="none" /><path d="M374.2 376.5h0M373.3 372.1h0M374.2 351.4h0M375.0 380.7h0M379.8 365.9h0M345.4 326.8h0M375.4 353.4h0M377.2 366.9h0M373.2 354.6h0M373.7 374.4h0M378.8 370.6h0M372.5 369.9h0M374.2 355.5h0M373.1 364.0h0M368.9 373.7h0M371.7 372.5h0M375.0 366.3h0" stroke="#CCAB4D" stroke-width="1.80" stroke-linecap="round" fill="none" /><path d="M374.2 375.2h0M377.3 366.1h0M377.1 373.9h0M373.5 352.4h0M374.8 356.3h0M375.6 363.9h0M374.7 374.5h0M372.8 371.7h0M375.2 356.7h0" stroke="#DCC240" stroke-width="1.80" stroke-linecap="round" fill="none" /><path d="M373.5 372.7h0M374.8 366.5h0M371.5 369.1h0M375.3 365.9h0M374.1 370.3h0M375.7 352.3h0M372.9 371.5h0M374.5 348.9h0M374.0 371.7h0M374.3 373.5h0" stroke="#ECD832" stroke-width="1.80" stroke-linecap="round" fill="none" /><path d="M418.4 321.4h0M413.1 312.4h0M412.9 361.0h0M423.9 343.1h0M414.0 351.5h0M420.1 326.0h0M428.1 397.5h0M416.9 319.5h0M431.6 387.6h0M403.6 312.9h0M428.3 331.4h0M426.9 327.1h0M438.3 380.4h0M420.8 367.4h0M427.3 333.6h0M344.0 338.3h0M417.6 325.6h0M415.4 310.8h0M423.1 348.0h0M349.2 339.5h0M425.6 360.2h0M411.3 344.3h0M406.8 340.1h0M432.8 381.4h0M412.4 309.7h0M412.0 360.9h0M430.5 337.9h0M430.5 343.2h0M415.8 363.6h0M431.1 330.4h0M423.2 363.0h0M412.0 321.4h0M415.7 326.9h0M417.0 381.1h0M416.7 400.6h0M415.3 329.8h0M418.5 336.5h0M433.9 383.6h0M349.8 338.3h0M417.4 358.8h0M393.0 323.4h0M407.7 357.3h0M414.6 318.2h0M394.9 339.6h0M399.9 340.6h0M353.9 312.3h0M394.8 339.0h0M391.3 383.7h0M433.0 353.7h0" stroke="#2A128B" stroke-width="1.80" stroke-linecap="round" fill="none" /><path d="M390.9 329.3h0M404.3 380.2h0M401.2 340.8h0M399.9 321.0h0M379.9 345.7h0M420.3 366.6h0M410.3 399.8h0M406.7 322.1h0M415.7 319.2h0M409.4 398.4h0M413.9 311.8h0M406.7 362.9h0M383.6 339.2h0M413.1 351.3h0M412.8 325.1h0M419.8 405.1h0M348.7 333.7h0M426.7 326.2h0M418.7 381.1h0M360.1 324.2h0M412.3 393.3h0M421.5 336.5h0M383.5 355.9h0M401.3 324.8h0M416.6 339.8h0M411.1 394.2h0M431.5 366.0h0M348.0 332.2h0M348.2 341.1h0M424.3 403.3h0M411.1 360.7h0M366.6 340.6h0M415.5 335.3h0M423.5 331.9h0M395.2 335.1h0M420.0 347.9h0M417.4 314.4h0M422.2 352.6h0M430.5 369.7h0M395.3 397.4h0M415.4 405.3h0M351.7 338.7h0M337.5 329.2h0M405.2 399.4h0M395.9 358.9h0M434.4 350.8h0M418.8 328.5h0M398.7 350.0h0M420.8 388.8h0M348.3 323.0h0M411.4 325.1h0M355.8 323.7h0M431.3 327.4h0M408.6 340.4h0M425.3 396.7h0M423.6 351.1h0M418.7 369.9h0M420.4 330.9h0M366.8 342.0h0M389.7 348.7h0M396.3 343.0h0M390.8 326.2h0M335.1 339.6h0M345.8 317.9h0M421.1 388.5h0M358.7 324.9h0M425.4 356.9h0M426.6 328.9h0M423.1 341.0h0M421.5 362.5h0M399.1 401.0h0M413.2 350.1h0M430.7 336.2h0M384.2 340.7h0M415.6 403.8h0M429.7 391.1h0M416.7 341.4h0M339.6 336.9h0M348.3 317.0h0M412.2 314.0h0M425.0 364.2h0M408.7 341.6h0M429.4 335.6h0M396.3 332.8h0M347.3 325.5h0M433.0 352.4h0M424.9 395.9h0M409.7 315.7h0M412.4 363.4h0M421.7 352.6h0M412.5 349.3h0M400.0 326.5h0M405.4 338.4h0M382.3 334.0h0M395.0 328.5h0M419.7 375.9h0M411.5 379.4h0M412.4 312.9h0M398.0 398.1h0M436.0 337.3h0M342.7 321.6h0M349.5 319.2h0M385.8 372.2h0M395.5 403.0h0M437.4 338.8h0M337.9 335.3h0M419.0 389.8h0M416.3 322.8h0M399.1 334.9h0M417.2 322.6h0M432.2 364.0h0M357.0 315.8h0M354.1 339.6h0M420.2 351.2h0M417.5 364.3h0M422.4 345.6h0M408.5 317.5h0M425.4 350.8h0M435.9 381.7h0M344.5 320.7h0M397.0 390.3h0" stroke="#3C1F8A" stroke-width="1.80" stroke-linecap="round" fill="none" /><path d="M388.6 346.5h0M421.7 322.4h0M400.6 387.1h0M394.0 325.3h0M414.3 318.7h0M385.4 370.9h0M415.7 336.9h0M418.2 317.3h0M415.3 390.0h0M388.4 338.0h0M418.3 399.6h0M385.7 357.0h0M424.7 385.3h0M427.3 370.2h0M416.9 322.2h0M431.4 363.1h0M385.6 354.4h0M347.3 328.5h0M352.2 313.3h0M421.0 321.2h0M408.3 361.6h0M399.7 327.3h0M434.0 352.0h0M355.5 315.2h0M387.9 355.9h0M383.7 359.1h0M390.9 336.8h0M437.0 376.0h0M345.3 335.6h0M414.3 335.7h0M404.9 382.9h0M429.3 329.6h0M431.0 328.7h0M350.6 343.2h0M390.6 356.3h0M397.0 393.2h0M414.8 350.6h0M416.9 315.6h0M406.3 359.3h0M338.8 336.2h0M432.4 372.1h0M386.1 389.3h0M338.0 326.7h0M345.3 317.3h0M358.5 318.6h0M414.6 400.3h0M339.0 340.0h0M353.7 339.8h0M414.4 334.1h0M401.3 335.2h0M385.2 356.3h0M383.7 354.3h0M406.8 353.8h0M407.7 405.4h0M429.2 415.8h0M421.0 363.2h0M385.6 388.3h0M341.5 338.5h0M416.8 326.0h0M427.6 373.1h0M414.8 351.6h0M435.6 333.0h0M417.6 389.2h0M437.0 333.7h0M427.7 337.0h0M427.6 390.2h0M357.4 324.2h0M337.1 323.4h0M416.3 312.5h0M417.3 336.3h0M408.8 344.0h0M415.8 362.3h0M386.3 332.9h0M425.7 401.5h0M390.1 389.9h0M418.5 339.2h0M347.9 315.3h0M360.6 320.9h0M420.1 375.4h0M387.1 341.1h0M389.7 378.7h0M349.0 323.2h0M420.5 338.7h0M418.9 320.9h0M400.7 337.4h0M421.7 343.0h0M425.4 383.2h0M425.8 339.0h0M389.4 358.0h0M409.3 406.1h0M422.6 361.7h0M431.1 340.9h0M416.2 370.9h0M434.8 381.0h0M408.2 366.0h0M428.0 351.8h0M402.5 318.8h0M429.2 328.1h0M349.7 341.8h0M409.6 342.6h0M397.8 320.0h0M407.0 380.0h0M337.8 333.0h0M336.3 324.4h0M417.0 334.1h0M430.6 341.2h0M425.1 375.3h0M396.2 326.4h0M366.2 359.9h0M407.1 376.7h0M417.5 330.0h0M401.4 330.4h0M392.4 325.6h0M425.7 332.9h0M417.8 350.7h0M359.6 325.0h0M412.2 387.1h0M413.9 391.4h0M396.7 358.6h0M413.7 383.5h0M336.6 339.9h0M413.8 329.0h0M362.4 328.7h0M414.4 325.2h0M385.4 341.8h0M435.5 336.4h0M409.2 391.8h0M338.5 337.4h0M433.4 379.1h0M405.8 380.1h0M416.7 385.1h0M410.5 330.7h0M403.5 365.8h0M412.1 398.1h0M414.1 391.4h0M407.3 403.5h0M432.3 337.2h0M423.0 354.8h0M423.4 366.3h0M433.8 340.1h0M361.9 325.2h0M352.6 340.0h0M400.7 332.5h0M398.7 347.3h0M414.2 345.9h0M425.6 354.1h0M337.7 340.0h0M423.2 328.7h0M417.2 393.9h0M417.7 336.6h0M414.1 318.7h0M335.9 337.4h0M393.4 349.9h0M412.7 335.5h0M411.2 313.7h0M412.0 324.6h0M424.7 401.7h0M394.6 347.0h0M416.1 339.3h0M395.0 370.0h0M396.3 401.5h0M409.4 352.8h0M427.5 326.1h0M405.4 349.0h0M422.1 339.9h0M337.6 339.6h0M416.1 328.5h0M426.6 339.6h0M351.7 333.9h0M399.3 314.2h0M410.6 336.5h0M380.6 362.3h0M413.2 336.4h0M418.3 319.7h0M384.9 384.5h0M427.3 344.7h0M346.0 319.8h0M384.9 350.6h0M355.1 339.6h0M409.1 378.3h0M437.0 380.3h0M392.7 354.9h0M427.8 326.3h0M406.9 338.3h0M399.1 344.3h0M381.2 337.2h0M389.8 334.0h0M400.3 342.3h0M433.5 387.5h0M426.5 388.6h0M398.0 363.6h0M400.2 395.2h0M432.4 378.7h0M422.8 329.4h0M372.8 342.2h0M432.1 353.2h0M352.5 316.5h0M333.4 337.3h0M401.6 349.1h0M415.1 390.3h0M390.4 339.2h0M431.0 342.9h0M419.0 331.6h0M424.5 399.2h0M402.6 344.1h0M402.3 374.4h0M346.2 330.0h0M423.8 332.1h0M380.9 349.0h0M420.4 352.3h0M393.7 358.6h0M343.0 322.5h0M414.9 403.6h0M410.4 351.4h0M418.1 360.9h0M425.1 378.8h0M421.1 370.9h0M396.6 345.4h0M433.4 335.0h0M402.5 344.6h0M349.3 331.9h0M403.4 331.6h0M398.2 338.5h0M424.1 338.0h0M433.5 342.2h0M403.9 350.7h0M426.7 337.1h0M382.2 340.3h0M359.4 316.2h0M391.3 333.1h0M389.1 331.5h0M357.0 319.5h0M356.6 320.6h0M388.3 327.9h0M415.1 386.6h0M421.5 369.6h0M409.5 403.2h0M410.1 340.3h0M420.5 363.6h0M413.9 355.9h0M408.1 314.7h0M424.0 340.4h0M390.9 342.2h0M388.8 373.1h0M392.2 327.0h0M418.3 395.3h0M431.8 415.4h0M429.9 327.0h0M342.8 331.7h0" stroke="#4E2C89" stroke-width="1.80" stroke-linecap="round" fill="none" /><path d="M413.0 366.8h0M410.1 333.8h0M426.2 383.2h0M419.9 354.5h0M430.1 397.3h0M404.6 354.6h0M426.9 392.4h0M424.8 350.8h0M427.8 357.9h0M352.0 342.0h0M423.4 359.3h0M400.7 322.7h0M413.3 351.2h0M340.3 331.5h0M432.7 335.8h0M421.3 378.8h0M389.7 335.8h0M419.6 323.5h0M349.1 319.4h0M431.6 354.6h0M410.3 384.1h0M419.2 381.8h0M414.1 336.3h0M398.7 391.8h0M394.0 353.4h0M431.6 391.4h0M416.6 330.0h0M399.0 345.6h0M390.8 343.4h0M415.4 378.9h0M401.3 354.5h0M342.6 328.0h0M402.9 395.3h0M413.2 366.7h0M390.9 367.8h0M431.6 375.5h0M420.5 392.0h0M411.3 340.4h0M418.4 384.0h0M343.7 337.6h0M351.0 316.0h0M397.7 322.8h0M416.4 350.6h0M389.9 394.4h0M395.5 385.4h0M423.9 380.7h0M433.1 372.1h0M408.7 400.2h0M426.5 325.3h0M391.2 377.6h0M390.5 339.3h0M386.7 386.4h0M386.5 360.8h0M346.6 335.9h0M421.0 350.2h0M419.6 340.9h0M413.7 405.3h0M409.0 402.1h0M415.2 369.5h0M342.2 338.7h0M389.2 380.5h0M412.9 312.3h0M399.8 312.6h0M421.7 318.0h0M424.9 335.9h0M411.9 327.3h0M399.8 338.6h0M412.2 398.0h0M399.3 327.4h0M407.4 400.0h0M351.7 342.4h0M424.3 380.6h0M400.2 376.1h0M405.6 394.5h0M402.4 394.6h0M348.2 321.0h0M358.3 314.4h0M384.0 337.9h0M397.5 341.3h0M393.1 383.3h0M390.3 365.6h0M419.8 380.5h0M425.2 332.9h0M415.1 318.4h0M429.9 410.6h0M343.4 335.1h0M410.5 323.3h0M416.6 374.9h0M399.6 343.9h0M405.5 314.6h0M404.9 340.5h0M406.2 387.1h0M428.4 365.4h0M407.3 357.5h0M436.5 385.6h0M418.9 337.1h0M430.8 388.8h0M424.1 402.2h0M413.4 340.0h0M421.3 331.5h0M426.4 402.1h0M425.1 385.2h0M383.7 372.7h0M372.5 352.3h0M390.4 323.7h0M410.1 364.9h0M357.6 324.9h0M418.5 359.2h0M362.0 345.8h0M405.3 328.4h0M424.8 326.0h0M407.3 355.1h0M407.4 335.5h0M400.4 337.4h0M344.9 332.5h0M377.1 341.4h0M419.7 396.7h0M341.0 329.0h0M396.7 358.0h0M437.1 376.9h0M397.2 325.4h0M400.2 374.7h0M409.7 369.8h0M415.8 321.5h0M361.1 328.1h0M350.0 317.0h0M402.2 320.6h0M394.2 385.9h0M394.0 330.3h0M422.4 386.5h0M405.2 342.4h0M410.9 313.6h0M346.5 338.8h0M411.1 329.1h0M426.7 343.9h0M403.3 348.3h0M397.1 324.3h0M429.0 398.4h0M385.3 390.6h0M341.5 332.7h0M421.5 358.5h0M409.3 326.2h0M345.1 333.5h0M437.3 384.2h0M425.8 398.7h0M398.2 369.9h0M419.1 353.3h0M396.6 316.5h0M408.5 317.4h0M431.8 388.7h0M356.6 314.3h0M348.3 319.8h0M407.7 374.3h0M411.7 312.5h0M434.0 377.3h0M408.1 319.6h0M405.1 336.2h0M414.0 355.3h0M420.3 331.9h0M414.2 339.3h0M428.8 328.1h0M380.4 347.0h0M426.1 354.9h0M418.9 340.7h0M414.8 314.3h0M418.7 344.4h0M398.2 330.6h0M410.0 374.3h0M423.6 322.0h0M351.0 339.7h0M333.3 338.4h0M407.9 317.0h0M423.8 343.0h0M390.0 380.0h0M412.0 391.3h0M382.3 386.0h0M401.9 356.4h0M397.2 319.2h0M410.7 385.9h0M408.7 397.0h0M413.5 404.7h0M433.9 349.4h0M355.0 339.8h0M351.2 340.4h0M417.2 402.4h0M333.4 338.3h0M415.6 402.9h0M389.7 345.0h0M405.2 357.8h0M424.4 374.2h0M401.6 362.7h0M397.8 355.5h0M384.7 341.5h0M389.8 343.8h0M388.7 367.9h0M342.4 332.6h0M411.5 333.9h0M361.3 322.0h0M433.4 336.6h0M396.3 332.2h0M433.2 366.0h0M398.1 346.1h0M408.1 334.3h0M400.9 328.7h0M382.1 349.2h0M411.1 385.0h0M341.5 339.4h0M352.9 315.4h0M422.2 329.5h0M430.6 362.3h0M415.1 351.2h0M402.6 354.7h0M428.6 351.7h0M413.0 357.8h0M381.0 344.2h0M392.0 340.3h0M348.3 338.4h0M400.1 334.0h0M396.9 348.0h0M408.4 365.9h0M419.0 364.9h0M408.3 357.4h0M399.2 337.7h0M413.4 369.3h0M338.1 324.4h0M409.3 355.0h0M437.3 383.9h0M426.4 358.5h0M357.8 319.7h0M349.0 338.4h0M406.4 330.5h0M404.4 346.3h0M364.4 328.9h0M333.5 338.5h0M421.7 400.3h0M423.9 320.9h0M411.2 337.0h0M394.6 353.8h0M401.4 314.4h0M395.0 343.1h0M412.3 345.0h0M423.9 326.4h0M417.8 318.2h0M357.4 324.5h0M419.3 397.8h0M350.8 342.0h0M389.6 371.5h0M419.2 375.6h0M421.2 393.1h0M435.8 337.1h0M420.9 403.0h0M428.1 363.6h0M402.7 317.7h0M413.6 386.2h0M396.1 331.3h0M435.6 336.9h0M416.2 367.9h0M429.2 393.7h0M386.2 377.8h0M376.8 345.8h0M399.0 317.8h0M434.2 352.3h0M422.5 391.1h0M426.5 378.6h0M399.0 390.6h0M418.3 359.6h0M356.4 319.5h0M336.3 332.5h0M422.9 343.8h0M349.4 340.2h0M414.2 344.5h0M398.6 351.3h0M428.8 393.6h0M427.5 354.3h0M409.0 326.5h0M406.1 396.9h0M401.5 371.4h0M344.6 335.5h0M418.6 355.9h0M423.7 364.4h0M361.5 323.2h0M392.5 325.7h0M419.6 393.4h0M379.2 340.3h0M390.4 321.1h0M402.5 333.4h0M393.2 386.4h0M398.8 378.1h0M401.3 324.1h0M424.6 378.0h0M407.7 398.4h0M349.2 322.8h0M404.1 339.0h0M400.4 394.2h0M386.4 343.4h0M419.6 358.6h0M428.1 351.5h0M388.7 341.0h0M357.7 321.3h0M349.8 322.6h0M424.7 328.5h0M386.3 339.5h0M342.9 339.6h0M397.7 330.6h0M390.3 343.9h0M417.7 321.6h0M427.7 414.1h0M386.5 361.0h0M406.0 336.9h0M395.1 392.9h0M346.0 340.4h0M412.6 405.7h0M357.1 323.9h0M414.4 401.0h0M426.6 339.1h0M399.8 383.2h0M424.4 385.0h0M408.1 332.7h0M356.9 324.4h0M422.1 360.3h0M395.7 340.9h0M426.9 365.6h0M388.8 335.6h0M414.3 391.7h0M419.7 372.4h0M414.3 394.3h0M428.1 396.7h0M384.4 389.1h0M399.2 337.8h0M417.6 342.5h0M385.8 393.4h0M351.0 342.4h0M393.2 354.7h0M425.0 321.8h0M407.1 402.5h0M384.8 380.3h0M393.0 328.0h0M410.4 358.9h0M402.2 352.5h0M403.3 393.1h0M426.5 409.7h0M429.0 344.3h0M413.4 376.0h0M403.4 345.3h0M402.4 366.3h0M344.3 334.7h0M429.0 328.2h0M335.0 332.7h0M402.9 398.2h0M349.3 320.0h0M389.5 368.6h0M384.1 340.8h0M425.6 327.6h0M400.1 338.5h0M422.7 344.4h0M420.3 399.8h0M397.2 367.6h0M403.5 343.2h0M414.2 379.7h0M362.1 326.0h0M411.3 399.0h0M394.2 396.4h0M350.0 320.2h0M404.2 401.6h0M412.2 370.4h0M378.8 342.1h0M389.3 362.0h0M429.2 330.1h0M423.7 384.5h0M350.4 336.6h0M410.3 390.2h0M430.6 384.6h0M423.3 365.2h0" stroke="#603A87" stroke-width="1.80" stroke-linecap="round" fill="none" /><path d="M380.9 338.2h0M404.7 316.4h0M403.9 362.3h0M397.2 377.9h0M392.2 361.3h0M389.5 378.2h0M432.3 338.7h0M428.1 357.6h0M419.6 364.3h0M395.4 355.8h0M386.6 355.4h0M415.2 365.5h0M401.9 359.5h0M392.5 389.7h0M424.8 373.5h0M404.0 354.5h0M382.8 378.3h0M404.5 371.6h0M362.7 327.7h0M412.1 358.8h0M348.6 331.3h0M413.9 355.8h0M409.3 344.1h0M378.6 341.9h0M335.5 333.1h0M405.7 388.9h0M415.5 333.1h0M403.4 326.7h0M420.6 365.5h0M400.4 385.2h0M340.5 321.0h0M381.2 345.2h0M423.0 352.4h0M390.4 352.9h0M383.2 366.8h0M397.3 372.3h0M387.3 390.3h0M401.8 339.4h0M412.0 360.0h0M398.4 347.1h0M430.1 358.0h0M379.1 353.0h0M393.2 363.0h0M351.1 342.4h0M350.0 330.2h0M427.0 395.5h0M388.4 388.1h0M336.6 327.6h0M379.7 348.6h0M404.3 329.5h0M403.1 314.3h0M386.4 378.3h0M406.7 383.7h0M341.0 329.1h0M411.1 384.5h0M337.5 331.4h0M400.2 400.3h0M413.6 325.4h0M389.7 349.8h0M341.1 334.2h0M414.8 318.2h0M407.0 376.8h0M398.4 362.6h0M419.9 402.4h0M411.2 345.4h0M357.4 320.8h0M418.6 367.7h0M410.7 333.2h0M416.1 335.0h0M342.6 322.6h0M392.9 374.8h0M395.0 400.1h0M403.9 374.5h0M409.0 377.8h0M397.7 357.2h0M426.1 364.4h0M359.5 321.5h0M387.7 327.4h0M396.4 360.1h0M402.9 371.2h0M347.5 338.4h0M400.2 393.4h0M348.4 336.0h0M385.0 365.6h0M403.1 373.8h0M420.1 384.7h0M393.0 338.2h0M410.4 385.7h0M423.1 362.6h0M415.3 365.8h0M386.4 349.6h0M396.6 362.2h0M419.9 394.3h0M419.5 393.9h0M408.8 366.0h0M414.7 386.9h0M414.6 390.0h0M397.1 401.1h0M381.6 387.7h0M436.1 374.2h0M421.1 327.0h0M394.6 363.8h0M417.4 337.5h0M408.2 403.0h0M342.8 335.3h0M340.6 320.9h0M342.1 329.0h0M413.9 397.6h0M339.0 333.9h0M422.7 341.7h0M409.1 371.9h0M412.2 395.5h0M384.0 334.7h0M389.2 349.7h0M381.3 378.0h0M390.6 372.9h0M409.7 338.3h0M434.3 375.7h0M344.3 338.9h0M344.1 318.5h0M381.6 336.9h0M404.6 390.8h0M413.3 337.7h0M389.3 336.7h0M380.9 377.6h0M416.5 371.1h0M417.2 334.9h0M345.7 323.1h0M380.4 370.7h0M434.7 372.2h0M377.6 355.0h0M385.9 379.1h0M338.5 335.6h0M399.7 332.2h0M411.0 335.2h0M341.4 336.8h0M389.7 397.6h0M405.8 343.6h0M351.5 318.0h0M392.3 367.2h0M395.6 325.2h0M410.2 396.1h0M381.5 361.3h0M406.7 327.0h0M399.5 354.7h0M408.8 349.4h0M391.8 382.8h0M416.7 321.6h0M421.3 319.0h0M416.7 394.7h0M404.1 346.7h0M362.2 323.5h0M394.7 378.8h0M394.9 357.3h0M358.7 321.8h0M414.4 362.5h0M414.8 364.7h0M415.9 330.1h0M390.3 361.2h0M394.2 371.4h0M397.5 340.1h0M342.1 339.9h0M346.8 325.1h0M420.6 394.6h0M415.5 325.9h0M381.6 382.7h0M431.3 327.2h0M402.5 400.9h0M417.1 374.8h0M406.3 389.3h0M415.3 382.4h0M429.6 396.8h0M403.1 394.6h0M397.1 358.4h0M420.3 366.3h0M353.5 314.3h0M413.4 386.4h0M414.9 383.5h0M353.2 342.1h0M405.6 384.3h0M426.2 342.3h0M385.9 342.2h0M403.2 385.4h0M404.3 404.6h0M369.3 375.6h0M422.2 367.3h0M408.0 354.3h0M390.3 331.4h0M409.2 315.1h0M380.1 358.7h0M421.3 394.5h0M389.2 358.0h0M403.5 350.5h0M418.2 396.9h0M409.7 312.2h0M422.2 380.3h0M421.8 373.1h0M424.7 360.9h0M356.4 320.4h0M419.5 404.1h0M429.8 395.7h0M427.7 337.7h0M402.7 331.4h0M402.9 373.7h0M393.7 387.1h0M401.5 322.8h0M398.6 358.4h0M406.0 322.8h0M424.6 381.1h0M354.0 316.3h0M399.3 348.1h0M436.0 373.3h0M351.7 315.7h0M426.1 397.5h0M423.3 343.5h0M431.0 338.0h0M405.3 372.2h0M412.9 396.4h0M425.7 395.7h0M432.6 377.4h0M429.5 389.3h0M381.3 384.2h0M413.0 348.9h0M435.3 351.0h0M424.1 373.2h0M402.3 383.9h0M428.3 359.1h0M385.9 339.8h0M350.7 342.7h0M413.7 385.0h0M409.7 319.1h0M395.8 335.4h0M384.5 373.9h0M403.3 347.8h0M385.6 392.4h0M334.8 333.8h0M424.7 322.2h0M424.0 379.5h0M413.3 350.9h0M388.1 392.6h0M426.2 398.9h0M431.7 368.0h0M344.2 331.0h0M415.5 399.1h0M415.6 314.3h0M428.4 341.6h0M423.1 357.2h0M391.6 359.0h0M357.5 316.8h0M391.4 366.8h0M397.2 330.1h0M422.1 381.7h0M353.8 313.8h0M341.3 319.9h0M395.9 358.2h0M371.9 347.6h0M404.4 348.5h0M419.6 316.0h0M430.3 343.2h0M407.2 316.4h0M398.7 321.9h0M400.3 377.2h0M414.7 384.5h0M405.5 340.1h0M410.7 377.6h0M413.9 393.7h0M385.8 355.5h0M415.3 336.4h0M334.4 339.0h0M416.6 315.7h0M436.5 378.1h0M402.4 341.6h0M426.9 357.6h0M404.1 402.5h0M381.4 353.7h0M397.0 378.2h0M413.1 332.6h0M437.4 352.0h0M432.3 340.9h0M398.7 402.3h0M358.0 319.9h0M407.1 400.3h0M403.5 371.9h0M402.7 404.7h0M396.1 342.9h0M343.2 324.2h0M429.9 358.7h0M422.4 383.8h0M390.9 374.5h0M385.4 349.3h0M407.7 387.3h0M393.7 370.3h0M389.2 383.1h0M418.4 329.8h0M417.9 390.8h0M413.9 310.6h0M392.2 362.7h0M349.0 318.8h0M398.9 360.9h0M402.2 356.9h0M349.0 324.2h0M407.6 331.2h0M413.4 314.2h0M411.7 334.6h0M411.6 331.4h0M428.9 357.8h0M433.6 391.8h0M387.3 385.9h0M380.7 363.3h0M432.1 381.0h0M387.8 362.5h0M392.0 390.9h0M416.6 315.9h0M346.8 316.3h0M412.5 393.9h0M426.6 335.6h0M386.9 375.7h0M337.4 325.8h0M388.5 377.7h0M413.9 313.5h0M409.5 389.7h0M408.4 393.8h0M346.6 318.8h0M416.3 378.2h0M418.8 364.4h0M397.5 398.9h0M396.4 357.2h0M388.6 370.5h0M429.2 390.6h0M425.5 387.6h0M409.2 343.8h0M352.5 315.5h0M352.7 314.0h0M386.5 351.1h0M415.3 363.0h0M341.8 338.0h0M354.4 314.0h0M415.4 374.7h0M403.0 371.1h0M413.3 359.9h0M392.8 394.6h0M337.0 329.9h0M400.5 388.4h0M407.0 337.2h0M397.8 384.0h0M409.3 356.3h0M383.9 336.1h0M336.6 333.6h0M394.3 388.3h0M426.0 360.2h0M380.7 342.7h0M387.2 368.9h0M425.4 347.9h0M354.4 343.0h0M407.7 361.6h0M404.6 329.2h0M429.5 334.9h0M408.1 391.5h0M422.2 395.2h0M356.0 315.4h0M385.4 352.6h0M337.9 331.8h0M395.0 341.4h0M395.7 397.3h0M362.1 326.5h0M430.4 386.9h0M406.5 372.2h0M354.0 341.5h0M351.2 332.3h0M407.7 404.3h0M348.5 314.7h0M419.3 319.9h0M427.4 333.0h0M384.9 351.0h0M349.9 338.3h0M424.3 368.5h0M412.6 390.8h0M402.0 377.1h0M400.6 359.7h0M405.9 325.8h0M426.3 363.4h0M408.6 391.6h0M416.5 368.0h0M404.4 314.8h0M362.6 345.0h0M341.5 323.8h0M358.2 315.5h0M396.0 377.3h0M426.9 324.9h0M337.7 331.5h0M336.2 337.4h0M361.3 325.6h0M387.6 384.9h0M430.4 331.4h0M380.5 358.2h0M406.3 341.2h0M339.8 323.6h0M415.6 357.4h0M350.3 339.2h0M434.1 392.1h0M346.0 329.5h0M424.5 378.0h0M421.5 387.7h0M392.3 376.9h0M398.1 364.2h0M348.6 337.5h0M391.5 336.0h0M422.5 347.3h0M393.5 379.8h0" stroke="#714B82" stroke-width="1.80" stroke-linecap="round" fill="none" /><path d="M415.7 402.9h0M418.8 343.3h0M397.9 377.2h0M392.4 381.4h0M390.9 366.8h0M341.1 322.9h0M392.1 375.7h0M337.2 335.4h0M358.2 317.6h0M423.9 372.9h0M389.1 389.5h0M390.7 391.2h0M350.8 332.1h0M418.5 357.9h0M351.7 314.9h0M436.8 333.2h0M394.0 353.2h0M339.2 325.6h0M393.1 352.6h0M389.6 377.1h0M431.3 342.2h0M427.5 386.7h0M381.5 377.0h0M437.5 385.7h0M405.4 379.1h0M341.8 322.9h0M385.5 392.7h0M392.9 392.4h0M406.1 330.1h0M395.5 368.0h0M393.5 367.2h0M409.8 402.6h0M428.8 334.3h0M384.0 338.1h0M334.7 334.3h0M413.6 352.8h0M345.1 331.9h0M397.6 374.4h0M395.8 340.2h0M401.3 328.3h0M413.4 399.9h0M412.7 315.6h0M348.8 319.6h0M435.4 352.9h0M411.0 371.0h0M347.0 333.5h0M430.6 357.0h0M411.1 331.3h0M394.0 380.3h0M405.9 388.4h0M397.2 378.4h0M420.0 363.7h0M416.7 372.9h0M377.6 348.1h0M392.4 344.2h0M427.6 411.7h0M352.8 314.2h0M423.2 331.7h0M420.7 384.8h0M409.3 328.9h0M404.9 395.4h0M413.8 368.7h0M388.7 377.9h0M409.2 383.3h0M428.6 331.1h0M392.8 336.0h0M379.5 383.5h0M424.3 387.5h0M390.8 346.2h0M399.3 339.6h0M342.6 325.6h0M401.0 373.5h0M387.4 387.0h0M435.0 388.4h0M400.0 345.0h0M418.4 335.0h0M402.9 400.1h0M350.5 332.8h0M392.3 372.6h0M402.1 352.6h0M426.7 366.0h0M429.0 390.0h0M416.6 385.8h0M384.3 378.9h0M414.0 325.0h0M361.9 326.0h0M384.4 343.7h0M427.1 385.6h0M382.1 381.7h0M427.0 374.5h0M425.1 381.9h0M398.7 328.9h0M426.0 413.9h0M397.0 382.4h0M402.0 399.0h0M403.2 381.0h0M334.4 329.8h0M351.3 319.1h0M389.2 374.5h0M417.6 318.4h0M409.6 371.7h0M415.7 402.5h0M430.1 395.4h0M428.1 384.6h0M395.2 361.0h0M358.4 320.5h0M401.0 394.5h0M402.9 330.2h0M422.8 372.3h0M334.4 334.0h0M429.6 355.1h0M408.2 388.8h0M420.7 404.7h0M338.9 335.6h0M394.8 361.4h0M396.7 365.5h0M379.9 384.5h0M407.2 401.2h0M377.6 349.0h0M387.0 372.4h0M394.6 358.1h0M405.9 337.5h0M385.4 343.7h0M392.7 383.4h0M336.9 323.6h0M430.8 378.6h0M342.9 325.4h0M381.1 358.8h0M394.5 387.2h0M371.3 343.5h0M409.6 357.6h0M431.3 379.6h0M404.3 346.6h0M401.2 386.5h0M377.1 347.3h0M393.0 360.0h0M386.6 395.1h0M343.0 337.1h0M413.5 367.7h0M398.6 391.9h0M420.3 356.4h0M398.0 327.4h0M399.3 397.4h0M398.0 374.8h0M409.5 324.6h0M400.4 313.5h0M401.4 317.6h0M397.7 324.0h0M407.5 404.4h0M393.2 328.3h0M396.5 357.6h0M401.0 391.9h0M335.5 336.7h0M337.1 331.9h0M394.0 364.1h0M374.1 357.3h0M424.3 394.2h0M362.3 342.7h0M423.6 400.6h0M428.4 394.4h0M417.6 357.9h0M399.7 371.7h0M378.1 376.6h0M396.8 317.6h0M402.0 396.8h0M400.6 391.5h0M343.7 316.6h0M397.6 337.1h0M428.5 366.2h0M403.5 358.2h0M427.7 368.5h0M397.5 362.5h0M411.2 364.0h0M417.2 346.2h0M426.8 414.3h0M336.0 327.8h0M434.7 372.6h0M409.9 312.0h0M418.8 354.7h0M404.1 358.6h0M416.7 398.1h0M386.0 341.5h0M398.6 361.5h0M402.5 366.1h0M351.2 337.0h0M406.1 334.6h0M404.6 390.9h0M418.6 391.1h0M421.6 351.9h0M414.0 396.3h0M407.7 403.3h0M359.1 317.8h0M409.7 361.5h0M406.7 365.1h0M419.0 317.6h0M392.3 375.5h0M406.8 319.0h0M349.4 330.3h0M352.8 337.7h0M345.1 321.7h0M425.7 401.7h0M398.9 357.9h0M346.5 329.9h0M343.7 337.4h0M386.9 390.8h0M385.6 377.4h0M409.8 406.6h0M338.9 325.5h0M431.9 390.1h0M386.8 372.5h0M392.2 350.2h0M379.6 374.9h0M385.6 372.5h0M422.1 333.1h0M382.5 344.1h0M397.1 382.4h0M389.6 386.8h0M394.5 343.9h0M359.6 318.6h0M381.8 376.4h0M346.0 330.7h0M413.6 326.9h0M385.1 375.3h0M409.7 329.0h0M386.6 334.0h0M426.3 384.4h0M427.8 393.8h0M340.8 328.1h0M425.3 399.4h0M424.6 342.0h0M352.6 312.6h0M393.2 376.4h0M409.3 339.3h0M418.5 373.5h0M424.5 361.8h0M391.7 355.3h0M346.2 332.6h0M390.8 388.1h0M420.8 361.9h0M410.4 366.3h0M379.2 346.3h0M396.1 383.4h0M392.8 354.4h0M407.7 353.1h0M390.3 395.2h0M401.9 381.1h0M405.1 362.4h0M406.3 312.5h0M422.7 355.3h0M380.5 376.5h0M408.9 329.2h0M404.7 335.1h0M388.0 371.0h0M382.5 366.8h0M399.4 388.8h0M434.0 376.0h0M379.9 354.5h0M424.0 363.2h0M419.5 367.5h0M401.2 335.5h0M365.5 344.0h0M338.7 326.5h0M386.2 389.2h0M415.1 402.7h0M414.6 401.5h0M341.0 338.1h0M345.0 329.2h0M415.2 367.0h0M411.0 343.0h0M358.0 319.5h0M400.1 388.4h0M412.7 370.5h0M414.5 368.5h0M421.9 334.2h0M404.2 371.5h0M412.4 316.2h0M427.3 341.8h0M410.1 382.3h0M429.3 352.9h0M417.7 390.3h0M384.7 389.0h0" stroke="#835D7E" stroke-width="1.80" stroke-linecap="round" fill="none" /><path d="M344.4 331.5h0M418.8 319.8h0M399.1 330.7h0M343.8 336.2h0M337.8 327.7h0M381.1 371.9h0M392.1 371.8h0M342.7 337.9h0M370.1 374.7h0M431.1 377.0h0M403.1 328.5h0M386.0 341.9h0M417.4 376.1h0M381.9 378.7h0M380.9 376.2h0M370.5 366.8h0M399.7 387.6h0M381.6 380.1h0M435.4 387.8h0M379.6 355.4h0M393.1 343.4h0M406.3 345.7h0M370.0 372.6h0M341.5 329.4h0M348.8 335.0h0M411.3 406.6h0M384.8 375.2h0M419.5 381.3h0M411.9 354.1h0M397.2 380.2h0M420.1 367.9h0M424.6 380.5h0M405.5 336.7h0M405.8 353.4h0M404.7 378.4h0M390.2 342.1h0M400.2 326.6h0M346.6 329.1h0M389.5 366.9h0M380.2 360.5h0M369.3 372.5h0M396.0 373.3h0M353.9 342.4h0M339.3 326.7h0M400.0 347.7h0M379.9 380.2h0M399.7 390.6h0M396.7 375.9h0M374.9 343.6h0M416.2 393.8h0M399.0 366.5h0M408.6 396.8h0M347.0 325.3h0M417.8 383.6h0M338.9 335.1h0M381.0 364.8h0M386.9 363.6h0M416.9 323.3h0M389.6 374.6h0M390.0 395.9h0M378.3 354.6h0M410.9 372.7h0M417.7 378.4h0M375.0 376.8h0M419.5 361.4h0M346.9 329.8h0M382.0 366.1h0M391.1 394.3h0M409.4 394.8h0M392.2 376.5h0M416.2 357.7h0M400.0 388.7h0M392.2 395.6h0M429.0 342.0h0M396.7 333.0h0M391.9 385.0h0M387.1 370.7h0M389.8 359.8h0M406.8 317.1h0M354.2 318.9h0M381.5 337.4h0M407.1 390.5h0M394.5 376.8h0M384.3 349.4h0M380.7 341.0h0M340.8 336.3h0M397.8 345.6h0M342.4 319.4h0M389.7 349.1h0M403.7 314.2h0M344.5 319.3h0M344.4 333.9h0M431.5 368.1h0M417.3 335.2h0M414.9 406.3h0M396.8 399.2h0M397.8 322.5h0M401.4 393.3h0M346.8 317.3h0M424.3 376.1h0M382.1 346.8h0M411.1 391.1h0M378.5 361.7h0M390.2 379.8h0M412.3 389.1h0M408.1 347.9h0M396.6 401.2h0M381.0 372.4h0M394.5 383.5h0M378.9 361.8h0M434.2 378.6h0M426.6 363.5h0M408.6 381.2h0M381.2 353.7h0M352.2 342.8h0M435.7 351.9h0M391.6 386.4h0M381.1 381.8h0M399.2 394.1h0M344.8 326.6h0M419.1 384.5h0M393.8 334.8h0M406.5 392.0h0M432.0 394.9h0M349.7 335.0h0M382.2 374.0h0M388.8 383.5h0M379.4 371.3h0M337.6 335.4h0M402.7 333.7h0M376.7 347.4h0M378.6 382.5h0M413.6 387.1h0M395.2 364.7h0M338.3 323.7h0M401.7 394.8h0M406.0 314.0h0M336.9 324.6h0M402.4 384.4h0M405.1 380.9h0M369.1 341.2h0M401.9 312.9h0M386.9 379.7h0M389.1 379.0h0M396.2 342.8h0M398.6 381.3h0M401.0 328.6h0M393.2 339.7h0M403.7 330.1h0M376.7 379.2h0M425.8 345.7h0M405.6 372.5h0M379.1 370.2h0" stroke="#956F75" stroke-width="1.80" stroke-linecap="round" fill="none" /><path d="M341.9 337.5h0M378.0 378.1h0M423.9 393.9h0M369.8 370.9h0M393.7 369.0h0M392.1 379.6h0M369.4 346.4h0M403.7 390.0h0M372.6 346.0h0M377.7 351.6h0M375.0 373.8h0M379.9 363.7h0M336.2 335.2h0M397.0 370.5h0M409.6 363.2h0M407.4 348.4h0M374.1 352.3h0M376.3 357.0h0M429.1 370.4h0M385.7 370.5h0M345.5 318.3h0M343.0 326.2h0M388.1 385.8h0M344.7 325.4h0M335.9 334.2h0M398.2 366.5h0M343.4 330.2h0M378.6 358.9h0M401.2 397.9h0M404.7 353.9h0M401.9 333.0h0M393.5 364.0h0M386.7 378.2h0M353.1 316.7h0M425.4 369.8h0M418.7 349.9h0M426.4 391.6h0M429.9 354.1h0M372.5 345.9h0M377.9 382.6h0M380.9 354.4h0M421.7 405.4h0M401.8 356.6h0M404.8 372.3h0M396.1 384.9h0M386.5 394.1h0M403.9 360.5h0M399.6 358.2h0M376.3 361.6h0M389.2 382.7h0M402.4 323.6h0M410.0 378.5h0M377.9 379.9h0M377.5 379.8h0M380.6 357.9h0M391.2 349.0h0M375.1 349.1h0M341.7 330.3h0M379.3 385.5h0M376.9 375.2h0M396.6 362.9h0M394.2 393.3h0M377.8 363.7h0M337.4 326.4h0M346.7 333.9h0M372.3 372.8h0M364.5 359.2h0M401.8 377.3h0" stroke="#A88368" stroke-width="1.80" stroke-linecap="round" fill="none" /><path d="M374.8 345.2h0M340.3 320.1h0M396.0 381.6h0M389.4 370.7h0M432.3 371.5h0M376.6 360.0h0M415.0 383.4h0M376.2 344.3h0M376.1 354.8h0M377.0 381.0h0M407.6 371.9h0M376.4 340.9h0M376.0 356.6h0M373.0 353.9h0M381.4 376.0h0M378.1 369.2h0M372.1 380.1h0M399.6 376.3h0M375.5 353.7h0M376.1 359.7h0M379.0 367.3h0M407.7 345.5h0M400.8 325.3h0M387.4 377.9h0M376.0 358.7h0M398.5 386.5h0M377.8 378.8h0M397.7 369.7h0M374.9 380.7h0" stroke="#BA965A" stroke-width="1.80" stroke-linecap="round" fill="none" /><path d="M379.2 363.7h0M376.0 371.7h0M376.7 360.1h0M373.1 356.7h0M375.1 375.8h0M376.2 367.6h0M375.1 370.4h0M375.1 371.0h0M377.2 368.8h0M374.1 380.2h0M378.6 376.8h0M378.3 373.9h0M376.9 365.0h0M377.2 364.8h0M401.9 388.4h0M377.9 365.6h0M409.8 360.4h0" stroke="#CCAB4D" stroke-width="1.80" stroke-linecap="round" fill="none" /><path d="M375.5 372.2h0M375.8 371.1h0M374.0 368.6h0M378.1 374.3h0M377.0 362.3h0M375.0 377.7h0M374.0 369.0h0M375.7 359.1h0M372.7 375.3h0" stroke="#DCC240" stroke-width="1.80" stroke-linecap="round" fill="none" /><path d="M374.4 368.9h0M374.6 368.3h0M376.1 367.9h0M374.1 361.3h0M373.7 354.8h0M374.1 353.7h0M374.2 369.9h0M374.3 356.0h0M374.4 356.7h0M373.5 371.7h0" stroke="#ECD832" stroke-width="1.80" stroke-linecap="round" fill="none" /><line x1="328.0" y1="422.6" x2="328.0" y2="400.5" stroke="#000" stroke-width="0.60" /><line x1="327.7" y1="422.3" x2="350.7" y2="422.3" stroke="#000" stroke-width="0.60" /><polygon points="328.0,398.5 326.7,401.5 329.3,401.5"/><polygon points="352.7,422.3 349.7,421.0 349.7,423.6"/><text x="330.5" y="426.8" font-size="3.90" text-anchor="start" font-weight="bold" fill="#222"  stroke="#222" stroke-width="0.09">UMAP1</text><text transform="translate(326.2,420.3) rotate(-90)" font-size="3.90" text-anchor="start" font-weight="bold" fill="#222" stroke="#222" stroke-width="0.09">UMAP2</text><defs><linearGradient id="ge" x1="0" y1="0" x2="0" y2="1"><stop offset="0" stop-color="#F8EC28"/><stop offset="0.3" stop-color="#D0AC4C"/><stop offset="0.55" stop-color="#946C74"/><stop offset="0.8" stop-color="#583088"/><stop offset="1" stop-color="#2A108C"/></linearGradient></defs><rect x="451.4" y="345.7" width="6.7" height="36.7" fill="url(#ge)" /><text x="460.3" y="350.4" font-size="3.20" text-anchor="start" font-weight="normal" fill="#222"  stroke="#222" stroke-width="0.08">1.5</text><text x="460.3" y="358.1" font-size="3.20" text-anchor="start" font-weight="normal" fill="#222"  stroke="#222" stroke-width="0.08">1.0</text><text x="460.3" y="365.7" font-size="3.20" text-anchor="start" font-weight="normal" fill="#222"  stroke="#222" stroke-width="0.08">0.5</text><text x="460.3" y="373.2" font-size="3.20" text-anchor="start" font-weight="normal" fill="#222"  stroke="#222" stroke-width="0.08">0.0</text><text x="460.3" y="380.7" font-size="3.20" text-anchor="start" font-weight="normal" fill="#222"  stroke="#222" stroke-width="0.08">-0.5</text><text x="492.6" y="304.6" font-size="7.70" text-anchor="start" font-weight="normal" fill="#111"  stroke="#111" stroke-width="0.18">Exhaustion Score</text><line x1="489.6" y1="306.3" x2="489.6" y2="418.2" stroke="#333" stroke-width="0.60" /><line x1="489.4" y1="418.0" x2="620.1" y2="418.0" stroke="#333" stroke-width="0.60" /><line x1="488.3" y1="340.2" x2="489.6" y2="340.2" stroke="#333" stroke-width="0.40" /><text x="487.1" y="341.5" font-size="3.80" text-anchor="end" font-weight="normal" fill="#222"  stroke="#222" stroke-width="0.09">1</text><line x1="488.3" y1="383.6" x2="489.6" y2="383.6" stroke="#333" stroke-width="0.40" /><text x="487.1" y="384.9" font-size="3.80" text-anchor="end" font-weight="normal" fill="#222"  stroke="#222" stroke-width="0.09">0</text><line x1="507.7" y1="321.4" x2="507.7" y2="407.5" stroke="#111" stroke-width="0.90" /><rect x="504.4" y="352.3" width="6.6" height="33.1" fill="#E69F00" stroke="#111" stroke-width="0.9"/><line x1="504.4" y1="364.8" x2="511.0" y2="364.8" stroke="#111" stroke-width="1.50" /><line x1="539.4" y1="311.3" x2="539.4" y2="408.5" stroke="#111" stroke-width="0.90" /><rect x="536.1" y="352.3" width="6.6" height="40.1" fill="#56B4E9" stroke="#111" stroke-width="0.9"/><line x1="536.1" y1="371.1" x2="542.7" y2="371.1" stroke="#111" stroke-width="1.50" /><line x1="570.4" y1="341.5" x2="570.4" y2="413.0" stroke="#111" stroke-width="0.90" /><rect x="567.1" y="372.1" width="6.6" height="20.8" fill="#009E73" stroke="#111" stroke-width="0.9"/><line x1="567.1" y1="382.9" x2="573.7" y2="382.9" stroke="#111" stroke-width="1.50" /><line x1="601.6" y1="349.0" x2="601.6" y2="410.5" stroke="#111" stroke-width="0.90" /><rect x="598.3" y="375.4" width="6.6" height="18.8" fill="#F0E442" stroke="#111" stroke-width="0.9"/><line x1="598.3" y1="385.7" x2="604.9" y2="385.7" stroke="#111" stroke-width="1.50" /><path d="M570.4 327.7h0M570.4 328.8h0M570.4 330.0h0M570.4 331.1h0M570.4 332.3h0M570.4 333.4h0M570.4 334.6h0M570.4 335.8h0M570.4 336.9h0M570.4 338.1h0M570.4 339.2h0M570.4 340.3h0M570.4 322.9h0" stroke="#111" stroke-width="1.90" stroke-linecap="round" fill="none" /><path d="M601.6 339.0h0M601.6 340.1h0M601.6 341.2h0M601.6 342.3h0M601.6 343.4h0M601.6 344.5h0M601.6 345.6h0M601.6 346.7h0M601.6 347.8h0M601.6 330.9h0M601.6 322.9h0M601.6 318.9h0" stroke="#111" stroke-width="1.90" stroke-linecap="round" fill="none" /><line x1="507.7" y1="418.0" x2="507.7" y2="419.3" stroke="#333" stroke-width="0.40" /><text transform="translate(512.4,422.7) rotate(-45)" font-size="5.10" text-anchor="end" font-weight="normal" fill="#444" stroke="#444" stroke-width="0.12">PBS+diluent</text><line x1="539.4" y1="418.0" x2="539.4" y2="419.3" stroke="#333" stroke-width="0.40" /><text transform="translate(544.1,422.7) rotate(-45)" font-size="5.10" text-anchor="end" font-weight="normal" fill="#444" stroke="#444" stroke-width="0.12">PBS+IL7</text><line x1="570.4" y1="418.0" x2="570.4" y2="419.3" stroke="#333" stroke-width="0.40" /><text transform="translate(575.1,422.7) rotate(-45)" font-size="5.10" text-anchor="end" font-weight="normal" fill="#444" stroke="#444" stroke-width="0.12">ZIKV+diluent</text><line x1="601.6" y1="418.0" x2="601.6" y2="419.3" stroke="#333" stroke-width="0.40" /><text transform="translate(606.3,422.7) rotate(-45)" font-size="5.10" text-anchor="end" font-weight="normal" fill="#444" stroke="#444" stroke-width="0.12">ZIKV+IL7</text></g>
<g id="pF"><text x="0.5" y="444.4" font-size="9.90" text-anchor="start" font-weight="bold" fill="#000"  stroke="#000" stroke-width="0.24">F</text><text x="22.3" y="452.8" font-size="9.2" fill="#111" stroke="#111" stroke-width="0.2">CD8<tspan font-size="5.4" dy="-3">+</tspan></text><polygon points="88.6,454.8 93.0,452.2 103.8,452.9 108.6,457.6 114.9,463.2 118.9,466.4 124.3,471.1 129.1,475.8 128.3,480.6 125.2,483.7 122.0,485.6 118.9,487.6 122.7,489.1 126.8,490.7 127.5,493.2 123.6,494.8 120.5,496.3 122.0,499.5 125.2,504.2 126.8,507.4 126.2,510.5 128.3,515.3 129.1,520.0 127.5,526.3 124.3,530.1 122.0,534.2 118.9,537.3 115.7,541.2 114.9,543.6 118.9,546.8 122.7,548.4 122.0,552.2 118.9,553.1 114.9,549.1 111.7,545.2 102.6,545.0 92.1,542.4 82.4,538.9 74.6,533.6 69.3,526.6 65.8,521.4 58.8,517.9 56.2,512.6 57.9,507.4 62.3,504.7 63.2,501.2 54.4,501.2 52.7,498.6 55.3,496.9 61.4,496.0 60.2,491.6 57.0,488.1 50.0,485.5 49.2,483.2 52.7,482.0 62.3,482.5 67.6,480.2 72.8,474.1 76.3,467.1 82.4,460.9 86.8,459.2" fill="#E6E6E6" /><path d="M91.3 452.3h0M92.6 451.2h0M92.1 452.5h0M100.2 452.5h0M98.1 453.1h0M99.5 452.6h0M96.7 452.0h0M104.7 453.4h0M106.8 455.8h0M108.0 457.3h0M115.0 462.8h0M113.9 462.8h0M110.6 458.5h0M115.0 462.8h0M116.5 464.6h0M114.9 464.1h0M118.7 466.0h0M120.8 467.3h0M119.8 468.0h0M124.7 471.4h0M127.9 474.6h0M127.6 475.3h0M129.3 476.0h0M128.7 481.1h0M125.8 483.3h0M126.4 481.6h0M124.8 483.0h0M123.7 485.7h0M121.4 486.4h0M118.5 488.4h0M120.8 488.8h0M119.8 488.0h0M125.8 490.2h0M123.6 489.2h0M127.1 492.4h0M123.8 494.6h0M127.4 493.2h0M122.2 495.3h0M122.3 498.4h0M124.9 503.5h0M122.7 499.8h0M126.9 505.6h0M125.7 510.6h0M127.4 514.0h0M127.4 512.8h0M129.7 519.8h0M128.6 517.8h0M128.8 520.7h0M128.7 521.4h0M127.5 523.6h0M126.2 527.3h0M126.0 527.4h0M124.3 531.1h0M123.6 532.5h0M121.0 534.5h0M118.9 536.0h0M117.3 538.0h0M115.7 541.3h0M114.5 542.0h0M118.1 546.6h0M116.1 543.2h0M120.4 546.8h0M122.1 548.7h0M122.1 550.2h0M122.4 550.1h0M120.1 552.9h0M116.9 551.0h0M116.0 550.2h0M113.4 547.4h0M114.3 548.8h0M110.5 545.3h0M107.7 544.7h0M109.6 545.2h0M107.9 545.6h0M101.6 544.3h0M102.0 544.8h0M96.5 544.2h0M92.7 542.0h0M93.7 542.5h0M90.2 541.5h0M83.5 538.9h0M88.7 541.2h0M90.4 541.8h0M80.6 537.4h0M79.2 537.1h0M80.6 537.3h0M75.4 533.5h0M73.8 531.8h0M71.8 532.0h0M71.9 530.8h0M73.5 532.4h0M68.5 524.2h0M68.9 526.5h0M66.1 521.4h0M64.8 521.7h0M63.3 520.0h0M60.6 518.6h0M58.5 516.8h0M57.2 515.4h0M56.6 509.9h0M57.4 508.6h0M58.0 507.0h0M61.7 505.0h0M62.4 502.3h0M62.5 501.8h0M54.8 501.6h0M55.9 501.6h0M56.8 501.6h0M56.7 501.4h0M53.3 499.0h0M53.4 497.6h0M57.7 497.1h0M60.6 496.3h0M60.5 495.4h0M61.2 494.5h0M60.2 491.5h0M57.7 489.4h0M57.1 488.0h0M55.2 487.2h0M52.5 486.6h0M52.9 486.5h0M49.9 484.7h0M51.1 481.5h0M49.2 483.2h0M57.3 482.4h0M57.0 482.4h0M53.7 481.6h0M60.8 482.2h0M63.3 481.8h0M66.0 480.8h0M68.2 479.4h0M68.3 478.4h0M67.9 479.5h0M72.9 473.0h0M75.4 468.0h0M76.4 468.6h0M77.4 467.7h0M80.5 463.1h0M81.8 460.3h0M76.8 465.9h0M83.1 461.1h0M83.8 460.5h0M87.7 454.8h0M87.9 456.8h0" stroke="#E6E6E6" stroke-width="2.50" stroke-linecap="round" fill="none" /><polygon points="22.4,479.5 22.9,474.7 24.2,469.9 26.4,465.5 29.9,461.6 34.3,458.9 39.5,457.2 43.0,455.0 45.6,455.4 48.7,458.1 50.0,462.4 51.8,465.9 53.5,468.1 54.8,471.6 54.4,473.4 52.7,472.9 50.0,469.9 47.8,468.1 45.2,466.8 43.9,463.3 42.1,460.7 40.4,462.4 39.1,465.9 37.8,468.1 38.2,470.8 40.4,472.5 41.3,475.6 40.4,478.2 43.0,479.5 45.2,481.3 45.2,483.9 43.0,484.3 40.4,484.8 37.8,483.0 34.3,481.3 30.8,481.7 26.4,482.1 23.8,481.7" fill="#E6E6E6" /><path d="M22.0 476.3h0M22.7 477.7h0M24.2 474.0h0M23.5 472.4h0M25.8 467.4h0M24.9 468.1h0M27.2 465.3h0M27.9 463.8h0M30.9 461.2h0M31.2 461.4h0M34.9 458.7h0M38.9 456.6h0M41.4 456.1h0M41.7 456.4h0M45.1 455.6h0M45.7 455.7h0M47.3 456.4h0M48.7 459.5h0M49.6 461.0h0M49.9 462.2h0M49.9 465.3h0M52.6 466.3h0M54.7 469.7h0M54.4 471.5h0M55.8 472.3h0M53.7 473.1h0M52.5 472.4h0M52.5 473.3h0M49.5 469.4h0M45.5 467.4h0M44.5 465.4h0M45.3 466.1h0M41.5 460.3h0M42.4 461.1h0M39.3 463.9h0M39.4 463.5h0M37.8 466.9h0M38.2 469.0h0M38.5 470.0h0M40.8 473.6h0M41.5 476.5h0M41.9 479.1h0M44.9 480.8h0M45.1 482.2h0M44.0 484.8h0M42.1 484.1h0M37.9 483.2h0M34.2 480.6h0M35.1 481.4h0M31.2 481.8h0M30.7 482.1h0M27.8 482.2h0M24.3 481.8h0M24.0 481.9h0" stroke="#E6E6E6" stroke-width="2.50" stroke-linecap="round" fill="none" /><path d="M105.9 477.7h0M64.7 505.9h0M68.2 501.6h0M34.6 472.6h0M96.6 515.9h0M114.8 494.8h0M99.9 465.8h0M114.1 502.6h0M109.2 497.5h0M118.6 478.1h0M115.2 488.3h0M79.4 508.4h0M33.5 479.7h0M66.5 494.8h0M105.7 468.1h0M95.5 506.9h0M67.8 503.8h0M115.7 473.7h0M61.3 499.4h0M110.9 494.0h0M104.4 537.9h0M104.0 490.9h0M98.6 504.9h0M105.5 498.1h0M99.1 501.1h0M97.4 512.4h0M114.1 477.2h0M124.5 525.2h0M115.0 479.2h0M116.8 497.6h0M66.6 498.3h0M70.7 496.5h0M106.6 522.6h0M33.1 468.6h0M113.8 496.5h0M112.4 475.0h0M102.3 502.2h0M75.7 481.8h0M73.0 492.8h0M114.2 519.4h0" stroke="#E69F00" stroke-width="2.60" stroke-linecap="round" fill="none" /><path d="M66.7 491.7h0M65.8 502.0h0M81.2 477.5h0M65.1 494.0h0M66.8 490.4h0M32.7 475.7h0M67.7 498.6h0M30.0 470.7h0M79.9 535.1h0M68.9 503.7h0M64.3 494.1h0M96.3 512.9h0M100.6 510.3h0M84.2 512.8h0M70.1 503.1h0M68.8 494.2h0M66.1 484.3h0M61.5 489.3h0" stroke="#F0E442" stroke-width="2.60" stroke-linecap="round" fill="none" /><path d="M94.9 525.1h0M65.0 507.8h0M64.9 497.6h0M37.4 476.1h0M119.1 480.4h0M66.3 508.9h0M65.5 492.7h0M85.5 514.2h0M69.0 491.8h0M65.5 502.4h0M33.0 462.4h0M100.3 513.8h0M79.8 465.3h0M69.7 491.3h0M68.1 509.0h0M116.9 524.1h0M113.3 485.4h0M104.2 521.5h0" stroke="#56B4E9" stroke-width="2.60" stroke-linecap="round" fill="none" /><path d="M109.9 525.7h0M98.8 523.5h0M47.7 460.0h0M66.6 498.9h0M37.3 477.9h0M33.1 473.0h0" stroke="#009E73" stroke-width="2.60" stroke-linecap="round" fill="none" /><path d="M64.4 491.8h0M72.5 479.0h0M116.4 500.9h0M110.3 493.8h0M71.1 490.8h0M97.9 512.7h0M100.4 490.6h0M108.7 484.1h0M35.5 472.3h0M109.8 458.3h0M122.5 507.8h0M118.5 473.3h0M63.2 496.5h0M114.1 521.6h0M64.0 490.8h0M69.5 496.6h0M116.5 515.7h0M47.3 460.7h0M114.0 509.4h0M32.9 464.9h0M74.0 482.3h0M114.7 530.6h0M116.8 472.1h0M116.1 477.9h0M97.3 482.0h0M103.0 459.9h0M61.7 511.9h0M107.5 513.8h0M118.5 489.4h0M117.7 527.4h0M123.8 515.3h0M97.5 515.0h0M101.8 505.4h0M67.4 505.3h0M102.1 505.1h0M66.4 488.6h0M66.5 505.9h0M118.3 518.6h0M114.7 518.8h0M36.6 470.9h0M120.4 492.3h0" stroke="#E69F00" stroke-width="2.60" stroke-linecap="round" fill="none" /><path d="M64.5 490.3h0M66.4 501.0h0M76.6 504.1h0M58.8 487.3h0M95.4 517.8h0M96.0 506.0h0M103.2 517.9h0M68.8 496.4h0M96.1 507.7h0M35.2 470.7h0M68.4 493.1h0M69.3 499.7h0M73.2 483.3h0M62.2 500.2h0M68.0 500.0h0M82.8 508.0h0M98.7 506.7h0M73.5 474.6h0" stroke="#F0E442" stroke-width="2.60" stroke-linecap="round" fill="none" /><path d="M95.2 510.1h0M86.4 523.8h0M73.5 510.6h0M81.6 509.1h0M65.6 488.9h0M65.3 507.5h0M68.7 492.2h0M106.2 474.5h0M65.7 482.1h0M97.9 513.1h0M61.6 493.9h0M63.0 487.2h0M72.5 489.9h0M117.5 535.1h0M65.1 499.3h0M73.2 500.2h0M65.2 487.0h0M47.4 463.1h0" stroke="#56B4E9" stroke-width="2.60" stroke-linecap="round" fill="none" /><path d="M28.5 471.3h0M34.0 464.9h0M66.5 501.0h0M120.0 519.7h0M101.2 507.9h0M64.6 510.7h0" stroke="#009E73" stroke-width="2.60" stroke-linecap="round" fill="none" /><path d="M86.9 526.7h0M63.0 498.7h0M37.5 471.9h0M32.7 472.8h0M34.6 471.9h0M95.2 508.2h0M87.3 509.8h0M32.7 475.0h0M48.4 460.0h0M63.1 487.7h0M114.4 465.8h0M111.9 466.7h0M77.8 521.5h0M96.8 513.6h0M64.5 507.9h0M47.4 457.7h0M113.0 500.3h0M92.8 512.1h0M120.3 491.5h0M119.7 526.5h0M31.7 475.7h0M111.5 509.9h0M112.1 483.0h0M64.4 490.3h0M105.8 508.3h0M36.2 471.7h0M47.6 457.5h0M112.8 476.5h0M68.0 479.8h0M94.8 514.1h0M102.3 515.1h0M114.2 467.7h0M72.9 506.4h0M111.9 476.8h0M75.8 479.2h0M72.7 484.2h0M32.9 478.3h0M96.8 508.2h0M117.9 499.3h0" stroke="#E69F00" stroke-width="2.60" stroke-linecap="round" fill="none" /><path d="M69.9 508.9h0M47.4 460.9h0M34.6 474.8h0M73.9 495.2h0M113.0 470.4h0M101.5 516.7h0M65.5 491.4h0M102.7 512.8h0M35.9 466.5h0M36.2 478.1h0M65.0 489.3h0M31.3 472.4h0M81.9 506.0h0M88.0 517.7h0M63.1 502.9h0M61.5 512.1h0M100.1 505.9h0M65.5 499.0h0M74.7 485.4h0M58.4 482.9h0M90.6 514.8h0M91.7 509.1h0M65.1 499.0h0M68.8 498.2h0" stroke="#56B4E9" stroke-width="2.60" stroke-linecap="round" fill="none" /><path d="M89.8 528.1h0M88.5 527.5h0M46.8 457.5h0M66.2 496.1h0M70.9 501.2h0M67.1 510.0h0M32.4 469.4h0M106.0 472.3h0M99.4 519.7h0M68.2 498.7h0M111.2 475.4h0M63.4 488.8h0M61.9 483.0h0M61.0 485.9h0M77.6 477.6h0M33.1 462.0h0" stroke="#F0E442" stroke-width="2.60" stroke-linecap="round" fill="none" /><path d="M37.0 471.1h0M69.1 504.2h0M63.5 507.1h0M63.9 497.4h0" stroke="#009E73" stroke-width="2.60" stroke-linecap="round" fill="none" /><rect x="136.8" y="446.3" width="19.2" height="45.2" fill="#E69F00" /><rect x="136.8" y="491.5" width="19.2" height="29.4" fill="#56B4E9" /><rect x="136.8" y="520.9" width="19.2" height="9.1" fill="#009E73" /><rect x="136.8" y="529.9" width="19.2" height="23.7" fill="#F0E442" /><line x1="20.6" y1="557.3" x2="155.2" y2="557.3" stroke="#333" stroke-width="0.80" /><text x="90.4" y="566.2" font-size="6.40" text-anchor="middle" font-weight="normal" fill="#444"  stroke="#444" stroke-width="0.15">PBS+diluent</text><polygon points="237.2,454.8 241.6,452.2 252.4,452.9 257.2,457.6 263.5,463.2 267.5,466.4 272.9,471.1 277.7,475.8 276.9,480.6 273.8,483.7 270.6,485.6 267.5,487.6 271.3,489.1 275.4,490.7 276.1,493.2 272.2,494.8 269.1,496.3 270.6,499.5 273.8,504.2 275.4,507.4 274.8,510.5 276.9,515.3 277.7,520.0 276.1,526.3 272.9,530.1 270.6,534.2 267.5,537.3 264.3,541.2 263.5,543.6 267.5,546.8 271.3,548.4 270.6,552.2 267.5,553.1 263.5,549.1 260.3,545.2 251.2,545.0 240.7,542.4 231.0,538.9 223.2,533.6 217.9,526.6 214.4,521.4 207.4,517.9 204.8,512.6 206.5,507.4 210.9,504.7 211.8,501.2 203.0,501.2 201.3,498.6 203.9,496.9 210.0,496.0 208.8,491.6 205.6,488.1 198.6,485.5 197.8,483.2 201.3,482.0 210.9,482.5 216.2,480.2 221.4,474.1 224.9,467.1 231.0,460.9 235.4,459.2" fill="#E6E6E6" /><path d="M239.9 452.3h0M241.2 451.2h0M240.7 452.5h0M248.8 452.5h0M246.7 453.1h0M248.1 452.6h0M245.3 452.0h0M253.3 453.4h0M255.4 455.8h0M256.6 457.3h0M263.6 462.8h0M262.5 462.8h0M259.2 458.5h0M263.6 462.8h0M265.1 464.6h0M263.5 464.1h0M267.3 466.0h0M269.4 467.3h0M268.4 468.0h0M273.3 471.4h0M276.5 474.6h0M276.2 475.3h0M277.9 476.0h0M277.3 481.1h0M274.4 483.3h0M275.0 481.6h0M273.4 483.0h0M272.3 485.7h0M270.0 486.4h0M267.1 488.4h0M269.4 488.8h0M268.4 488.0h0M274.4 490.2h0M272.2 489.2h0M275.7 492.4h0M272.4 494.6h0M276.0 493.2h0M270.8 495.3h0M270.9 498.4h0M273.5 503.5h0M271.3 499.8h0M275.5 505.6h0M274.3 510.6h0M276.0 514.0h0M276.0 512.8h0M278.3 519.8h0M277.2 517.8h0M277.4 520.7h0M277.3 521.4h0M276.1 523.6h0M274.8 527.3h0M274.6 527.4h0M272.9 531.1h0M272.2 532.5h0M269.6 534.5h0M267.5 536.0h0M265.9 538.0h0M264.3 541.3h0M263.1 542.0h0M266.7 546.6h0M264.7 543.2h0M269.0 546.8h0M270.7 548.7h0M270.7 550.2h0M271.0 550.1h0M268.7 552.9h0M265.5 551.0h0M264.6 550.2h0M262.0 547.4h0M262.9 548.8h0M259.1 545.3h0M256.3 544.7h0M258.2 545.2h0M256.5 545.6h0M250.2 544.3h0M250.6 544.8h0M245.1 544.2h0M241.3 542.0h0M242.3 542.5h0M238.8 541.5h0M232.1 538.9h0M237.3 541.2h0M239.0 541.8h0M229.2 537.4h0M227.8 537.1h0M229.2 537.3h0M224.0 533.5h0M222.4 531.8h0M220.4 532.0h0M220.5 530.8h0M222.1 532.4h0M217.1 524.2h0M217.5 526.5h0M214.7 521.4h0M213.4 521.7h0M211.9 520.0h0M209.2 518.6h0M207.1 516.8h0M205.8 515.4h0M205.2 509.9h0M206.0 508.6h0M206.6 507.0h0M210.3 505.0h0M211.0 502.3h0M211.1 501.8h0M203.4 501.6h0M204.5 501.6h0M205.4 501.6h0M205.3 501.4h0M201.9 499.0h0M202.0 497.6h0M206.3 497.1h0M209.2 496.3h0M209.1 495.4h0M209.8 494.5h0M208.8 491.5h0M206.3 489.4h0M205.7 488.0h0M203.8 487.2h0M201.1 486.6h0M201.5 486.5h0M198.5 484.7h0M199.7 481.5h0M197.8 483.2h0M205.9 482.4h0M205.6 482.4h0M202.3 481.6h0M209.4 482.2h0M211.9 481.8h0M214.6 480.8h0M216.8 479.4h0M216.9 478.4h0M216.5 479.5h0M221.5 473.0h0M224.0 468.0h0M225.0 468.6h0M226.0 467.7h0M229.1 463.1h0M230.4 460.3h0M225.4 465.9h0M231.7 461.1h0M232.4 460.5h0M236.3 454.8h0M236.5 456.8h0" stroke="#E6E6E6" stroke-width="2.50" stroke-linecap="round" fill="none" /><polygon points="171.0,479.5 171.5,474.7 172.8,469.9 175.0,465.5 178.5,461.6 182.9,458.9 188.1,457.2 191.6,455.0 194.2,455.4 197.3,458.1 198.6,462.4 200.4,465.9 202.1,468.1 203.4,471.6 203.0,473.4 201.3,472.9 198.6,469.9 196.4,468.1 193.8,466.8 192.5,463.3 190.7,460.7 189.0,462.4 187.7,465.9 186.4,468.1 186.8,470.8 189.0,472.5 189.9,475.6 189.0,478.2 191.6,479.5 193.8,481.3 193.8,483.9 191.6,484.3 189.0,484.8 186.4,483.0 182.9,481.3 179.4,481.7 175.0,482.1 172.4,481.7" fill="#E6E6E6" /><path d="M170.6 476.3h0M171.3 477.7h0M172.8 474.0h0M172.1 472.4h0M174.4 467.4h0M173.5 468.1h0M175.8 465.3h0M176.5 463.8h0M179.5 461.2h0M179.8 461.4h0M183.5 458.7h0M187.5 456.6h0M190.0 456.1h0M190.3 456.4h0M193.7 455.6h0M194.3 455.7h0M195.9 456.4h0M197.3 459.5h0M198.2 461.0h0M198.5 462.2h0M198.5 465.3h0M201.2 466.3h0M203.3 469.7h0M203.0 471.5h0M204.4 472.3h0M202.3 473.1h0M201.1 472.4h0M201.1 473.3h0M198.1 469.4h0M194.1 467.4h0M193.1 465.4h0M193.9 466.1h0M190.1 460.3h0M191.0 461.1h0M187.9 463.9h0M188.0 463.5h0M186.4 466.9h0M186.8 469.0h0M187.1 470.0h0M189.4 473.6h0M190.1 476.5h0M190.5 479.1h0M193.5 480.8h0M193.7 482.2h0M192.6 484.8h0M190.7 484.1h0M186.5 483.2h0M182.8 480.6h0M183.7 481.4h0M179.8 481.8h0M179.3 482.1h0M176.4 482.2h0M172.9 481.8h0M172.6 481.9h0" stroke="#E6E6E6" stroke-width="2.50" stroke-linecap="round" fill="none" /><path d="M234.7 467.1h0M271.8 526.1h0M242.9 459.2h0M274.7 516.6h0M254.4 468.1h0M259.8 478.0h0M244.1 529.1h0M242.3 466.8h0M251.1 473.5h0M243.3 466.9h0M243.2 460.3h0M187.1 466.4h0M263.4 470.5h0M246.3 508.2h0M244.7 467.0h0M261.7 527.6h0M256.7 459.5h0M267.6 524.3h0M218.9 510.2h0M258.6 529.7h0M269.2 514.2h0M264.4 467.5h0M221.3 479.1h0M211.9 519.0h0M255.2 460.3h0M271.7 514.1h0M207.2 514.5h0M243.2 513.9h0M242.2 509.1h0M222.1 515.1h0M244.9 459.2h0M228.5 508.4h0M269.9 520.6h0M257.0 461.4h0M218.5 515.9h0M185.4 477.4h0M266.7 507.8h0M245.2 521.4h0M250.1 462.0h0M239.6 467.1h0M242.4 462.1h0M251.7 468.3h0M270.9 524.2h0M274.1 519.5h0M272.5 521.7h0M221.1 495.1h0M252.0 483.3h0M251.6 467.0h0M208.9 500.3h0M242.0 504.7h0M258.9 471.1h0M268.4 521.4h0M214.0 510.4h0M222.7 481.8h0M246.8 462.5h0M268.2 525.1h0M256.5 507.9h0M174.1 476.3h0M272.2 507.7h0M246.5 511.4h0M246.9 467.4h0M213.4 508.1h0M246.9 456.8h0M249.3 471.9h0M254.7 472.1h0M258.4 472.7h0M210.8 514.4h0M263.4 464.9h0M256.7 516.2h0M214.3 517.0h0M269.0 525.4h0M261.0 520.8h0M245.9 533.2h0M209.5 487.5h0M274.5 518.9h0M213.2 510.2h0M254.1 476.7h0M244.7 472.3h0M240.9 516.1h0M253.7 464.0h0M231.3 531.7h0M241.0 495.4h0M256.0 462.4h0M216.9 514.7h0" stroke="#E69F00" stroke-width="2.60" stroke-linecap="round" fill="none" /><path d="M252.1 522.8h0M226.2 534.5h0M183.3 466.3h0M248.9 467.1h0M217.0 498.1h0M257.1 507.7h0M249.4 494.8h0M242.7 520.8h0M248.3 504.4h0M217.3 498.9h0M248.1 526.9h0M273.6 512.6h0M237.4 513.4h0M247.6 466.6h0M259.4 537.4h0M243.6 500.6h0M247.0 506.0h0M228.4 490.3h0M242.4 517.4h0M215.8 498.7h0M246.3 517.8h0M218.0 517.0h0M257.7 490.4h0M246.2 476.0h0M215.0 512.2h0M245.9 482.4h0M273.0 509.2h0M222.0 499.1h0M250.2 460.0h0M258.1 487.1h0M258.0 463.4h0M213.4 495.3h0M220.8 515.2h0M176.2 474.3h0M230.4 494.3h0M253.7 458.6h0M231.9 486.5h0M183.8 463.1h0" stroke="#56B4E9" stroke-width="2.60" stroke-linecap="round" fill="none" /><path d="M189.5 484.3h0M238.0 475.9h0M241.9 509.4h0M224.9 483.5h0M247.2 520.8h0M246.7 519.6h0M215.3 505.3h0M207.8 514.1h0M262.9 500.5h0M215.9 509.2h0M182.0 474.4h0M240.7 522.6h0M211.2 515.8h0M256.0 527.8h0M222.5 503.9h0M252.8 523.0h0M213.5 485.9h0" stroke="#F0E442" stroke-width="2.60" stroke-linecap="round" fill="none" /><path d="M213.3 500.4h0M226.0 478.9h0M241.6 466.9h0M181.2 462.5h0M261.1 476.8h0M265.0 515.0h0M182.3 463.9h0M210.4 497.2h0M214.0 505.4h0M218.2 492.4h0M251.6 469.0h0M261.0 495.2h0M258.4 521.5h0M212.5 515.9h0M210.9 519.4h0M185.1 471.3h0M212.9 507.2h0M256.0 500.9h0M185.2 478.5h0M229.0 520.3h0M216.2 507.8h0M175.3 468.9h0M217.6 517.9h0M247.1 521.8h0M239.6 527.1h0M223.7 497.1h0M250.5 494.9h0M232.4 500.7h0M207.8 515.2h0M222.5 499.5h0M182.5 475.5h0M213.5 500.6h0M273.8 514.3h0M261.3 495.0h0M185.2 463.0h0M212.5 511.6h0" stroke="#009E73" stroke-width="2.60" stroke-linecap="round" fill="none" /><path d="M250.7 523.3h0M223.7 475.9h0M247.4 521.1h0M249.7 524.9h0M272.8 520.1h0M240.8 523.8h0M234.9 527.3h0M212.4 493.3h0M254.3 514.6h0M232.4 473.1h0M218.6 510.1h0M261.8 512.3h0M213.8 502.3h0M216.8 500.1h0M183.6 468.6h0M220.5 528.0h0M229.7 532.8h0M248.9 524.2h0M211.1 499.6h0M188.5 457.8h0M268.5 528.4h0M252.5 503.5h0M235.4 524.4h0M261.8 527.8h0M270.6 516.0h0M214.1 498.9h0M205.7 498.2h0M243.2 465.4h0M238.9 507.6h0M247.7 487.4h0M233.6 479.0h0M245.0 536.5h0M219.9 501.7h0M234.1 509.4h0M216.7 505.8h0M250.7 503.4h0M221.7 477.8h0M221.1 479.2h0M256.6 520.5h0M239.0 494.0h0M264.3 473.8h0M274.3 521.1h0" stroke="#56B4E9" stroke-width="2.60" stroke-linecap="round" fill="none" /><path d="M225.3 530.8h0M230.0 475.8h0M245.5 529.3h0M217.7 507.2h0M243.4 499.8h0M216.2 513.9h0M229.6 488.0h0M226.3 475.3h0M260.1 520.3h0M222.6 532.6h0M212.8 491.0h0M246.2 523.9h0M256.1 505.4h0" stroke="#F0E442" stroke-width="2.60" stroke-linecap="round" fill="none" /><path d="M259.9 496.6h0M267.0 492.2h0M231.5 532.3h0M211.7 509.5h0M226.2 482.4h0M263.0 510.7h0M218.3 517.2h0M240.1 522.7h0M262.1 504.0h0M241.7 526.3h0M255.3 466.7h0M214.7 511.8h0M240.0 495.1h0M234.4 497.8h0M246.3 511.0h0M259.8 527.8h0M220.7 523.8h0M255.6 505.4h0M265.0 505.8h0M182.5 474.7h0M175.5 472.6h0M225.3 494.3h0M183.4 477.3h0M208.8 506.1h0M248.4 492.0h0M257.8 520.5h0M243.8 521.0h0M203.9 482.8h0M270.6 550.8h0M182.2 459.9h0" stroke="#009E73" stroke-width="2.60" stroke-linecap="round" fill="none" /><path d="M206.2 496.6h0M247.5 461.0h0M250.0 521.2h0M214.6 486.1h0M258.4 499.4h0M255.7 496.0h0M224.9 482.7h0M256.1 466.4h0M271.0 508.7h0M247.3 530.6h0M218.7 491.3h0M245.4 464.8h0M179.5 462.0h0M180.2 463.3h0M236.6 463.8h0M250.2 458.3h0M267.5 469.6h0M217.8 516.2h0M254.7 463.8h0M217.7 497.9h0M217.6 517.3h0M247.0 514.8h0M263.7 468.8h0M215.0 506.0h0M274.7 520.9h0M247.6 525.3h0M253.6 462.8h0M261.0 466.7h0M269.5 523.1h0M254.0 472.9h0M271.0 521.3h0M212.6 510.0h0M214.3 502.1h0M232.7 469.4h0M249.1 540.7h0M208.8 516.7h0M262.6 464.9h0M216.5 497.1h0M206.6 513.2h0M252.3 495.5h0M231.9 472.4h0M251.5 467.7h0M244.6 460.7h0M234.2 507.0h0M214.6 509.1h0M267.9 511.2h0M252.0 465.7h0M238.2 470.9h0M272.5 512.9h0M180.4 467.8h0M231.3 503.1h0M240.0 470.7h0M258.1 460.4h0M211.1 491.3h0M230.0 467.1h0M238.4 517.9h0M183.6 479.0h0M266.8 528.1h0M260.4 509.0h0M235.4 499.7h0M254.7 509.4h0M265.4 477.9h0M247.9 461.1h0M271.0 518.4h0M257.9 469.8h0M273.2 515.4h0M182.9 472.3h0M252.3 454.4h0M215.9 506.3h0M223.8 475.1h0M247.3 497.5h0M275.6 521.2h0M230.4 533.7h0M254.9 511.6h0M214.8 481.8h0M247.5 513.2h0M263.9 506.5h0M239.4 471.8h0M183.8 465.5h0M260.4 461.1h0M250.7 466.9h0M244.3 494.7h0M244.4 454.3h0M270.7 518.8h0M212.4 510.9h0M247.9 516.1h0M260.0 461.0h0M224.4 475.1h0M243.5 459.4h0M249.9 498.9h0M260.7 461.2h0" stroke="#E69F00" stroke-width="2.60" stroke-linecap="round" fill="none" /><path d="M216.7 491.3h0M238.7 517.8h0M254.2 523.3h0M253.4 471.7h0M250.3 493.9h0M186.0 476.6h0M263.4 477.0h0M175.1 472.3h0M225.1 476.8h0M249.2 512.6h0M242.9 520.3h0M270.3 504.8h0M267.9 524.8h0M259.3 510.2h0M181.9 461.6h0M221.3 478.4h0M231.7 500.5h0M227.1 532.6h0M244.9 500.2h0M182.0 473.9h0M246.3 505.8h0M217.0 518.4h0M215.0 508.5h0M212.7 508.3h0M269.7 519.1h0M188.2 459.7h0M228.7 527.4h0M223.9 472.7h0M249.2 521.4h0M224.3 474.3h0M232.0 501.8h0M215.9 482.7h0M214.9 520.7h0M171.8 476.3h0M232.4 478.6h0M257.2 519.5h0M246.1 489.8h0M182.0 468.2h0M230.0 519.7h0M267.5 481.8h0M240.8 497.8h0M231.6 536.3h0M251.2 516.1h0" stroke="#56B4E9" stroke-width="2.60" stroke-linecap="round" fill="none" /><path d="M261.4 493.6h0M257.7 469.5h0M238.9 467.2h0M244.5 517.8h0M215.1 511.9h0M249.4 486.6h0M244.4 474.1h0M261.1 526.6h0M249.5 515.2h0M228.0 512.3h0M262.2 466.4h0M185.8 476.6h0M244.8 515.2h0M220.4 512.5h0M256.7 463.1h0M253.9 489.2h0M247.2 473.9h0M269.1 515.9h0M242.3 457.9h0M270.7 524.7h0M207.8 509.0h0M254.5 470.8h0M226.7 533.8h0M243.5 459.2h0M259.2 471.0h0M267.9 476.4h0M262.5 479.3h0M209.7 514.6h0M262.9 472.3h0M268.8 508.3h0M184.7 478.7h0M252.1 521.7h0M244.5 527.7h0M245.0 459.7h0M214.3 486.6h0M269.8 549.9h0M265.0 488.8h0M243.2 460.5h0M255.5 482.8h0M177.6 464.9h0M223.1 503.6h0M244.8 466.3h0M240.8 520.9h0M215.6 499.4h0M253.4 466.2h0M207.9 515.7h0M234.6 512.5h0M273.1 513.1h0M231.2 490.3h0M257.9 463.7h0M258.7 464.6h0M258.3 500.1h0M245.7 485.4h0M244.2 492.9h0M257.3 462.9h0M262.2 470.2h0M265.0 513.2h0M243.7 522.4h0M228.4 509.2h0M257.0 486.4h0M220.6 511.7h0M213.1 517.7h0M242.3 453.4h0M228.3 478.6h0M181.3 470.8h0M239.5 471.9h0M220.3 485.1h0M240.0 464.1h0M237.2 517.3h0M256.9 468.5h0M206.5 513.2h0M243.8 489.3h0M217.7 503.2h0M252.4 501.6h0M253.2 464.4h0M253.2 470.5h0M249.3 526.9h0M233.0 531.9h0M234.5 472.8h0" stroke="#E69F00" stroke-width="2.60" stroke-linecap="round" fill="none" /><path d="M224.7 509.8h0M180.1 464.2h0M209.8 499.4h0M237.2 516.8h0M210.8 508.4h0M208.6 506.3h0M246.0 470.3h0M221.5 507.7h0M252.0 466.8h0M227.1 482.2h0M182.8 477.0h0M228.7 487.2h0M215.0 500.4h0M217.5 504.4h0M256.3 508.4h0M232.9 535.9h0M237.1 516.7h0M252.3 519.3h0M214.8 484.2h0M220.0 508.5h0M179.7 461.0h0M248.4 527.2h0M214.5 491.2h0M178.5 468.1h0M210.4 508.7h0M243.4 528.1h0M235.9 516.3h0M223.7 502.3h0M210.0 518.6h0M181.8 464.4h0M209.5 507.6h0M218.6 485.4h0M248.8 528.5h0M221.0 497.4h0M219.1 501.7h0M228.4 535.2h0M210.3 511.7h0M251.1 493.7h0M248.7 477.2h0M209.2 496.2h0M253.3 512.9h0M185.2 476.4h0M216.3 510.2h0" stroke="#009E73" stroke-width="2.60" stroke-linecap="round" fill="none" /><path d="M217.2 509.1h0M244.3 521.6h0M225.0 483.0h0M219.7 488.6h0M228.3 480.5h0M259.5 523.8h0M240.6 512.6h0M244.3 531.8h0M209.4 498.8h0M178.9 476.9h0M218.0 511.1h0" stroke="#F0E442" stroke-width="2.60" stroke-linecap="round" fill="none" /><rect x="285.1" y="446.3" width="19.5" height="52.0" fill="#E69F00" /><rect x="285.1" y="498.3" width="19.5" height="28.9" fill="#56B4E9" /><rect x="285.1" y="527.2" width="19.5" height="20.1" fill="#009E73" /><rect x="285.1" y="547.3" width="19.5" height="6.3" fill="#F0E442" /><line x1="169.5" y1="557.3" x2="303.6" y2="557.3" stroke="#333" stroke-width="0.80" /><text x="236.6" y="566.2" font-size="6.40" text-anchor="middle" font-weight="normal" fill="#444"  stroke="#444" stroke-width="0.15">PBS+IL7</text><polygon points="385.5,454.8 389.9,452.2 400.7,452.9 405.5,457.6 411.8,463.2 415.8,466.4 421.2,471.1 426.0,475.8 425.2,480.6 422.1,483.7 418.9,485.6 415.8,487.6 419.6,489.1 423.7,490.7 424.4,493.2 420.5,494.8 417.4,496.3 418.9,499.5 422.1,504.2 423.7,507.4 423.1,510.5 425.2,515.3 426.0,520.0 424.4,526.3 421.2,530.1 418.9,534.2 415.8,537.3 412.6,541.2 411.8,543.6 415.8,546.8 419.6,548.4 418.9,552.2 415.8,553.1 411.8,549.1 408.6,545.2 399.5,545.0 389.0,542.4 379.3,538.9 371.5,533.6 366.2,526.6 362.7,521.4 355.7,517.9 353.1,512.6 354.8,507.4 359.2,504.7 360.1,501.2 351.3,501.2 349.6,498.6 352.2,496.9 358.3,496.0 357.1,491.6 353.9,488.1 346.9,485.5 346.1,483.2 349.6,482.0 359.2,482.5 364.5,480.2 369.7,474.1 373.2,467.1 379.3,460.9 383.7,459.2" fill="#E6E6E6" /><path d="M388.2 452.3h0M389.5 451.2h0M389.0 452.5h0M397.1 452.5h0M395.0 453.1h0M396.4 452.6h0M393.6 452.0h0M401.6 453.4h0M403.7 455.8h0M404.9 457.3h0M411.9 462.8h0M410.8 462.8h0M407.5 458.5h0M411.9 462.8h0M413.4 464.6h0M411.8 464.1h0M415.6 466.0h0M417.7 467.3h0M416.7 468.0h0M421.6 471.4h0M424.8 474.6h0M424.5 475.3h0M426.2 476.0h0M425.6 481.1h0M422.7 483.3h0M423.3 481.6h0M421.7 483.0h0M420.6 485.7h0M418.3 486.4h0M415.4 488.4h0M417.7 488.8h0M416.7 488.0h0M422.7 490.2h0M420.5 489.2h0M424.0 492.4h0M420.7 494.6h0M424.3 493.2h0M419.1 495.3h0M419.2 498.4h0M421.8 503.5h0M419.6 499.8h0M423.8 505.6h0M422.6 510.6h0M424.3 514.0h0M424.3 512.8h0M426.6 519.8h0M425.5 517.8h0M425.7 520.7h0M425.6 521.4h0M424.4 523.6h0M423.1 527.3h0M422.9 527.4h0M421.2 531.1h0M420.5 532.5h0M417.9 534.5h0M415.8 536.0h0M414.2 538.0h0M412.6 541.3h0M411.4 542.0h0M415.0 546.6h0M413.0 543.2h0M417.3 546.8h0M419.0 548.7h0M419.0 550.2h0M419.3 550.1h0M417.0 552.9h0M413.8 551.0h0M412.9 550.2h0M410.3 547.4h0M411.2 548.8h0M407.4 545.3h0M404.6 544.7h0M406.5 545.2h0M404.8 545.6h0M398.5 544.3h0M398.9 544.8h0M393.4 544.2h0M389.6 542.0h0M390.6 542.5h0M387.1 541.5h0M380.4 538.9h0M385.6 541.2h0M387.3 541.8h0M377.5 537.4h0M376.1 537.1h0M377.5 537.3h0M372.3 533.5h0M370.7 531.8h0M368.7 532.0h0M368.8 530.8h0M370.4 532.4h0M365.4 524.2h0M365.8 526.5h0M363.0 521.4h0M361.7 521.7h0M360.2 520.0h0M357.5 518.6h0M355.4 516.8h0M354.1 515.4h0M353.5 509.9h0M354.3 508.6h0M354.9 507.0h0M358.6 505.0h0M359.3 502.3h0M359.4 501.8h0M351.7 501.6h0M352.8 501.6h0M353.7 501.6h0M353.6 501.4h0M350.2 499.0h0M350.3 497.6h0M354.6 497.1h0M357.5 496.3h0M357.4 495.4h0M358.1 494.5h0M357.1 491.5h0M354.6 489.4h0M354.0 488.0h0M352.1 487.2h0M349.4 486.6h0M349.8 486.5h0M346.8 484.7h0M348.0 481.5h0M346.1 483.2h0M354.2 482.4h0M353.9 482.4h0M350.6 481.6h0M357.7 482.2h0M360.2 481.8h0M362.9 480.8h0M365.1 479.4h0M365.2 478.4h0M364.8 479.5h0M369.8 473.0h0M372.3 468.0h0M373.3 468.6h0M374.3 467.7h0M377.4 463.1h0M378.7 460.3h0M373.7 465.9h0M380.0 461.1h0M380.7 460.5h0M384.6 454.8h0M384.8 456.8h0" stroke="#E6E6E6" stroke-width="2.50" stroke-linecap="round" fill="none" /><polygon points="319.3,479.5 319.8,474.7 321.1,469.9 323.3,465.5 326.8,461.6 331.2,458.9 336.4,457.2 339.9,455.0 342.5,455.4 345.6,458.1 346.9,462.4 348.7,465.9 350.4,468.1 351.7,471.6 351.3,473.4 349.6,472.9 346.9,469.9 344.7,468.1 342.1,466.8 340.8,463.3 339.0,460.7 337.3,462.4 336.0,465.9 334.7,468.1 335.1,470.8 337.3,472.5 338.2,475.6 337.3,478.2 339.9,479.5 342.1,481.3 342.1,483.9 339.9,484.3 337.3,484.8 334.7,483.0 331.2,481.3 327.7,481.7 323.3,482.1 320.7,481.7" fill="#E6E6E6" /><path d="M318.9 476.3h0M319.6 477.7h0M321.1 474.0h0M320.4 472.4h0M322.7 467.4h0M321.8 468.1h0M324.1 465.3h0M324.8 463.8h0M327.8 461.2h0M328.1 461.4h0M331.8 458.7h0M335.8 456.6h0M338.3 456.1h0M338.6 456.4h0M342.0 455.6h0M342.6 455.7h0M344.2 456.4h0M345.6 459.5h0M346.5 461.0h0M346.8 462.2h0M346.8 465.3h0M349.5 466.3h0M351.6 469.7h0M351.3 471.5h0M352.7 472.3h0M350.6 473.1h0M349.4 472.4h0M349.4 473.3h0M346.4 469.4h0M342.4 467.4h0M341.4 465.4h0M342.2 466.1h0M338.4 460.3h0M339.3 461.1h0M336.2 463.9h0M336.3 463.5h0M334.7 466.9h0M335.1 469.0h0M335.4 470.0h0M337.7 473.6h0M338.4 476.5h0M338.8 479.1h0M341.8 480.8h0M342.0 482.2h0M340.9 484.8h0M339.0 484.1h0M334.8 483.2h0M331.1 480.6h0M332.0 481.4h0M328.1 481.8h0M327.6 482.1h0M324.7 482.2h0M321.2 481.8h0M320.9 481.9h0" stroke="#E6E6E6" stroke-width="2.50" stroke-linecap="round" fill="none" /><path d="M407.5 542.1h0M406.8 524.9h0M367.9 485.3h0M408.1 513.5h0M415.1 486.5h0M385.1 459.9h0M404.9 483.0h0M381.1 473.2h0M367.6 521.0h0M370.2 477.9h0M398.7 536.6h0M410.7 475.1h0M386.8 471.9h0M421.1 508.4h0M386.1 509.3h0M404.9 483.7h0M418.7 523.7h0M401.2 511.7h0M414.5 511.7h0M397.8 519.8h0M416.6 550.2h0M421.7 512.4h0M335.2 471.0h0M406.5 530.6h0M371.8 473.8h0M420.2 491.9h0M393.7 530.5h0M392.0 539.6h0M390.2 483.0h0M365.7 515.6h0M391.2 483.2h0M405.8 501.0h0M412.9 510.7h0M397.8 461.5h0M367.9 514.1h0M372.0 507.3h0M332.2 470.7h0M421.2 514.4h0M392.1 538.5h0M382.6 534.7h0M397.3 479.5h0M409.0 527.4h0M416.8 483.3h0M395.9 479.1h0M378.2 500.0h0M411.0 471.1h0M385.9 462.6h0M393.1 503.2h0M397.9 532.4h0M368.1 488.0h0M423.2 480.7h0M408.3 513.8h0M370.0 508.3h0M379.2 482.9h0M381.0 512.7h0M392.3 489.6h0M398.1 531.4h0M387.6 480.5h0M377.6 474.8h0M397.6 512.8h0M369.0 512.6h0M332.4 464.9h0M416.7 492.9h0M351.4 486.0h0M390.2 496.0h0M366.0 502.0h0M388.0 509.0h0M342.3 458.0h0M415.9 496.9h0M344.6 467.9h0M343.1 466.7h0M324.1 464.9h0M374.0 522.0h0M378.6 530.2h0M404.1 496.6h0M412.5 491.0h0M420.1 515.3h0M391.7 526.0h0M368.6 517.0h0M396.9 535.7h0M400.5 486.8h0M389.8 481.6h0M373.9 520.2h0M394.7 511.6h0M371.1 526.6h0M404.4 517.1h0M417.6 528.8h0M389.6 540.3h0M397.5 532.2h0M403.3 477.9h0M386.9 521.8h0M416.3 501.4h0M419.2 513.4h0M383.6 487.2h0M414.9 523.3h0M417.2 515.0h0M372.3 495.3h0M412.7 520.9h0M342.4 461.9h0M367.6 511.9h0M408.4 484.4h0M410.4 484.5h0M382.3 491.5h0M398.1 539.9h0M335.6 461.0h0M420.4 511.1h0M382.2 537.5h0M401.2 511.6h0M381.5 462.0h0M404.0 496.5h0M408.9 486.9h0M395.3 542.5h0M401.0 507.3h0M385.9 529.5h0M370.1 478.0h0M389.9 520.3h0M367.6 512.2h0M388.2 482.4h0M410.3 493.5h0M378.8 531.0h0M390.5 492.7h0M392.8 532.2h0M420.0 511.6h0M384.4 534.6h0M401.0 531.9h0M383.4 473.7h0M416.3 493.8h0M397.0 525.1h0M342.1 460.6h0M390.1 519.6h0M384.1 524.0h0M372.3 499.3h0M386.8 528.9h0M414.9 537.4h0M415.3 474.1h0M403.2 481.5h0M389.3 508.8h0M416.6 518.1h0M412.6 491.8h0M408.6 528.8h0M412.5 518.3h0M380.7 494.6h0M418.5 509.4h0M368.8 482.9h0M405.8 481.4h0M405.1 526.6h0M383.3 532.0h0M376.4 522.0h0M411.1 477.4h0M419.1 509.8h0M383.6 489.4h0M395.6 485.1h0M408.5 502.1h0M372.1 504.6h0M381.9 497.8h0M408.6 494.5h0M414.3 502.5h0M410.1 469.0h0M401.5 530.8h0M384.5 525.8h0M384.4 466.0h0M390.8 516.5h0M393.8 490.9h0M423.2 519.1h0M400.8 522.4h0M391.9 520.0h0M406.2 537.5h0M387.8 497.5h0M374.7 503.9h0M418.4 512.1h0M409.1 539.2h0M392.2 477.3h0M381.3 531.7h0M412.6 530.8h0M403.4 497.9h0M407.4 530.6h0M371.3 482.4h0M393.8 515.5h0M386.4 459.7h0M411.1 494.3h0M407.4 492.8h0M368.1 513.7h0M378.5 523.6h0M332.3 464.8h0M397.6 480.3h0M399.7 533.0h0M388.6 484.2h0M343.1 466.2h0M372.9 475.2h0M413.9 513.0h0M409.9 518.4h0M397.2 491.3h0M366.7 523.3h0M421.4 475.9h0M373.5 532.6h0M378.2 483.9h0M371.7 522.8h0M402.6 512.4h0M397.3 502.2h0M417.4 511.7h0M408.7 484.6h0M377.0 470.0h0M406.6 538.6h0M388.8 506.2h0M390.4 530.3h0M384.6 519.2h0M364.8 502.5h0M377.0 489.7h0M418.9 520.4h0M419.4 522.7h0M406.2 493.8h0M388.4 482.4h0M403.0 535.6h0M325.0 466.6h0M392.8 503.0h0M384.6 487.7h0M412.5 531.5h0M388.2 484.5h0M412.1 504.8h0M385.2 519.2h0M364.5 482.8h0M335.1 464.0h0M368.1 508.2h0M383.5 535.5h0M375.3 483.2h0M395.6 498.7h0M419.2 481.2h0M392.5 480.6h0M384.9 527.4h0M420.4 505.7h0M389.3 460.1h0M357.6 511.9h0M410.8 516.7h0M386.0 478.7h0M420.7 522.4h0M380.8 510.0h0M406.3 541.0h0M404.3 474.5h0M398.2 510.5h0M383.1 491.5h0M402.6 539.9h0M376.5 465.6h0M391.1 502.7h0M378.6 478.1h0M404.2 465.6h0M377.2 498.1h0M395.6 541.6h0M403.2 528.2h0M373.5 520.0h0M361.9 486.7h0M391.7 487.2h0M413.3 472.1h0M394.6 543.4h0M406.8 503.8h0M402.8 533.2h0M391.7 513.5h0M396.5 504.7h0M405.5 538.3h0M394.2 531.4h0M326.8 462.8h0M403.4 528.2h0M371.3 508.1h0M405.1 527.4h0M408.7 538.0h0M419.3 473.5h0M400.0 523.2h0M416.0 508.1h0M392.8 533.2h0M392.4 542.7h0M379.9 513.0h0M388.8 502.8h0M399.3 497.6h0M395.6 502.5h0M378.8 496.3h0M333.3 466.6h0M409.7 486.5h0M384.0 516.2h0M380.7 468.7h0M380.1 508.8h0M388.4 498.7h0M369.1 482.2h0M419.5 503.6h0M331.9 463.6h0M412.2 520.8h0M404.7 541.3h0M383.1 524.2h0M409.7 542.7h0M410.3 482.2h0M385.3 482.9h0M360.9 513.9h0M364.5 490.7h0M383.2 511.7h0M393.4 496.8h0M408.9 541.2h0M404.0 511.1h0M365.0 502.0h0M395.3 492.3h0M369.5 483.6h0M361.9 503.0h0M399.2 509.0h0M367.3 525.4h0M404.8 517.1h0M391.7 512.6h0M415.5 528.3h0M379.8 499.3h0M374.4 494.7h0M375.0 465.9h0M414.1 482.2h0M401.8 485.8h0M410.6 477.6h0M371.2 489.4h0M414.8 477.0h0M383.6 524.5h0M334.2 468.6h0M395.1 521.1h0M377.5 477.3h0M405.3 504.6h0M406.8 502.2h0M391.7 532.3h0M375.5 474.7h0M375.3 487.9h0M375.5 514.3h0M381.2 501.0h0" stroke="#009E73" stroke-width="2.60" stroke-linecap="round" fill="none" /><path d="M396.0 453.9h0M405.1 474.7h0M412.0 497.6h0M390.9 463.2h0M392.6 486.0h0M422.6 476.5h0M406.0 514.5h0M392.2 484.7h0M370.8 521.1h0M400.0 463.8h0M330.5 467.8h0M389.2 463.1h0M379.1 474.6h0M400.2 532.4h0M399.1 466.9h0M403.8 530.1h0M381.9 468.8h0M391.0 461.2h0M408.3 463.8h0M414.3 487.1h0M410.7 528.4h0M392.6 467.9h0M384.0 480.4h0M363.5 506.9h0M393.4 494.5h0M375.5 488.9h0M393.4 474.3h0M359.0 507.5h0M377.1 482.2h0M398.2 522.3h0M411.0 526.0h0M400.7 455.4h0M377.7 481.5h0M389.2 475.3h0M388.5 467.8h0M405.6 469.0h0M415.4 476.3h0M387.5 481.3h0M390.0 455.7h0M394.5 536.5h0M372.2 475.7h0M411.3 463.6h0M414.0 531.2h0M404.5 529.2h0M385.6 475.8h0M393.0 455.4h0M380.2 529.1h0M410.6 465.0h0M416.9 473.5h0M411.8 477.8h0M412.4 497.5h0M401.1 523.9h0M392.4 496.9h0M406.8 501.0h0M390.2 471.7h0M415.9 480.2h0M400.4 523.4h0M403.6 468.2h0M385.4 519.9h0M373.1 509.0h0M419.6 514.3h0M382.2 468.7h0M413.4 531.3h0M399.9 521.3h0M409.0 502.3h0M415.7 523.4h0M414.7 499.1h0M369.2 500.0h0M375.3 468.7h0M418.4 515.4h0M400.6 457.3h0M384.5 522.1h0M384.2 520.3h0M329.0 462.2h0M399.5 457.7h0M381.0 521.6h0M407.4 533.4h0M388.0 507.8h0M366.3 515.5h0M401.4 526.7h0M389.9 467.6h0M368.5 526.7h0M420.0 523.8h0M404.8 519.8h0M412.9 534.7h0M411.1 502.6h0M400.9 476.9h0M390.4 458.8h0M369.0 482.2h0M331.3 468.4h0M405.4 541.9h0M373.6 472.6h0M384.8 489.9h0M389.7 469.5h0M386.5 497.7h0M373.1 526.1h0M404.3 460.3h0M411.5 531.5h0M408.1 463.1h0M381.7 535.6h0M368.9 490.5h0M393.5 458.5h0M390.2 459.6h0M342.2 459.2h0M401.2 543.0h0M400.3 463.3h0M399.4 467.4h0M401.9 478.0h0M397.5 516.3h0M404.6 466.7h0M404.0 458.2h0M380.5 489.5h0M407.9 461.0h0M381.3 533.8h0M390.6 470.6h0M330.7 461.6h0M415.7 482.7h0M397.1 469.5h0M382.2 504.2h0M388.8 454.7h0M371.9 516.4h0M355.6 489.5h0M402.1 463.7h0M375.6 519.5h0M422.7 520.2h0M391.9 536.5h0M401.5 462.1h0M412.4 517.6h0M366.2 519.5h0M401.5 519.4h0M411.8 469.9h0M414.1 527.8h0M391.9 456.3h0M378.2 526.2h0M397.2 498.0h0M367.2 486.3h0M393.4 469.7h0M385.9 519.6h0M411.7 477.6h0M402.3 515.0h0M393.7 454.8h0M400.7 469.6h0M400.9 473.8h0M382.2 538.4h0M404.8 459.6h0M391.0 460.0h0M386.0 462.4h0M398.2 456.7h0M409.4 507.8h0M383.0 500.2h0M378.9 502.8h0M408.6 467.3h0M407.2 497.8h0M397.4 527.6h0M382.9 496.3h0M398.7 459.4h0M391.4 486.3h0M406.2 461.4h0M391.7 457.6h0M383.4 462.4h0M412.4 477.7h0M388.4 457.0h0M329.6 463.4h0M367.3 517.2h0M380.4 511.0h0M408.2 467.8h0M397.7 523.5h0M407.2 525.5h0M392.2 453.0h0M379.3 531.0h0M405.2 520.6h0M391.6 458.0h0M387.4 509.8h0M418.9 480.8h0M402.6 521.0h0M407.5 475.6h0M396.4 534.4h0M393.7 511.6h0M410.4 477.4h0M389.8 520.7h0M404.8 457.8h0M359.9 512.5h0M394.6 528.5h0M380.7 531.4h0M388.9 478.1h0M388.3 530.1h0M383.3 519.6h0M396.7 464.4h0M394.5 459.1h0M394.8 528.1h0M400.0 458.4h0M387.9 473.5h0M385.6 516.0h0M418.5 525.7h0M384.9 522.8h0M390.1 471.2h0M393.5 535.1h0M393.4 515.5h0M375.1 505.7h0M389.8 524.9h0M386.3 494.8h0M387.7 502.6h0M382.7 483.5h0M417.9 506.3h0M415.1 512.4h0M403.4 466.5h0M398.0 458.8h0" stroke="#E69F00" stroke-width="2.60" stroke-linecap="round" fill="none" /><path d="M386.7 457.1h0M416.6 506.4h0M400.8 458.2h0M391.9 466.1h0M383.9 461.6h0M367.7 482.6h0M420.0 479.2h0M402.4 488.8h0M381.4 473.7h0M407.7 490.5h0M407.1 490.7h0M406.0 485.3h0M377.5 506.3h0M407.7 524.5h0M367.4 522.5h0M377.9 467.2h0M381.3 482.4h0M377.5 508.1h0M392.6 534.7h0M372.3 532.6h0M404.3 508.2h0M347.6 484.9h0M396.4 505.6h0M418.2 516.4h0M392.2 525.3h0M410.7 497.2h0M393.7 479.1h0M406.8 520.5h0M377.3 483.1h0M374.1 523.4h0M378.5 484.8h0M384.9 495.7h0M374.6 508.1h0M404.6 471.8h0M381.2 505.2h0M410.4 534.8h0M380.4 505.6h0M375.5 516.9h0M370.4 519.4h0M370.7 510.7h0M407.9 471.9h0M376.9 523.6h0M397.8 472.5h0M371.9 486.8h0M402.0 532.3h0M394.0 500.0h0M368.5 523.9h0M412.1 498.8h0M394.1 488.1h0M413.0 496.6h0M409.8 512.4h0M384.1 479.9h0M410.1 510.9h0M365.9 510.0h0M372.2 486.5h0M373.9 530.7h0M408.1 525.7h0M405.8 527.0h0M400.3 499.9h0M384.8 506.8h0M380.0 537.1h0M384.1 482.1h0M383.2 517.4h0M403.7 484.6h0M405.3 476.8h0M384.3 465.3h0M383.6 491.1h0M371.9 492.1h0M416.4 494.4h0M371.2 478.3h0M406.8 462.5h0M417.1 480.0h0M380.7 489.1h0M411.6 506.2h0M388.6 471.5h0M403.6 525.0h0M406.2 511.2h0M362.8 519.1h0M403.5 503.6h0M378.7 483.4h0M415.8 527.2h0M404.0 531.0h0M399.5 500.9h0M410.4 504.9h0M416.3 491.3h0M333.8 461.8h0M383.2 482.6h0M380.3 523.0h0M384.0 536.8h0M382.8 481.5h0M420.4 472.2h0M402.4 528.6h0M393.2 506.2h0M387.8 502.9h0M411.2 471.7h0M404.5 490.9h0M391.1 533.6h0M404.3 510.5h0M396.0 461.5h0M389.3 460.8h0M386.9 533.6h0M405.9 513.9h0M352.1 487.0h0M331.9 467.0h0M342.3 463.4h0M376.9 473.0h0M409.2 494.0h0M365.7 497.0h0M401.8 538.2h0M380.3 474.4h0M406.4 467.3h0M421.8 473.7h0M395.7 523.4h0M384.6 474.3h0M336.9 460.5h0M409.1 527.5h0M404.6 513.4h0M373.6 488.5h0M403.1 504.8h0M364.0 483.0h0M378.5 483.7h0M395.1 496.5h0M383.3 523.4h0M378.6 532.3h0M400.0 506.8h0M398.4 506.9h0M395.6 477.6h0M364.0 520.2h0M394.7 519.2h0M370.1 497.3h0M419.9 518.8h0M366.7 481.6h0M418.8 532.1h0M393.3 525.3h0M410.9 502.3h0M388.5 507.3h0M394.5 523.3h0M406.5 539.5h0M374.1 476.3h0M420.2 512.9h0M348.5 485.5h0M384.0 499.9h0M372.3 510.0h0M411.0 476.4h0M388.5 504.8h0M421.7 514.9h0M331.7 472.2h0M396.6 518.9h0M395.3 481.2h0M362.0 487.1h0M405.3 518.5h0M387.8 477.3h0M363.1 489.4h0M397.2 497.3h0M348.2 484.5h0M402.9 532.9h0M390.6 501.6h0M414.4 510.8h0M399.0 495.1h0M414.9 485.3h0M382.5 498.1h0M388.7 522.0h0M369.8 487.9h0M410.5 498.9h0M402.0 510.7h0M372.6 492.3h0M378.3 536.1h0M385.8 460.4h0M395.6 495.9h0M413.1 473.7h0M397.9 490.2h0M410.0 477.7h0M409.9 500.6h0M365.6 506.5h0M412.8 516.8h0M396.4 530.3h0M404.1 489.5h0M407.6 511.3h0M387.6 527.9h0M407.6 487.4h0M418.2 480.5h0M394.8 462.1h0M358.0 491.8h0M399.9 542.5h0M423.0 521.1h0M386.9 457.4h0M407.7 489.0h0M401.5 497.5h0M383.3 496.8h0M399.3 538.8h0M403.9 517.5h0M386.9 523.4h0M403.3 534.5h0M378.6 469.6h0M415.6 486.0h0M378.9 464.8h0M396.0 527.1h0M406.5 470.2h0M413.3 522.0h0M408.9 529.1h0M323.5 465.8h0M408.1 498.8h0M373.8 533.0h0M383.1 524.7h0M404.4 519.5h0M418.5 469.7h0M367.9 514.8h0M380.2 514.5h0M416.2 520.8h0M409.6 533.1h0M404.5 493.9h0M374.9 511.3h0M385.9 485.9h0M407.1 489.9h0M377.2 513.6h0M380.4 491.9h0M414.1 511.8h0M411.4 478.0h0M363.3 488.1h0M384.8 532.4h0M377.1 491.6h0M387.3 503.4h0" stroke="#56B4E9" stroke-width="2.60" stroke-linecap="round" fill="none" /><path d="M393.9 523.2h0M407.6 475.8h0M396.7 525.8h0M364.6 486.1h0M410.8 501.5h0M402.5 528.8h0M375.6 505.3h0M334.9 465.3h0M372.3 476.7h0M373.6 475.7h0M405.9 505.3h0M394.1 509.7h0M388.3 513.2h0M388.7 486.5h0M402.5 530.2h0M414.9 471.3h0M364.7 491.4h0M402.2 485.7h0M360.5 490.4h0M400.9 492.5h0M411.7 519.8h0M386.0 471.1h0M417.1 549.6h0M406.1 492.8h0M373.9 489.1h0M398.8 500.0h0M331.1 467.2h0M412.0 531.1h0M422.0 480.6h0M420.5 478.8h0M360.5 513.0h0M392.0 538.7h0M386.7 528.0h0M392.9 529.8h0M371.5 476.9h0M410.9 481.7h0M381.7 522.7h0" stroke="#F0E442" stroke-width="2.60" stroke-linecap="round" fill="none" /><path d="M368.6 488.4h0M378.5 503.4h0M381.6 477.2h0M401.5 470.5h0M409.2 519.3h0M391.2 527.5h0M402.0 510.5h0M386.9 475.1h0M390.8 485.7h0M384.1 462.2h0M378.9 486.0h0M368.6 495.4h0M401.7 521.9h0M389.6 500.1h0M397.4 482.0h0M397.1 530.8h0M413.4 524.7h0M411.1 468.5h0M370.9 488.9h0M417.6 485.5h0M399.1 484.2h0M416.8 527.0h0M397.0 477.6h0M374.9 518.5h0M388.7 482.6h0M332.5 463.5h0M395.4 492.0h0M385.6 462.5h0M373.4 479.2h0M423.4 477.9h0M401.7 518.1h0M408.7 525.3h0M359.9 496.4h0M425.3 517.2h0M402.1 524.3h0M394.0 481.9h0M327.1 468.2h0M409.2 483.6h0M396.2 468.9h0M378.0 488.4h0M387.3 484.8h0M396.5 474.2h0M378.4 469.2h0M377.7 495.6h0M404.3 475.3h0M358.9 486.1h0M400.9 500.1h0M392.1 504.2h0M415.7 469.3h0M382.5 526.4h0M414.8 502.1h0M399.2 538.0h0M370.0 512.0h0M405.6 495.4h0M392.2 520.6h0M322.2 469.6h0M423.9 478.1h0M391.4 499.6h0M413.9 488.4h0M370.1 480.7h0M372.2 494.8h0M377.6 526.8h0M399.0 516.7h0M405.8 504.1h0M369.4 527.2h0M407.0 538.6h0M392.6 463.9h0M420.1 504.7h0M384.7 509.5h0M363.9 488.2h0M389.3 487.0h0M418.9 505.2h0M388.4 512.3h0M369.8 515.0h0M374.2 516.9h0M373.6 492.4h0M381.8 483.3h0M413.6 474.2h0M408.4 541.5h0M395.4 500.1h0M419.3 503.6h0M400.2 498.4h0M393.8 510.7h0M397.7 510.4h0M402.2 471.7h0M388.9 501.8h0M365.4 504.1h0M408.0 509.4h0M373.7 502.9h0M410.9 493.7h0M356.2 509.1h0M410.0 540.2h0M377.7 528.1h0M377.5 523.7h0M404.7 533.0h0M397.4 535.6h0M396.0 521.8h0M401.4 503.3h0M398.4 494.2h0M384.9 475.6h0M415.9 483.9h0M401.5 543.1h0M363.0 490.4h0M386.0 461.3h0M378.0 476.1h0M408.7 483.9h0M385.4 490.2h0M422.2 490.9h0M410.7 539.6h0M411.4 504.7h0M403.5 517.3h0M395.6 533.3h0M372.1 478.8h0M395.2 527.5h0M398.1 490.2h0M381.7 511.0h0M364.4 481.8h0M381.3 529.4h0M392.1 493.7h0M402.9 526.8h0M411.7 540.7h0M411.8 511.1h0M393.0 507.4h0M403.1 519.3h0M389.3 466.8h0M411.4 535.2h0M370.4 476.3h0M370.6 505.1h0M385.6 521.2h0M384.8 486.8h0M395.6 472.0h0M390.8 510.4h0M389.3 489.8h0M395.3 501.7h0M375.8 475.4h0M420.6 471.8h0M408.4 531.2h0M369.8 499.0h0M396.3 528.8h0M396.0 512.4h0M394.3 464.6h0M377.7 503.5h0M403.6 508.4h0M388.4 507.8h0M407.8 518.4h0M398.3 526.4h0M371.7 514.6h0M399.3 513.7h0M334.5 462.6h0M416.5 472.4h0M415.7 482.1h0M410.1 521.9h0M346.2 465.6h0M369.4 501.1h0M402.0 529.4h0M400.7 523.4h0M374.9 511.9h0M407.6 476.2h0M404.1 497.8h0M377.2 527.7h0M395.0 525.1h0M409.8 492.4h0M423.6 479.8h0M391.4 496.1h0M359.3 516.1h0M382.6 471.6h0M331.7 464.5h0M379.8 466.5h0M369.0 523.4h0M389.6 495.3h0M411.3 481.9h0M387.1 511.2h0M367.7 492.9h0M402.3 515.2h0M380.4 499.6h0M402.0 526.3h0M404.1 529.6h0M385.0 525.0h0M323.4 467.9h0M391.0 469.2h0M368.8 514.2h0M402.3 480.1h0M395.0 473.3h0M417.0 508.4h0M412.1 514.9h0M363.1 489.9h0M401.8 521.0h0M372.8 530.6h0M388.5 531.3h0M396.3 530.8h0M344.6 461.8h0M394.8 528.1h0M408.3 489.9h0M369.9 499.7h0M385.1 526.9h0M419.3 518.0h0M377.2 485.6h0M329.8 463.3h0M383.4 484.8h0M368.6 496.1h0M399.8 539.5h0M401.6 466.1h0M416.1 552.2h0M417.5 476.1h0M373.7 532.2h0M404.2 520.1h0M388.9 528.6h0M396.4 517.2h0M406.5 509.5h0M407.5 469.3h0M365.3 496.7h0M407.9 503.5h0M336.8 463.5h0M389.1 474.2h0M377.2 473.7h0M397.5 486.9h0M407.2 526.8h0M395.1 493.0h0M376.8 519.1h0M389.4 530.7h0M370.2 527.1h0M382.3 527.3h0M400.7 469.7h0M367.1 515.1h0M386.9 498.5h0M412.2 520.7h0M371.1 486.0h0M421.2 508.3h0M329.6 462.3h0M381.7 533.1h0M383.1 508.3h0M374.4 514.4h0M387.7 488.3h0M381.7 509.3h0M399.9 501.4h0M424.1 520.1h0M410.4 497.3h0M384.9 514.4h0M379.8 500.8h0M415.7 493.1h0M400.7 515.5h0M405.5 467.8h0M387.7 516.9h0M408.1 507.2h0M395.5 519.8h0M346.7 464.8h0M378.4 491.6h0M375.4 474.1h0M391.3 486.5h0M406.8 483.1h0M418.9 530.0h0M375.3 509.5h0M389.8 529.1h0M387.3 502.9h0M412.5 486.7h0M390.9 479.8h0M413.0 502.2h0M411.0 482.9h0M375.9 501.2h0M372.4 477.4h0M385.6 531.3h0M391.9 524.0h0M383.3 490.6h0M420.3 519.0h0M366.2 493.4h0M411.1 491.2h0M366.8 512.4h0M379.9 484.7h0M394.6 528.2h0M406.8 535.6h0M388.1 537.1h0M374.4 526.1h0M377.6 474.6h0M333.3 464.8h0M407.6 505.7h0M422.0 512.9h0M379.0 470.3h0M384.8 474.9h0M350.0 484.4h0M416.4 534.0h0M395.6 521.4h0M388.9 529.3h0M344.8 466.1h0M405.7 503.1h0M358.2 486.5h0M379.0 501.2h0M376.5 515.0h0M399.4 503.4h0M421.8 494.0h0M405.2 524.5h0M394.5 517.0h0M373.8 479.1h0M387.3 470.9h0M403.5 512.4h0M338.4 460.4h0M385.8 456.7h0M383.5 487.4h0M417.2 500.0h0M417.8 520.4h0M382.5 534.8h0M389.0 494.3h0M389.4 492.9h0M404.6 509.1h0M411.7 533.4h0M391.3 493.9h0M412.6 518.6h0M383.2 530.7h0M409.2 511.7h0M386.6 515.8h0M399.0 506.4h0M373.2 530.2h0M410.1 528.1h0M334.4 475.0h0M404.6 511.2h0M410.1 505.1h0M401.4 467.6h0M367.5 521.9h0M384.4 491.6h0M412.0 513.1h0M415.1 492.1h0M366.3 514.2h0M367.4 515.0h0M403.7 507.8h0M370.3 503.2h0M398.6 541.6h0M375.8 516.2h0M371.2 503.2h0M415.2 499.3h0M358.5 483.4h0M410.2 505.2h0M416.5 499.8h0" stroke="#009E73" stroke-width="2.60" stroke-linecap="round" fill="none" /><path d="M394.7 455.9h0M417.7 516.9h0M371.1 516.0h0M385.5 460.5h0M410.7 474.5h0M401.4 505.6h0M388.7 531.1h0M394.2 462.0h0M387.4 467.7h0M393.7 460.3h0M397.3 454.8h0M381.6 473.9h0M410.2 496.5h0M409.8 464.4h0M401.6 481.2h0M394.8 480.7h0M409.1 505.4h0M359.9 516.7h0M406.4 474.2h0M391.3 475.7h0M418.3 476.1h0M400.4 472.2h0M390.1 462.2h0M369.0 522.4h0M372.0 512.3h0M403.2 531.4h0M413.0 486.9h0M388.3 459.5h0M384.7 531.6h0M395.2 477.5h0M409.0 510.7h0M378.9 487.3h0M363.6 487.3h0M383.0 469.5h0M387.9 464.9h0M366.2 513.5h0M385.3 503.5h0M374.8 509.5h0M400.8 454.5h0M410.7 478.3h0M365.0 483.0h0M388.5 477.5h0M410.7 467.4h0M373.0 488.2h0M392.0 474.5h0M388.1 523.8h0M365.1 486.0h0M383.5 522.9h0M387.5 483.1h0M389.0 478.9h0M336.0 464.6h0M414.6 471.5h0M413.2 518.6h0M384.9 472.9h0M409.9 496.4h0M384.5 479.5h0M388.6 455.1h0M378.3 494.3h0M399.9 454.2h0M387.7 462.2h0M409.2 487.5h0M407.7 484.2h0M410.9 467.7h0M395.5 481.2h0M378.1 513.4h0M391.2 462.0h0M411.1 534.8h0M389.1 534.5h0M391.1 516.4h0M382.8 511.7h0M415.9 534.2h0M393.4 512.0h0M408.6 509.9h0M384.1 514.2h0M391.6 458.5h0M396.0 453.8h0M388.2 530.7h0M370.8 506.2h0M413.1 476.9h0M388.5 518.3h0M410.3 480.1h0M332.5 460.7h0M389.9 538.0h0M376.3 506.5h0M361.8 485.3h0M408.4 517.0h0M385.3 480.8h0M405.8 511.4h0M402.8 479.1h0M397.8 496.3h0M375.2 520.8h0M334.8 458.7h0M363.3 481.8h0M387.5 465.9h0M390.5 506.3h0M411.2 528.9h0M402.2 458.0h0M391.5 532.6h0M364.7 491.3h0M386.6 518.6h0M390.1 499.1h0M391.7 460.1h0M408.3 463.0h0M385.9 470.3h0M411.6 474.5h0M392.0 528.8h0M396.9 462.7h0M378.9 489.8h0M407.3 504.6h0M360.8 497.3h0M363.1 489.9h0M361.6 504.2h0M408.5 495.5h0M403.0 462.8h0M401.3 471.2h0M381.9 479.3h0M413.7 546.9h0M406.8 475.4h0M399.8 458.8h0M391.2 463.0h0M389.5 455.9h0M366.6 503.9h0M381.2 484.9h0M398.0 514.2h0M422.7 521.5h0M391.6 488.7h0M397.1 461.5h0M420.6 524.1h0M417.6 519.0h0M398.2 455.5h0M422.4 514.9h0M386.4 512.2h0M394.9 457.5h0M392.2 499.9h0M406.4 480.7h0M388.3 455.5h0M399.0 458.6h0M375.2 468.4h0M402.6 496.7h0M402.3 505.6h0M419.2 472.1h0M385.9 466.6h0M413.8 471.7h0M333.1 471.8h0M387.1 477.5h0M399.9 455.2h0M404.1 479.8h0M397.1 457.8h0M420.5 472.5h0M404.6 472.0h0M365.4 501.8h0M384.4 476.4h0M393.5 454.5h0M404.2 507.0h0M415.8 477.9h0M401.4 536.7h0M390.2 540.4h0M403.2 457.4h0M412.1 532.5h0M387.2 506.2h0M371.6 517.5h0M401.8 529.1h0M373.9 484.7h0M378.4 535.9h0M407.1 483.8h0M420.9 475.8h0M375.6 470.6h0" stroke="#E69F00" stroke-width="2.60" stroke-linecap="round" fill="none" /><path d="M379.3 479.8h0M384.2 518.9h0M379.4 484.6h0M396.0 533.4h0M419.2 521.4h0M374.0 492.2h0M395.1 538.9h0M383.3 494.6h0M376.4 527.9h0M408.8 532.9h0M332.2 468.6h0M414.3 480.9h0M372.6 510.1h0M368.5 481.4h0M417.9 511.3h0M414.9 482.8h0M385.1 533.7h0M406.8 513.0h0M379.0 501.4h0M383.7 511.7h0M368.6 480.2h0M418.4 474.7h0M374.6 491.7h0M391.6 493.0h0M373.4 512.3h0M376.3 516.4h0M390.0 481.2h0M395.8 495.6h0M396.4 468.3h0M369.5 481.4h0M403.9 480.7h0M360.2 491.4h0M379.5 493.7h0M376.6 532.7h0M369.4 513.1h0" stroke="#F0E442" stroke-width="2.60" stroke-linecap="round" fill="none" /><path d="M382.9 519.6h0M412.4 535.5h0M409.3 533.1h0M415.2 494.9h0M367.1 481.9h0M388.0 490.5h0M404.2 507.0h0M411.9 517.3h0M403.3 510.6h0M412.2 473.5h0M400.4 524.9h0M398.1 508.4h0M378.4 533.6h0M394.6 474.0h0M419.2 505.7h0M404.7 462.0h0M377.8 470.3h0M372.6 474.0h0M389.1 496.3h0M417.8 505.6h0M359.3 511.5h0M421.8 520.7h0M422.4 492.0h0M406.9 513.3h0M416.5 509.9h0M419.4 512.4h0M404.2 512.4h0M413.8 513.9h0M331.8 460.1h0M386.3 470.7h0M386.5 535.9h0M382.0 460.4h0M398.6 485.7h0M391.8 470.9h0M419.3 476.2h0M381.4 487.1h0M385.8 519.5h0M368.6 485.3h0M412.0 486.2h0M416.5 533.2h0M373.5 489.6h0M368.6 489.1h0M366.3 521.8h0M332.3 468.9h0M402.6 506.8h0M405.7 499.4h0M384.4 490.7h0M386.6 523.9h0M382.5 527.1h0M400.3 502.7h0M415.6 502.5h0M396.1 483.1h0M371.9 497.2h0M396.7 522.5h0M375.4 520.6h0M381.9 480.9h0M388.2 535.3h0M391.5 517.4h0M413.6 489.3h0M369.0 514.0h0M418.8 505.5h0M387.7 485.2h0M391.4 529.5h0M412.2 537.9h0M374.8 517.5h0M386.0 472.6h0M390.3 509.2h0M392.7 502.2h0M371.0 476.0h0M392.4 507.8h0M399.9 526.4h0M411.5 493.3h0M412.9 512.8h0M392.4 529.7h0M403.3 500.6h0M421.1 525.1h0M403.1 473.3h0M414.7 524.3h0M415.0 504.6h0M380.8 471.3h0M378.4 525.7h0M415.5 510.5h0M334.7 469.3h0M394.9 478.8h0M361.9 498.8h0M415.2 534.8h0M413.2 469.1h0M398.4 524.0h0M411.7 520.7h0M385.8 462.1h0M424.9 518.5h0M386.8 514.6h0M373.0 505.2h0M400.8 499.0h0M372.4 531.7h0M366.0 486.7h0M395.4 464.2h0M402.0 484.8h0M408.6 509.3h0M414.8 492.9h0M395.0 533.1h0M386.8 501.5h0M375.2 471.0h0M385.7 494.4h0M384.6 493.0h0M350.6 482.3h0M417.3 523.2h0M402.3 508.2h0M398.5 497.9h0M392.3 459.4h0M409.2 492.0h0M402.8 527.0h0M374.1 513.2h0M420.3 476.4h0M406.1 479.3h0M391.7 539.0h0M369.9 501.9h0M405.4 520.1h0M382.3 527.9h0M411.9 518.3h0M380.6 491.2h0M382.9 484.3h0M398.6 505.3h0M417.6 515.4h0M394.9 524.6h0M411.1 523.6h0M399.4 484.2h0M404.5 504.9h0M385.6 521.7h0M408.9 541.7h0M403.5 514.7h0M371.6 519.1h0M404.8 486.7h0M369.4 479.9h0M375.2 481.5h0M397.7 468.1h0M372.0 479.3h0M390.3 499.4h0M382.1 510.8h0M391.1 499.0h0M379.1 475.7h0M412.0 490.8h0M402.9 533.8h0M394.4 521.9h0M414.7 496.3h0M414.2 532.4h0M414.4 508.7h0M385.0 475.0h0M410.1 467.3h0M380.7 487.3h0M396.0 491.5h0M410.2 484.7h0M367.1 516.9h0M398.3 495.4h0M328.5 471.6h0M385.8 529.2h0M398.2 469.3h0M399.0 531.3h0M402.9 540.7h0M399.3 522.4h0M414.7 484.6h0M420.6 515.1h0M413.8 511.5h0M421.2 517.9h0M396.0 501.4h0M397.6 525.6h0M373.4 513.1h0M394.8 533.8h0M384.2 501.2h0M369.5 486.8h0M381.0 516.6h0M384.6 476.3h0M412.1 519.1h0M393.8 513.0h0M378.8 512.8h0M420.0 524.3h0M362.8 515.0h0M401.4 515.0h0M401.1 498.2h0M413.9 507.4h0M380.3 506.1h0M367.2 519.9h0M382.3 520.1h0M409.4 469.6h0M413.0 520.2h0M403.5 482.2h0M419.5 514.0h0M407.9 518.2h0M379.6 480.9h0M373.6 503.8h0M339.1 460.2h0M401.2 540.6h0M399.6 502.5h0M347.5 466.3h0M359.5 488.1h0M375.5 532.2h0M363.0 482.2h0M403.1 508.0h0M391.9 502.8h0M410.3 480.6h0M394.6 456.7h0M405.9 518.8h0M372.9 512.3h0M371.0 532.9h0M362.2 514.0h0M387.9 496.8h0M375.5 511.3h0M410.3 537.9h0M413.8 487.8h0M401.9 510.8h0M369.0 491.5h0M418.8 519.2h0M411.8 465.9h0M385.3 476.8h0M401.6 540.9h0M374.6 495.9h0M335.4 464.3h0M371.8 520.3h0M388.2 495.5h0M387.0 511.1h0M397.2 509.0h0M419.6 508.1h0M391.0 489.5h0M407.1 497.8h0M405.0 542.4h0M418.4 514.3h0M410.4 486.0h0M398.4 468.1h0M399.7 456.6h0M370.6 502.9h0M369.0 521.0h0M394.4 486.1h0M416.8 473.0h0M417.1 526.8h0M384.3 490.9h0M404.4 504.0h0M393.5 497.1h0M402.3 483.8h0M381.9 515.6h0M387.3 459.9h0M375.2 496.9h0M379.7 502.0h0M370.5 510.2h0M414.4 490.0h0M371.9 482.3h0M389.4 508.9h0M400.8 462.3h0M381.9 474.2h0M410.3 473.7h0M368.0 514.6h0M423.0 525.4h0M400.3 529.4h0M410.2 494.0h0M388.9 454.7h0M355.0 486.3h0M417.3 491.6h0" stroke="#56B4E9" stroke-width="2.60" stroke-linecap="round" fill="none" /><path d="M377.4 497.8h0M397.2 511.8h0M406.1 525.6h0M405.3 513.4h0M376.7 494.3h0M379.2 476.5h0M393.8 509.1h0M373.7 495.9h0M380.5 521.5h0M380.4 515.0h0M379.6 532.2h0M397.8 507.8h0M388.4 519.2h0M394.7 509.9h0M409.4 530.8h0M365.3 481.6h0M416.1 553.0h0M406.2 504.2h0M403.2 516.3h0M369.7 480.9h0M359.8 515.3h0M388.1 521.1h0M406.3 473.0h0M388.8 496.3h0M376.8 476.2h0M365.6 483.1h0M391.3 480.5h0M407.0 512.9h0M399.0 481.4h0M390.4 538.8h0M417.6 510.4h0M381.3 534.2h0M411.1 505.2h0M366.2 481.7h0M382.4 490.9h0M403.5 474.7h0M376.9 475.7h0M371.9 527.1h0M415.8 501.9h0M401.8 483.0h0M384.3 476.0h0M393.6 467.8h0M370.2 516.1h0M420.2 482.5h0M400.8 507.2h0M393.5 533.4h0M383.6 491.3h0M393.2 482.7h0M365.5 485.1h0M368.1 501.3h0M397.3 479.5h0M368.5 520.4h0M387.0 537.8h0M368.8 513.8h0M393.3 485.3h0M383.9 461.0h0M368.5 488.7h0M383.8 473.0h0M384.6 487.9h0M410.1 491.4h0M407.1 526.2h0M381.0 532.7h0M366.9 504.2h0M374.3 471.2h0M398.6 463.5h0M403.3 539.9h0M422.8 490.4h0M411.2 489.7h0M371.6 487.8h0M420.4 530.2h0M387.4 487.0h0M417.8 529.9h0M367.5 515.0h0M419.3 483.3h0M418.1 502.7h0M389.5 514.8h0M390.4 487.8h0M385.3 482.7h0M381.2 520.7h0M394.0 512.5h0M371.7 526.9h0M385.5 492.1h0M331.9 462.0h0M389.3 485.1h0M361.9 486.3h0M397.0 515.0h0M386.1 499.1h0M390.6 531.7h0M375.2 520.7h0M401.7 472.5h0M375.0 478.7h0M406.4 492.9h0M384.0 487.3h0M354.4 487.9h0M415.8 518.8h0M389.5 530.4h0M407.8 534.0h0M375.6 503.6h0M362.7 482.6h0M385.4 536.7h0M391.3 502.0h0M387.3 495.2h0M416.6 534.3h0M394.6 531.1h0M400.5 490.9h0M390.2 535.1h0M390.9 502.7h0M414.8 517.9h0M412.8 527.2h0M410.4 470.8h0M388.1 496.9h0M381.1 496.6h0M363.4 487.0h0M383.0 473.7h0M398.7 489.8h0M393.9 494.9h0M360.3 487.3h0M406.9 523.5h0M359.0 493.6h0M398.5 524.0h0M390.0 540.4h0M366.7 505.3h0M405.9 490.6h0M408.9 483.8h0M402.8 485.7h0M374.6 508.8h0M415.4 479.3h0M398.1 485.7h0M389.2 503.0h0M419.2 520.2h0M408.6 489.3h0M421.3 511.0h0M383.9 538.6h0M399.8 534.0h0M396.2 486.3h0M394.1 529.0h0M372.0 506.4h0M400.7 508.4h0M407.7 524.4h0M379.7 493.8h0M399.0 512.4h0M347.4 484.1h0M393.2 483.3h0M384.3 495.6h0M395.7 541.5h0M418.9 522.6h0M416.5 501.8h0M385.8 502.9h0M392.7 529.9h0M403.8 467.7h0M376.4 487.3h0M416.4 500.4h0M384.6 484.4h0M393.6 511.0h0M409.0 516.4h0M412.0 485.9h0M383.7 527.3h0M406.5 507.9h0M370.7 519.1h0M384.7 494.5h0M382.0 505.4h0M370.4 485.8h0M376.7 490.7h0M373.5 519.7h0M396.5 507.3h0M407.7 507.5h0M393.1 509.7h0M385.4 507.6h0M376.6 521.0h0M399.3 479.9h0M375.8 531.2h0M403.9 490.6h0M384.9 483.3h0M383.9 508.4h0M367.2 526.8h0M368.7 515.2h0M394.1 520.6h0M374.8 485.6h0M410.1 503.1h0M415.2 546.0h0M405.6 499.5h0M387.8 538.2h0M376.5 494.4h0M421.9 481.0h0M405.8 532.9h0M424.2 520.7h0M378.3 470.6h0M365.5 481.4h0M406.9 525.8h0M345.2 462.5h0M411.2 506.7h0M384.4 537.6h0M385.5 480.0h0M383.9 505.2h0M368.6 499.3h0M393.9 515.5h0M415.0 549.0h0M398.7 467.3h0M369.7 499.1h0M379.0 464.5h0M417.5 533.5h0M368.2 478.3h0M393.0 515.5h0M388.9 498.2h0M412.6 534.8h0M418.7 504.9h0M379.0 484.7h0M420.6 524.6h0M406.6 513.3h0M375.4 525.3h0M393.7 534.9h0M391.0 508.9h0M399.0 532.9h0M373.3 495.6h0M410.6 530.2h0M413.2 510.3h0M372.2 490.3h0M416.5 514.1h0M378.4 527.3h0M410.0 531.4h0M383.1 492.9h0M397.2 528.2h0M412.0 505.7h0M407.1 502.7h0M413.9 484.5h0M355.2 483.0h0M382.4 511.0h0M417.2 519.0h0M416.0 509.7h0M378.7 499.3h0M375.7 474.4h0M384.2 483.5h0M408.6 518.1h0M365.6 521.2h0M354.6 484.6h0M358.5 486.0h0M365.3 482.9h0M361.9 519.7h0M367.1 518.6h0M364.7 520.9h0M371.6 520.1h0M347.7 484.3h0M330.4 477.9h0M358.4 490.5h0M328.7 477.9h0M399.3 459.8h0M322.6 476.0h0M381.2 507.9h0M323.5 472.9h0M373.9 499.7h0M326.2 478.8h0M331.6 477.0h0M328.2 479.1h0M329.5 477.1h0M356.6 485.8h0M372.7 522.5h0M334.3 480.5h0M359.8 490.2h0M328.8 475.1h0M331.7 473.9h0M353.9 490.0h0M354.8 484.5h0M356.5 510.5h0M351.3 484.2h0M361.5 502.1h0M370.3 506.3h0M335.1 482.2h0M319.8 476.2h0M397.4 456.2h0M420.9 505.3h0M367.2 519.0h0M321.8 478.6h0M367.2 517.2h0M334.3 472.1h0M329.8 476.9h0M363.1 508.2h0M385.2 457.0h0M392.7 456.2h0M375.0 521.5h0M365.0 487.6h0M363.8 519.5h0M330.5 478.2h0M327.8 480.2h0M324.4 478.0h0M323.0 473.2h0M322.4 473.2h0M365.3 487.1h0M327.8 472.0h0M381.5 499.2h0M367.3 525.0h0M327.9 481.4h0M329.2 477.0h0M368.6 491.3h0M363.0 490.6h0M368.3 519.2h0M360.9 487.6h0M363.1 520.9h0M327.4 481.1h0M322.0 475.6h0M328.3 480.7h0M392.3 456.2h0" stroke="#009E73" stroke-width="2.60" stroke-linecap="round" fill="none" /><path d="M365.9 493.8h0M420.0 527.3h0M394.3 489.8h0M416.0 523.9h0M403.4 525.1h0M384.3 522.5h0M383.0 497.7h0M367.3 526.1h0M400.1 495.5h0M411.4 516.7h0M424.1 514.8h0M402.4 481.5h0M400.5 522.6h0M390.1 523.3h0M384.6 481.7h0M416.8 496.8h0M372.5 484.2h0M385.8 521.8h0M383.9 462.6h0M380.6 537.9h0M361.2 484.7h0M396.5 524.6h0M414.2 528.3h0M406.1 503.9h0M332.2 471.8h0M419.4 523.1h0M332.9 463.7h0M367.3 490.4h0M398.4 528.4h0M344.9 466.9h0M409.3 503.2h0M395.3 523.8h0M394.9 502.5h0M408.9 526.0h0M405.4 503.1h0M413.4 539.1h0M384.2 485.3h0M402.9 510.0h0M379.6 465.3h0M408.9 538.1h0M402.8 532.5h0M392.6 469.3h0M391.4 470.5h0M404.5 522.1h0M410.7 539.8h0M370.5 488.3h0M410.3 532.8h0M335.6 472.2h0M392.2 524.0h0M418.0 520.6h0M388.4 527.4h0M390.1 535.3h0M419.2 473.2h0M391.4 532.7h0M336.7 463.6h0M388.5 493.1h0M371.3 527.9h0M405.2 479.4h0M363.3 486.7h0M369.5 488.8h0M406.3 478.2h0M370.8 479.5h0M415.9 516.4h0M371.9 509.5h0M383.1 530.7h0M399.4 454.1h0M388.2 483.0h0M381.5 532.6h0M366.2 508.8h0M418.5 514.3h0M410.8 483.3h0M375.3 505.0h0M384.5 540.3h0M403.6 471.0h0M391.0 502.2h0M399.3 495.2h0M411.9 516.3h0M400.8 519.6h0M383.4 464.2h0M388.1 488.3h0M416.2 508.4h0M377.8 491.9h0M364.6 488.2h0M377.3 486.9h0M374.6 495.4h0M392.4 492.5h0M392.3 523.5h0M383.9 534.4h0M344.2 465.0h0M415.3 498.8h0M406.9 498.3h0M388.8 453.4h0M405.8 481.0h0M379.7 482.4h0M363.9 494.0h0M411.4 508.1h0M422.5 478.7h0M379.0 526.4h0M413.5 534.8h0M396.5 533.9h0M417.9 517.7h0M377.4 468.7h0M414.0 470.3h0M421.1 477.2h0M380.2 484.9h0M405.7 527.1h0M399.0 488.2h0M364.4 499.9h0M374.9 525.2h0M389.5 512.8h0M409.4 501.6h0M398.5 520.3h0M383.9 495.2h0M412.3 517.1h0M373.8 475.5h0M381.6 511.8h0M403.7 542.8h0M388.9 510.0h0M383.0 532.4h0M403.6 511.4h0M413.0 525.0h0M383.7 488.2h0M388.7 467.2h0M369.4 526.6h0M398.2 487.3h0M416.0 477.1h0M399.2 468.9h0M399.6 533.1h0M396.1 519.1h0M373.6 483.8h0M392.1 517.9h0M402.1 494.1h0M422.2 513.9h0M406.2 478.9h0M388.7 503.0h0M411.5 487.8h0M346.2 483.5h0M368.8 516.9h0M380.7 488.8h0M376.3 512.1h0M425.6 477.5h0M413.5 506.2h0M381.3 535.0h0M414.1 495.3h0M379.3 534.5h0M358.2 489.0h0M393.3 496.8h0M378.7 493.7h0M407.8 541.1h0M401.9 505.3h0M376.3 491.8h0M404.2 478.2h0M366.2 505.1h0M387.3 530.2h0M382.1 527.4h0M365.5 520.9h0M421.2 506.5h0M413.9 501.2h0M361.8 486.2h0M379.2 488.2h0M368.8 493.5h0M380.2 496.3h0M404.6 503.3h0M380.8 460.4h0M412.9 494.9h0M419.3 527.7h0M378.8 517.8h0M408.2 504.6h0M365.0 510.6h0M414.0 526.0h0M370.8 503.8h0M389.8 507.0h0M383.3 500.3h0M403.2 465.5h0M406.9 485.1h0M369.9 522.1h0M392.4 498.2h0M366.7 498.9h0M422.2 519.9h0M397.6 473.6h0M348.3 486.5h0M392.0 473.5h0M396.1 458.6h0M397.6 528.6h0M375.3 514.9h0M355.1 483.1h0M382.0 535.7h0M374.2 474.2h0M373.0 520.7h0M390.8 531.0h0M382.4 507.4h0M402.1 484.1h0M402.3 461.6h0M350.9 484.4h0M328.2 472.9h0M382.7 518.7h0M322.7 475.0h0M321.9 472.2h0M324.9 472.9h0M391.7 455.5h0M366.1 514.1h0M354.2 488.7h0M330.3 480.3h0M326.2 470.9h0M362.8 520.1h0M422.6 472.6h0M357.4 486.6h0M327.7 475.4h0M372.0 522.5h0M368.2 484.5h0M366.4 488.8h0M368.0 489.7h0M357.2 486.6h0M397.4 461.1h0M358.6 487.8h0M417.7 473.1h0M355.3 484.2h0M362.7 517.0h0M423.4 519.3h0M364.1 517.6h0M357.7 486.0h0M325.9 469.2h0M369.8 508.8h0M358.7 517.5h0M375.1 495.1h0M362.8 516.6h0M353.5 484.9h0M365.7 519.6h0M333.8 475.0h0M370.5 521.4h0M358.4 489.3h0M331.8 473.3h0M395.8 457.4h0M348.5 484.6h0M375.0 532.9h0M399.8 455.6h0M364.7 521.4h0M322.5 479.8h0M323.6 477.7h0M331.9 479.9h0M330.0 467.6h0M322.8 476.8h0M393.5 459.2h0M363.4 520.3h0M330.7 475.9h0M360.7 517.7h0M320.4 477.3h0M356.4 514.7h0M422.9 523.3h0M401.3 457.0h0M326.8 473.3h0M384.5 530.6h0M363.7 520.7h0" stroke="#56B4E9" stroke-width="2.60" stroke-linecap="round" fill="none" /><path d="M406.5 522.8h0M391.9 470.7h0M397.3 474.6h0M410.7 490.2h0M371.8 500.7h0M388.5 517.0h0M379.5 513.5h0M387.3 484.5h0M412.2 474.9h0M411.4 526.2h0M400.4 507.5h0M415.3 545.7h0M395.0 511.8h0M373.7 498.1h0M407.4 465.6h0M402.1 539.0h0M409.4 539.9h0M405.7 463.8h0M405.2 465.0h0M372.6 533.6h0M417.7 504.5h0M372.8 484.8h0M369.7 511.6h0M393.7 523.2h0M399.2 529.0h0M397.1 530.9h0M371.6 530.5h0M385.0 467.5h0M367.1 498.2h0M392.7 466.7h0M419.9 510.0h0M366.6 501.0h0M375.5 499.1h0M398.4 458.1h0M393.2 481.6h0M364.4 506.4h0M392.2 524.8h0M410.9 529.8h0M391.5 512.9h0M407.0 466.5h0M403.4 455.8h0M384.2 472.2h0M403.3 455.8h0M400.7 487.9h0M394.9 540.7h0M412.8 467.8h0M407.0 460.4h0M397.7 490.0h0M414.9 475.7h0M401.9 460.9h0M361.4 489.5h0M400.0 500.8h0M415.8 527.7h0M402.1 457.5h0M379.4 501.6h0M396.3 521.9h0M405.0 479.2h0M390.2 502.7h0M393.5 459.1h0M406.0 503.5h0M397.5 453.7h0M388.2 465.0h0M353.0 488.6h0M338.3 457.1h0M392.6 472.3h0M399.7 473.0h0M380.1 518.7h0M393.3 459.7h0M408.4 466.9h0M413.6 496.4h0M403.2 464.5h0M414.6 501.7h0M414.9 506.7h0M402.8 464.9h0M407.1 460.7h0M404.0 498.6h0M410.8 535.8h0M356.4 507.1h0M387.4 538.6h0M389.3 460.8h0M377.8 475.3h0M423.0 521.6h0M402.0 539.0h0M405.7 529.7h0M414.0 507.7h0M391.0 456.3h0M388.6 475.5h0M413.6 478.5h0M396.6 536.5h0M406.2 468.3h0M401.9 485.6h0M408.0 519.7h0M407.5 484.1h0M407.0 541.8h0M372.4 511.9h0M392.5 459.7h0M386.2 467.6h0M390.4 510.8h0M390.6 506.5h0M407.5 527.6h0M398.0 531.0h0M408.5 481.6h0M405.1 469.6h0M416.2 468.2h0M411.1 497.3h0M412.3 467.7h0M415.9 519.0h0M424.0 478.9h0M413.8 495.7h0M386.5 461.1h0M418.1 484.3h0M388.3 512.7h0M334.7 464.5h0M390.5 455.1h0M415.3 496.6h0M397.3 475.7h0M371.9 487.1h0M382.3 466.6h0M396.3 540.5h0M384.9 469.9h0M396.9 493.9h0M387.0 456.8h0M388.7 459.2h0M375.5 511.4h0M378.5 471.6h0M417.4 549.6h0M420.3 471.1h0M400.8 456.8h0M393.1 456.8h0M334.6 469.9h0M405.4 459.1h0M390.6 453.5h0M398.3 456.9h0M391.6 459.9h0M403.6 457.7h0M389.5 456.3h0M390.0 453.5h0M396.2 458.5h0M396.5 457.5h0M359.5 490.3h0M358.6 487.3h0M394.6 455.4h0M404.2 460.4h0M392.0 457.3h0M388.5 458.5h0M389.6 460.0h0M366.8 521.3h0M365.2 521.6h0M395.7 457.3h0M355.8 488.6h0M390.2 454.6h0M395.0 454.3h0M389.5 454.6h0M323.7 477.2h0M357.6 485.7h0M330.9 471.2h0M371.9 476.3h0M392.9 454.2h0M390.4 457.3h0M397.1 457.9h0M400.4 455.0h0M390.2 456.8h0M391.3 455.8h0M398.0 460.6h0M397.7 456.0h0M327.5 474.6h0M384.8 458.8h0M393.0 454.3h0M328.5 473.1h0M395.3 457.3h0M359.8 492.0h0M390.8 455.5h0M408.2 463.6h0M394.8 458.8h0M396.3 456.8h0M398.7 458.9h0M419.8 475.1h0M419.7 477.9h0M366.1 526.2h0M365.1 488.9h0M395.8 455.4h0M401.3 456.4h0M396.4 459.8h0M388.5 458.8h0M397.4 460.2h0M351.8 485.0h0M397.2 456.5h0M395.8 456.7h0M393.3 458.5h0M336.0 478.6h0M402.7 460.5h0M391.6 456.4h0M397.3 454.1h0M364.4 503.9h0M391.3 455.2h0M395.0 457.6h0M400.0 456.6h0M386.5 455.7h0M386.8 457.0h0M362.6 487.1h0M392.2 457.3h0M395.2 455.4h0M401.4 459.6h0M333.5 477.7h0M396.6 455.8h0M417.1 469.7h0" stroke="#E69F00" stroke-width="2.60" stroke-linecap="round" fill="none" /><path d="M389.9 498.0h0M418.7 489.8h0M415.4 535.5h0M388.7 526.1h0M403.3 510.8h0M410.8 530.0h0M398.5 528.2h0M399.3 542.2h0M400.6 535.5h0M405.8 476.6h0M412.0 517.9h0M379.0 524.3h0M381.9 529.2h0M379.9 531.7h0M390.9 527.5h0M408.4 530.4h0M389.2 496.3h0M414.5 471.7h0M400.3 534.3h0M393.1 469.2h0M384.6 464.2h0M405.6 473.9h0M386.4 455.2h0M385.8 477.7h0M355.4 488.7h0M362.9 484.2h0M327.7 471.6h0M418.3 548.6h0M321.6 473.3h0M328.0 476.6h0" stroke="#F0E442" stroke-width="2.60" stroke-linecap="round" fill="none" /><rect x="433.8" y="446.3" width="19.3" height="26.9" fill="#E69F00" /><rect x="433.8" y="473.2" width="19.3" height="32.9" fill="#56B4E9" /><rect x="433.8" y="506.1" width="19.3" height="42.7" fill="#009E73" /><rect x="433.8" y="548.8" width="19.3" height="4.8" fill="#F0E442" /><line x1="318.8" y1="557.3" x2="453.1" y2="557.3" stroke="#333" stroke-width="0.80" /><text x="388.3" y="566.2" font-size="6.40" text-anchor="middle" font-weight="normal" fill="#444"  stroke="#444" stroke-width="0.15">ZIKV+diluent</text><polygon points="533.2,454.8 537.6,452.2 548.4,452.9 553.2,457.6 559.5,463.2 563.5,466.4 568.9,471.1 573.7,475.8 572.9,480.6 569.8,483.7 566.6,485.6 563.5,487.6 567.3,489.1 571.4,490.7 572.1,493.2 568.2,494.8 565.1,496.3 566.6,499.5 569.8,504.2 571.4,507.4 570.8,510.5 572.9,515.3 573.7,520.0 572.1,526.3 568.9,530.1 566.6,534.2 563.5,537.3 560.3,541.2 559.5,543.6 563.5,546.8 567.3,548.4 566.6,552.2 563.5,553.1 559.5,549.1 556.3,545.2 547.2,545.0 536.7,542.4 527.0,538.9 519.2,533.6 513.9,526.6 510.4,521.4 503.4,517.9 500.8,512.6 502.5,507.4 506.9,504.7 507.8,501.2 499.0,501.2 497.3,498.6 499.9,496.9 506.0,496.0 504.8,491.6 501.6,488.1 494.6,485.5 493.8,483.2 497.3,482.0 506.9,482.5 512.2,480.2 517.4,474.1 520.9,467.1 527.0,460.9 531.4,459.2" fill="#E6E6E6" /><path d="M535.9 452.3h0M537.2 451.2h0M536.7 452.5h0M544.8 452.5h0M542.7 453.1h0M544.1 452.6h0M541.3 452.0h0M549.3 453.4h0M551.4 455.8h0M552.6 457.3h0M559.6 462.8h0M558.5 462.8h0M555.2 458.5h0M559.6 462.8h0M561.1 464.6h0M559.5 464.1h0M563.3 466.0h0M565.4 467.3h0M564.4 468.0h0M569.3 471.4h0M572.5 474.6h0M572.2 475.3h0M573.9 476.0h0M573.3 481.1h0M570.4 483.3h0M571.0 481.6h0M569.4 483.0h0M568.3 485.7h0M566.0 486.4h0M563.1 488.4h0M565.4 488.8h0M564.4 488.0h0M570.4 490.2h0M568.2 489.2h0M571.7 492.4h0M568.4 494.6h0M572.0 493.2h0M566.8 495.3h0M566.9 498.4h0M569.5 503.5h0M567.3 499.8h0M571.5 505.6h0M570.3 510.6h0M572.0 514.0h0M572.0 512.8h0M574.3 519.8h0M573.2 517.8h0M573.4 520.7h0M573.3 521.4h0M572.1 523.6h0M570.8 527.3h0M570.6 527.4h0M568.9 531.1h0M568.2 532.5h0M565.6 534.5h0M563.5 536.0h0M561.9 538.0h0M560.3 541.3h0M559.1 542.0h0M562.7 546.6h0M560.7 543.2h0M565.0 546.8h0M566.7 548.7h0M566.7 550.2h0M567.0 550.1h0M564.7 552.9h0M561.5 551.0h0M560.6 550.2h0M558.0 547.4h0M558.9 548.8h0M555.1 545.3h0M552.3 544.7h0M554.2 545.2h0M552.5 545.6h0M546.2 544.3h0M546.6 544.8h0M541.1 544.2h0M537.3 542.0h0M538.3 542.5h0M534.8 541.5h0M528.1 538.9h0M533.3 541.2h0M535.0 541.8h0M525.2 537.4h0M523.8 537.1h0M525.2 537.3h0M520.0 533.5h0M518.4 531.8h0M516.4 532.0h0M516.5 530.8h0M518.1 532.4h0M513.1 524.2h0M513.5 526.5h0M510.7 521.4h0M509.4 521.7h0M507.9 520.0h0M505.2 518.6h0M503.1 516.8h0M501.8 515.4h0M501.2 509.9h0M502.0 508.6h0M502.6 507.0h0M506.3 505.0h0M507.0 502.3h0M507.1 501.8h0M499.4 501.6h0M500.5 501.6h0M501.4 501.6h0M501.3 501.4h0M497.9 499.0h0M498.0 497.6h0M502.3 497.1h0M505.2 496.3h0M505.1 495.4h0M505.8 494.5h0M504.8 491.5h0M502.3 489.4h0M501.7 488.0h0M499.8 487.2h0M497.1 486.6h0M497.5 486.5h0M494.5 484.7h0M495.7 481.5h0M493.8 483.2h0M501.9 482.4h0M501.6 482.4h0M498.3 481.6h0M505.4 482.2h0M507.9 481.8h0M510.6 480.8h0M512.8 479.4h0M512.9 478.4h0M512.5 479.5h0M517.5 473.0h0M520.0 468.0h0M521.0 468.6h0M522.0 467.7h0M525.1 463.1h0M526.4 460.3h0M521.4 465.9h0M527.7 461.1h0M528.4 460.5h0M532.3 454.8h0M532.5 456.8h0" stroke="#E6E6E6" stroke-width="2.50" stroke-linecap="round" fill="none" /><polygon points="467.0,479.5 467.5,474.7 468.8,469.9 471.0,465.5 474.5,461.6 478.9,458.9 484.1,457.2 487.6,455.0 490.2,455.4 493.3,458.1 494.6,462.4 496.4,465.9 498.1,468.1 499.4,471.6 499.0,473.4 497.3,472.9 494.6,469.9 492.4,468.1 489.8,466.8 488.5,463.3 486.7,460.7 485.0,462.4 483.7,465.9 482.4,468.1 482.8,470.8 485.0,472.5 485.9,475.6 485.0,478.2 487.6,479.5 489.8,481.3 489.8,483.9 487.6,484.3 485.0,484.8 482.4,483.0 478.9,481.3 475.4,481.7 471.0,482.1 468.4,481.7" fill="#E6E6E6" /><path d="M466.6 476.3h0M467.3 477.7h0M468.8 474.0h0M468.1 472.4h0M470.4 467.4h0M469.5 468.1h0M471.8 465.3h0M472.5 463.8h0M475.5 461.2h0M475.8 461.4h0M479.5 458.7h0M483.5 456.6h0M486.0 456.1h0M486.3 456.4h0M489.7 455.6h0M490.3 455.7h0M491.9 456.4h0M493.3 459.5h0M494.2 461.0h0M494.5 462.2h0M494.5 465.3h0M497.2 466.3h0M499.3 469.7h0M499.0 471.5h0M500.4 472.3h0M498.3 473.1h0M497.1 472.4h0M497.1 473.3h0M494.1 469.4h0M490.1 467.4h0M489.1 465.4h0M489.9 466.1h0M486.1 460.3h0M487.0 461.1h0M483.9 463.9h0M484.0 463.5h0M482.4 466.9h0M482.8 469.0h0M483.1 470.0h0M485.4 473.6h0M486.1 476.5h0M486.5 479.1h0M489.5 480.8h0M489.7 482.2h0M488.6 484.8h0M486.7 484.1h0M482.5 483.2h0M478.8 480.6h0M479.7 481.4h0M475.8 481.8h0M475.3 482.1h0M472.4 482.2h0M468.9 481.8h0M468.6 481.9h0" stroke="#E6E6E6" stroke-width="2.50" stroke-linecap="round" fill="none" /><path d="M557.7 536.5h0M555.7 526.0h0M538.1 464.2h0M563.0 490.4h0M524.3 495.9h0M556.8 520.8h0M540.6 457.5h0M533.8 458.8h0M568.0 480.1h0M532.0 474.9h0M543.2 466.4h0M562.1 536.6h0M538.2 462.0h0M540.6 460.5h0M545.0 461.9h0M544.4 487.7h0M515.9 497.5h0M538.8 455.2h0M521.8 498.8h0M560.2 500.2h0M539.0 463.1h0M549.2 464.7h0M531.4 520.4h0M482.9 463.2h0M539.6 501.6h0M539.4 479.0h0M570.2 519.1h0M562.7 502.2h0M538.5 510.9h0M511.2 511.4h0M547.8 465.2h0M547.9 465.4h0M560.1 519.5h0M565.7 481.6h0M543.3 541.0h0M530.2 489.3h0M509.0 497.7h0M510.9 482.7h0M565.9 508.0h0M559.4 463.5h0M516.2 515.0h0M530.1 495.2h0M541.2 516.1h0M544.4 458.0h0M473.5 465.1h0M525.2 470.3h0M531.8 494.5h0M565.5 516.6h0M548.1 527.2h0M535.0 528.9h0M529.2 494.8h0M535.1 458.6h0M561.8 481.8h0M528.9 492.4h0M535.0 522.8h0M546.6 459.8h0M538.0 511.4h0M541.5 522.6h0M518.4 487.8h0M526.0 465.7h0M555.7 484.2h0M549.8 511.0h0M567.1 471.3h0M558.7 505.4h0M540.1 482.1h0M558.4 483.7h0M560.9 535.4h0M564.7 500.2h0M553.4 466.2h0M553.5 530.2h0M536.1 520.2h0M562.5 469.7h0M528.8 508.7h0M564.8 475.4h0M543.0 456.9h0M535.9 463.8h0M515.7 482.6h0M566.4 517.1h0M532.1 467.7h0M553.5 478.1h0M557.3 525.6h0M567.0 479.4h0M554.3 467.0h0M543.0 536.3h0M539.9 489.0h0M556.0 499.0h0M556.3 468.2h0M543.6 454.8h0M512.9 505.6h0M518.5 499.9h0M565.0 503.2h0M558.4 472.8h0M535.6 453.8h0M566.3 501.6h0M540.5 458.7h0M563.3 477.9h0M476.2 462.9h0M560.9 477.2h0M519.5 510.0h0M555.5 541.4h0M538.4 530.4h0M551.8 459.4h0M560.6 500.3h0M543.5 455.8h0M553.9 497.3h0M534.0 462.0h0M557.2 489.0h0M539.5 452.6h0M517.9 484.7h0M556.6 523.1h0M546.9 543.7h0M556.9 469.9h0M538.3 512.9h0M536.9 474.9h0M557.4 540.2h0M544.6 464.8h0M563.5 509.3h0M549.5 510.5h0M549.6 459.2h0M545.5 534.3h0M541.1 456.2h0M526.0 531.7h0M544.9 462.3h0M550.7 455.8h0M520.6 500.9h0M520.3 496.8h0M518.3 510.5h0M561.2 476.1h0M535.1 468.3h0M540.0 470.3h0M480.1 460.2h0M539.6 518.9h0M541.4 460.7h0M560.9 513.7h0M543.9 468.9h0M546.0 502.2h0M557.5 495.9h0M543.6 462.3h0M540.5 501.7h0M560.1 481.6h0M537.1 477.1h0M546.2 541.8h0M570.3 526.0h0M557.8 466.1h0M557.1 488.6h0M540.7 505.0h0M493.7 460.6h0M532.0 478.0h0M548.7 487.0h0M537.5 529.8h0M555.0 493.5h0M565.6 511.1h0M546.0 527.0h0M568.3 504.8h0M529.0 485.4h0M534.0 539.5h0M521.4 494.2h0M560.9 531.2h0M538.5 452.9h0M543.1 454.7h0M534.3 491.8h0M533.1 514.5h0M564.7 507.3h0M547.1 463.8h0M561.1 528.9h0M548.9 541.7h0M510.4 512.7h0M561.2 492.9h0M560.7 535.2h0M565.1 474.1h0M522.6 526.7h0M542.0 529.9h0M557.0 534.9h0M524.4 471.8h0M527.7 538.3h0M559.5 497.7h0M551.2 458.6h0M541.8 513.9h0M565.5 491.9h0M545.7 539.4h0M547.8 486.2h0M564.5 467.6h0M558.0 512.1h0" stroke="#E69F00" stroke-width="2.60" stroke-linecap="round" fill="none" /><path d="M540.6 541.5h0M524.9 495.0h0M517.5 523.3h0M542.4 468.1h0M539.1 514.7h0M526.6 476.0h0M521.0 510.8h0M504.1 513.2h0M549.8 481.2h0M558.5 539.5h0M566.3 522.8h0M544.4 523.2h0M536.2 495.7h0M527.9 482.8h0M529.2 510.1h0M561.4 526.7h0M558.6 480.9h0M533.3 470.9h0M539.1 534.3h0M537.9 499.7h0M522.4 476.2h0M522.4 475.2h0M537.4 522.0h0M561.2 476.7h0M544.4 506.7h0M566.0 528.6h0M551.9 486.2h0M520.4 486.8h0M495.0 485.1h0M509.2 506.9h0M547.7 533.2h0M541.7 480.3h0M539.4 502.9h0M557.0 531.5h0M507.8 515.1h0M541.8 484.2h0M531.1 467.3h0M558.1 511.0h0M508.5 509.5h0M552.3 532.3h0M549.5 488.5h0M534.2 489.9h0M533.4 488.9h0M528.6 496.3h0M569.7 515.9h0M565.7 491.0h0M532.7 495.1h0M554.9 470.2h0M537.0 519.2h0M526.8 464.0h0M522.9 518.1h0M534.8 484.5h0M518.7 502.5h0M544.3 537.6h0M526.5 512.1h0M552.2 511.9h0M525.1 527.3h0M536.7 510.4h0M557.2 514.4h0M555.9 515.9h0M552.3 535.7h0M543.0 486.9h0M534.6 516.4h0M541.3 471.4h0M506.8 508.3h0M548.9 473.3h0M545.3 476.4h0M548.7 481.6h0M531.7 513.8h0M524.4 524.6h0M542.8 508.0h0M520.4 480.5h0M506.5 491.5h0M518.0 521.5h0M540.3 469.7h0M532.5 494.2h0M519.0 496.9h0M518.3 530.3h0M552.7 523.4h0M481.2 470.0h0M536.8 525.5h0M529.5 510.8h0M527.7 524.6h0M526.0 523.6h0M527.1 484.5h0M555.2 507.5h0M561.0 484.8h0M542.3 498.2h0M540.2 498.1h0M554.0 467.3h0M537.9 526.1h0M531.7 536.5h0M519.0 484.0h0M534.5 509.5h0M563.3 536.8h0M506.5 507.8h0M534.2 524.2h0M550.4 523.6h0M550.3 507.3h0M535.3 498.8h0M534.4 499.5h0M508.9 487.8h0M540.7 486.0h0M536.0 473.2h0M518.5 504.8h0M480.1 476.5h0M549.0 526.2h0M559.1 539.1h0M562.0 527.3h0M510.0 490.6h0M533.9 528.1h0M524.0 524.3h0M523.2 519.6h0M520.8 504.4h0M516.0 478.7h0M520.8 524.6h0M478.2 461.5h0M544.0 536.5h0M531.2 483.2h0M537.9 494.6h0M538.1 525.4h0M526.4 510.3h0M511.5 483.1h0M481.0 470.6h0M487.5 459.8h0M511.9 487.5h0M540.7 498.1h0M512.0 493.9h0M543.6 471.4h0M540.0 509.4h0M545.4 531.5h0M569.3 492.1h0M523.3 507.0h0M540.5 510.6h0M528.3 536.0h0M532.4 520.2h0M563.6 516.6h0M531.8 520.2h0M513.9 507.7h0M548.4 534.5h0M545.6 503.6h0M560.3 506.9h0M521.1 531.5h0M558.4 483.5h0M568.6 527.6h0M541.9 515.2h0M518.5 480.0h0M548.6 538.7h0M525.9 493.2h0M518.1 489.3h0M512.5 514.5h0M489.5 456.2h0M541.1 536.7h0M496.3 483.9h0M555.8 490.3h0M534.2 510.8h0M531.1 505.2h0M524.6 486.8h0M530.1 466.1h0M522.8 485.2h0M557.9 519.9h0M546.0 493.0h0M556.2 464.0h0M563.2 515.8h0M515.1 487.2h0M527.7 522.8h0M551.8 504.5h0M553.9 505.4h0M562.8 504.4h0M523.5 518.0h0M511.9 495.5h0M530.0 488.2h0M533.8 482.0h0M523.8 516.4h0M563.2 526.3h0M509.5 496.8h0M552.4 474.3h0M538.9 487.9h0M536.7 496.9h0M531.7 529.4h0M518.4 526.6h0M540.2 519.2h0M540.4 500.1h0M546.8 522.0h0M494.9 482.3h0M514.9 498.7h0M553.9 538.2h0M526.7 503.4h0M516.2 513.4h0M520.6 516.8h0M473.1 465.3h0M554.6 484.6h0M556.8 504.1h0M545.8 525.6h0M546.2 471.9h0M555.2 511.1h0M569.1 507.2h0M540.9 519.2h0M511.2 497.3h0M569.6 513.2h0M520.9 495.8h0M546.9 534.3h0M557.5 533.1h0M550.8 539.6h0M555.0 470.1h0M560.6 486.2h0M535.2 485.4h0M544.4 480.7h0M525.1 500.2h0M543.4 505.5h0M545.5 478.0h0M524.3 533.2h0" stroke="#F0E442" stroke-width="2.60" stroke-linecap="round" fill="none" /><path d="M540.0 501.1h0M563.9 470.8h0M555.5 530.6h0M554.9 459.8h0M479.3 461.1h0M512.5 500.1h0M560.1 503.1h0M551.1 535.4h0M529.3 485.1h0M540.2 512.3h0M535.7 506.6h0M564.2 525.8h0M533.8 503.3h0M540.3 524.5h0M542.9 473.1h0M548.9 470.5h0M511.4 507.1h0M527.1 461.8h0M564.4 508.3h0M564.8 480.1h0M526.1 470.7h0M558.4 513.9h0M561.6 481.3h0M568.0 513.3h0M553.2 482.3h0M553.8 477.1h0M541.8 540.1h0M510.1 489.1h0M558.3 477.7h0M560.6 498.3h0M552.0 506.2h0M545.6 539.9h0M566.7 551.8h0M543.9 494.1h0M481.9 467.0h0M520.3 471.8h0M550.5 532.2h0M534.4 481.8h0M525.5 515.5h0M529.3 501.0h0M542.6 459.7h0M567.6 474.9h0M517.4 494.9h0M507.9 491.4h0M511.7 510.6h0M541.6 489.1h0M557.1 469.0h0M553.3 479.6h0M536.1 494.3h0M538.5 481.6h0M513.3 521.0h0M542.5 518.9h0M539.3 539.1h0M521.7 470.6h0M555.3 531.7h0M531.2 491.8h0M559.6 521.0h0M547.6 531.5h0M514.7 521.3h0M544.4 469.9h0M540.1 532.0h0M531.5 490.5h0M551.9 493.0h0M521.3 477.4h0M543.0 532.0h0M546.0 467.3h0M530.1 511.2h0M565.5 514.3h0M523.2 493.7h0M560.5 493.0h0M526.2 489.4h0M514.7 500.7h0M555.4 472.6h0M530.9 489.2h0M525.4 519.4h0M547.3 533.9h0M539.9 511.9h0M537.6 522.4h0M530.9 483.2h0M571.6 515.9h0M555.8 539.5h0M539.1 493.9h0M554.1 470.1h0M556.8 491.6h0M505.5 509.9h0M502.8 513.3h0M517.6 493.5h0M569.1 473.6h0M546.3 499.4h0M537.2 464.4h0M542.4 520.1h0M541.7 499.0h0M518.5 504.7h0M557.8 504.4h0M510.5 506.9h0M569.8 481.0h0M532.6 523.1h0M545.1 480.6h0M556.9 517.8h0M559.6 504.5h0M515.4 497.6h0M527.5 519.0h0M552.2 507.2h0M534.4 463.1h0M512.5 481.1h0M528.3 486.3h0M551.7 493.2h0M516.9 507.1h0M551.1 459.6h0M537.0 476.4h0M567.3 504.2h0M520.3 505.0h0M561.0 500.3h0M557.8 512.7h0M515.2 484.8h0M562.3 508.3h0M557.6 521.5h0M533.5 497.5h0M548.8 505.8h0M556.6 497.0h0M549.1 539.8h0M518.8 503.6h0M547.4 461.7h0M561.6 507.4h0M556.0 509.0h0M558.1 539.9h0M537.9 504.1h0M504.7 511.9h0M571.2 476.3h0M544.9 461.5h0M482.6 467.6h0M561.9 497.7h0M544.3 515.0h0M570.3 523.5h0M528.3 518.1h0M554.3 537.7h0M541.5 492.0h0M519.3 507.6h0M524.0 517.2h0M534.5 524.9h0M559.5 525.7h0M531.2 466.7h0M568.4 518.5h0M505.0 515.9h0M561.3 549.3h0M563.6 473.8h0M528.7 511.8h0M566.7 510.1h0M534.2 461.8h0M520.1 505.9h0M535.5 467.4h0M529.1 477.0h0M568.4 505.9h0M519.7 483.9h0M475.4 464.1h0M549.1 484.8h0M507.0 489.5h0M523.3 505.9h0M528.8 512.9h0M542.2 490.3h0M523.7 519.0h0M531.4 514.3h0M542.1 496.4h0M559.4 509.3h0M534.1 527.9h0M548.0 518.4h0M562.0 476.1h0M556.3 466.7h0M555.8 514.0h0M570.8 524.6h0M524.5 526.9h0M542.7 485.8h0M562.6 506.0h0M525.3 511.8h0M543.6 516.5h0M539.1 502.3h0M511.5 504.1h0M542.5 475.8h0M544.2 534.8h0M566.8 470.4h0M554.0 468.6h0M516.1 520.3h0M472.0 469.5h0M520.4 482.3h0M528.5 501.1h0M532.1 536.8h0M514.4 524.2h0M539.2 480.9h0M562.6 504.2h0M471.6 465.6h0M526.9 527.6h0M524.3 517.6h0M524.5 484.7h0M562.7 485.5h0M516.6 517.1h0M515.2 479.7h0M542.7 457.8h0M546.2 539.0h0M531.6 527.0h0M546.7 527.1h0M561.1 520.7h0M530.2 529.9h0M542.4 539.8h0M526.1 493.2h0M529.4 463.0h0M561.3 514.8h0M540.3 469.5h0M520.8 473.9h0M558.1 502.6h0M527.8 463.7h0M570.9 515.8h0" stroke="#56B4E9" stroke-width="2.60" stroke-linecap="round" fill="none" /><path d="M552.0 472.4h0M544.1 515.2h0M549.6 524.2h0M530.1 505.3h0M537.5 518.8h0M526.3 486.9h0M544.3 478.9h0M527.3 497.0h0M554.9 540.4h0M568.2 515.3h0M538.5 477.8h0M541.3 475.5h0M518.0 502.5h0M546.0 518.6h0M515.4 502.5h0M554.1 537.8h0M521.4 475.0h0M535.2 487.8h0M513.2 489.7h0M553.0 472.3h0M555.7 477.2h0M562.1 501.2h0M535.4 518.0h0M551.7 490.6h0M567.0 471.3h0M520.3 490.5h0M554.3 470.0h0M556.1 539.7h0M481.0 462.3h0M502.0 499.5h0M544.5 501.8h0M517.1 494.4h0M519.9 526.9h0M537.1 497.1h0M547.1 498.6h0M547.0 475.2h0M515.9 478.2h0M513.3 482.1h0M562.4 551.8h0M566.7 508.2h0M512.8 508.5h0M550.6 529.1h0M508.6 491.1h0M529.4 469.1h0M512.8 519.8h0M518.6 509.3h0M514.0 501.5h0M510.3 502.5h0M556.4 514.8h0M555.4 475.4h0M529.4 479.8h0M547.0 505.5h0M542.7 505.7h0M524.3 478.5h0M559.1 475.0h0M535.9 519.6h0M549.3 515.5h0M560.9 533.7h0M508.7 494.4h0M557.6 474.3h0M552.7 486.8h0M555.4 503.5h0M550.2 477.0h0M563.8 524.7h0M538.3 539.6h0M511.7 490.5h0M541.7 483.5h0M550.7 473.1h0M534.0 506.8h0M508.7 518.0h0M519.2 498.5h0M540.2 467.8h0M540.6 517.4h0M532.3 535.5h0M553.5 474.0h0M545.9 453.8h0M562.4 496.2h0M529.9 503.5h0M521.1 470.1h0M563.8 550.3h0M515.1 493.3h0M549.7 470.5h0M536.8 527.9h0M516.1 510.3h0M523.6 474.7h0M550.8 474.7h0M533.8 519.6h0M521.1 511.0h0M531.9 482.5h0M524.5 514.3h0M544.2 523.0h0M548.0 514.3h0M536.6 490.7h0M547.1 511.8h0M546.9 469.2h0M534.6 532.8h0M543.3 521.7h0M554.3 481.4h0M543.8 542.1h0M533.1 478.8h0M472.1 468.3h0M537.0 537.0h0M552.2 502.7h0M547.8 490.6h0M531.1 498.7h0M510.1 499.6h0M547.0 509.5h0M511.1 492.9h0M557.6 478.8h0M524.4 484.1h0M523.2 468.6h0M527.6 478.8h0M536.3 484.4h0M525.4 488.1h0M554.4 511.5h0M553.8 519.9h0M507.7 510.1h0M542.6 522.7h0M513.2 499.0h0M523.1 479.0h0M523.2 534.6h0M556.3 536.3h0M530.4 472.5h0M478.0 461.8h0M565.2 503.2h0M508.7 512.1h0M556.1 500.6h0M565.9 518.3h0M561.8 537.3h0M551.8 477.1h0M561.6 473.4h0M506.6 513.7h0M536.9 469.4h0M527.1 489.1h0M506.3 514.1h0M534.7 479.5h0M562.6 511.7h0M548.3 528.6h0M557.7 533.5h0M549.1 501.1h0M492.1 467.9h0M538.6 480.6h0M543.2 505.0h0M567.9 518.4h0M553.1 474.6h0M540.1 459.8h0M537.3 503.7h0M555.8 521.6h0M533.6 497.7h0M518.5 495.1h0M476.0 461.8h0M541.3 530.2h0M542.1 541.3h0M543.3 503.2h0M534.3 502.1h0M560.5 506.8h0M528.0 488.6h0M483.0 463.1h0M538.3 489.4h0M555.3 530.3h0M513.8 483.2h0M552.7 501.3h0M503.6 486.4h0M508.0 513.5h0M543.0 503.6h0M536.3 484.6h0M519.9 486.9h0M538.2 530.0h0M541.6 519.2h0M566.4 475.1h0M477.8 462.7h0M529.3 498.2h0M559.1 527.7h0M566.1 491.4h0M524.5 500.4h0M520.1 507.2h0M518.5 485.9h0M473.5 463.6h0M538.0 517.4h0M554.0 488.5h0M538.0 512.7h0M546.2 472.3h0M559.1 519.7h0M549.6 481.5h0M526.2 524.3h0M556.6 525.5h0M518.0 516.7h0M553.8 525.2h0M547.7 533.7h0M513.4 504.0h0M514.3 509.4h0M533.4 473.9h0M540.7 536.3h0M562.5 518.9h0M539.5 476.2h0M526.7 513.2h0M530.1 504.5h0M549.0 486.9h0M544.1 469.3h0M528.8 530.8h0M565.0 479.4h0M528.7 461.9h0M483.5 463.0h0M561.5 517.2h0M518.2 507.5h0M570.9 511.9h0" stroke="#009E73" stroke-width="2.60" stroke-linecap="round" fill="none" /><path d="M564.9 551.4h0M541.3 473.9h0M548.3 515.0h0M538.8 513.1h0M520.2 530.4h0M554.0 459.9h0M547.9 528.4h0M538.5 517.0h0M511.6 490.9h0M548.6 495.0h0M556.6 496.8h0M545.9 506.6h0M551.3 499.5h0M524.0 485.5h0M541.7 480.8h0M541.8 460.7h0M521.3 510.3h0M480.5 465.8h0M528.0 465.7h0M555.4 517.7h0M511.6 501.2h0M562.7 512.9h0M511.5 485.6h0M535.4 528.4h0M562.3 519.6h0M519.0 503.2h0M513.8 501.5h0M556.5 469.7h0M559.7 519.1h0M560.9 521.7h0M521.4 472.4h0M517.5 507.6h0M561.2 516.1h0M550.4 522.6h0M522.0 532.7h0M536.9 482.2h0M547.2 508.5h0M541.7 491.9h0M540.5 514.2h0M545.8 526.9h0M567.8 474.4h0M564.6 520.4h0M527.4 533.1h0M526.4 478.8h0M527.2 489.2h0M569.6 480.6h0M538.7 490.0h0M548.6 481.8h0M505.1 510.7h0M530.9 492.3h0M529.2 470.8h0M535.9 467.1h0M536.4 539.2h0M555.2 512.8h0M561.8 522.6h0M548.9 518.7h0M535.0 529.0h0M527.8 520.9h0M482.4 460.8h0M539.8 481.3h0M559.8 484.3h0M529.3 538.4h0M509.1 506.6h0M555.8 515.7h0M546.8 483.0h0M567.5 489.8h0M508.8 508.3h0M507.3 510.9h0M534.4 537.6h0M525.5 511.4h0M535.5 491.0h0M538.4 541.6h0M563.2 509.3h0M530.4 490.5h0M512.8 510.5h0M563.5 517.7h0M516.2 511.0h0M550.4 543.1h0M558.9 509.7h0M514.3 526.2h0M538.3 480.7h0M479.7 459.7h0M560.2 498.4h0M533.6 470.6h0M537.4 510.1h0M551.0 500.5h0M503.5 485.8h0M546.0 461.0h0M526.0 536.5h0M530.6 503.0h0M533.6 517.6h0M568.4 505.4h0M523.9 478.1h0M567.4 512.9h0M544.6 516.8h0M564.4 485.9h0M530.5 526.7h0M538.7 503.3h0M519.9 490.9h0M500.6 486.1h0M561.5 493.5h0M548.8 480.3h0M519.7 529.7h0M470.2 469.3h0M566.5 503.1h0M521.9 473.1h0M524.2 479.6h0M546.3 526.0h0M543.7 511.3h0M523.4 513.4h0M564.8 520.1h0M519.6 517.1h0M519.8 504.1h0M554.3 536.2h0M540.2 517.6h0M571.9 518.6h0M561.4 490.0h0M524.6 483.1h0M471.8 468.8h0M486.5 458.3h0M558.8 465.9h0M525.2 473.3h0M551.5 483.0h0M540.4 509.1h0M531.8 484.7h0M549.3 509.1h0M524.4 512.8h0M529.6 502.2h0M526.1 504.3h0M547.4 477.5h0M524.8 481.7h0M556.3 473.5h0M541.5 535.1h0M540.0 541.0h0M542.2 539.4h0M509.7 518.5h0M556.6 542.0h0M557.8 467.1h0M561.5 513.7h0M523.2 509.9h0M566.6 530.3h0M527.2 509.4h0M519.1 509.2h0M562.1 512.2h0M534.8 493.9h0M547.8 474.8h0M561.0 502.9h0M569.6 479.9h0M525.1 521.9h0M561.4 548.1h0M540.5 495.9h0M550.5 466.8h0M540.0 531.0h0M534.0 536.7h0M543.4 510.7h0M558.8 469.5h0M518.9 482.1h0M507.2 509.6h0M532.1 464.1h0M473.4 464.8h0M544.3 481.7h0M558.1 531.2h0M569.5 509.3h0M561.8 470.5h0M547.1 453.3h0M512.9 493.1h0M566.1 501.5h0M481.2 471.7h0M518.4 518.9h0M530.0 501.2h0M561.1 509.6h0M533.4 493.9h0M544.4 507.9h0M513.4 506.2h0M528.9 522.0h0M519.9 505.5h0M562.5 475.7h0M518.2 510.3h0M523.7 505.1h0" stroke="#56B4E9" stroke-width="2.60" stroke-linecap="round" fill="none" /><path d="M523.6 506.4h0M541.3 509.7h0M561.2 537.8h0M517.6 520.1h0M555.0 528.5h0M548.2 501.3h0M532.9 469.0h0M530.0 461.1h0M547.5 484.7h0M523.5 519.5h0M518.3 509.1h0M546.5 500.0h0M559.7 511.4h0M527.3 514.5h0M534.8 530.6h0M559.4 516.7h0M537.6 502.6h0M554.2 538.8h0M549.3 512.8h0M534.5 519.5h0M536.5 500.7h0M540.2 540.6h0M540.1 528.9h0M497.1 482.8h0M526.8 521.8h0M534.2 505.9h0M531.4 511.6h0M532.7 501.7h0M543.5 526.9h0M531.4 477.6h0M530.9 495.6h0M548.5 486.5h0M547.8 535.0h0M555.6 538.7h0M524.3 524.2h0M536.1 524.2h0M536.4 529.2h0M529.4 480.4h0M523.2 469.6h0M507.0 515.1h0M555.7 504.3h0M525.2 476.3h0M561.9 502.7h0M544.9 477.9h0M531.4 473.2h0M545.3 505.8h0M565.5 491.9h0M478.6 460.5h0M538.1 477.6h0M514.2 506.4h0M521.8 533.3h0M534.4 541.1h0M558.6 534.2h0M565.2 530.5h0M526.0 534.4h0M552.3 475.0h0M504.6 511.7h0M549.0 485.9h0M558.3 532.0h0M570.1 476.5h0M539.5 510.2h0M552.3 459.9h0M560.4 538.2h0M545.0 535.9h0M548.2 526.8h0M540.5 467.6h0M532.5 505.5h0M516.4 485.9h0M478.3 465.3h0M547.0 481.6h0M533.1 487.2h0M514.9 503.8h0M524.0 471.5h0M531.3 503.9h0M511.7 502.5h0M530.9 495.5h0M549.5 501.8h0M548.5 502.3h0M559.1 490.8h0M541.3 498.8h0M523.8 474.6h0M551.2 471.9h0M546.6 468.2h0M540.9 541.4h0M515.8 503.1h0M547.5 520.2h0M522.3 512.5h0M518.1 503.0h0M537.3 518.6h0M560.8 499.2h0M551.9 513.0h0M530.8 487.3h0M521.5 481.4h0M544.1 485.7h0M536.2 483.7h0M559.6 502.6h0M528.5 519.8h0M555.1 480.8h0M546.8 498.1h0M514.7 518.9h0M479.6 467.3h0M538.9 519.9h0M526.9 527.8h0M515.4 489.9h0M515.2 521.9h0M539.3 470.2h0M530.3 500.6h0M515.4 514.1h0M504.8 512.9h0M520.6 527.5h0M519.4 486.5h0M523.3 486.4h0M537.0 517.9h0M563.4 490.3h0M551.7 479.8h0M532.6 508.6h0M507.6 508.8h0M531.3 485.7h0M538.3 473.0h0M536.8 487.4h0M518.6 504.1h0M519.3 502.9h0M502.5 512.1h0M523.4 534.3h0M532.1 529.0h0M520.1 490.3h0M471.8 473.5h0M520.3 517.8h0M517.9 481.7h0M508.9 485.3h0M555.2 484.9h0M535.6 508.0h0M525.2 499.5h0M546.2 524.4h0M520.2 526.5h0M521.9 489.7h0M531.7 512.1h0M539.4 470.3h0M515.7 513.9h0M516.3 506.1h0M560.1 529.0h0M529.9 464.7h0M546.4 485.4h0M549.3 480.2h0M538.2 525.9h0M540.7 513.9h0M549.6 516.3h0M535.8 524.2h0M519.2 525.5h0M517.0 485.3h0M547.2 527.6h0M538.8 474.6h0M549.5 540.2h0M552.7 540.6h0M537.6 474.1h0M556.8 529.5h0M563.7 516.8h0M542.1 498.5h0M515.6 507.3h0M546.8 473.6h0M554.7 490.7h0M559.3 503.5h0M510.8 514.6h0M518.3 520.9h0M518.4 530.5h0M540.7 476.8h0M564.2 498.2h0M551.8 478.5h0M536.5 503.5h0M536.5 486.7h0M555.0 492.8h0M503.0 486.5h0M556.0 527.3h0M504.0 514.2h0M528.9 474.2h0M547.0 471.0h0M525.3 516.5h0M540.5 470.3h0M518.9 476.4h0M546.9 471.7h0M535.7 479.5h0M519.8 499.9h0M559.2 474.3h0M533.8 510.0h0M551.1 466.2h0M552.9 484.0h0M520.2 495.0h0M543.1 523.6h0M536.2 470.0h0M553.7 499.7h0M531.7 459.4h0M545.3 515.4h0M555.6 529.2h0M529.6 482.5h0M513.2 495.9h0M554.6 496.8h0M528.1 522.2h0M553.6 542.3h0M498.7 482.7h0M567.0 508.7h0M509.2 503.6h0M529.8 496.6h0M520.0 472.3h0M560.0 499.5h0M546.5 539.5h0M548.9 518.2h0M504.5 511.7h0M558.9 470.0h0M534.9 479.0h0M569.7 522.5h0M509.6 518.4h0M566.4 471.4h0M554.3 528.1h0M554.2 496.3h0M506.9 511.1h0M507.8 495.8h0M519.9 483.5h0M510.8 482.9h0M542.9 469.3h0M555.6 502.0h0M494.9 463.8h0M565.9 523.1h0M541.8 468.7h0M541.9 533.5h0M569.4 479.0h0M559.5 480.8h0M513.3 498.9h0M529.3 500.8h0M536.6 508.4h0M514.6 484.7h0M515.6 479.5h0M527.5 467.2h0M545.0 477.4h0" stroke="#F0E442" stroke-width="2.60" stroke-linecap="round" fill="none" /><path d="M527.1 475.2h0M568.6 492.2h0M521.2 502.1h0M567.3 509.4h0M534.7 510.7h0M561.6 507.5h0M540.3 505.6h0M554.5 540.7h0M508.7 508.4h0M525.3 493.5h0M514.4 482.3h0M553.9 536.7h0M540.1 527.1h0M565.5 474.0h0M547.8 530.1h0M521.8 529.3h0M546.6 531.6h0M522.4 492.0h0M563.7 480.9h0M480.0 459.4h0M538.3 473.0h0M531.0 499.3h0M551.3 496.7h0M538.1 468.3h0M548.0 539.9h0M540.8 516.9h0M521.9 493.3h0M536.3 469.8h0M551.0 540.9h0M550.7 525.9h0M559.8 538.4h0M558.7 509.1h0M541.1 525.8h0M512.4 514.6h0M528.5 524.5h0M536.9 469.5h0M533.7 524.0h0M526.8 527.6h0M537.8 476.6h0M558.1 504.6h0M543.3 540.2h0M537.0 526.8h0M542.2 502.5h0M531.2 522.2h0M541.9 503.4h0M556.8 502.8h0M538.9 523.6h0M550.0 485.9h0M564.3 528.5h0M539.2 525.7h0M532.3 536.4h0M543.8 487.9h0M532.3 506.0h0M523.2 472.6h0M517.3 528.7h0M525.4 469.5h0M540.5 486.2h0M565.3 534.4h0M563.9 501.8h0M519.7 491.5h0M541.9 482.6h0M544.5 479.5h0M515.5 496.5h0M531.6 512.9h0M527.4 492.1h0M553.3 522.8h0M547.4 508.6h0M569.8 514.2h0M529.1 476.4h0M523.3 487.4h0M511.8 512.4h0M555.1 500.9h0M524.7 502.3h0M531.9 464.1h0M510.1 494.1h0M547.5 473.3h0M554.0 519.2h0M533.3 513.3h0M560.4 482.0h0M555.0 476.6h0M533.6 520.0h0M556.6 481.7h0M527.3 529.0h0M537.4 479.5h0M560.7 497.2h0M555.5 516.4h0M538.8 519.7h0M528.8 477.3h0M544.1 509.8h0M522.2 511.5h0M516.9 480.7h0M513.5 490.1h0M530.8 532.6h0M527.8 492.4h0M535.2 465.2h0M519.3 478.9h0M538.5 501.7h0M516.0 520.7h0M515.9 486.2h0M523.5 531.2h0M508.9 518.1h0M549.9 477.1h0M498.5 486.4h0M542.0 481.3h0M517.4 487.8h0M544.5 537.1h0M509.3 494.9h0M526.2 501.2h0M540.4 512.8h0M548.8 515.8h0M507.4 496.2h0M525.2 519.4h0M529.7 520.6h0M557.1 471.4h0M544.1 542.4h0M537.2 503.1h0M547.1 519.7h0M537.0 517.5h0M549.6 503.3h0M546.8 473.6h0M514.8 504.8h0M529.9 501.7h0M545.7 510.2h0M526.2 472.3h0M509.3 492.9h0M548.2 517.3h0M554.3 522.8h0M478.2 464.0h0M545.1 481.1h0M553.2 529.4h0M544.4 539.4h0M562.6 473.5h0M548.7 484.4h0M476.9 461.0h0M523.7 495.4h0M524.0 525.6h0M528.4 495.0h0M553.8 496.5h0M509.5 516.5h0M538.8 510.4h0M523.5 465.8h0M501.1 497.8h0M549.5 468.4h0M528.2 475.0h0M552.7 513.8h0M514.1 514.9h0M508.3 486.1h0M552.0 490.5h0M524.7 474.7h0M546.6 533.5h0M560.6 500.3h0M519.0 500.9h0M558.5 529.2h0M513.1 501.1h0M527.1 510.8h0M509.9 491.2h0M527.6 479.5h0M520.1 530.8h0M540.6 514.3h0M542.9 537.5h0M566.4 524.3h0M561.1 510.2h0M544.5 527.8h0M558.7 473.1h0M567.0 480.0h0M570.0 477.6h0M557.0 491.0h0M555.2 471.7h0M530.7 477.8h0M529.2 493.1h0M550.4 469.3h0M533.4 507.6h0M516.3 504.0h0M552.4 479.1h0M551.3 476.7h0M557.5 507.2h0M567.1 490.7h0M509.4 500.0h0M528.8 481.5h0M538.9 514.8h0M536.4 518.1h0M542.8 495.7h0M548.1 535.5h0M526.4 533.3h0M514.1 515.0h0M554.5 492.9h0M523.6 510.3h0M554.5 467.4h0M523.6 486.4h0M531.8 537.9h0M568.8 508.9h0M538.1 493.5h0M565.3 514.8h0M537.8 510.0h0M555.9 507.4h0M557.8 473.2h0M560.5 528.0h0M484.2 460.0h0M531.8 486.2h0M482.9 466.1h0M510.0 512.6h0M535.6 504.2h0M538.5 518.0h0M539.4 497.8h0M533.3 518.9h0M553.6 492.1h0M555.2 529.3h0M549.5 521.7h0M553.8 471.6h0M521.5 505.1h0M555.4 540.0h0M547.8 516.0h0M563.7 484.4h0M558.1 542.5h0M564.7 512.5h0M566.7 482.0h0M528.4 486.8h0M548.3 528.7h0M484.0 476.3h0M543.1 493.5h0M520.7 525.0h0M557.3 534.4h0M543.7 536.9h0M557.8 499.3h0M536.9 474.8h0M510.6 511.7h0M550.1 527.0h0M523.1 531.8h0M553.3 491.6h0M560.7 470.3h0M545.6 498.1h0M554.1 502.2h0" stroke="#009E73" stroke-width="2.60" stroke-linecap="round" fill="none" /><path d="M556.0 518.4h0M563.4 548.3h0M540.3 467.1h0M552.1 465.0h0M556.6 485.8h0M549.5 463.6h0M555.7 489.6h0M536.2 453.9h0M521.9 491.8h0M550.3 470.4h0M543.8 529.5h0M560.1 545.2h0M534.0 461.8h0M544.6 465.4h0M529.6 523.3h0M545.3 487.8h0M546.5 460.0h0M560.0 535.8h0M536.9 460.6h0M554.3 491.0h0M535.0 459.5h0M519.7 511.4h0M566.7 476.4h0M526.6 468.5h0M513.4 480.6h0M565.5 470.0h0M546.5 455.7h0M558.5 516.8h0M546.1 463.9h0M557.7 513.6h0M551.1 462.1h0M559.9 514.6h0M537.9 533.1h0M537.8 504.9h0M554.8 531.1h0M538.9 514.1h0M567.3 507.7h0M541.7 460.7h0M559.3 523.1h0M531.2 493.6h0M566.0 505.6h0M553.2 460.9h0M525.9 500.5h0M529.1 509.2h0M507.3 485.6h0M531.1 473.7h0M528.8 502.4h0M514.8 508.6h0M534.7 485.9h0M534.6 478.0h0M553.4 464.2h0M550.6 457.4h0M557.7 517.5h0M566.2 481.3h0M548.3 465.0h0M539.5 482.8h0M554.3 484.7h0M526.9 507.0h0M532.4 535.7h0M506.3 484.8h0M555.8 479.7h0M477.8 468.7h0M553.5 511.9h0M527.7 528.5h0M551.6 522.2h0M543.9 462.6h0M537.2 457.3h0M552.9 526.3h0M545.3 516.6h0M533.4 466.6h0M531.0 530.5h0M563.5 551.6h0M530.1 515.8h0M557.4 486.3h0M554.3 504.2h0M537.1 463.1h0M530.4 510.6h0M552.1 475.6h0M522.0 499.6h0M546.2 461.6h0M556.3 466.8h0M551.5 464.6h0M524.5 499.4h0M503.7 513.0h0M563.2 490.3h0M567.6 521.9h0M561.8 474.9h0M510.7 495.8h0M569.1 512.2h0M560.1 513.6h0M555.0 486.3h0M519.3 485.0h0M559.3 519.0h0M532.8 534.0h0M541.0 479.2h0M516.3 489.1h0M524.0 524.5h0M515.4 514.1h0M556.7 512.2h0M559.8 509.8h0M554.6 517.3h0M528.2 514.5h0M523.7 488.0h0M500.0 482.8h0M560.7 521.6h0M542.0 466.3h0M552.9 541.7h0M543.9 527.6h0M511.5 509.6h0M504.5 511.9h0M532.1 511.0h0M547.0 521.5h0M563.9 477.4h0M523.8 505.7h0M565.0 483.7h0M545.9 453.5h0M554.6 459.4h0M547.8 501.9h0M560.2 536.0h0M542.8 455.9h0M526.1 521.5h0M566.2 516.1h0M558.8 519.0h0M518.5 505.7h0M546.1 506.1h0M537.5 462.0h0M521.2 517.1h0M535.4 489.0h0M540.2 465.7h0M521.5 532.4h0M562.4 506.0h0M534.3 469.5h0M571.3 479.6h0M525.2 490.3h0M515.8 513.7h0M558.8 484.9h0M526.7 471.8h0M524.4 474.6h0M545.8 465.6h0M553.2 464.0h0M548.7 540.6h0M527.5 508.6h0M512.7 483.8h0M560.2 514.5h0M517.5 489.2h0M555.6 505.9h0M542.2 454.9h0M517.5 513.1h0M563.0 472.5h0M519.1 527.3h0M538.9 454.9h0M542.2 495.8h0M555.1 466.6h0M526.8 533.6h0M537.0 533.6h0M549.1 491.0h0M543.5 485.4h0M542.1 498.9h0M522.3 500.5h0M531.3 521.4h0M475.2 464.7h0M558.4 528.3h0M558.1 523.1h0M537.8 458.5h0M562.6 526.3h0M542.4 515.0h0M564.0 526.8h0M525.7 510.0h0M542.1 456.6h0" stroke="#E69F00" stroke-width="2.60" stroke-linecap="round" fill="none" /><path d="M554.4 508.6h0M540.8 522.4h0M549.4 531.1h0M526.6 462.7h0M558.4 498.5h0M537.1 534.1h0M541.0 484.9h0M530.4 530.1h0M545.0 528.5h0M543.8 528.7h0M557.2 500.1h0M521.9 494.5h0M555.9 542.2h0M517.6 493.2h0M545.3 479.2h0M564.1 488.8h0M524.6 478.8h0M523.7 533.4h0M559.8 525.9h0M563.3 521.1h0M534.8 503.7h0M557.1 478.3h0M533.9 508.8h0M554.8 488.0h0M525.7 533.1h0M517.7 494.3h0M563.2 477.2h0M513.2 495.3h0M550.1 513.3h0M530.0 520.7h0M522.5 470.4h0M564.3 503.4h0M519.7 514.0h0M528.1 482.6h0M522.1 507.9h0M559.7 502.3h0M556.4 501.5h0M523.5 534.8h0M525.3 517.9h0M512.9 506.5h0M545.5 531.8h0M550.3 520.5h0M546.7 530.4h0M559.0 479.3h0M523.7 513.6h0M547.4 501.2h0M525.7 514.9h0M528.4 506.9h0M542.5 466.6h0M525.9 494.1h0M555.9 542.9h0M533.6 508.0h0M519.4 527.9h0M513.5 493.7h0M516.5 506.8h0M558.3 509.5h0M568.7 524.7h0M513.6 478.8h0M509.6 487.0h0M520.7 513.1h0M537.7 504.0h0M517.3 516.4h0M564.8 495.5h0M553.8 533.7h0M563.5 505.3h0M540.0 479.6h0M535.7 502.9h0M532.8 487.5h0M566.7 521.5h0M544.1 533.2h0M513.8 502.3h0M548.8 515.0h0M533.5 506.0h0M483.3 462.5h0M563.2 532.9h0M478.8 464.1h0M523.3 482.8h0M529.1 473.3h0M527.1 535.1h0M531.2 484.7h0M538.4 514.5h0M566.0 512.4h0M535.0 529.4h0M543.3 489.3h0M548.2 482.6h0M507.6 510.5h0M541.2 506.0h0M502.3 487.6h0M543.7 500.7h0M535.1 516.2h0M514.0 505.0h0M516.8 480.3h0M527.0 495.3h0M560.8 534.3h0M556.0 525.1h0M560.3 483.9h0M521.7 509.6h0M554.3 469.5h0M570.5 479.7h0M512.0 516.4h0M509.5 510.3h0M514.9 497.0h0M546.6 481.8h0M558.7 539.1h0M542.3 523.2h0M531.8 467.7h0M560.1 535.8h0M529.2 478.8h0M526.8 486.1h0M540.9 499.5h0M550.3 518.6h0M561.4 511.2h0M536.3 508.2h0M528.5 508.6h0M544.1 475.7h0M531.8 514.5h0M555.1 477.1h0M532.6 458.4h0M483.3 458.5h0M525.8 465.6h0M557.5 493.1h0M569.7 480.9h0M527.5 496.6h0M516.9 489.0h0M545.3 472.6h0M550.4 521.6h0M569.4 516.8h0M530.9 491.8h0M544.5 533.7h0M544.6 474.9h0M514.7 510.9h0M555.5 472.2h0M539.7 538.8h0M539.0 480.6h0M563.3 481.5h0M557.4 521.6h0M514.0 494.1h0M556.9 472.4h0M531.2 523.7h0M510.3 510.7h0M532.5 477.1h0M551.6 532.1h0M557.0 494.9h0M568.3 525.7h0M547.4 523.4h0M532.4 480.4h0M541.2 486.7h0M536.2 464.0h0M535.7 508.9h0M554.4 507.5h0M559.9 522.1h0M532.7 503.7h0M481.6 462.5h0M531.7 526.2h0M533.9 492.9h0M524.1 496.7h0M521.9 471.0h0M534.5 528.1h0M520.9 531.7h0M521.7 490.6h0M544.8 530.4h0M527.8 507.4h0M538.5 523.3h0M522.8 507.2h0M530.5 479.3h0M549.3 487.2h0M530.7 535.7h0M564.5 523.5h0M539.9 493.5h0M490.6 481.7h0M505.9 514.4h0M492.2 484.0h0M547.9 466.3h0M545.5 457.9h0M513.0 488.1h0M505.8 514.1h0M470.0 479.8h0M573.0 478.5h0M544.4 453.8h0M547.4 461.0h0M551.7 456.9h0M548.2 456.8h0M515.1 512.5h0M471.6 469.3h0M510.3 519.6h0M477.1 475.1h0M552.6 458.5h0M493.0 483.6h0M527.1 461.2h0M543.3 461.6h0M505.6 486.3h0M506.3 508.2h0M477.7 471.7h0M540.6 455.6h0M492.6 481.8h0M497.4 484.0h0M536.0 455.1h0M548.0 456.5h0M474.6 466.3h0M499.7 486.3h0M497.9 486.7h0M572.6 479.0h0M544.8 461.2h0M552.8 462.3h0M506.9 519.1h0M543.9 454.8h0M481.5 474.5h0M494.5 483.0h0" stroke="#56B4E9" stroke-width="2.60" stroke-linecap="round" fill="none" /><path d="M541.1 508.7h0M505.7 510.5h0M552.1 544.2h0M534.0 532.9h0M534.6 534.4h0M559.6 470.4h0M528.5 501.1h0M475.1 472.4h0M541.4 493.9h0M529.2 515.0h0M562.9 522.8h0M561.5 530.0h0M484.7 474.1h0M540.0 469.6h0M539.8 531.7h0M568.6 507.4h0M531.3 471.6h0M555.0 484.7h0M554.5 499.1h0M535.6 468.1h0M508.3 489.7h0M545.1 537.4h0M534.9 500.6h0M513.2 497.6h0M558.1 528.3h0M533.4 525.0h0M560.1 514.0h0M547.2 456.8h0M555.7 503.2h0M520.0 523.3h0M524.6 465.3h0M523.8 485.4h0M519.7 498.0h0M561.3 535.9h0M567.5 525.6h0M514.2 491.6h0M537.6 496.2h0M525.4 501.4h0M537.3 530.6h0M528.3 473.5h0M555.8 470.4h0M531.4 482.9h0M545.5 496.5h0M561.9 532.8h0M512.3 520.4h0M558.3 498.9h0M528.1 484.6h0M536.0 525.9h0M547.4 493.0h0M547.0 517.4h0M545.3 538.1h0M513.5 514.3h0M519.9 490.3h0M513.2 482.4h0M545.1 503.1h0M513.2 499.3h0M566.2 484.0h0M560.4 483.7h0M556.4 508.8h0M524.9 476.2h0M535.6 514.7h0M518.0 521.9h0M539.3 519.8h0M564.3 531.3h0M559.7 524.7h0M526.0 505.6h0M570.2 524.5h0M533.8 477.8h0M557.4 538.2h0M527.2 466.0h0M534.4 495.0h0M553.4 498.6h0M547.9 493.0h0M540.1 537.3h0M544.7 537.6h0M508.7 511.1h0M536.2 480.3h0M516.1 524.1h0M562.6 504.0h0M534.3 463.3h0M569.4 523.0h0M526.6 528.5h0M535.2 498.6h0M542.7 514.1h0M548.6 504.7h0M558.1 481.2h0M553.7 492.8h0M551.2 532.8h0M526.7 504.1h0M550.6 509.5h0M560.2 520.8h0M540.2 505.5h0M550.5 512.4h0M563.9 480.8h0M555.6 494.1h0M545.8 507.7h0M568.4 478.4h0M552.1 482.9h0M558.4 540.4h0M551.2 543.0h0M558.2 481.7h0M527.2 534.1h0M515.5 486.1h0M475.0 463.4h0M528.7 463.7h0M504.6 488.2h0M539.1 535.1h0M502.9 489.3h0M507.8 493.7h0M519.4 491.3h0M510.0 510.6h0M480.0 459.4h0M513.7 490.4h0M537.0 506.8h0M564.3 489.1h0M538.9 512.8h0M546.8 529.7h0M538.6 526.4h0M568.9 516.5h0M555.5 531.5h0M551.7 511.5h0M506.5 510.7h0M535.3 522.3h0M537.9 533.1h0M548.6 535.6h0M518.1 497.2h0M550.7 520.0h0M567.1 519.9h0M527.7 469.6h0M540.7 539.0h0M516.8 482.2h0M551.2 526.0h0M565.4 512.0h0M543.7 518.7h0M519.6 512.1h0M529.4 475.6h0M558.2 530.5h0M563.4 511.4h0M537.8 540.4h0M517.6 482.6h0M532.5 500.5h0M529.6 504.7h0M526.4 522.4h0M506.4 516.4h0M552.6 513.3h0M516.6 501.1h0M526.7 507.4h0M520.6 528.5h0M541.4 476.9h0M518.3 476.0h0M566.5 527.6h0M560.5 481.9h0M517.1 525.0h0M551.0 534.8h0M540.6 542.8h0M520.7 509.5h0M532.6 524.0h0M551.7 541.9h0M528.4 476.7h0M566.7 528.0h0M539.4 460.7h0M559.9 494.4h0M523.1 493.0h0M508.6 510.2h0M518.5 524.2h0M558.1 485.6h0M561.6 486.4h0M534.2 476.3h0M519.5 532.5h0M558.3 479.6h0M525.0 468.7h0M557.8 532.1h0M541.2 461.7h0M572.8 515.0h0M480.0 462.4h0M553.4 543.1h0M526.1 498.0h0M528.5 464.2h0M541.9 478.4h0M566.8 515.4h0M538.6 472.3h0M535.1 481.8h0M548.1 491.4h0M538.4 517.4h0M566.6 506.8h0M571.4 479.1h0M545.4 497.3h0M531.8 517.1h0M557.7 530.6h0M533.1 497.4h0M508.5 489.4h0M559.2 535.8h0M518.0 513.1h0M520.1 499.6h0M539.8 476.8h0M516.4 496.8h0M560.4 529.2h0M549.1 542.0h0M545.4 486.1h0M564.0 486.2h0M570.5 491.0h0M470.7 479.3h0M552.2 460.7h0M552.6 466.9h0M519.6 529.6h0M514.6 489.8h0M554.6 459.4h0M505.6 513.0h0M549.2 459.8h0M526.4 462.8h0M515.5 503.5h0M510.1 489.2h0M489.3 482.0h0M543.2 455.4h0M523.7 507.5h0M546.5 456.0h0M506.9 513.4h0M524.6 502.7h0M482.6 471.0h0M511.8 513.7h0M552.7 458.8h0M506.9 514.1h0M477.6 473.1h0M508.1 485.6h0M532.1 457.8h0" stroke="#009E73" stroke-width="2.60" stroke-linecap="round" fill="none" /><path d="M527.1 476.7h0M487.8 479.7h0M519.6 508.4h0M537.9 482.9h0M538.9 528.2h0M529.2 463.3h0M522.3 496.7h0M544.5 486.7h0M548.0 527.9h0M529.1 497.8h0M526.1 495.6h0M535.2 530.6h0M552.8 484.7h0M545.3 479.6h0M533.9 516.0h0M503.4 513.4h0M555.2 535.7h0M533.5 473.5h0M536.6 523.4h0M543.1 508.3h0M550.7 518.1h0M541.1 525.2h0M552.6 481.5h0M522.2 529.9h0M563.9 507.9h0M543.4 538.9h0M524.6 501.3h0M525.6 521.3h0M565.2 526.6h0M547.8 519.2h0M498.5 484.3h0M524.3 467.2h0M514.8 502.0h0M546.4 531.5h0M547.2 482.0h0M489.8 463.9h0M531.6 522.9h0M553.6 530.2h0M539.1 538.7h0M549.5 499.8h0M564.2 503.7h0M507.1 490.9h0M530.9 494.1h0M525.7 516.2h0M538.7 477.1h0M550.1 514.4h0M540.0 512.6h0M554.1 540.6h0M514.4 497.4h0M550.0 521.4h0M512.7 485.7h0M544.6 505.2h0M517.4 488.5h0M540.9 495.2h0M548.5 489.4h0M503.2 500.8h0M536.6 523.5h0M506.2 491.3h0M548.8 506.1h0M555.5 471.3h0M562.4 482.8h0M519.4 490.8h0M539.6 500.4h0M527.2 485.1h0M535.8 485.5h0M565.4 493.4h0M564.7 482.7h0M522.1 469.5h0M508.2 482.5h0M525.6 518.5h0M544.4 486.0h0M517.4 482.2h0M551.6 493.5h0M547.5 492.2h0M538.9 471.7h0M544.2 475.1h0M528.8 530.3h0M541.0 539.1h0M547.8 537.9h0M527.0 470.8h0M523.3 522.7h0M552.8 489.4h0M509.2 507.4h0M563.6 489.1h0M543.0 479.4h0M523.5 497.8h0M518.8 527.8h0M552.2 472.2h0M514.4 520.7h0M554.3 532.4h0M543.1 492.5h0M523.1 492.0h0M550.8 468.0h0M528.5 509.4h0M538.7 526.4h0M534.5 469.4h0M532.7 474.5h0M561.5 509.6h0M507.0 493.1h0M542.0 539.9h0M564.2 475.6h0M536.4 472.8h0M497.3 482.5h0M550.7 527.4h0M555.8 529.3h0M540.8 526.2h0M536.3 514.3h0M522.0 484.7h0M504.7 512.9h0M543.8 470.9h0M554.5 490.6h0M526.7 489.1h0M544.9 475.5h0M551.7 535.0h0M519.7 473.0h0M519.9 487.3h0M561.6 509.7h0M556.6 536.1h0M546.6 489.0h0M564.4 493.9h0M552.7 514.6h0M534.8 509.7h0M563.4 511.0h0M552.5 510.4h0M545.7 536.1h0M541.8 487.9h0M542.2 527.1h0M476.3 465.8h0M527.1 533.6h0M517.1 476.3h0M553.4 484.6h0M527.3 504.1h0M532.6 536.4h0M559.2 513.7h0M539.2 487.0h0M536.6 486.5h0M520.8 476.5h0M561.8 490.6h0M534.1 475.6h0M531.9 500.1h0M548.5 533.3h0M530.4 536.3h0M542.7 479.6h0M522.6 493.6h0M536.4 501.6h0M532.6 532.5h0M544.9 500.8h0M539.4 474.9h0M537.2 529.1h0M538.7 519.7h0M549.4 486.7h0M564.4 476.0h0M550.5 499.0h0M538.3 506.2h0M538.0 487.9h0M517.9 509.8h0M538.4 538.0h0M550.4 490.5h0M522.8 471.3h0M566.5 531.0h0M547.4 523.9h0M562.3 533.9h0M524.6 509.6h0M533.3 527.1h0M514.4 489.7h0M566.9 505.8h0M484.4 473.6h0M511.8 521.0h0M486.2 481.1h0M508.6 518.1h0M509.0 515.3h0M497.9 480.9h0M512.0 521.3h0M481.7 478.1h0M497.2 484.9h0M473.9 470.3h0M477.5 476.1h0M532.6 461.6h0M485.8 482.2h0M471.0 477.8h0M472.1 477.8h0M488.3 481.8h0M511.0 519.7h0M508.4 517.7h0M532.9 487.4h0M473.4 479.9h0M478.2 472.4h0M569.8 481.9h0M529.3 531.4h0M505.0 512.8h0" stroke="#F0E442" stroke-width="2.60" stroke-linecap="round" fill="none" /><path d="M545.5 462.8h0M544.5 530.1h0M546.5 456.6h0M533.9 458.2h0M539.9 480.4h0M479.7 477.9h0M542.5 537.9h0M537.8 463.4h0M536.8 489.0h0M536.6 511.5h0M471.3 467.9h0M530.1 467.7h0M501.3 484.5h0M518.0 499.5h0M536.2 486.7h0M548.2 519.2h0M560.0 475.2h0M540.1 463.8h0M544.1 511.6h0M565.9 513.5h0M536.8 486.6h0M549.8 516.1h0M543.0 478.8h0M502.2 485.2h0M517.1 474.8h0M552.6 491.0h0M544.3 506.4h0M546.0 455.5h0M532.0 532.0h0M534.8 461.4h0M541.8 463.7h0M570.0 481.3h0M557.7 470.8h0M535.7 462.8h0M530.1 476.0h0M520.3 528.8h0M543.9 535.7h0M549.6 524.7h0M537.7 512.8h0M519.0 484.5h0M541.9 455.7h0M536.4 503.6h0M522.0 527.7h0M564.2 513.7h0M524.2 520.3h0M568.1 516.5h0M558.6 522.0h0M565.6 517.3h0M543.1 525.7h0M539.5 457.3h0M540.5 526.7h0M549.0 541.2h0M562.6 534.0h0M508.7 505.7h0M551.6 479.9h0M518.9 514.7h0M538.6 479.9h0M542.9 467.1h0M547.2 464.8h0M552.9 526.4h0M535.3 460.8h0M551.5 469.3h0M563.7 497.8h0M523.9 482.0h0M555.4 460.9h0M571.1 515.2h0M557.3 464.7h0M541.8 458.0h0M538.4 483.4h0M524.0 523.2h0M555.5 514.2h0M543.0 475.2h0M532.5 509.2h0M553.8 495.1h0M549.7 483.5h0M520.8 485.8h0M540.4 493.7h0M537.4 498.4h0M555.3 521.8h0M570.9 513.1h0M524.0 516.9h0M569.9 508.8h0M559.4 487.6h0M565.3 515.2h0M536.4 456.4h0M524.5 479.6h0M562.6 511.6h0M559.2 475.4h0M538.2 461.3h0M530.2 508.3h0M536.9 463.4h0M524.5 518.4h0M518.4 490.8h0M533.9 466.9h0M532.1 483.8h0M562.3 524.7h0M547.1 465.3h0M558.2 462.4h0M562.4 481.3h0M570.3 514.1h0M570.8 477.4h0M562.4 519.6h0M535.2 494.2h0M563.8 521.9h0M548.3 507.1h0M532.0 481.5h0M557.5 501.5h0M564.2 524.6h0M544.5 469.8h0M545.7 475.4h0M570.6 527.1h0M544.7 492.1h0M533.1 492.1h0M524.9 472.5h0M561.1 517.8h0M559.9 471.6h0M536.9 466.3h0M533.7 494.3h0M540.6 495.7h0M565.7 501.9h0M556.9 531.8h0M522.9 525.5h0M535.4 468.4h0M541.8 508.5h0M566.8 489.3h0M560.2 535.5h0M543.5 453.6h0M541.8 459.8h0M562.7 472.2h0M524.7 483.0h0M554.6 539.2h0M562.9 474.4h0M562.6 504.5h0M558.9 465.3h0M540.9 457.7h0M562.1 492.7h0M554.5 526.7h0M554.6 469.3h0M553.3 459.1h0M510.8 516.7h0M519.4 477.8h0M544.4 453.2h0M507.6 488.1h0M550.0 462.3h0M503.1 485.6h0M483.1 474.5h0M548.1 460.5h0M471.1 475.3h0M571.5 491.7h0M542.1 453.4h0M550.4 463.9h0M541.1 454.5h0M539.0 455.9h0M549.6 455.1h0M546.6 457.0h0M550.3 462.2h0M498.4 483.6h0M551.0 461.7h0M479.6 476.5h0M539.9 457.6h0M570.5 474.9h0M549.7 465.6h0M500.0 485.8h0M550.1 455.6h0M539.1 453.2h0M540.7 460.9h0M547.2 453.9h0M539.7 456.4h0M572.4 517.9h0M553.7 458.9h0M548.3 455.3h0M536.9 460.1h0M552.2 457.9h0M570.9 516.2h0M573.5 476.2h0M550.9 458.3h0M483.9 478.4h0M544.6 458.8h0M550.0 456.1h0M475.6 480.7h0M570.2 512.2h0M549.5 462.5h0M544.2 465.4h0M479.0 478.5h0M540.2 459.4h0M545.4 458.7h0M540.5 458.0h0M544.5 453.6h0M552.6 461.6h0M477.1 479.1h0" stroke="#E69F00" stroke-width="2.60" stroke-linecap="round" fill="none" /><rect x="582.2" y="446.4" width="19.7" height="23.7" fill="#E69F00" /><rect x="582.2" y="470.0" width="19.7" height="26.3" fill="#56B4E9" /><rect x="582.2" y="496.3" width="19.7" height="29.6" fill="#009E73" /><rect x="582.2" y="525.9" width="19.7" height="27.3" fill="#F0E442" /><line x1="466.6" y1="557.3" x2="601.3" y2="557.3" stroke="#333" stroke-width="0.80" /><text x="534.9" y="566.2" font-size="6.40" text-anchor="middle" font-weight="normal" fill="#444"  stroke="#444" stroke-width="0.15">ZIKV+IL7</text><line x1="21.3" y1="550.9" x2="21.3" y2="528.2" stroke="#000" stroke-width="0.60" /><line x1="21.0" y1="550.6" x2="43.3" y2="550.6" stroke="#000" stroke-width="0.60" /><polygon points="21.3,526.2 20.0,529.2 22.6,529.2"/><polygon points="45.3,550.6 42.3,549.3 42.3,551.9"/><text x="23.8" y="555.1" font-size="3.90" text-anchor="start" font-weight="bold" fill="#222"  stroke="#222" stroke-width="0.09">UMAP1</text><text transform="translate(19.5,548.6) rotate(-90)" font-size="3.90" text-anchor="start" font-weight="bold" fill="#222" stroke="#222" stroke-width="0.09">UMAP2</text><line x1="602.3" y1="446.4" x2="602.3" y2="553.1" stroke="#333" stroke-width="0.40" /><line x1="602.3" y1="446.4" x2="603.7" y2="446.4" stroke="#333" stroke-width="0.40" /><text x="604.5" y="447.6" font-size="3.40" text-anchor="start" font-weight="normal" fill="#333"  stroke="#333" stroke-width="0.08">100</text><line x1="602.3" y1="499.8" x2="603.7" y2="499.8" stroke="#333" stroke-width="0.40" /><text x="604.5" y="501.0" font-size="3.40" text-anchor="start" font-weight="normal" fill="#333"  stroke="#333" stroke-width="0.08">50</text><line x1="602.3" y1="553.1" x2="603.7" y2="553.1" stroke="#333" stroke-width="0.40" /><text x="604.5" y="554.3" font-size="3.40" text-anchor="start" font-weight="normal" fill="#333"  stroke="#333" stroke-width="0.08">0</text><text transform="translate(612.2,499.8) rotate(90)" font-size="5.10" text-anchor="middle" font-weight="normal" fill="#111" stroke="#111" stroke-width="0.12">Percent of cells</text><text x="621.6" y="481.5" font-size="5.90" text-anchor="start" font-weight="normal" fill="#000"  stroke="#000" stroke-width="0.14">Clonal Expansion</text><text x="621.6" y="488.3" font-size="5.90" text-anchor="start" font-weight="normal" fill="#000"  stroke="#000" stroke-width="0.14">(x = # of TCRs)</text><rect x="621.0" y="492.0" width="6.0" height="6.2" fill="#E69F00" /><text x="628.2" y="496.9" font-size="4.85" text-anchor="start" font-weight="normal" fill="#000"  stroke="#000" stroke-width="0.12">Single (0 &lt; X &lt;= 1)</text><rect x="621.0" y="498.4" width="6.0" height="6.2" fill="#56B4E9" /><text x="628.2" y="503.3" font-size="4.85" text-anchor="start" font-weight="normal" fill="#000"  stroke="#000" stroke-width="0.12">Small (1 &lt; X &lt;= 5)</text><rect x="621.0" y="504.8" width="6.0" height="6.2" fill="#009E73" /><text x="628.2" y="509.7" font-size="4.85" text-anchor="start" font-weight="normal" fill="#000"  stroke="#000" stroke-width="0.12">Medium (5 &lt; X &lt;= 20)</text><rect x="621.0" y="511.2" width="6.0" height="6.2" fill="#F0E442" /><text x="628.2" y="516.1" font-size="4.85" text-anchor="start" font-weight="normal" fill="#000"  stroke="#000" stroke-width="0.12">Large (20 &lt; X &lt;= 100)</text></g>
<g id="pG"><text x="0.5" y="583.1" font-size="9.90" text-anchor="start" font-weight="bold" fill="#000"  stroke="#000" stroke-width="0.24">G</text><text x="22.3" y="597.7" font-size="9.2" fill="#111" stroke="#111" stroke-width="0.2">CD4<tspan font-size="5.4" dy="-3">+</tspan></text><path d="M54.7 685.3h0M45.8 652.1h0M77.2 665.1h0M48.0 666.9h0M73.1 688.1h0M49.9 684.4h0M73.6 686.6h0M75.5 626.1h0M51.8 660.1h0M68.6 674.0h0M90.3 687.9h0M44.4 650.7h0M75.7 616.6h0M69.1 680.9h0M76.7 618.1h0M90.8 697.1h0M75.3 627.4h0M71.1 677.2h0M92.1 643.3h0M101.7 672.4h0M41.6 651.6h0M58.8 615.2h0M103.1 678.4h0M78.4 612.4h0M71.7 679.4h0M65.3 652.1h0M56.2 680.5h0M54.2 654.5h0M88.1 664.1h0M72.3 632.1h0M81.7 634.7h0M57.2 649.9h0M51.0 663.2h0M99.8 655.4h0M85.7 681.1h0M64.9 650.6h0M72.2 673.1h0M96.3 647.5h0M92.6 699.5h0M71.5 678.3h0M93.0 656.7h0M73.4 644.8h0M90.5 660.3h0M87.7 636.1h0M43.2 671.2h0M102.2 662.9h0M77.4 671.4h0M88.7 662.7h0M82.9 685.4h0M56.8 621.9h0M74.2 666.3h0M69.8 665.9h0M93.2 683.9h0M82.5 685.5h0M76.1 670.5h0M42.6 659.2h0M71.8 658.4h0M70.8 624.6h0M65.0 669.7h0M77.1 625.2h0M87.0 626.7h0M59.4 670.6h0M61.7 668.2h0M51.2 654.4h0M62.8 628.1h0M48.9 670.7h0M96.5 656.9h0M69.3 635.4h0M71.6 671.8h0M57.4 623.0h0M67.3 656.4h0M81.3 672.7h0M99.7 683.3h0M86.3 683.6h0M76.0 651.8h0M65.0 689.6h0M68.1 678.5h0M99.3 671.7h0M84.2 663.8h0M48.0 649.2h0M72.6 634.6h0M63.0 615.3h0M79.3 655.3h0M68.2 625.6h0M82.8 609.8h0M103.7 652.7h0M80.9 647.1h0M89.0 653.1h0M57.3 658.0h0M99.3 655.3h0M74.4 662.5h0M84.6 661.7h0M96.3 682.5h0M41.4 658.7h0M82.9 674.1h0M71.6 629.9h0M76.2 649.4h0M64.8 645.8h0M70.4 641.9h0M46.3 654.1h0M57.8 682.5h0M61.0 652.1h0M90.0 628.4h0M106.2 659.8h0M92.4 664.0h0M90.5 700.8h0M53.8 653.1h0M54.3 679.7h0M79.8 654.1h0M104.8 652.8h0M66.6 624.4h0M70.8 615.2h0M105.3 651.4h0M91.6 696.2h0M102.5 678.9h0M86.9 698.7h0M58.2 648.8h0M66.9 675.9h0M71.9 671.7h0M87.9 670.8h0M87.5 648.2h0M65.0 683.4h0M95.1 686.4h0M79.7 693.2h0M76.1 671.8h0M45.1 670.5h0M39.5 655.6h0M46.8 671.8h0M75.0 680.7h0M95.1 674.5h0M80.4 656.5h0M92.2 647.8h0M64.6 644.5h0M81.7 644.1h0M67.9 615.6h0M94.3 640.8h0M102.5 661.2h0M92.7 682.6h0M56.6 634.7h0M66.6 650.3h0M66.3 641.0h0M87.5 671.5h0M59.5 657.2h0M68.2 613.6h0M101.4 654.1h0M71.4 672.7h0M62.0 643.4h0M92.9 670.4h0M100.5 661.1h0M96.2 686.5h0M54.4 667.9h0M77.0 621.8h0M53.2 644.0h0M66.2 666.3h0M53.9 655.2h0M65.4 650.6h0M105.8 655.8h0M97.4 656.0h0M86.3 661.8h0M45.3 680.9h0M58.5 638.9h0M57.0 651.2h0M46.9 659.3h0M67.6 684.0h0M50.9 682.2h0M76.7 686.0h0M94.8 654.6h0M77.2 622.4h0M84.1 655.1h0M86.5 625.1h0M92.4 643.7h0M83.1 695.9h0M84.2 678.9h0M72.3 651.7h0M102.3 651.6h0M44.6 661.0h0M62.6 617.3h0M60.2 673.5h0M84.2 671.0h0M69.8 648.7h0M83.6 620.3h0M39.5 651.0h0M44.1 649.7h0M78.2 629.5h0M85.5 655.3h0M60.1 656.9h0M40.0 658.9h0M76.9 657.0h0M58.8 647.1h0M64.8 641.7h0M50.3 671.9h0M96.7 660.8h0M54.1 680.2h0M68.6 624.8h0M60.4 669.7h0M64.7 635.1h0M83.8 667.1h0M71.6 668.8h0M94.7 671.4h0M71.0 638.1h0M57.5 619.2h0M68.7 653.7h0M75.1 671.4h0M99.7 657.8h0M76.5 623.4h0M64.3 635.9h0M71.2 628.6h0M78.3 636.8h0M65.7 663.4h0M103.5 660.4h0M74.8 614.8h0M92.1 651.2h0M79.7 620.6h0M83.0 687.0h0M61.5 662.0h0M103.3 666.6h0M104.3 677.2h0M100.8 680.3h0M73.7 628.9h0M82.8 686.5h0M67.0 626.4h0M44.7 678.5h0M68.0 610.1h0M57.5 621.9h0M67.2 614.1h0M104.3 675.6h0M64.9 656.6h0M86.4 681.7h0M73.2 616.6h0M87.4 698.8h0M103.7 677.4h0M91.9 647.2h0M82.1 693.3h0M69.3 643.7h0M57.7 649.9h0M79.2 628.2h0M67.7 679.6h0M65.7 671.4h0M73.0 657.9h0M83.9 634.8h0M59.9 666.0h0M50.7 650.2h0M54.3 619.4h0M87.4 690.6h0M83.4 674.7h0M58.2 688.5h0M61.7 628.0h0M80.4 624.1h0M99.4 667.8h0M55.3 664.5h0M54.7 660.3h0M55.6 670.8h0M93.8 693.8h0M88.4 624.9h0M83.5 617.3h0M84.9 634.4h0M56.1 685.1h0M67.9 669.9h0M80.7 677.9h0M98.8 651.1h0M97.7 651.7h0M82.5 610.8h0M103.5 652.3h0M55.9 642.5h0M68.7 673.3h0M78.3 679.5h0M61.6 638.8h0M43.3 655.1h0M46.8 668.8h0M83.8 623.7h0M75.1 631.9h0M69.0 685.9h0M96.4 664.2h0M87.9 662.3h0M46.7 679.3h0M54.4 678.2h0M57.7 687.5h0M69.9 644.9h0M78.4 677.4h0M79.1 647.9h0M63.4 660.7h0M43.8 668.9h0M60.2 674.0h0M57.3 637.0h0M81.7 640.2h0M47.6 663.5h0M68.5 684.0h0M39.9 655.1h0M66.0 642.9h0M76.6 618.4h0M55.6 645.0h0M46.2 674.7h0M76.3 640.9h0M84.0 666.2h0M82.1 667.3h0M48.2 659.9h0M96.3 672.1h0M63.2 632.8h0M81.8 649.3h0M70.0 680.6h0M43.9 659.5h0M89.3 662.6h0M96.1 674.5h0M79.9 636.3h0M67.4 621.3h0M53.6 679.8h0M64.7 681.5h0M87.5 674.7h0M73.4 654.3h0M58.7 646.6h0M57.5 663.3h0M102.9 670.8h0M74.8 640.9h0M74.1 621.6h0M60.3 633.1h0M81.5 631.6h0M95.8 648.4h0M83.1 621.5h0M87.4 678.4h0M67.5 671.5h0M60.7 614.6h0M55.5 623.6h0M82.1 640.1h0M91.5 660.6h0M79.3 620.4h0M77.0 643.6h0M88.1 685.6h0M83.8 633.0h0M43.0 662.2h0M88.5 649.3h0M65.9 623.0h0M74.9 660.1h0M55.8 646.9h0M54.1 657.3h0M94.2 647.2h0M88.7 678.6h0M59.1 630.1h0M106.8 671.2h0M69.3 667.0h0M70.5 640.0h0M79.5 614.3h0M45.3 678.5h0M60.0 658.4h0M57.8 672.2h0M56.2 656.4h0M82.6 671.0h0M96.9 688.1h0M83.8 622.9h0M48.4 679.3h0M100.1 676.8h0M65.6 685.3h0M65.1 617.9h0M58.4 616.9h0M60.1 630.4h0M62.4 618.0h0M76.6 653.0h0M88.6 698.7h0M58.5 659.9h0M70.7 616.7h0M69.1 616.3h0M72.4 683.1h0M65.4 634.0h0M78.7 688.3h0M82.1 623.2h0M65.1 621.5h0M49.7 675.5h0M106.9 667.3h0M72.4 671.5h0M105.5 673.9h0M81.2 660.9h0M62.6 648.8h0M67.7 668.3h0M95.3 669.3h0M70.2 635.1h0M79.2 657.5h0M63.9 662.8h0M94.7 692.4h0M71.5 613.2h0M85.8 668.4h0M89.5 690.3h0M78.9 657.8h0M56.2 640.0h0M65.4 675.9h0M71.6 635.4h0M79.8 629.0h0M67.1 623.4h0M81.5 694.6h0M78.7 651.6h0M85.7 666.6h0M77.0 681.6h0M68.7 687.0h0M89.2 647.1h0M59.4 660.6h0M70.9 674.6h0M87.6 673.3h0M102.6 670.6h0M87.4 699.3h0M41.9 675.1h0M75.1 651.8h0M69.4 620.5h0M80.0 659.9h0M51.6 679.7h0M58.4 680.1h0M92.4 644.4h0M89.0 627.8h0M54.3 625.7h0M89.2 661.8h0M89.5 662.3h0M58.4 671.7h0M68.9 655.6h0M90.4 699.8h0M57.3 649.4h0M73.6 678.6h0M85.7 621.6h0M59.7 668.6h0M61.6 680.6h0M71.7 635.5h0M79.9 646.3h0M74.9 653.1h0M76.1 683.6h0M58.6 651.3h0M77.7 653.9h0M71.1 620.7h0M94.8 657.2h0M85.2 637.0h0M56.7 626.2h0M87.0 663.3h0M52.8 676.3h0M39.7 662.0h0M45.3 655.9h0M93.7 667.1h0M54.6 665.0h0M99.0 651.2h0M55.0 648.0h0M85.0 679.6h0M89.1 665.9h0M61.1 631.1h0M78.8 659.8h0M105.1 667.9h0M61.9 677.6h0M73.6 681.7h0M77.0 626.3h0M91.9 698.9h0M49.3 660.4h0M81.4 672.9h0M52.9 667.8h0M57.9 683.0h0M99.8 659.1h0M77.9 619.7h0M69.9 643.3h0M66.6 614.8h0M90.4 652.3h0M96.5 661.0h0M68.5 666.8h0M98.0 661.1h0M88.1 645.5h0M83.2 687.6h0M66.1 616.6h0M70.3 658.4h0M57.5 660.9h0M95.6 662.4h0M51.7 632.1h0M72.3 619.8h0M77.4 651.6h0M61.5 642.9h0M45.8 651.4h0M78.8 640.6h0M55.5 645.9h0M67.7 645.5h0M57.6 651.6h0M64.4 689.4h0M81.4 609.4h0M82.7 635.0h0M61.8 618.7h0M104.9 659.8h0M94.1 660.2h0M97.3 647.1h0M89.9 686.5h0M81.5 632.2h0M98.0 673.7h0M76.3 621.7h0M71.2 630.2h0M56.6 619.5h0M60.4 679.0h0M81.7 638.2h0M74.0 651.7h0M69.7 653.8h0M57.0 669.7h0M58.1 684.1h0M65.1 638.3h0M86.3 653.4h0M90.6 639.3h0M47.8 661.4h0M89.2 642.6h0M85.9 647.9h0M103.4 678.9h0M94.3 671.9h0M58.0 663.7h0M74.7 685.3h0M41.4 662.8h0M74.3 655.3h0M87.8 651.5h0M49.1 683.2h0M63.3 631.8h0M83.5 626.9h0M59.7 655.9h0M94.3 671.7h0M61.9 664.7h0M64.1 625.6h0M83.4 623.4h0M77.9 679.7h0M48.8 659.3h0M68.3 676.1h0M64.0 620.1h0M97.0 665.3h0M86.5 625.1h0M53.5 653.3h0M85.1 686.0h0M60.7 639.8h0M87.5 648.7h0M40.5 658.4h0M81.7 681.5h0M86.8 650.1h0M52.2 651.9h0M95.2 655.0h0M79.4 665.8h0M59.6 634.8h0M43.1 676.3h0M88.5 634.4h0M78.2 646.8h0M69.7 651.1h0M75.1 673.5h0M45.7 675.8h0M99.1 676.4h0M64.7 650.2h0M84.4 655.4h0M56.4 624.7h0M93.2 690.3h0M68.7 666.6h0M76.8 617.7h0M100.8 664.7h0M92.7 667.0h0M104.1 668.8h0M49.9 664.2h0M62.0 674.6h0M79.1 667.0h0M84.6 608.1h0M70.0 624.4h0M91.7 643.2h0M87.4 683.0h0M92.2 667.6h0M95.2 651.2h0M68.6 661.0h0M59.7 656.8h0M44.3 657.6h0M65.9 618.7h0M76.6 634.8h0M57.5 627.8h0M58.4 685.8h0M94.7 679.9h0M43.0 671.1h0M78.0 637.3h0M56.6 640.4h0M96.1 667.1h0M100.9 670.9h0M78.7 620.3h0M50.1 674.7h0M47.3 679.4h0M86.5 681.9h0M80.2 624.9h0M72.0 679.9h0M82.5 687.3h0M107.3 673.8h0M67.3 625.4h0M78.2 665.7h0M88.7 699.9h0M66.0 663.8h0M72.3 652.7h0M64.1 637.1h0M70.8 689.0h0M92.2 656.2h0M67.4 610.1h0M72.1 667.6h0M90.0 698.0h0M49.9 661.0h0M64.4 646.3h0M67.9 688.4h0M76.7 640.8h0M92.7 693.8h0M87.4 666.1h0M54.2 640.9h0M50.8 662.4h0M79.0 624.4h0M60.5 626.8h0M53.7 630.0h0M51.7 657.1h0M91.0 639.6h0M90.8 672.9h0M66.0 645.1h0M73.4 685.9h0M70.0 682.8h0M87.4 651.7h0M62.1 624.2h0M82.6 646.5h0M56.2 674.8h0M75.5 677.1h0M65.6 672.3h0M45.2 662.6h0M75.9 668.6h0M93.7 673.3h0M70.2 661.8h0M58.7 617.9h0M67.5 622.2h0M87.9 651.4h0M101.0 669.1h0M83.8 696.8h0M84.1 624.1h0M81.8 632.3h0M71.9 654.5h0M65.4 668.3h0M57.3 650.2h0M73.3 670.6h0M96.9 652.2h0M52.6 632.0h0M93.0 679.8h0M68.6 631.3h0M63.4 687.9h0M48.2 667.1h0M96.9 672.0h0M70.8 631.4h0M70.8 621.4h0M78.9 675.5h0M60.6 636.7h0M58.9 676.0h0M82.2 612.4h0M38.8 652.1h0M71.7 616.5h0M79.1 626.6h0M90.7 666.5h0M81.0 636.9h0M89.8 636.3h0M73.0 643.3h0M64.9 634.7h0M80.4 657.8h0M58.3 627.7h0M91.8 644.5h0M45.6 649.2h0M71.5 653.6h0M64.3 629.8h0M77.7 652.8h0M67.9 678.2h0M45.8 653.7h0M52.0 629.5h0M59.2 636.0h0M88.7 660.2h0M61.6 641.3h0M99.3 650.4h0M60.2 686.8h0M66.2 650.3h0M45.4 645.0h0M92.7 650.5h0M97.4 651.6h0M87.2 639.5h0M72.3 633.4h0M102.5 670.7h0M73.5 671.8h0M60.5 663.7h0M77.2 673.3h0M93.3 664.0h0M57.2 640.8h0M56.8 683.7h0M90.8 672.6h0M55.2 649.3h0M47.9 662.2h0M100.5 659.9h0M64.0 674.3h0M103.5 653.4h0M61.3 631.3h0M88.4 661.1h0M88.4 686.2h0M80.9 637.6h0M93.1 642.1h0M95.5 647.7h0M42.9 668.4h0M42.6 672.4h0M59.4 633.8h0M73.7 677.5h0M49.4 678.5h0M44.7 646.8h0M61.4 679.3h0M103.1 662.7h0M59.4 631.6h0M78.4 616.7h0M47.6 673.0h0M78.2 622.7h0M95.8 655.6h0M83.3 669.8h0M65.4 641.3h0M82.3 629.1h0M93.8 679.9h0M56.0 658.1h0M70.6 683.5h0M62.8 661.5h0M82.4 658.8h0M80.8 639.5h0M77.5 620.4h0M76.8 672.8h0M49.0 647.6h0M52.5 673.4h0M41.0 654.8h0M63.5 667.0h0M69.8 664.1h0M77.8 669.6h0M77.9 690.3h0M72.6 637.7h0M68.8 652.2h0M83.2 664.6h0M56.7 665.7h0M56.8 631.2h0M85.1 666.0h0M71.1 668.3h0M85.6 676.6h0M74.0 663.2h0M83.9 648.3h0M59.7 613.3h0M66.0 637.0h0M67.3 637.3h0M68.3 665.7h0M85.0 614.7h0M68.6 649.0h0M37.9 656.0h0M104.5 676.7h0M48.3 653.9h0M51.3 678.3h0M65.3 647.4h0M58.4 633.6h0M54.0 646.7h0M81.6 619.1h0M95.1 677.6h0M70.1 641.8h0M78.2 626.6h0M76.0 669.1h0M79.6 647.4h0M42.8 674.2h0M80.2 644.9h0M45.5 681.1h0M81.8 665.6h0M58.2 687.0h0M75.0 652.8h0M68.3 656.8h0M88.8 644.6h0M78.5 640.8h0M61.9 686.1h0M89.2 633.6h0M87.2 688.9h0M99.1 650.4h0M45.0 646.5h0M78.3 636.6h0M61.9 631.8h0M87.5 657.7h0M80.6 669.9h0M92.9 675.7h0M95.3 652.1h0M43.8 676.4h0M56.7 630.4h0M88.5 687.9h0M63.0 661.4h0M67.0 684.9h0M39.9 661.5h0M74.1 627.0h0M91.1 655.5h0M61.5 667.3h0M66.2 689.4h0M85.6 685.6h0M55.5 617.9h0M92.0 695.4h0M47.6 670.1h0M102.9 677.4h0M72.5 652.3h0M86.8 665.2h0M102.9 673.2h0M65.8 606.6h0M86.0 658.7h0M82.5 629.7h0M77.5 661.0h0M87.7 636.0h0M44.5 659.1h0M82.7 607.5h0M49.0 679.6h0M41.7 661.2h0M51.2 648.3h0M95.4 645.2h0M92.0 671.8h0M90.1 673.9h0M94.6 673.1h0M87.6 638.8h0M84.0 690.6h0M88.9 675.7h0M104.9 670.4h0M51.8 631.9h0M62.5 689.4h0M100.2 664.2h0M42.5 656.1h0M73.8 636.4h0M62.2 651.1h0M79.4 674.7h0M68.9 680.6h0M65.2 670.9h0M82.7 687.8h0M65.1 686.9h0M72.9 640.1h0M83.1 607.8h0M64.8 620.1h0M81.3 694.6h0M102.1 672.3h0M75.4 653.1h0M86.4 696.5h0M84.1 617.8h0M49.7 666.2h0M86.5 632.6h0M67.9 612.9h0M78.2 683.8h0M83.7 632.2h0M80.2 672.2h0M72.1 632.2h0M100.6 653.2h0M52.5 663.3h0M81.3 634.1h0M75.8 653.9h0M104.1 660.5h0M72.2 626.2h0M77.2 628.8h0M52.4 621.7h0M57.8 624.7h0M96.7 682.1h0M65.7 636.4h0M89.3 646.5h0M82.6 665.0h0M66.7 613.3h0M76.0 628.8h0M90.3 647.1h0M75.4 647.0h0M84.7 651.1h0M55.7 619.8h0M59.8 657.0h0M99.9 671.3h0M103.0 668.9h0M95.8 661.1h0M42.4 653.9h0M87.1 684.1h0M85.3 662.3h0M62.1 629.3h0M89.7 667.4h0M87.8 628.4h0M76.4 684.5h0M69.1 619.0h0M82.6 687.7h0M54.7 654.0h0M102.6 679.0h0M62.0 679.0h0M84.6 675.0h0M79.4 610.4h0M75.0 642.0h0M76.7 660.6h0M81.3 641.7h0M66.8 634.2h0M97.2 666.1h0M58.6 654.7h0M76.1 626.9h0M42.3 670.8h0M102.2 662.7h0M69.3 688.3h0M70.9 686.2h0M67.6 629.6h0M60.0 629.3h0M88.8 632.9h0M79.1 660.3h0M60.5 631.3h0M45.4 675.6h0M63.9 641.8h0M66.9 645.7h0M56.0 658.9h0M55.5 627.5h0M89.7 645.3h0M51.1 663.3h0M44.9 666.4h0M47.5 669.6h0M57.3 662.8h0M85.2 694.2h0M69.2 614.3h0M73.0 626.3h0M84.2 668.0h0M77.4 664.3h0M90.7 693.1h0M52.9 661.3h0M83.3 639.6h0M90.1 683.3h0M65.7 625.2h0M56.0 663.4h0M54.1 651.5h0M92.8 692.0h0M91.8 652.8h0M45.4 679.4h0M50.8 665.3h0M102.6 671.0h0M60.9 645.5h0M48.0 644.4h0M60.0 646.3h0M52.8 650.3h0M56.2 631.9h0M101.8 655.4h0M89.5 673.3h0M43.9 659.9h0M55.9 635.8h0M85.2 654.6h0M60.1 681.4h0M75.8 639.6h0M65.6 627.6h0M56.3 619.8h0M69.4 683.9h0M56.6 620.9h0M94.9 672.1h0M61.8 671.2h0M82.0 610.2h0M59.2 635.5h0M78.8 639.0h0M57.8 647.6h0M78.5 654.5h0M88.9 674.6h0M94.4 670.7h0M76.4 627.9h0M72.4 652.2h0M94.4 658.8h0M92.8 640.6h0M49.4 667.3h0M102.3 662.5h0M80.5 685.1h0M70.9 634.7h0M70.4 672.7h0M67.2 637.7h0M67.2 619.1h0M68.7 656.3h0M82.2 637.7h0M46.2 677.4h0M65.5 654.4h0M63.0 657.6h0M51.5 659.9h0M65.6 646.6h0M51.7 683.7h0M86.1 644.5h0M65.7 649.0h0M49.7 684.6h0M72.2 668.0h0M66.3 651.4h0M82.1 681.2h0M106.6 666.0h0M93.0 682.7h0M69.8 610.8h0M76.1 637.3h0M52.1 663.7h0M87.0 699.1h0M65.7 640.8h0M67.0 655.8h0M77.1 641.9h0M79.5 649.4h0M97.9 680.2h0M49.4 657.8h0M46.2 680.9h0M51.3 679.7h0M83.9 620.2h0M98.3 655.6h0M49.7 680.3h0M53.7 620.2h0M49.2 656.2h0M95.3 682.1h0M74.9 674.0h0M67.3 644.5h0M72.1 637.1h0M81.3 680.6h0M80.6 655.2h0M85.0 673.4h0M76.2 639.6h0M60.2 614.9h0M43.7 672.9h0M65.4 634.2h0M50.1 667.3h0M64.5 675.8h0M53.1 661.4h0M56.5 679.1h0M69.7 637.3h0M84.3 683.7h0M96.5 663.1h0M78.6 690.1h0M78.7 635.7h0M58.3 667.2h0M100.5 677.1h0M56.5 658.1h0M66.6 609.7h0M52.5 643.0h0M93.6 668.8h0M80.4 660.8h0M102.5 672.6h0M90.9 688.7h0M53.6 619.7h0M80.8 624.3h0M96.6 675.2h0M84.8 649.9h0M80.1 629.5h0M69.7 611.8h0M53.7 659.1h0M45.2 667.0h0M101.1 661.8h0M51.1 668.1h0M74.3 614.4h0M104.1 651.4h0M65.2 657.5h0M72.9 650.1h0M104.9 659.7h0M45.8 666.0h0M70.3 639.3h0M54.4 677.3h0M58.6 668.7h0M78.9 641.2h0M106.5 656.3h0M78.5 663.2h0M82.4 695.4h0M91.3 674.6h0M47.2 666.8h0M59.5 661.7h0M44.9 660.5h0M67.3 668.2h0M62.3 666.8h0M78.9 653.8h0M61.4 675.4h0M94.2 646.9h0M75.5 645.4h0M71.8 649.8h0M60.8 683.7h0M103.0 657.0h0M73.6 680.2h0M56.1 658.2h0M77.5 665.6h0M67.6 639.4h0M79.5 624.3h0M53.1 654.4h0M52.5 643.6h0M92.0 658.3h0M99.6 664.7h0M88.5 657.6h0M81.3 658.6h0M77.3 635.1h0M80.7 613.8h0M88.7 625.5h0M67.2 686.8h0M82.1 658.8h0M94.8 643.9h0M84.0 635.0h0M95.7 644.8h0M61.2 642.6h0M73.6 622.4h0M65.8 664.4h0M79.0 621.8h0M58.3 660.6h0M51.8 656.4h0M78.9 649.1h0M79.4 644.1h0M79.3 649.6h0M69.9 639.5h0M82.7 638.3h0M72.8 613.5h0M90.5 648.4h0M87.0 677.3h0M58.9 645.1h0M60.6 664.8h0M75.5 670.1h0M59.5 682.5h0M69.1 674.6h0M64.3 676.5h0M68.2 623.5h0M48.3 675.1h0M83.4 609.1h0M94.2 682.3h0M95.4 662.3h0M97.8 673.1h0M65.6 648.6h0M100.5 663.8h0M62.5 622.3h0M47.2 678.5h0M73.8 640.2h0M96.1 666.5h0M56.6 668.4h0M78.0 646.8h0M101.6 677.3h0M58.0 622.1h0M43.5 674.8h0M75.9 620.8h0M93.0 666.0h0M44.9 675.1h0M82.5 636.3h0M70.9 644.7h0M92.6 666.1h0M85.2 666.0h0M53.7 656.9h0M53.1 634.9h0M99.7 673.3h0M40.4 661.5h0M82.5 667.2h0M72.2 676.2h0M69.8 653.8h0M65.9 642.8h0M55.5 682.9h0M82.3 659.3h0M56.5 687.6h0M64.6 627.6h0M77.9 617.2h0M91.4 693.0h0M76.7 623.7h0M47.3 655.1h0M76.1 663.1h0M73.8 672.7h0M68.4 689.7h0M80.9 664.4h0M44.9 655.3h0M59.2 630.4h0M45.4 672.6h0M66.4 673.3h0M71.1 677.4h0M78.4 644.1h0M49.0 673.6h0M65.5 621.1h0M49.8 657.8h0M55.7 660.6h0M87.4 648.9h0M69.9 639.7h0M76.9 623.5h0M58.0 687.6h0M62.5 681.4h0M90.9 666.0h0M44.1 661.8h0M69.4 624.3h0M57.6 649.9h0M61.8 646.9h0M51.7 645.4h0M76.7 623.2h0M56.8 657.1h0M99.9 679.6h0M81.6 628.5h0M87.0 694.2h0M87.0 665.5h0M96.3 683.1h0M90.9 679.5h0M103.2 651.4h0M69.1 626.3h0M96.4 670.3h0M75.5 620.2h0M88.7 679.9h0M95.0 651.4h0M100.7 673.4h0M42.0 646.8h0M53.4 642.8h0M99.9 668.8h0M85.2 627.1h0M67.2 673.1h0M78.0 650.3h0M73.2 634.1h0M95.7 665.1h0M65.6 647.6h0M43.4 670.7h0M93.2 676.5h0M66.3 683.7h0M72.6 658.4h0M38.1 656.9h0M65.2 618.6h0M48.3 660.5h0M62.5 686.1h0M73.9 682.6h0M57.6 620.6h0M48.1 681.7h0M72.9 618.0h0M60.0 622.6h0M71.1 621.3h0M77.3 651.2h0M76.6 675.4h0M62.1 682.5h0M51.8 629.6h0M68.0 687.3h0M58.6 630.6h0M58.0 657.5h0M84.1 627.3h0M84.6 642.8h0M103.6 656.6h0M67.4 648.2h0M58.9 656.5h0M45.4 657.5h0M85.8 635.5h0M68.3 612.7h0M67.4 627.6h0M78.8 658.6h0M49.7 677.1h0M87.4 647.5h0M84.0 682.9h0M70.3 679.2h0M69.2 631.6h0M86.9 669.7h0M84.2 668.7h0M63.0 641.2h0M98.8 673.0h0M55.3 667.6h0M58.5 648.6h0M63.1 610.5h0M89.0 668.5h0M60.4 667.0h0M52.7 664.7h0M93.0 654.9h0M84.0 660.0h0M42.5 673.9h0M61.9 635.2h0M71.3 644.3h0M68.1 618.6h0M79.1 673.5h0M88.6 626.1h0M59.1 666.1h0M58.9 678.2h0M69.5 616.6h0M48.6 651.2h0M69.4 661.9h0M52.9 626.4h0M45.6 652.1h0M80.2 674.7h0M71.4 642.4h0M53.3 681.5h0M99.0 682.7h0M77.2 670.4h0M60.7 687.6h0M42.5 655.8h0M82.7 679.6h0M96.4 663.9h0M47.4 668.8h0M45.7 644.8h0M98.7 668.0h0M103.8 672.5h0M81.2 639.3h0M57.9 665.8h0M91.7 664.2h0M82.2 623.7h0M44.3 667.9h0M78.9 612.5h0M92.8 660.7h0M45.6 674.1h0M77.8 627.3h0M61.2 652.7h0M64.4 610.0h0M62.4 614.8h0M74.0 623.9h0M79.5 674.5h0M55.1 681.5h0M94.7 657.7h0M92.9 665.7h0M86.5 646.9h0M52.3 659.3h0M92.7 662.1h0M61.0 665.6h0M52.2 630.6h0M107.6 655.6h0M94.1 689.3h0M70.9 642.7h0M48.5 665.7h0M88.5 681.2h0M64.3 676.7h0M39.0 656.9h0M71.4 622.5h0M77.1 631.0h0M45.6 649.7h0M59.5 637.2h0M62.5 642.1h0M44.0 655.4h0M62.2 678.3h0M50.8 648.4h0M44.3 670.3h0M91.8 661.4h0M58.8 669.6h0M61.1 621.2h0M53.9 644.5h0M58.2 654.8h0M46.5 667.5h0M59.8 644.0h0M58.5 676.9h0M63.5 685.0h0M67.0 675.0h0M87.6 641.8h0M76.0 631.1h0M63.3 659.0h0M101.6 681.1h0M52.6 650.6h0M52.1 678.5h0M82.6 624.3h0M49.1 675.2h0M53.7 640.6h0M71.3 643.7h0M100.4 665.2h0M102.6 673.6h0M67.6 631.2h0M74.4 654.6h0M49.7 670.2h0M62.9 632.3h0M91.0 673.3h0M85.3 689.2h0M70.4 623.6h0M79.1 682.2h0M63.5 609.1h0M64.1 658.3h0M82.7 623.9h0M65.3 637.4h0M76.8 663.1h0M87.7 695.1h0M86.2 637.8h0M69.1 632.4h0M69.4 639.4h0M46.6 666.9h0M82.9 653.5h0M78.6 681.0h0M74.0 653.3h0M93.7 653.2h0M66.5 626.5h0M87.7 670.4h0M61.9 645.9h0M59.4 651.0h0M70.6 653.7h0M91.7 653.4h0M66.8 685.3h0M51.0 654.7h0M46.9 661.1h0M49.3 647.4h0M55.1 670.4h0M72.7 669.7h0M64.1 652.5h0M82.2 615.1h0M52.6 641.5h0M94.2 658.1h0M93.4 649.6h0M58.6 685.7h0M56.9 628.5h0M62.4 650.2h0M56.1 630.4h0M60.3 672.7h0M46.4 655.7h0M62.1 677.7h0M75.2 619.7h0M58.1 637.0h0M56.0 623.8h0M69.5 650.4h0M97.6 679.3h0M71.0 687.8h0M79.1 648.5h0M93.1 680.7h0M53.0 653.7h0M86.2 692.2h0M67.2 640.9h0M64.9 638.8h0M76.8 630.5h0M95.0 669.4h0M60.5 612.1h0M83.3 653.4h0M63.2 678.8h0M84.6 617.5h0M96.6 664.2h0M95.2 656.8h0M68.1 681.2h0M106.7 665.1h0M48.9 657.9h0M53.6 658.6h0M73.6 614.0h0M54.5 631.5h0M71.4 678.1h0M73.3 677.5h0M77.1 683.8h0M100.3 664.8h0M48.0 670.0h0M71.9 675.7h0M45.1 660.8h0M70.1 662.5h0M69.1 677.8h0M63.3 687.1h0M46.8 645.5h0M98.8 657.8h0M62.1 660.8h0M43.6 654.2h0M79.5 656.5h0M71.6 632.7h0M65.4 687.4h0M83.3 653.0h0M71.4 622.8h0M76.8 677.8h0M62.2 683.5h0M48.1 680.4h0M66.0 684.7h0M91.5 648.4h0M66.2 654.7h0M96.9 652.7h0M69.2 661.1h0M79.1 618.1h0M41.3 661.3h0M52.6 679.6h0M84.3 648.5h0M79.3 666.0h0M87.4 687.0h0M62.0 671.2h0M54.2 676.2h0M75.6 686.2h0M75.8 644.3h0M76.4 614.9h0M50.6 648.6h0M75.9 627.5h0M58.4 675.7h0M93.3 645.8h0M76.2 643.5h0M65.2 627.4h0M93.2 641.5h0M52.4 649.1h0M102.7 668.3h0M81.2 639.1h0M92.9 699.1h0M86.1 627.2h0M40.6 664.8h0M53.8 621.0h0M57.1 681.4h0M72.5 613.2h0M93.8 683.4h0M48.3 653.1h0M52.9 657.7h0M96.0 684.3h0M48.9 654.5h0M85.5 681.9h0M43.5 662.6h0M83.9 659.3h0M73.3 629.7h0M63.9 635.2h0M87.1 645.2h0M54.5 624.0h0M92.4 644.5h0M85.3 640.8h0M71.0 669.3h0M77.2 672.8h0M45.1 664.7h0M91.0 682.6h0M55.7 650.0h0M71.3 653.8h0M78.4 668.0h0M53.6 666.5h0M82.6 688.9h0M94.8 692.0h0M60.3 620.6h0M46.7 662.2h0M67.5 617.1h0M86.7 682.5h0M94.9 644.7h0M69.9 663.0h0M73.6 632.5h0M63.4 687.1h0M90.9 655.1h0M67.0 652.2h0M40.4 658.2h0M73.9 684.5h0M71.5 650.1h0M82.8 631.0h0M71.7 618.4h0M81.2 631.2h0M62.2 617.6h0M106.2 671.0h0M42.5 664.7h0M61.1 613.5h0M84.8 675.0h0M96.6 662.3h0M70.2 630.1h0M56.7 617.4h0M61.2 643.6h0M74.0 651.5h0M81.9 612.8h0M97.9 683.3h0M45.9 647.6h0M80.6 620.7h0M71.9 633.6h0M94.3 693.6h0M74.9 677.1h0M78.7 613.9h0M101.4 678.2h0M43.2 661.4h0M70.0 668.0h0M87.2 668.2h0M67.3 667.8h0M48.4 645.9h0M56.0 633.8h0M85.5 672.6h0M41.5 667.1h0M103.4 669.6h0M54.9 679.1h0M47.3 681.0h0M76.3 684.3h0M88.2 665.9h0M80.2 622.2h0M91.2 644.9h0M62.4 663.6h0M77.9 637.3h0M66.0 661.9h0M96.7 649.5h0M67.6 619.3h0M72.8 631.3h0M80.9 659.8h0M89.9 685.7h0M85.1 620.6h0M63.5 607.7h0M93.4 679.5h0M72.5 686.1h0M64.3 643.9h0M54.2 651.6h0M51.2 659.4h0M77.4 619.1h0M54.0 626.2h0M77.0 682.7h0M72.3 677.5h0M87.4 699.6h0M54.1 668.6h0M83.9 657.5h0M64.6 621.3h0M55.4 637.4h0M47.7 674.0h0M54.4 630.0h0M88.7 642.0h0M43.8 672.2h0M104.6 651.6h0M69.3 688.1h0M98.1 671.0h0M41.0 663.9h0M82.5 650.5h0M67.4 611.6h0M72.6 664.7h0M51.5 643.9h0M67.8 641.7h0M63.3 667.2h0M91.9 680.5h0M71.0 669.1h0M83.6 646.3h0M50.9 653.6h0M66.9 613.8h0M102.2 677.9h0M66.5 638.6h0M84.5 623.0h0M73.1 655.9h0M82.2 613.6h0M100.4 677.9h0M70.5 641.5h0M66.9 678.5h0M56.2 678.5h0M50.7 658.0h0M89.6 683.6h0M74.6 642.8h0M69.6 682.3h0M59.1 660.7h0M58.7 652.2h0M67.0 634.5h0M86.8 636.8h0M41.4 675.7h0M43.6 660.9h0M68.0 687.8h0M71.5 626.8h0M85.2 686.9h0M84.8 621.5h0M62.5 648.2h0M91.3 688.6h0M78.5 691.9h0M86.1 644.5h0M75.1 632.6h0M58.2 660.1h0M85.3 686.2h0M85.6 635.1h0M72.0 615.2h0M59.9 625.3h0M72.2 666.6h0M46.0 679.8h0M69.7 661.7h0M62.7 660.3h0M68.6 661.4h0M75.5 686.4h0M93.9 683.4h0M80.2 617.8h0M89.0 627.4h0M81.8 629.5h0M42.2 669.5h0M73.7 634.2h0M90.2 659.9h0M74.5 648.1h0M48.8 665.0h0M50.7 677.1h0M53.8 657.5h0M54.8 681.2h0M84.1 662.6h0M106.9 656.9h0M90.8 684.5h0M59.8 652.0h0M53.9 624.4h0M77.0 689.6h0M51.1 663.3h0M106.6 653.7h0M78.1 626.4h0M94.5 677.4h0M95.0 651.0h0M59.5 617.0h0M82.6 615.6h0M73.6 677.4h0M58.9 623.9h0M89.4 641.9h0M73.3 620.2h0M69.9 627.2h0M50.1 653.1h0M75.9 687.6h0M87.6 666.4h0M94.6 687.2h0M49.0 660.5h0M73.3 645.3h0M65.1 680.0h0M86.5 658.6h0M68.8 661.2h0M65.8 670.9h0M94.3 665.2h0M83.4 621.8h0M78.2 616.9h0M70.0 631.8h0M48.7 645.1h0M82.4 609.2h0M64.3 616.3h0M95.1 647.9h0M74.4 647.0h0M92.9 643.4h0M81.4 620.2h0M50.1 662.9h0M97.0 687.2h0M82.0 646.8h0M62.3 634.5h0M94.3 650.3h0M63.6 678.0h0M88.9 676.4h0M61.9 612.0h0M43.7 677.3h0M107.9 657.1h0M91.3 644.6h0M58.9 672.5h0M87.6 661.1h0M63.8 636.6h0M79.2 675.5h0M57.0 661.8h0M53.7 644.5h0M84.1 691.6h0M68.9 662.3h0M80.8 690.2h0M95.3 647.0h0M94.7 683.7h0M78.1 682.8h0M56.3 680.4h0M63.9 672.5h0M78.8 632.0h0M55.3 628.9h0M98.7 655.4h0M67.0 618.1h0M54.9 660.2h0M72.2 617.3h0M52.1 682.1h0M50.3 676.4h0M70.1 625.5h0M72.0 657.1h0M88.9 629.2h0M64.4 626.4h0M87.4 626.9h0M60.6 664.3h0M67.5 643.9h0M97.6 666.0h0M60.9 685.1h0M98.6 663.7h0M85.6 672.4h0M91.5 681.6h0M53.0 625.8h0M68.2 623.8h0M77.2 643.0h0M77.9 634.6h0M69.3 652.6h0M68.2 621.5h0M52.5 652.2h0M64.9 624.6h0M61.2 645.1h0M73.9 643.6h0M98.9 660.3h0M94.1 656.3h0M107.0 672.1h0M70.3 623.0h0M103.3 672.9h0M67.9 621.1h0M95.9 674.0h0M72.4 662.4h0M52.4 667.0h0M66.1 682.1h0M68.8 658.4h0M56.4 648.5h0M71.2 673.9h0M64.8 669.4h0M85.6 692.3h0M57.1 646.7h0M88.2 630.3h0M43.2 652.0h0M68.6 618.0h0M51.2 648.2h0M80.6 641.5h0M52.1 626.9h0M67.9 613.4h0M73.7 670.4h0M69.6 619.4h0M85.3 665.6h0M72.7 665.5h0M77.9 630.0h0M76.1 663.0h0M57.7 640.4h0M95.7 690.2h0M60.5 637.0h0M73.6 626.9h0M68.1 615.5h0M89.8 663.8h0M71.0 683.8h0M63.9 617.0h0M88.3 677.3h0M75.7 657.2h0M40.4 650.2h0M104.9 662.0h0M72.6 671.2h0M73.2 647.3h0M51.2 671.0h0M86.9 661.6h0M60.8 666.7h0M97.5 683.3h0M87.2 676.4h0M59.7 657.0h0M77.1 687.3h0M56.6 669.9h0M78.8 672.4h0M103.1 661.2h0M74.2 674.2h0M53.2 671.9h0M61.1 667.6h0M67.3 676.3h0M92.3 684.7h0M66.2 641.9h0M86.5 672.9h0M42.4 674.9h0M51.1 659.9h0M72.1 620.6h0M88.2 681.1h0M62.1 681.1h0M84.6 641.2h0M78.5 686.3h0M48.8 662.7h0M48.8 675.4h0M42.7 660.1h0M89.2 636.0h0M55.2 662.8h0M92.4 653.7h0M64.5 648.7h0M51.9 680.0h0M97.4 680.9h0M43.2 655.6h0M91.2 655.0h0M66.0 639.2h0M48.4 682.7h0M58.9 678.9h0M64.8 611.6h0M69.3 664.9h0M38.6 655.0h0M100.2 667.3h0M68.5 627.9h0M79.5 688.5h0M73.3 614.0h0M79.9 627.6h0M81.4 655.6h0M81.4 686.2h0M97.7 687.2h0M101.9 667.6h0M79.6 681.6h0M46.2 663.3h0M81.3 628.3h0M66.5 653.7h0M97.3 672.7h0M94.8 664.3h0M58.0 624.8h0M64.2 630.2h0M92.3 658.5h0M67.6 683.8h0M101.4 671.5h0M61.3 626.8h0M67.7 667.0h0M91.4 655.1h0M75.9 630.8h0M44.0 654.1h0M62.0 638.7h0M89.4 688.5h0M70.4 666.0h0M82.8 630.9h0M76.5 649.3h0M97.0 657.8h0M43.4 657.0h0M45.1 663.0h0M74.5 651.7h0M74.3 658.8h0M96.5 680.6h0M45.8 670.2h0M94.0 657.7h0M90.3 651.3h0M76.7 683.3h0M62.6 612.9h0M82.1 615.0h0M69.3 643.7h0M52.7 674.3h0M42.2 658.2h0M60.4 652.8h0M77.3 667.2h0M81.7 686.9h0M59.5 615.9h0M101.1 682.9h0M73.4 614.3h0M73.8 618.4h0M89.4 659.6h0M87.8 699.2h0M58.8 688.7h0M67.4 651.5h0M85.9 679.7h0M87.4 655.4h0M81.4 661.7h0M44.0 655.5h0M96.1 652.1h0M90.8 656.2h0M68.4 638.8h0M44.0 660.6h0M80.7 626.2h0M82.9 636.7h0M93.0 683.8h0M75.3 674.1h0M69.7 679.3h0M62.7 643.6h0M94.5 664.8h0M74.8 626.5h0M77.1 666.7h0M84.3 693.4h0M82.5 669.3h0M63.7 682.6h0M39.8 659.7h0M72.1 675.2h0M83.7 638.3h0M62.7 644.5h0M68.4 636.3h0M87.0 641.5h0M96.1 662.1h0M66.5 623.7h0M88.3 676.0h0M72.4 677.4h0M102.6 656.4h0M94.7 692.1h0M69.1 657.3h0M68.1 642.2h0M63.5 674.3h0M88.0 634.7h0M90.1 658.9h0M90.7 656.5h0M64.0 614.5h0M88.3 626.0h0M57.2 673.5h0M63.6 626.3h0M98.7 677.9h0M65.4 663.3h0M90.9 684.7h0M95.2 648.5h0M72.3 674.4h0M60.1 682.8h0M70.4 632.1h0M44.5 655.0h0M79.3 684.1h0M82.2 637.7h0M38.4 658.0h0M97.7 650.8h0M76.3 642.0h0M58.6 686.5h0M72.5 632.8h0M45.7 657.7h0M56.2 673.8h0M54.5 664.5h0M51.1 674.3h0M75.4 687.6h0M90.1 647.6h0M63.3 667.5h0M78.6 625.8h0M78.3 675.2h0M82.7 615.2h0M72.6 677.5h0M85.0 615.8h0M55.1 647.3h0M76.5 629.8h0M92.9 688.3h0M79.7 638.1h0M88.4 658.4h0M42.5 675.0h0M84.8 625.0h0M54.9 652.1h0M94.6 650.1h0M52.5 626.3h0M85.5 674.6h0M44.0 667.8h0M95.3 642.7h0M65.6 627.9h0M69.0 649.1h0M83.3 633.0h0M95.4 657.9h0M83.9 674.2h0M79.8 637.8h0M78.1 645.4h0M90.0 689.8h0M64.7 656.5h0M94.6 665.6h0M73.3 636.8h0M81.5 620.7h0M70.5 651.1h0M49.4 661.9h0M68.7 634.3h0M80.7 619.9h0M49.9 657.3h0M79.5 661.9h0M57.3 643.0h0M101.3 670.8h0M79.7 647.6h0M83.8 609.8h0M96.1 672.8h0M86.5 679.1h0M49.5 658.3h0M51.6 661.9h0M64.5 635.2h0M46.5 675.7h0M58.5 639.4h0M73.4 669.8h0M52.3 673.7h0M42.8 677.1h0M103.2 651.9h0M60.6 639.6h0M97.1 660.1h0M78.2 674.2h0M90.2 677.4h0M94.4 690.6h0M67.8 660.8h0M88.1 634.4h0M54.0 647.9h0M76.3 646.8h0M90.2 639.1h0M93.8 687.8h0M58.9 617.3h0M63.9 628.2h0M64.8 653.9h0M80.7 673.2h0M52.6 679.1h0M60.9 656.5h0M70.4 666.4h0M58.1 675.4h0M82.2 676.3h0M59.4 625.5h0M87.9 633.1h0M57.2 671.0h0M92.1 699.7h0M42.2 666.8h0M56.9 672.0h0M59.7 656.6h0M87.5 633.7h0M58.0 681.6h0M57.6 677.8h0M59.4 678.3h0M77.3 650.7h0M96.4 645.7h0M47.7 646.8h0M38.6 654.3h0M62.0 655.2h0M61.2 647.7h0M40.4 669.8h0M76.0 623.1h0M78.7 620.9h0M90.0 629.6h0M88.4 625.2h0M79.6 655.4h0M96.4 663.8h0M47.2 663.4h0M89.0 633.6h0M56.4 660.1h0M84.9 618.0h0M67.5 621.8h0M85.2 664.2h0M64.4 650.4h0M68.3 667.5h0M89.0 637.5h0M93.2 643.9h0M67.4 673.1h0M57.3 649.5h0M59.2 614.5h0M80.0 653.3h0M57.3 640.6h0M46.4 650.3h0M58.3 656.7h0M65.2 677.6h0M70.7 640.3h0M71.2 656.6h0M71.2 631.3h0M59.5 634.3h0M79.6 667.6h0M88.7 635.8h0M86.4 687.7h0M60.3 616.3h0M57.0 656.5h0M91.3 649.7h0M72.0 619.1h0M50.6 678.9h0M51.8 684.2h0M63.3 680.6h0M75.0 680.0h0M69.5 687.4h0M63.0 650.4h0M83.2 622.4h0M101.0 671.9h0M63.1 656.0h0M92.5 692.1h0M67.6 685.3h0M43.4 656.4h0M57.4 618.7h0M54.9 629.6h0M73.1 629.6h0M102.9 668.2h0M74.8 616.2h0M64.0 616.0h0M57.5 667.8h0M54.5 681.3h0M54.0 671.9h0M78.1 628.6h0M58.8 634.7h0M53.8 659.3h0M85.7 658.1h0M51.5 624.2h0M61.3 611.6h0M83.8 647.6h0M49.4 656.8h0M68.6 654.6h0M76.3 685.5h0M76.9 671.2h0M99.0 666.5h0M82.9 656.8h0M58.9 625.8h0M96.7 665.2h0M55.8 670.7h0M81.9 623.6h0M52.7 643.4h0M50.7 669.8h0M88.8 646.8h0M99.8 679.7h0M48.8 675.3h0M65.5 614.4h0M71.4 631.4h0M57.9 658.4h0M46.9 681.1h0M70.4 612.5h0M73.9 648.8h0M54.6 649.4h0M56.8 619.5h0M86.0 696.9h0M84.7 690.0h0M89.0 662.8h0M44.0 671.6h0M63.1 673.5h0M74.7 627.6h0M61.3 637.1h0M69.1 629.1h0M96.9 683.1h0M57.9 644.4h0M72.0 628.5h0M94.6 646.8h0M66.2 649.1h0M101.3 662.3h0M52.1 683.5h0M40.6 663.5h0M78.1 677.9h0M76.6 644.5h0M68.8 613.3h0M88.2 697.4h0M87.2 657.4h0M66.9 643.2h0M92.6 680.3h0M58.7 665.0h0M79.6 626.7h0M66.2 617.2h0M67.4 646.7h0M88.6 673.4h0M74.6 618.7h0M92.1 639.2h0M76.8 662.8h0M106.4 675.3h0M52.1 627.7h0M58.9 683.8h0M54.7 620.5h0M59.5 644.3h0M64.2 676.6h0M84.6 683.6h0M47.9 644.0h0M57.9 673.0h0M61.5 638.3h0M75.8 686.7h0M69.3 684.1h0M89.1 641.7h0M89.6 650.9h0M78.9 668.5h0M90.2 627.9h0M83.2 647.8h0M51.7 658.9h0M60.0 611.9h0M84.5 647.9h0M81.1 653.3h0M62.7 679.7h0M84.4 631.8h0M56.9 682.8h0M47.5 662.3h0M65.2 627.3h0M61.9 679.0h0M58.2 616.1h0M93.2 697.9h0M78.5 649.2h0M80.4 690.7h0M83.7 643.8h0M96.1 649.5h0M54.2 683.4h0M103.9 671.7h0M85.6 623.1h0M92.0 698.4h0M105.6 676.2h0M65.1 623.6h0M70.1 649.6h0M73.5 646.9h0M57.5 621.6h0M71.0 650.8h0M94.8 656.6h0M98.3 651.3h0M99.8 674.4h0M68.6 645.3h0M69.8 613.5h0M74.3 618.6h0M106.3 658.2h0M80.0 650.3h0M101.8 677.4h0M65.7 672.0h0M62.9 668.6h0M52.0 625.1h0M69.8 615.3h0M57.5 685.9h0M102.3 654.9h0M66.5 655.4h0M49.6 668.5h0M84.7 615.7h0M87.7 662.5h0M93.8 653.3h0M82.5 695.4h0M47.5 657.4h0M63.7 685.0h0M76.8 637.2h0M72.9 625.9h0M46.7 666.7h0M93.9 666.5h0M84.4 678.4h0M79.3 623.6h0M52.9 648.1h0M66.3 623.4h0M90.1 663.5h0M83.3 612.4h0M65.8 673.0h0M50.5 643.4h0M60.5 663.7h0M68.2 672.9h0M72.5 675.1h0M56.9 649.8h0M64.7 678.0h0M50.5 667.9h0M88.0 660.7h0M73.9 664.8h0M75.1 625.9h0M63.8 607.3h0M89.3 695.2h0M92.0 694.8h0M45.3 657.7h0M69.3 681.8h0M87.7 692.0h0M99.3 677.5h0M89.4 689.6h0M50.3 664.1h0M92.1 642.5h0M53.2 655.7h0M84.9 631.7h0M62.2 632.4h0M104.3 661.5h0M98.6 680.5h0M81.8 665.0h0M66.2 661.4h0M85.2 674.5h0M80.0 680.4h0M74.0 647.6h0M87.3 698.7h0M68.6 611.7h0M66.9 664.9h0M43.5 645.9h0M92.8 690.7h0M89.2 657.1h0M40.5 653.0h0M78.0 672.5h0M62.8 687.5h0M65.4 643.9h0M69.5 653.7h0M51.6 632.3h0M61.5 608.4h0M57.8 642.9h0M93.6 659.7h0M105.3 671.5h0M50.1 655.3h0M86.3 673.9h0M44.8 661.4h0M56.9 636.8h0M89.0 677.0h0M88.7 668.1h0M68.3 658.2h0M53.3 659.3h0M60.1 646.7h0M75.9 668.8h0M42.5 656.9h0M75.1 636.2h0M57.7 687.2h0M47.2 667.9h0M99.0 676.0h0M44.3 653.3h0M79.6 616.1h0M95.8 645.2h0M77.2 633.8h0M59.7 684.4h0M55.4 622.3h0M50.6 683.9h0M82.7 609.3h0M75.7 658.7h0M69.3 657.7h0M51.1 651.7h0M105.0 665.1h0M71.4 653.9h0M85.3 619.6h0M81.2 660.5h0M66.1 659.5h0M56.9 624.7h0M91.3 686.4h0M64.4 679.4h0M68.4 674.4h0M81.4 645.6h0M107.8 657.1h0M91.8 641.7h0M55.6 669.4h0M76.2 668.6h0M71.9 658.7h0M81.0 662.3h0M60.4 643.9h0M62.6 674.3h0M64.0 678.6h0M97.6 677.2h0M103.0 663.4h0M61.6 646.4h0M75.5 687.4h0M76.0 626.2h0M95.4 676.1h0M64.4 644.2h0M88.3 701.5h0M80.5 682.4h0M50.4 663.2h0M69.1 658.8h0M45.5 649.3h0M74.7 657.8h0M67.6 638.5h0M80.8 694.7h0M81.4 617.0h0M49.2 661.5h0M78.4 623.2h0M46.3 645.8h0M66.5 651.4h0M74.2 619.7h0M84.5 609.1h0M65.5 628.1h0M90.3 646.6h0M59.9 678.6h0M81.2 609.3h0M51.7 654.1h0M58.1 635.7h0M96.5 688.8h0M85.5 639.4h0M79.1 627.0h0M60.4 646.9h0M93.7 641.0h0M91.4 667.3h0M83.6 671.2h0M86.6 688.3h0M44.0 663.4h0M107.0 671.3h0M72.7 636.9h0M66.4 677.0h0M62.1 688.1h0M94.2 645.7h0M53.2 685.1h0M67.4 689.7h0M78.0 640.5h0M96.3 688.7h0M58.8 616.6h0M67.7 621.2h0M69.8 620.5h0M75.8 620.3h0M57.9 686.3h0M75.2 661.2h0M83.0 631.5h0M59.3 666.9h0M90.8 648.3h0M44.2 660.5h0M45.0 667.1h0M88.7 688.3h0M101.3 680.6h0M71.7 688.8h0M45.4 670.5h0M65.5 676.0h0M75.4 646.1h0M81.6 648.8h0M81.0 676.9h0M90.6 639.8h0M83.7 648.9h0M72.8 629.5h0M81.6 663.6h0M74.2 678.8h0M87.7 646.1h0M67.9 648.3h0M50.2 678.8h0M71.4 663.0h0M94.8 688.3h0M83.6 611.2h0M83.8 653.4h0M88.0 655.1h0M49.9 650.3h0M67.6 663.7h0M57.6 679.7h0M91.0 639.1h0M62.3 650.8h0M93.3 656.5h0M81.6 636.0h0M55.7 649.8h0M74.8 654.4h0M72.4 684.9h0M49.2 668.3h0M92.5 683.7h0M84.5 626.1h0M103.1 662.5h0M84.2 622.5h0M87.2 700.2h0M89.7 652.5h0M47.8 668.7h0M92.5 649.6h0M44.7 657.4h0M72.5 622.9h0M62.6 612.8h0M40.9 654.4h0M44.0 673.1h0M63.9 684.8h0M87.1 637.5h0M69.7 622.0h0M82.6 675.7h0M74.4 656.5h0M59.8 675.3h0M92.2 677.2h0M90.0 666.2h0M70.9 684.6h0M95.8 672.0h0M91.9 692.4h0M74.0 652.1h0M55.8 618.9h0M76.7 643.4h0M58.5 640.5h0M80.7 617.1h0M58.1 646.3h0M61.9 676.1h0M77.7 614.4h0M86.7 659.7h0M77.5 684.9h0M84.1 661.3h0M55.2 671.6h0M86.1 651.7h0M84.3 647.8h0M77.9 634.6h0M83.7 679.4h0M86.9 689.5h0M71.3 662.1h0M74.5 648.9h0M61.6 630.7h0M41.5 657.0h0M67.2 687.2h0M84.2 617.5h0M59.5 683.9h0M87.0 676.1h0M96.6 669.7h0M100.6 682.8h0M58.2 619.6h0M64.6 682.2h0M62.0 642.6h0M52.4 651.5h0M69.8 658.6h0M40.6 663.5h0M100.9 666.2h0M62.5 633.4h0M90.6 637.4h0M93.0 648.7h0M104.9 668.2h0M71.7 620.6h0M82.4 623.1h0M55.4 647.4h0M79.1 668.1h0M106.1 671.3h0M67.2 683.0h0M67.0 622.2h0M48.6 668.9h0M54.0 626.1h0M72.1 687.8h0M68.3 686.8h0M63.0 685.1h0M85.2 674.9h0M87.2 628.9h0M72.3 636.0h0M62.5 671.1h0M59.1 677.7h0M88.7 645.6h0M62.3 640.0h0M41.4 656.5h0M77.2 665.3h0M79.5 664.0h0M86.2 686.2h0M68.8 674.2h0M69.9 641.7h0M71.9 653.1h0M93.0 659.3h0M63.8 640.1h0M45.9 662.5h0M78.7 638.3h0M75.0 674.7h0M64.6 620.8h0M77.6 632.7h0M80.7 682.9h0M101.5 661.9h0M55.4 686.3h0M88.1 694.1h0M103.9 677.0h0M66.6 629.7h0M72.2 625.8h0M47.8 673.6h0M64.4 637.3h0M98.7 665.8h0M55.6 622.6h0M55.4 670.3h0M54.8 642.7h0M63.2 679.4h0M49.4 681.8h0M63.7 617.9h0M66.7 645.9h0M107.2 674.2h0M80.8 661.6h0M65.4 675.9h0M51.0 663.6h0M101.6 672.8h0M79.6 663.5h0M68.7 681.7h0M52.0 650.0h0M50.4 625.3h0M67.9 627.1h0M82.2 664.2h0M95.5 678.2h0M45.3 664.8h0M102.3 672.3h0M95.1 663.0h0M59.9 676.4h0M99.9 650.3h0M75.5 621.9h0M81.2 684.2h0M86.7 651.8h0M81.2 661.2h0M51.6 624.8h0M61.1 616.9h0M104.8 663.0h0M54.5 644.4h0M86.7 659.7h0M48.3 678.0h0M61.7 647.3h0M80.6 671.9h0M39.6 662.1h0M58.3 655.5h0M72.3 666.6h0M85.9 662.8h0M76.8 665.9h0M79.4 619.8h0M59.9 673.4h0M76.4 652.9h0M65.7 666.6h0M90.8 689.2h0M48.1 664.1h0M81.9 648.4h0M67.8 672.8h0M75.3 636.7h0M92.9 655.5h0M64.0 663.8h0M70.3 637.2h0M92.4 672.2h0M91.2 643.7h0M59.6 650.6h0M92.5 683.5h0M66.7 681.4h0M85.4 693.6h0M52.3 667.7h0M80.7 635.6h0M45.4 656.1h0M41.2 658.6h0M89.5 650.0h0M87.4 683.9h0M64.7 666.6h0M86.4 674.2h0M62.8 658.2h0M59.6 629.8h0M70.4 648.6h0M59.5 621.5h0M86.7 693.5h0M75.0 637.6h0M52.1 661.7h0M77.0 650.1h0M61.9 622.6h0M100.5 652.5h0M91.3 687.5h0M62.3 631.3h0M41.5 657.2h0M88.1 651.8h0M82.2 648.8h0M94.7 652.4h0M73.9 660.1h0M67.0 640.2h0M62.1 682.8h0M76.9 647.2h0M101.9 657.8h0M72.5 626.9h0M93.2 671.6h0M56.4 672.1h0M62.5 639.1h0M72.0 619.8h0M66.8 644.3h0M72.9 664.8h0M75.6 660.3h0M48.1 666.1h0M91.6 664.4h0M85.2 656.8h0M98.6 664.9h0M52.8 647.2h0M81.8 687.5h0M83.1 660.2h0M58.4 655.3h0M58.2 656.0h0M77.9 650.1h0M92.7 676.7h0M66.8 619.8h0M104.1 655.1h0M94.2 659.0h0M59.0 676.8h0M64.6 626.7h0M76.4 680.7h0M41.8 653.2h0M85.8 694.6h0M65.4 662.2h0M97.7 660.9h0M41.2 660.4h0M55.5 680.1h0M46.7 672.4h0M66.5 661.5h0M75.3 629.2h0M57.2 646.5h0M59.1 679.7h0M61.9 645.8h0M59.0 628.4h0M82.6 612.5h0M64.6 637.9h0M79.0 646.5h0M90.0 679.6h0M42.7 654.4h0M76.8 625.5h0M59.5 646.5h0M43.9 660.2h0M73.3 667.4h0M63.5 636.1h0M105.5 656.7h0M79.7 660.8h0M87.7 657.8h0M55.8 680.4h0M101.4 662.0h0M81.8 663.6h0M81.6 639.2h0M71.4 619.4h0M66.3 627.4h0M67.8 611.9h0M85.3 671.8h0M68.1 665.7h0M84.2 689.1h0M43.1 661.3h0M81.0 686.4h0M76.1 625.7h0M88.2 640.8h0M63.8 646.6h0M87.8 661.1h0M48.7 660.2h0M75.5 627.2h0M73.6 663.3h0M83.7 654.8h0M104.1 668.5h0M85.9 625.8h0M94.2 669.2h0M74.7 657.6h0M79.5 655.7h0M59.6 674.9h0M97.9 654.2h0M75.6 664.1h0M65.1 659.3h0M93.6 685.5h0M78.1 619.9h0M83.7 687.7h0M96.0 654.6h0M68.5 642.9h0M43.5 650.9h0M74.3 620.9h0M100.9 662.8h0M55.7 631.2h0M56.4 659.1h0M90.6 682.1h0M70.2 656.6h0M54.0 682.8h0M44.1 665.2h0M84.8 665.6h0M69.1 635.7h0M84.2 651.9h0M73.8 657.7h0M89.2 688.7h0M69.3 657.1h0M95.2 684.5h0M92.9 663.9h0M49.7 651.6h0M55.4 678.8h0M69.2 655.6h0M60.8 671.4h0M74.5 656.3h0M51.8 656.8h0M73.7 629.1h0M55.0 646.6h0M98.2 662.8h0M84.7 684.4h0M59.8 679.2h0M81.2 622.5h0M76.2 653.0h0M83.9 618.1h0M51.9 660.7h0M66.1 682.1h0M58.9 680.4h0M66.7 615.5h0M79.3 663.3h0M54.9 676.1h0M74.7 654.2h0M62.0 681.0h0M94.8 657.0h0M95.6 667.6h0M72.7 619.8h0M99.6 667.4h0M69.5 686.3h0M89.6 666.4h0M72.5 634.2h0M82.4 635.7h0M87.4 692.6h0M93.7 670.6h0M66.0 640.7h0M53.6 648.5h0M88.8 651.1h0M48.0 676.6h0M68.8 651.6h0M72.0 636.6h0M84.1 669.7h0M87.6 663.3h0M78.4 670.2h0M95.1 675.8h0M95.8 662.5h0M60.8 620.8h0M50.2 645.7h0M67.8 646.0h0M61.7 657.2h0M63.4 616.1h0M63.6 624.9h0M86.4 632.6h0M51.6 680.4h0M69.0 671.8h0M81.0 634.7h0M86.6 691.0h0M47.3 666.2h0M67.7 629.1h0M84.6 695.0h0M85.9 690.7h0M41.3 654.0h0M79.7 615.6h0M65.0 669.9h0M78.5 624.2h0M100.6 671.0h0M75.5 677.5h0M87.0 684.0h0M87.8 688.7h0M63.1 666.9h0M72.6 631.5h0M80.1 691.6h0M57.1 655.5h0M68.2 647.0h0M51.4 647.5h0M81.3 622.4h0M75.2 647.4h0M66.8 658.5h0M88.4 678.1h0M76.3 627.7h0M56.9 656.4h0M72.5 631.6h0M72.8 638.3h0M105.0 670.1h0M79.1 663.8h0M77.6 614.3h0M60.0 672.9h0M100.4 669.5h0M68.9 623.0h0M91.0 673.1h0M44.2 648.9h0M61.2 648.9h0M61.8 619.2h0M78.7 651.2h0M86.8 643.4h0M54.9 626.9h0M78.2 628.5h0M104.8 653.9h0M104.4 661.3h0M53.2 656.7h0M101.6 653.5h0M51.4 661.5h0M99.9 668.6h0M92.7 667.6h0M61.0 683.8h0M89.0 648.5h0M62.6 654.7h0M66.8 612.3h0M54.1 669.0h0M93.6 648.4h0M72.3 637.6h0M82.0 667.3h0M105.2 663.3h0M79.4 665.6h0M59.7 653.0h0M59.8 669.8h0M76.2 644.6h0M99.1 665.9h0M82.0 632.7h0M90.2 697.1h0M91.7 679.3h0M65.8 682.4h0M76.9 672.7h0M65.3 661.1h0M66.1 645.8h0M67.5 676.9h0M72.4 685.8h0M71.8 646.5h0M70.5 621.2h0M78.0 628.3h0M42.1 660.7h0M89.5 675.7h0M77.4 650.8h0M59.8 624.7h0M89.4 672.9h0M52.2 681.1h0M82.4 684.0h0M65.0 622.3h0M43.9 670.0h0M76.8 620.2h0M99.2 666.0h0M72.3 623.8h0M60.9 655.9h0M85.5 691.7h0M45.4 671.8h0M86.4 646.2h0M99.9 675.9h0M85.0 640.9h0M90.2 651.7h0M41.4 661.3h0M68.5 647.9h0M81.9 692.3h0M48.8 661.3h0M66.4 676.9h0M51.8 661.6h0M95.6 659.6h0M93.5 668.4h0M88.3 652.3h0M52.7 677.8h0M70.7 618.8h0M67.8 651.8h0M58.2 652.9h0M99.1 661.6h0M76.8 662.0h0M88.3 691.7h0M66.4 616.4h0M55.9 662.6h0M59.0 683.4h0M81.7 644.6h0M79.9 682.8h0M82.7 647.2h0M78.7 680.1h0M50.5 646.9h0M65.4 641.1h0M82.1 658.3h0M51.8 647.7h0M68.7 672.5h0M67.7 626.7h0M63.5 653.0h0M67.6 649.9h0M74.7 675.9h0M61.3 624.8h0M98.4 678.3h0M97.8 660.9h0M52.9 673.3h0M54.9 676.1h0M61.0 683.9h0M99.5 652.8h0M44.1 654.3h0M74.2 645.6h0M45.5 664.8h0M93.2 661.4h0M89.7 678.0h0M75.7 672.4h0M82.3 645.5h0M92.5 680.9h0M76.7 678.9h0M63.9 630.9h0M78.7 649.8h0M49.8 656.4h0M87.9 655.2h0M60.1 651.7h0M81.2 673.1h0M85.0 673.4h0M65.7 634.6h0M94.8 648.8h0M93.1 658.2h0M61.1 648.3h0M50.8 647.6h0M72.3 614.9h0M59.1 679.6h0M73.6 636.2h0M59.5 641.1h0M76.7 641.8h0M56.1 665.3h0M98.9 672.5h0M102.2 661.8h0M83.4 634.4h0M53.5 683.9h0M99.6 653.8h0M76.2 629.9h0M95.8 650.4h0M63.6 638.5h0M73.5 652.6h0M65.1 610.9h0M57.5 684.8h0M79.7 670.8h0M74.5 649.3h0M81.6 678.6h0M83.5 661.0h0M93.5 668.3h0M83.8 678.8h0M61.1 643.2h0M68.7 670.8h0M68.3 641.8h0M65.5 647.0h0M61.1 636.2h0M65.5 651.0h0M95.2 661.1h0M51.9 648.3h0M56.8 623.3h0M83.0 621.3h0M75.5 618.0h0M65.9 656.6h0M79.5 670.7h0M46.1 661.0h0M90.0 657.8h0M93.2 656.5h0M71.0 643.4h0M72.3 678.6h0M45.3 655.1h0M45.1 665.6h0M44.0 666.9h0M86.3 641.3h0M76.6 615.2h0M66.2 626.1h0M57.3 666.9h0M64.3 673.0h0M81.1 635.8h0M70.7 669.3h0M79.9 636.0h0M67.3 681.6h0M55.6 624.1h0M91.8 695.2h0M79.0 624.4h0M57.7 678.9h0M66.9 618.6h0M80.1 667.5h0M61.4 669.4h0M71.6 659.9h0M80.6 666.8h0M70.7 673.6h0M72.1 665.1h0M61.8 673.1h0M69.8 686.8h0M62.7 650.3h0M57.6 633.2h0M98.2 677.8h0M79.5 650.4h0M45.8 650.7h0M78.0 651.7h0M72.0 630.6h0M56.7 668.8h0M93.3 656.9h0M63.7 622.9h0M86.2 630.9h0M52.5 672.2h0M73.2 657.2h0M63.2 611.9h0M70.3 669.4h0M82.0 683.2h0M50.0 658.5h0M81.8 639.1h0M42.9 669.2h0M101.2 667.3h0M96.1 670.5h0M61.5 643.1h0M91.9 676.4h0M62.4 671.9h0M75.6 656.5h0M68.8 617.2h0M75.6 633.7h0M91.4 656.1h0M94.4 648.0h0M70.5 661.0h0M99.5 672.7h0M100.8 668.0h0M64.2 651.5h0M63.7 633.2h0M92.6 685.4h0M45.1 666.1h0M99.5 681.2h0M86.0 626.8h0M85.4 676.3h0M78.0 627.3h0M62.7 660.7h0M52.6 675.6h0M63.0 624.4h0M50.2 676.5h0M42.5 674.0h0M94.8 675.5h0M63.5 636.8h0M64.1 664.6h0M102.1 665.0h0M91.2 652.0h0M102.6 675.3h0M76.3 636.1h0M70.9 636.8h0M91.2 640.6h0M79.4 669.7h0M103.2 660.2h0M78.5 630.3h0M89.0 657.2h0M96.5 666.9h0M63.8 665.6h0M85.5 684.8h0M61.8 664.4h0M76.0 624.3h0M92.4 678.5h0M46.6 651.7h0M86.5 642.6h0M61.8 620.7h0M62.9 673.1h0M82.7 687.2h0M65.4 669.4h0M63.6 665.3h0M53.9 666.4h0M64.9 660.2h0M51.8 666.2h0M74.3 664.4h0M53.9 628.6h0M79.3 640.6h0M78.7 618.2h0M86.9 634.9h0M87.5 666.6h0M95.4 664.3h0M92.2 648.2h0M73.9 615.4h0M82.2 674.3h0M88.0 670.3h0M71.1 642.2h0M76.1 671.6h0M91.2 686.8h0M93.8 685.8h0M80.1 641.7h0M90.3 658.7h0M82.6 622.9h0M66.1 619.9h0M75.7 644.8h0M54.6 634.0h0M89.1 653.7h0M98.3 677.6h0M59.9 663.0h0M52.1 651.1h0M78.4 656.2h0M82.1 664.7h0M50.6 662.2h0M105.0 669.3h0M94.3 659.7h0M84.9 641.4h0M76.4 666.0h0M76.8 627.3h0M54.5 682.2h0M67.7 663.7h0M85.2 644.0h0M79.5 636.2h0M56.6 623.9h0M89.5 693.8h0M52.1 682.4h0M64.3 661.6h0M93.6 660.4h0M77.5 636.4h0M54.8 676.3h0M83.6 669.5h0M88.9 669.6h0M84.3 636.4h0M80.2 682.3h0M59.6 681.4h0M94.5 673.1h0M88.7 670.0h0M71.7 659.2h0M92.6 673.8h0M93.1 667.8h0M81.1 621.0h0M87.2 633.5h0M85.3 627.4h0M59.7 679.4h0M55.5 648.2h0M68.0 650.6h0M53.6 682.8h0M101.9 667.8h0M88.7 696.7h0M65.4 647.0h0M54.2 683.1h0M58.5 672.7h0M74.3 675.4h0M102.9 660.5h0M81.1 651.2h0M82.9 653.4h0M62.4 612.2h0M78.0 644.6h0M93.5 667.5h0M83.8 664.3h0M77.7 670.9h0M88.6 698.3h0M74.0 618.4h0M67.9 666.9h0M76.0 622.3h0M78.0 684.8h0M69.1 612.8h0M87.8 685.6h0M88.6 653.4h0M55.7 665.7h0M59.3 632.9h0M69.9 639.5h0M76.6 673.6h0M87.5 646.2h0M97.9 672.9h0M61.2 621.3h0M98.3 652.1h0M62.1 625.8h0M67.0 643.7h0M54.3 675.6h0M60.1 669.8h0M74.7 664.5h0M71.8 635.3h0M100.3 656.5h0M44.0 650.1h0M95.7 687.5h0M99.2 681.1h0M60.7 656.9h0M93.4 649.8h0M68.8 625.4h0M103.7 655.3h0M59.2 671.7h0M66.4 636.7h0M84.1 655.1h0M57.1 658.6h0M78.9 627.7h0M95.8 662.5h0M69.8 664.1h0M57.9 679.7h0M55.2 655.0h0M80.2 617.8h0M53.2 656.9h0M73.1 620.1h0M72.3 665.9h0M59.4 634.1h0M53.7 632.6h0M89.4 686.5h0M47.3 671.1h0M69.1 624.6h0M84.2 690.5h0M42.2 651.6h0M92.3 687.3h0M75.8 666.7h0M79.2 684.9h0M58.7 642.9h0M42.6 670.6h0M93.1 668.0h0M61.3 680.6h0M104.4 663.3h0M58.2 639.5h0M61.1 676.3h0M84.1 654.5h0M104.0 654.4h0M88.2 650.0h0M94.9 683.7h0M72.7 632.1h0M91.2 652.9h0M61.4 642.3h0M77.4 623.2h0M89.3 663.4h0M68.2 630.8h0M87.2 663.1h0M102.0 664.9h0M67.2 616.6h0M65.6 656.0h0M79.9 661.2h0M89.9 689.9h0M99.6 676.0h0M81.9 610.6h0M59.2 666.1h0M49.3 675.9h0M56.9 654.2h0M99.0 652.9h0M74.1 644.3h0M81.2 632.0h0M72.2 636.6h0M60.1 650.5h0M88.2 676.3h0M88.0 638.4h0M87.3 691.0h0M57.3 658.6h0M46.5 673.7h0M84.9 684.7h0M42.3 658.2h0M77.6 650.9h0M63.1 667.9h0M84.8 645.5h0M88.7 670.3h0M92.4 674.1h0M91.1 678.7h0M96.8 650.2h0M98.8 656.3h0M83.3 648.0h0M54.8 678.2h0M55.0 649.7h0M97.5 660.9h0M69.7 618.9h0M70.4 620.6h0M82.8 646.6h0M82.9 640.5h0M66.6 613.4h0M92.2 687.2h0M60.5 637.8h0M82.3 693.9h0M105.5 673.1h0M94.0 680.7h0M73.2 646.4h0M69.0 652.2h0M64.4 686.7h0M65.7 630.6h0M78.4 663.2h0M83.3 640.1h0M58.2 665.5h0M72.2 614.9h0M84.1 656.9h0M92.3 670.0h0M65.6 611.4h0M75.1 637.3h0M52.4 664.7h0M72.8 623.8h0M51.1 661.2h0M45.3 670.4h0M50.5 669.9h0M55.4 643.7h0M65.0 665.5h0M69.5 687.0h0M86.7 651.5h0M83.1 642.7h0M76.5 676.9h0M85.4 661.1h0M68.9 675.2h0M60.5 658.1h0M61.3 685.6h0M76.7 634.1h0M54.8 681.2h0M57.7 656.8h0M78.6 643.5h0M56.3 664.6h0M82.4 630.3h0M62.6 664.0h0M59.7 623.1h0M88.4 678.3h0M76.9 633.9h0M77.3 681.2h0M55.2 678.8h0M60.3 657.0h0M82.2 626.2h0M83.7 655.2h0M75.4 623.0h0M44.2 669.5h0M59.8 640.7h0M68.8 617.4h0M92.6 651.9h0M74.2 654.4h0M95.0 659.1h0M102.2 661.7h0M44.0 656.4h0M69.8 660.4h0M84.8 645.0h0M65.0 633.4h0M89.4 651.1h0M78.2 636.5h0M69.8 664.5h0M62.1 655.7h0M48.1 669.9h0M65.8 659.3h0M48.2 680.4h0M65.9 638.3h0M61.6 643.6h0M80.4 664.8h0M79.7 636.1h0M66.0 623.4h0M44.7 675.1h0M104.6 657.3h0M83.2 666.8h0M78.6 623.9h0M57.9 651.8h0M88.0 668.0h0M93.8 680.1h0M92.8 660.0h0M81.4 643.2h0M89.8 653.0h0M90.9 669.2h0M59.9 679.8h0M87.3 692.6h0M77.2 627.6h0M51.2 682.9h0M95.1 664.4h0M66.3 642.9h0M96.4 677.0h0M78.0 639.5h0M50.4 654.1h0M47.8 680.9h0M91.9 689.3h0M78.8 636.0h0M87.2 681.9h0M80.6 690.8h0M74.1 663.8h0M77.7 631.6h0M99.4 668.9h0M80.1 680.1h0M90.1 663.7h0M58.5 623.2h0M93.7 678.8h0M95.2 685.3h0M62.2 650.0h0M87.3 648.8h0M77.0 636.3h0M87.9 669.3h0M80.1 679.5h0M56.0 677.9h0M76.1 617.8h0M79.3 649.9h0M65.4 622.9h0M63.5 642.9h0M74.1 641.7h0M61.0 625.2h0M62.5 677.0h0M93.2 688.3h0M60.5 680.7h0M40.4 654.3h0M91.6 678.0h0M101.8 655.7h0M69.5 629.3h0M54.0 668.6h0M47.1 666.4h0M84.0 666.9h0M70.0 658.5h0M100.7 655.7h0M87.0 653.0h0M60.1 659.1h0M86.2 686.7h0M81.6 654.1h0M58.1 679.6h0M44.7 663.1h0M44.4 651.1h0M56.9 627.6h0M78.2 647.7h0M55.8 654.4h0M46.4 658.3h0M58.9 627.0h0M103.9 664.9h0M76.3 638.5h0M76.5 638.8h0M94.4 664.3h0M53.8 677.9h0M68.9 651.9h0M79.1 624.3h0M74.7 667.1h0M63.4 610.6h0M72.6 666.9h0M62.5 624.1h0M58.9 682.2h0M70.4 676.0h0M86.5 652.2h0M62.9 640.7h0M54.4 674.9h0M72.0 662.9h0M85.3 640.1h0M88.4 677.4h0M68.4 666.6h0M83.6 623.3h0M77.1 657.8h0M88.4 659.6h0M60.6 620.6h0M48.5 669.4h0M53.9 624.4h0M74.9 684.0h0M85.5 658.9h0M84.0 649.9h0M60.8 683.5h0M43.0 669.8h0M49.1 654.9h0M69.4 643.9h0M67.4 683.0h0M92.6 692.1h0M89.1 688.9h0M96.8 664.1h0M94.8 680.7h0M100.7 662.1h0M71.0 647.7h0M84.9 633.8h0M65.1 618.4h0M57.3 641.8h0M82.7 660.1h0M63.4 670.2h0M64.2 679.3h0M81.5 691.9h0M97.0 667.4h0M55.1 676.0h0M68.0 677.4h0M54.2 680.3h0M85.0 681.6h0M73.4 645.1h0M94.9 648.9h0M95.1 657.3h0M82.2 642.2h0M78.4 677.9h0M97.3 679.1h0M75.3 659.3h0M41.6 657.4h0M61.1 663.6h0M49.5 678.1h0M90.2 662.6h0M56.2 661.4h0M69.4 667.2h0M56.2 643.3h0M82.3 614.5h0M104.2 657.8h0M59.9 648.1h0M104.2 665.3h0M83.2 672.4h0M80.6 672.6h0M71.0 686.6h0M92.6 684.5h0M100.0 678.9h0M73.5 661.4h0M54.9 627.8h0M86.9 632.1h0" stroke="#009E73" stroke-width="2.00" stroke-linecap="round" fill="none" /><path d="M45.1 651.3h0M57.5 619.2h0M65.6 613.9h0M80.2 631.8h0M71.2 660.5h0M41.4 653.3h0M52.5 663.9h0M87.8 659.5h0M91.0 641.3h0M73.1 623.5h0M86.4 630.9h0M70.2 656.6h0M77.6 663.6h0M59.7 626.1h0M99.0 672.3h0M71.3 626.2h0M52.9 681.1h0M68.2 667.3h0M55.4 654.3h0M53.7 656.6h0M83.9 668.2h0M87.5 659.1h0M77.6 677.8h0M105.4 660.6h0M58.3 645.6h0M78.8 640.6h0M66.9 662.6h0M59.5 652.9h0M54.2 660.6h0M54.5 660.0h0M62.2 651.1h0M88.5 639.4h0M88.3 667.0h0M66.7 633.0h0M76.5 681.7h0M63.9 653.1h0M66.9 685.8h0M92.9 649.3h0M70.1 650.2h0M62.3 612.1h0M95.3 676.5h0M54.4 667.5h0M86.8 692.6h0M80.3 659.9h0M64.1 653.3h0M82.6 642.8h0M97.0 671.3h0M73.2 641.9h0M83.2 675.5h0M103.3 674.1h0M48.5 650.8h0M77.0 657.9h0M94.6 688.8h0M92.7 677.2h0M70.4 684.8h0M69.5 648.4h0M83.4 652.0h0M71.8 686.6h0M81.3 648.3h0M80.1 665.5h0" stroke="#fff" stroke-width="1.00" stroke-linecap="round" fill="none" /><path d="M65.2 639.1h0M60.5 640.0h0M56.2 639.0h0M60.5 633.8h0M56.5 643.2h0M59.6 637.8h0M55.6 633.8h0M57.8 646.4h0M57.3 640.3h0M59.8 637.0h0M58.5 641.3h0M54.9 648.1h0M61.3 634.1h0M51.5 651.4h0M56.4 642.7h0M56.5 637.9h0M58.0 644.6h0M60.1 644.7h0M58.0 632.4h0M59.5 645.9h0M58.5 637.4h0M61.7 644.5h0M55.6 638.3h0M54.5 647.2h0M55.1 632.7h0M58.9 638.5h0M83.8 695.4h0M84.8 695.2h0M86.7 697.3h0M87.2 695.7h0M87.4 697.9h0M85.1 693.2h0M83.1 693.2h0M87.1 695.9h0M86.3 695.9h0M86.3 697.0h0M84.1 694.2h0M84.6 693.8h0M84.4 695.3h0M85.4 696.0h0M65.0 624.7h0M62.1 624.1h0M59.4 624.5h0M66.9 629.6h0M65.1 626.4h0M65.6 631.8h0M67.1 627.4h0M59.9 631.0h0M67.8 628.5h0M63.0 625.9h0M55.2 624.6h0M58.7 622.6h0M90.7 667.1h0M99.5 669.9h0M87.1 675.3h0M91.0 679.9h0M95.0 680.5h0M86.2 674.7h0M92.0 676.2h0M88.5 668.2h0M92.5 677.9h0M96.9 671.2h0M94.7 669.5h0M84.5 661.7h0M102.3 664.1h0M92.1 683.7h0" stroke="#fff" stroke-width="1.20" stroke-linecap="round" fill="none" /><path d="M85.0 630.7h0M64.8 611.4h0M76.5 620.6h0M64.7 614.0h0M81.6 619.5h0M69.8 617.4h0M84.7 632.0h0M71.8 621.2h0M75.8 622.8h0M68.0 614.7h0M81.8 616.8h0M73.6 617.3h0M84.4 635.9h0M83.7 635.0h0M86.5 628.2h0M70.2 613.9h0M70.2 622.1h0M73.5 623.3h0M80.4 623.3h0M72.8 625.9h0M79.1 626.8h0M74.6 616.2h0M73.3 627.3h0M86.4 630.3h0M72.9 623.3h0M71.7 624.0h0M72.6 622.3h0M76.4 619.4h0M83.6 630.8h0M70.6 621.9h0M74.5 625.0h0M63.8 614.7h0M74.4 626.5h0M81.1 629.1h0M67.6 613.4h0M81.1 622.1h0M76.1 627.6h0M66.4 611.3h0M73.5 620.6h0M60.7 614.2h0M63.6 617.3h0M71.7 617.4h0M85.1 629.6h0M71.4 620.2h0M86.1 631.7h0M66.9 616.8h0M64.2 619.7h0M79.4 619.7h0M77.0 620.8h0M73.7 624.9h0M68.4 610.1h0M71.4 614.9h0M67.2 612.0h0M73.7 616.8h0M79.0 629.9h0M79.6 621.3h0M85.4 631.4h0M72.6 629.9h0M81.9 619.6h0M84.7 631.6h0M69.9 616.9h0M70.2 618.6h0M81.9 625.5h0M74.4 620.2h0M79.4 624.3h0M88.8 631.3h0M66.3 616.7h0M75.4 615.0h0M79.9 624.9h0M76.2 616.6h0M81.4 624.0h0M75.1 622.3h0M79.2 629.3h0M73.6 617.0h0M80.2 626.3h0M86.4 632.3h0M79.8 625.2h0M84.0 624.9h0M87.3 631.6h0M67.6 614.1h0M76.7 631.6h0M80.1 625.7h0M70.2 617.3h0M71.2 622.9h0M81.7 625.8h0M63.0 615.3h0M69.0 612.3h0M61.5 615.4h0M81.6 618.2h0M67.4 609.3h0M75.1 624.7h0M82.1 627.7h0M82.4 616.1h0M85.9 622.6h0M72.2 620.8h0M79.0 623.9h0M70.9 614.0h0M77.2 622.1h0M79.8 631.1h0M85.9 624.2h0M72.6 614.0h0M76.8 617.9h0M77.2 622.8h0M73.4 613.0h0M65.6 611.1h0M82.6 632.7h0M70.4 623.2h0M77.7 624.2h0M78.0 627.3h0M85.1 625.7h0M70.8 618.5h0M70.7 614.7h0M72.5 612.7h0M64.9 615.2h0M84.4 622.6h0M72.9 612.8h0M60.4 617.4h0M72.6 624.0h0M66.8 614.6h0M84.9 626.9h0M78.1 630.5h0M64.9 619.1h0M80.8 627.6h0M67.4 611.4h0M84.7 632.0h0M79.3 631.3h0M78.9 621.0h0M81.8 626.2h0M66.3 619.2h0M81.4 629.9h0M63.2 611.8h0M80.0 623.3h0M84.8 631.0h0M76.1 621.7h0M72.5 614.2h0M81.6 628.1h0M80.8 629.8h0M74.6 618.4h0M80.5 632.1h0M65.1 612.0h0M69.4 615.4h0M81.7 630.1h0M76.2 616.2h0M84.3 630.8h0M69.8 618.8h0M81.9 635.3h0M79.2 628.4h0M84.3 629.0h0M63.3 614.4h0M62.2 615.1h0M68.2 615.4h0M64.2 612.1h0M76.6 623.8h0M73.8 622.4h0M83.0 628.1h0M74.7 622.5h0M79.2 622.3h0M80.6 626.5h0M84.6 629.0h0M79.1 635.5h0M67.1 616.6h0M68.0 620.3h0M80.2 633.5h0M68.7 614.3h0M79.3 618.3h0M75.0 615.2h0M74.2 623.9h0M66.8 619.7h0M85.4 624.3h0M72.8 617.3h0M71.4 616.8h0M73.3 618.4h0M68.3 612.2h0M85.2 631.0h0M68.6 624.2h0M75.6 620.8h0M77.6 623.6h0M78.2 619.6h0M83.4 628.4h0M69.7 623.0h0M86.9 630.5h0M86.6 630.5h0M64.1 611.0h0M76.8 620.1h0M71.0 621.3h0M63.8 611.7h0M80.3 626.1h0M70.6 614.1h0M65.6 613.7h0M68.6 613.9h0M70.4 616.6h0M87.3 624.2h0M73.5 617.8h0M88.3 629.8h0M80.5 631.2h0M75.5 623.1h0M81.9 629.8h0M65.0 620.3h0M72.8 620.8h0M78.4 630.3h0M78.8 623.5h0M76.5 623.5h0M85.2 632.7h0M79.8 629.1h0M80.8 625.1h0M84.5 627.1h0M82.6 627.0h0M83.7 626.0h0M73.0 617.3h0M85.6 628.8h0M81.5 627.1h0M66.3 613.7h0M71.0 616.3h0M80.4 623.8h0M64.3 616.7h0M71.2 625.0h0M76.8 627.3h0M72.6 621.8h0M66.1 613.8h0M66.9 616.6h0M77.8 619.6h0M77.1 622.5h0M74.0 621.3h0M70.0 612.8h0M74.7 617.2h0M80.8 625.5h0M83.0 626.4h0M68.0 611.7h0M73.7 622.0h0M70.5 615.6h0" stroke="#F0E442" stroke-width="1.90" stroke-linecap="round" fill="none" /><path d="M74.1 619.2h0M75.7 626.2h0M69.2 612.2h0M74.1 638.3h0M81.4 624.1h0M67.7 619.3h0M72.7 627.3h0M74.8 614.5h0M62.3 625.3h0M72.9 622.7h0M78.1 619.4h0M70.1 623.9h0M80.3 619.1h0M73.5 622.7h0M63.0 624.1h0M79.6 620.0h0M65.3 619.2h0M71.1 626.3h0M83.8 609.2h0M77.9 629.9h0M81.6 615.3h0M78.5 632.0h0M71.2 619.6h0M63.9 623.0h0M69.2 625.2h0M87.7 626.8h0M67.2 617.6h0M66.1 618.0h0M84.1 614.6h0M79.2 617.4h0M71.4 627.9h0M75.8 617.9h0M78.2 626.1h0M67.9 616.0h0M71.6 622.1h0M71.2 626.1h0M77.1 622.9h0M72.3 630.2h0M85.2 620.9h0M77.6 613.9h0M75.2 629.8h0M70.5 623.1h0M75.9 616.6h0M63.1 634.3h0M81.8 612.9h0M84.9 623.9h0M68.3 625.8h0M69.3 627.8h0M73.6 613.5h0M71.3 624.1h0M82.7 614.8h0M72.7 617.5h0M78.2 623.0h0M78.8 614.0h0M70.3 627.6h0M73.2 620.7h0M76.6 631.8h0M75.1 625.5h0M62.8 623.5h0M67.3 614.3h0M74.2 622.0h0M75.9 617.2h0M69.0 627.4h0M74.9 622.2h0M76.0 632.7h0M77.7 617.2h0M73.3 622.6h0M70.2 616.9h0M78.0 620.0h0M66.1 616.4h0" stroke="#009E73" stroke-width="1.80" stroke-linecap="round" fill="none" /><path d="M47.5 639.0h0M51.8 630.0h0M81.8 645.5h0M78.4 640.7h0" stroke="#F0E442" stroke-width="1.80" stroke-linecap="round" fill="none" /><path d="M64.0 686.3h0M56.5 686.8h0M71.6 685.5h0M95.4 671.7h0M94.2 686.8h0M62.8 675.5h0M65.8 687.5h0" stroke="#E69F00" stroke-width="1.80" stroke-linecap="round" fill="none" /><path d="M119.4 643.6 L124.3 641 L129 637.6 L131.5 633.8 L130.3 631.8 L126.5 632" fill="none" stroke="#009E73" stroke-width="2.6" stroke-linecap="round" stroke-linejoin="round"/><path d="M32.8 673.5h0M34.6 671.5h0M35.6 670.3h0" stroke="#009E73" stroke-width="1.80" stroke-linecap="round" fill="none" /><path d="M31.6 675.0h0" stroke="#F0E442" stroke-width="1.80" stroke-linecap="round" fill="none" /><line x1="22.6" y1="709.2" x2="22.6" y2="687.0" stroke="#000" stroke-width="0.60" /><line x1="22.3" y1="708.9" x2="44.4" y2="708.9" stroke="#000" stroke-width="0.60" /><polygon points="22.6,685.0 21.3,688.0 23.9,688.0"/><polygon points="46.4,708.9 43.4,707.6 43.4,710.2"/><text x="25.1" y="714.4" font-size="4.90" text-anchor="start" font-weight="bold" fill="#222"  stroke="#222" stroke-width="0.12">UMAP1</text><text transform="translate(20.8,706.9) rotate(-90)" font-size="4.90" text-anchor="start" font-weight="bold" fill="#222" stroke="#222" stroke-width="0.12">UMAP2</text><rect x="163.3" y="599.6" width="18.5" height="2.1" fill="#56B4E9" /><rect x="163.3" y="601.7" width="18.5" height="55.8" fill="#009E73" /><rect x="163.3" y="657.4" width="18.5" height="38.2" fill="#F0E442" /><rect x="184.2" y="599.6" width="18.5" height="3.8" fill="#E69F00" /><rect x="184.2" y="603.4" width="18.5" height="1.6" fill="#56B4E9" /><rect x="184.2" y="604.9" width="18.5" height="67.1" fill="#009E73" /><rect x="184.2" y="672.0" width="18.5" height="23.7" fill="#F0E442" /><rect x="204.8" y="599.6" width="18.5" height="0.8" fill="#56B4E9" /><rect x="204.8" y="600.4" width="18.5" height="86.4" fill="#009E73" /><rect x="204.8" y="686.8" width="18.5" height="8.8" fill="#F0E442" /><rect x="225.6" y="599.6" width="18.5" height="93.2" fill="#009E73" /><rect x="225.6" y="692.8" width="18.5" height="2.8" fill="#F0E442" /><line x1="160.8" y1="599.6" x2="160.8" y2="695.6" stroke="#333" stroke-width="0.70" /><line x1="159.7" y1="599.6" x2="160.9" y2="599.6" stroke="#333" stroke-width="0.40" /><text x="159.0" y="600.8" font-size="3.40" text-anchor="end" font-weight="normal" fill="#333"  stroke="#333" stroke-width="0.08">100</text><line x1="159.7" y1="647.4" x2="160.9" y2="647.4" stroke="#333" stroke-width="0.40" /><text x="159.0" y="648.6" font-size="3.40" text-anchor="end" font-weight="normal" fill="#333"  stroke="#333" stroke-width="0.08">50</text><line x1="159.7" y1="695.4" x2="160.9" y2="695.4" stroke="#333" stroke-width="0.40" /><text x="159.0" y="696.6" font-size="3.40" text-anchor="end" font-weight="normal" fill="#333"  stroke="#333" stroke-width="0.08">0</text><text transform="translate(152.8,644.0) rotate(-90)" font-size="5.10" text-anchor="middle" font-weight="normal" fill="#111" stroke="#111" stroke-width="0.12">Percent of cells</text><text transform="translate(175.5,699.2) rotate(-45)" font-size="5.20" text-anchor="end" font-weight="normal" fill="#444" stroke="#444" stroke-width="0.12">PBS+diluent</text><text transform="translate(196.2,699.2) rotate(-45)" font-size="5.20" text-anchor="end" font-weight="normal" fill="#444" stroke="#444" stroke-width="0.12">PBS+IL7</text><text transform="translate(217.0,699.2) rotate(-45)" font-size="5.20" text-anchor="end" font-weight="normal" fill="#444" stroke="#444" stroke-width="0.12">ZIKV+diluent</text><text transform="translate(237.7,699.2) rotate(-45)" font-size="5.20" text-anchor="end" font-weight="normal" fill="#444" stroke="#444" stroke-width="0.12">ZIKV+IL7</text><rect x="252.5" y="636.6" width="5.5" height="5.5" fill="#E69F00" /><text x="259.3" y="641.1" font-size="5.15" text-anchor="start" font-weight="normal" fill="#000"  stroke="#000" stroke-width="0.12">NaiveLike</text><rect x="252.5" y="642.2" width="5.5" height="5.5" fill="#56B4E9" /><text x="259.3" y="646.8" font-size="5.15" text-anchor="start" font-weight="normal" fill="#000"  stroke="#000" stroke-width="0.12">Tfh</text><rect x="252.5" y="647.9" width="5.5" height="5.5" fill="#009E73" /><text x="259.3" y="652.4" font-size="5.15" text-anchor="start" font-weight="normal" fill="#000"  stroke="#000" stroke-width="0.12">Th1</text><rect x="252.5" y="653.6" width="5.5" height="5.5" fill="#F0E442" /><text x="259.3" y="658.1" font-size="5.15" text-anchor="start" font-weight="normal" fill="#000"  stroke="#000" stroke-width="0.12">Treg</text></g>
<g id="pH"><text x="283.6" y="583.1" font-size="9.90" text-anchor="start" font-weight="bold" fill="#000"  stroke="#000" stroke-width="0.24">H</text><text x="312.1" y="598.1" font-size="9.00" text-anchor="start" font-weight="bold" fill="#000"  stroke="#000" stroke-width="0.22">Tnfrsf9</text><line x1="313.1" y1="603.2" x2="313.1" y2="693.7" stroke="#777" stroke-width="0.60" /><line x1="312.9" y1="693.5" x2="419.3" y2="693.5" stroke="#777" stroke-width="0.60" /><line x1="311.8" y1="622.2" x2="313.1" y2="622.2" stroke="#777" stroke-width="0.40" /><text x="310.4" y="623.5" font-size="3.80" text-anchor="end" font-weight="normal" fill="#222"  stroke="#222" stroke-width="0.09">3</text><line x1="311.8" y1="644.6" x2="313.1" y2="644.6" stroke="#777" stroke-width="0.40" /><text x="310.4" y="645.9" font-size="3.80" text-anchor="end" font-weight="normal" fill="#222"  stroke="#222" stroke-width="0.09">2</text><line x1="311.8" y1="666.9" x2="313.1" y2="666.9" stroke="#777" stroke-width="0.40" /><text x="310.4" y="668.2" font-size="3.80" text-anchor="end" font-weight="normal" fill="#222"  stroke="#222" stroke-width="0.09">1</text><line x1="311.8" y1="689.3" x2="313.1" y2="689.3" stroke="#777" stroke-width="0.40" /><text x="310.4" y="690.6" font-size="3.80" text-anchor="end" font-weight="normal" fill="#222"  stroke="#222" stroke-width="0.09">0</text><text transform="translate(305.3,645.3) rotate(-90)" font-size="5.00" text-anchor="middle" font-weight="normal" fill="#222" stroke="#222" stroke-width="0.12">Expression level</text><line x1="328.5" y1="622.7" x2="328.5" y2="689.3" stroke="#111" stroke-width="0.90" /><rect x="325.7" y="633.5" width="5.6" height="25.1" fill="#E69F00" stroke="#111" stroke-width="0.9"/><line x1="325.7" y1="649.6" x2="331.3" y2="649.6" stroke="#111" stroke-width="1.50" /><line x1="353.6" y1="607.7" x2="353.6" y2="673.5" stroke="#111" stroke-width="0.90" /><rect x="350.8" y="630.3" width="5.6" height="23.1" fill="#56B4E9" stroke="#111" stroke-width="0.9"/><line x1="350.8" y1="640.3" x2="356.4" y2="640.3" stroke="#111" stroke-width="1.50" /><line x1="379.2" y1="611.4" x2="379.2" y2="689.3" stroke="#111" stroke-width="0.90" /><rect x="376.4" y="637.8" width="5.6" height="36.7" fill="#009E73" stroke="#111" stroke-width="0.9"/><line x1="376.4" y1="649.6" x2="382.0" y2="649.6" stroke="#111" stroke-width="1.50" /><line x1="404.3" y1="618.2" x2="404.3" y2="689.5" stroke="#111" stroke-width="0.90" /><rect x="401.5" y="658.1" width="5.6" height="31.4" fill="#F0E442" stroke="#111" stroke-width="0.9"/><line x1="401.5" y1="674.0" x2="407.1" y2="674.0" stroke="#111" stroke-width="1.50" /><path d="M353.6 689.3h0" stroke="#111" stroke-width="1.70" stroke-linecap="round" fill="none" /><line x1="328.5" y1="693.5" x2="328.5" y2="694.8" stroke="#777" stroke-width="0.40" /><text transform="translate(332.0,698.2) rotate(-45)" font-size="5.10" text-anchor="end" font-weight="normal" fill="#444" stroke="#444" stroke-width="0.12">PBS+diluent</text><line x1="353.6" y1="693.5" x2="353.6" y2="694.8" stroke="#777" stroke-width="0.40" /><text transform="translate(357.1,698.2) rotate(-45)" font-size="5.10" text-anchor="end" font-weight="normal" fill="#444" stroke="#444" stroke-width="0.12">PBS+IL7</text><line x1="379.2" y1="693.5" x2="379.2" y2="694.8" stroke="#777" stroke-width="0.40" /><text transform="translate(382.7,698.2) rotate(-45)" font-size="5.10" text-anchor="end" font-weight="normal" fill="#444" stroke="#444" stroke-width="0.12">ZIKV+diluent</text><line x1="404.3" y1="693.5" x2="404.3" y2="694.8" stroke="#777" stroke-width="0.40" /><text transform="translate(407.8,698.2) rotate(-45)" font-size="5.10" text-anchor="end" font-weight="normal" fill="#444" stroke="#444" stroke-width="0.12">ZIKV+IL7</text></g>
<g id="pI"><text x="440.4" y="583.4" font-size="9.50" text-anchor="start" font-weight="normal" fill="#000" stroke="#000" stroke-width="0.42">I</text><text x="494.1" y="586.8" font-size="7.90" text-anchor="middle" font-weight="bold" fill="#000"  stroke="#000" stroke-width="0.19">Day 21 SB28</text><text x="494.1" y="596.5" font-size="7.90" text-anchor="middle" font-weight="bold" fill="#000"  stroke="#000" stroke-width="0.19">Brain - Treg</text><line x1="461.0" y1="610.6" x2="461.0" y2="696.0" stroke="#000" stroke-width="1.10" /><line x1="460.4" y1="695.5" x2="526.7" y2="695.5" stroke="#000" stroke-width="1.10" /><line x1="457.0" y1="611.1" x2="461.0" y2="611.1" stroke="#000" stroke-width="1.10" /><text x="455.8" y="613.3" font-size="6.20" text-anchor="end" font-weight="bold" fill="#000"  stroke="#000" stroke-width="0.15">20</text><line x1="457.0" y1="632.2" x2="461.0" y2="632.2" stroke="#000" stroke-width="1.10" /><text x="455.8" y="634.4" font-size="6.20" text-anchor="end" font-weight="bold" fill="#000"  stroke="#000" stroke-width="0.15">15</text><line x1="457.0" y1="653.4" x2="461.0" y2="653.4" stroke="#000" stroke-width="1.10" /><text x="455.8" y="655.6" font-size="6.20" text-anchor="end" font-weight="bold" fill="#000"  stroke="#000" stroke-width="0.15">10</text><line x1="457.0" y1="674.5" x2="461.0" y2="674.5" stroke="#000" stroke-width="1.10" /><text x="455.8" y="676.7" font-size="6.20" text-anchor="end" font-weight="bold" fill="#000"  stroke="#000" stroke-width="0.15">5</text><line x1="457.0" y1="695.5" x2="461.0" y2="695.5" stroke="#000" stroke-width="1.10" /><text x="455.8" y="697.7" font-size="6.20" text-anchor="end" font-weight="bold" fill="#000"  stroke="#000" stroke-width="0.15">0</text><text transform="translate(445.8,653.3) rotate(-90)" font-size="6.70" text-anchor="middle" font-weight="bold" fill="#000" stroke="#000" stroke-width="0.16">% of CD4+ cells</text><line x1="471.5" y1="651.1" x2="471.5" y2="664.6" stroke="#000" stroke-width="0.65" /><line x1="468.8" y1="651.1" x2="474.2" y2="651.1" stroke="#000" stroke-width="0.65" /><rect x="467.0" y="664.9" width="9.0" height="30.6" fill="#6E6A6B" stroke="#000" stroke-width="1.2"/><path d="M471.4 645.3h0M471.4 667.3h0M471.4 670.7h0M471.4 674.3h0" stroke="#000" stroke-width="3.00" stroke-linecap="round" fill="none" /><line x1="486.4" y1="643.3" x2="486.4" y2="660.4" stroke="#FF2A12" stroke-width="0.65" /><line x1="483.7" y1="643.3" x2="489.1" y2="643.3" stroke="#FF2A12" stroke-width="0.65" /><rect x="482.1" y="660.7" width="8.5" height="34.8" fill="#F5997E" stroke="#FF2A12" stroke-width="1.2"/><path d="M483.3 643.3h0M489.4 644.2h0M489.4 664.0h0M483.3 674.5h0M489.4 674.1h0" stroke="#FF2A12" stroke-width="3.00" stroke-linecap="round" fill="none" /><rect x="497.2" y="688.6" width="8.4" height="6.9" fill="#fff" stroke="#000" stroke-width="1.2"/><path d="M497.1 688.8h0M497.9 687.4h0M499.4 686.3h0M501.1 685.9h0M502.9 686.4h0M504.5 687.4h0M505.4 688.8h0" stroke="#000" stroke-width="3.00" stroke-linecap="round" fill="none" /><rect x="512.0" y="692.4" width="8.5" height="3.1" fill="#fff" stroke="#FF2A12" stroke-width="1.2"/><path d="M512.1 691.9h0M513.1 690.5h0M514.6 689.6h0M516.3 689.8h0M518.1 690.1h0M519.7 691.2h0M520.5 692.3h0M516.3 691.9h0" stroke="#FF2A12" stroke-width="3.00" stroke-linecap="round" fill="none" /><path d="M471.3 628.2 V617.0 H516.6 V620.9" fill="none" stroke="#000" stroke-width="0.85"/><text x="494.0" y="617.4" font-size="6.20" text-anchor="middle" font-weight="bold" fill="#000"  stroke="#000" stroke-width="0.15">**</text><path d="M486.3 625.8 V622.6 H516.6 V687.0" fill="none" stroke="#000" stroke-width="0.85"/><text x="501.5" y="623.0" font-size="6.20" text-anchor="middle" font-weight="bold" fill="#000"  stroke="#000" stroke-width="0.15">***</text><path d="M471.3 639.1 V631.7 H501.6 V634.3" fill="none" stroke="#000" stroke-width="0.85"/><text x="486.5" y="632.1" font-size="6.20" text-anchor="middle" font-weight="bold" fill="#000"  stroke="#000" stroke-width="0.15">*</text><path d="M486.3 640.2 V637.3 H501.6 V684.0" fill="none" stroke="#000" stroke-width="0.85"/><text x="494.0" y="637.6" font-size="6.20" text-anchor="middle" font-weight="bold" fill="#000"  stroke="#000" stroke-width="0.15">**</text><text transform="translate(474.2,699.9) rotate(-45)" font-size="6.70" text-anchor="end" font-weight="bold" fill="#000" stroke="#000" stroke-width="0.16">PBS+diluent</text><text transform="translate(489.1,699.9) rotate(-45)" font-size="6.70" text-anchor="end" font-weight="bold" fill="#000" stroke="#000" stroke-width="0.16">PBS+IL7</text><text transform="translate(504.2,699.9) rotate(-45)" font-size="6.70" text-anchor="end" font-weight="bold" fill="#000" stroke="#000" stroke-width="0.16">ZIKV+diluent</text><text transform="translate(519.1,699.9) rotate(-45)" font-size="6.70" text-anchor="end" font-weight="bold" fill="#000" stroke="#000" stroke-width="0.16">ZIKV+IL7</text></g>
<g id="pJ"><text x="550.1" y="583.4" font-size="9.50" text-anchor="start" font-weight="normal" fill="#000" stroke="#000" stroke-width="0.42">J</text><text x="600.6" y="585.3" font-size="7.90" text-anchor="middle" font-weight="bold" fill="#000"  stroke="#000" stroke-width="0.19">Day 21 CT2A</text><text x="600.6" y="594.9" font-size="7.90" text-anchor="middle" font-weight="bold" fill="#000"  stroke="#000" stroke-width="0.19">Brain - Treg</text><line x1="567.5" y1="611.1" x2="567.5" y2="696.0" stroke="#000" stroke-width="1.10" /><line x1="567.0" y1="695.5" x2="631.7" y2="695.5" stroke="#000" stroke-width="1.10" /><line x1="563.5" y1="611.6" x2="567.5" y2="611.6" stroke="#000" stroke-width="1.10" /><text x="562.3" y="613.8" font-size="6.20" text-anchor="end" font-weight="bold" fill="#000"  stroke="#000" stroke-width="0.15">50</text><line x1="563.5" y1="628.5" x2="567.5" y2="628.5" stroke="#000" stroke-width="1.10" /><text x="562.3" y="630.7" font-size="6.20" text-anchor="end" font-weight="bold" fill="#000"  stroke="#000" stroke-width="0.15">40</text><line x1="563.5" y1="645.4" x2="567.5" y2="645.4" stroke="#000" stroke-width="1.10" /><text x="562.3" y="647.6" font-size="6.20" text-anchor="end" font-weight="bold" fill="#000"  stroke="#000" stroke-width="0.15">30</text><line x1="563.5" y1="662.2" x2="567.5" y2="662.2" stroke="#000" stroke-width="1.10" /><text x="562.3" y="664.4" font-size="6.20" text-anchor="end" font-weight="bold" fill="#000"  stroke="#000" stroke-width="0.15">20</text><line x1="563.5" y1="678.9" x2="567.5" y2="678.9" stroke="#000" stroke-width="1.10" /><text x="562.3" y="681.1" font-size="6.20" text-anchor="end" font-weight="bold" fill="#000"  stroke="#000" stroke-width="0.15">10</text><line x1="563.5" y1="695.5" x2="567.5" y2="695.5" stroke="#000" stroke-width="1.10" /><text x="562.3" y="697.7" font-size="6.20" text-anchor="end" font-weight="bold" fill="#000"  stroke="#000" stroke-width="0.15">0</text><text transform="translate(552.3,653.3) rotate(-90)" font-size="6.70" text-anchor="middle" font-weight="bold" fill="#000" stroke="#000" stroke-width="0.16">% of CD4+ cells</text><line x1="578.0" y1="629.6" x2="578.0" y2="649.0" stroke="#000" stroke-width="0.65" /><line x1="575.2" y1="629.6" x2="580.7" y2="629.6" stroke="#000" stroke-width="0.65" /><rect x="573.7" y="649.3" width="8.5" height="46.2" fill="#6E6A6B" stroke="#000" stroke-width="1.2"/><path d="M577.9 625.3h0M577.9 645.4h0M577.9 650.5h0M577.9 673.0h0" stroke="#000" stroke-width="3.00" stroke-linecap="round" fill="none" /><line x1="592.8" y1="635.4" x2="592.8" y2="643.8" stroke="#FF2A12" stroke-width="0.65" /><line x1="590.0" y1="635.4" x2="595.5" y2="635.4" stroke="#FF2A12" stroke-width="0.65" /><rect x="588.4" y="644.1" width="8.7" height="51.4" fill="#F5997E" stroke="#FF2A12" stroke-width="1.2"/><path d="M589.1 639.3h0M595.6 639.3h0M592.3 637.0h0M592.7 643.3h0M592.7 656.8h0" stroke="#FF2A12" stroke-width="3.00" stroke-linecap="round" fill="none" /><rect x="603.4" y="689.8" width="8.5" height="5.7" fill="#fff" stroke="#000" stroke-width="1.2"/><path d="M604.0 689.5h0M605.2 687.7h0M606.8 686.4h0M608.5 685.8h0M610.0 686.6h0M611.1 688.1h0M611.8 689.8h0" stroke="#000" stroke-width="3.00" stroke-linecap="round" fill="none" /><rect x="618.1" y="694.0" width="8.7" height="1.5" fill="#fff" stroke="#FF2A12" stroke-width="1.2"/><path d="M619.3 693.8h0M620.9 692.4h0M622.6 691.1h0M624.4 692.4h0M626.1 693.8h0M622.6 694.0h0" stroke="#FF2A12" stroke-width="3.00" stroke-linecap="round" fill="none" /><path d="M577.9 612.9 V602.1 H622.7 V605.5" fill="none" stroke="#000" stroke-width="0.85"/><text x="600.3" y="602.5" font-size="6.20" text-anchor="middle" font-weight="bold" fill="#000"  stroke="#000" stroke-width="0.15">****</text><path d="M592.7 615.0 V610.7 H622.7 V689.9" fill="none" stroke="#000" stroke-width="0.85"/><text x="607.7" y="611.1" font-size="6.20" text-anchor="middle" font-weight="bold" fill="#000"  stroke="#000" stroke-width="0.15">****</text><path d="M577.9 621.3 V618.6 H607.8 V621.7" fill="none" stroke="#000" stroke-width="0.85"/><text x="592.8" y="619.0" font-size="6.20" text-anchor="middle" font-weight="bold" fill="#000"  stroke="#000" stroke-width="0.15">****</text><path d="M592.7 632.1 V626.9 H607.8 V685.4" fill="none" stroke="#000" stroke-width="0.85"/><text x="600.2" y="627.2" font-size="6.20" text-anchor="middle" font-weight="bold" fill="#000"  stroke="#000" stroke-width="0.15">****</text><text transform="translate(580.7,699.9) rotate(-45)" font-size="6.70" text-anchor="end" font-weight="bold" fill="#000" stroke="#000" stroke-width="0.16">PBS+diluent</text><text transform="translate(595.5,699.9) rotate(-45)" font-size="6.70" text-anchor="end" font-weight="bold" fill="#000" stroke="#000" stroke-width="0.16">PBS+IL7</text><text transform="translate(610.5,699.9) rotate(-45)" font-size="6.70" text-anchor="end" font-weight="bold" fill="#000" stroke="#000" stroke-width="0.16">ZIKV+diluent</text><text transform="translate(625.3,699.9) rotate(-45)" font-size="6.70" text-anchor="end" font-weight="bold" fill="#000" stroke="#000" stroke-width="0.16">ZIKV+IL7</text></g>
</svg>
</body></html>
